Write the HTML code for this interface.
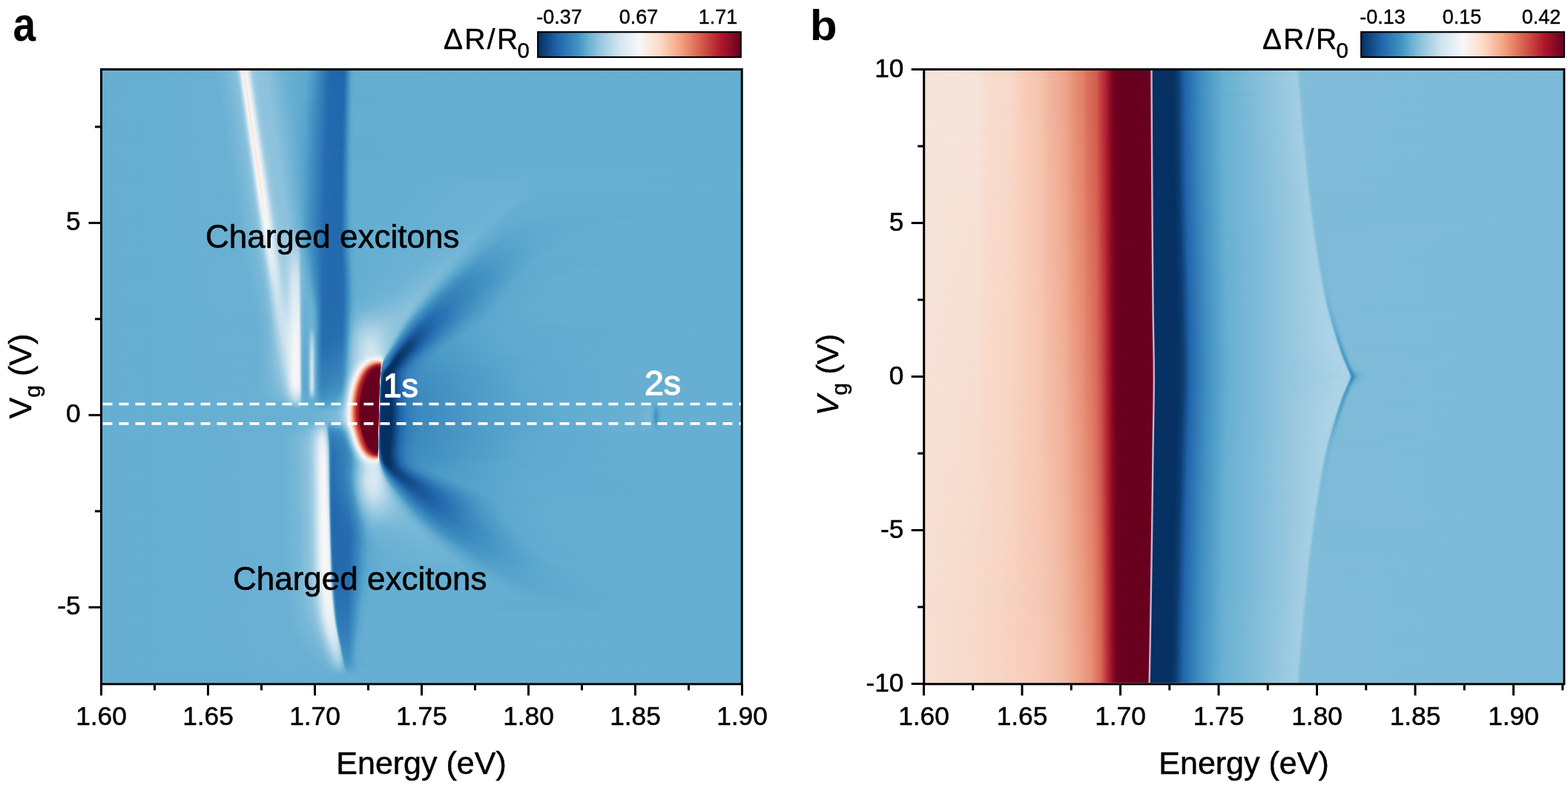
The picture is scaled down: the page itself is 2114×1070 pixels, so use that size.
<!DOCTYPE html>
<html><head><meta charset="utf-8"><title>Figure</title>
<style>
html,body{margin:0;padding:0;background:#fff;width:2114px;height:1070px;overflow:hidden}
.ov{position:absolute;left:0;top:0}
.hm{position:absolute;overflow:hidden}
.hm div{width:100%}
</style></head><body>
<div class="hm" style="left:138px;top:95px;width:861px;height:825px">
<div style="height:2px;background:linear-gradient(90deg,#66afd2 0px,#69b0d3 152.5px,#7ab9d7 171.5px,#87bfdb 179.5px,#9ac9e0 182.5px,#b8d8e9 184.5px,#cee3ef 185.5px,#f7f6f6 188.5px,#fbe5d8 190.5px,#f8f2ef 192.5px,#f7f7f6 193.5px,#d4e7f1 197.5px,#aed3e6 200.5px,#97c8e0 203.5px,#8ec3dd 207.5px,#8bc1dc 221.5px,#6cb2d4 243.5px,#5fa9cf 275.5px,#4b99c6 285.5px,#337eb8 296.5px,#2268ad 307.5px,#2166ac 325.5px,#2c74b3 328.5px,#4292c3 332.5px,#5aa5cd 335.5px,#64aed1 339.5px,#66afd2 861px)"></div>
<div style="height:2px;background:linear-gradient(90deg,#66afd2 0px,#69b0d3 153.5px,#7bb9d8 172.5px,#89c1dc 180.5px,#98c8e0 182.5px,#b3d6e7 184.5px,#d9e9f1 186.5px,#f4f6f7 188.5px,#f8f0ec 189.5px,#fbe7db 190.5px,#fae8dd 191.5px,#f8f1ec 192.5px,#f7f5f4 193.5px,#eaf1f5 195.5px,#cce2ee 198.5px,#a7cfe4 201.5px,#94c6df 204.5px,#8dc3dd 209.5px,#8bc1dc 221.5px,#6cb2d4 243.5px,#5fa9cf 275.5px,#4a99c6 285.5px,#2a71b2 301.5px,#2166ac 310.5px,#2166ac 325.5px,#2c75b4 328.5px,#4393c3 332.5px,#5aa5cd 335.5px,#64aed1 339.5px,#66afd2 861px)"></div>
<div style="height:2px;background:linear-gradient(90deg,#66afd2 0px,#69b0d3 153.5px,#7ab9d8 172.5px,#88c0db 180.5px,#95c7df 182.5px,#aed3e6 184.5px,#d5e7f1 186.5px,#f1f4f6 188.5px,#f8f3f0 189.5px,#fae9df 190.5px,#fbe6d9 191.5px,#f9efe9 192.5px,#f8f4f2 193.5px,#f5f6f7 194.5px,#d0e4f0 198.5px,#a9d1e5 201.5px,#95c7df 204.5px,#8dc3dd 209.5px,#8ac1dc 222.5px,#6bb2d3 244.5px,#5ea9cf 275.5px,#4a98c6 285.5px,#2b74b3 300.5px,#2166ac 309.5px,#2167ac 325.5px,#2d75b4 328.5px,#4393c3 332.5px,#5aa6cd 335.5px,#64aed1 339.5px,#66afd2 861px)"></div>
<div style="height:2px;background:linear-gradient(90deg,#66afd2 0px,#69b0d3 153.5px,#7ab9d7 172.5px,#87c0db 180.5px,#9ccae1 183.5px,#bbdaea 185.5px,#d1e5f0 186.5px,#edf2f5 188.5px,#f7f5f4 189.5px,#fbe5d8 191.5px,#f8f3f0 193.5px,#f6f7f7 194.5px,#d3e6f0 198.5px,#acd2e5 201.5px,#97c7df 204.5px,#8dc3dd 209.5px,#8ac1dc 222.5px,#6bb2d3 244.5px,#5ea9cf 275.5px,#4998c6 285.5px,#286fb1 302.5px,#2166ac 311.5px,#2267ac 325.5px,#2d76b4 328.5px,#4393c3 332.5px,#5aa6cd 335.5px,#64aed1 339.5px,#66afd2 861px)"></div>
<div style="height:2px;background:linear-gradient(90deg,#66afd2 0px,#69b0d3 153.5px,#7ab9d7 172.5px,#86bfdb 180.5px,#99c9e0 183.5px,#b6d7e8 185.5px,#dbeaf2 187.5px,#f6f7f7 189.5px,#fbe6d9 191.5px,#fae9df 192.5px,#f8f2ee 193.5px,#f7f6f5 194.5px,#e0ecf3 197.5px,#a5cfe4 202.5px,#94c6df 205.5px,#8dc3dd 210.5px,#8bc1dc 222.5px,#6cb2d4 244.5px,#5ea8ce 275.5px,#4998c5 285.5px,#246aae 305.5px,#2166ac 320.5px,#2267ac 325.5px,#2d76b4 328.5px,#4494c3 332.5px,#5ba6cd 335.5px,#64aed1 339.5px,#66afd2 861px)"></div>
<div style="height:2px;background:linear-gradient(90deg,#66afd2 0px,#69b0d3 154.5px,#7bb9d8 173.5px,#89c0db 181.5px,#96c7df 183.5px,#b0d4e7 185.5px,#d7e8f1 187.5px,#f3f5f6 189.5px,#f8f2ee 190.5px,#fae8dd 191.5px,#fbe7db 192.5px,#f9f0ea 193.5px,#f7f5f3 194.5px,#ecf2f5 196.5px,#cee3ef 199.5px,#a8d0e4 202.5px,#95c7df 205.5px,#8dc3dd 210.5px,#8bc2dc 222.5px,#6bb2d3 245.5px,#5fa9cf 274.5px,#4b99c6 284.5px,#347fb9 295.5px,#2368ad 306.5px,#2267ad 325.5px,#2d76b4 328.5px,#4494c4 332.5px,#5ba6cd 335.5px,#65aed1 339.5px,#66afd2 861px)"></div>
<div style="height:2px;background:linear-gradient(90deg,#66afd2 0px,#69b0d3 154.5px,#7ab9d8 173.5px,#88c0db 181.5px,#94c6df 183.5px,#acd2e5 185.5px,#d3e6f0 187.5px,#eff3f6 189.5px,#f8f4f2 190.5px,#faeae2 191.5px,#fbe5d8 192.5px,#f8f4f1 194.5px,#f6f6f7 195.5px,#d2e5f0 199.5px,#abd2e5 202.5px,#96c7df 205.5px,#8dc3dd 210.5px,#8ac1dc 223.5px,#6bb2d3 245.5px,#5ea9cf 274.5px,#4b99c6 284.5px,#2c75b4 299.5px,#2267ac 308.5px,#2267ad 325.5px,#2e77b5 328.5px,#4595c4 332.5px,#5ba6cd 335.5px,#65aed1 339.5px,#66afd2 861px)"></div>
<div style="height:2px;background:linear-gradient(90deg,#66afd2 0px,#69b0d3 154.5px,#7ab9d7 173.5px,#87bfdb 181.5px,#9ac9e0 184.5px,#b8d8e9 186.5px,#cee3ef 187.5px,#f7f6f6 190.5px,#fbe5d8 192.5px,#f8f2ef 194.5px,#f7f7f6 195.5px,#d4e7f1 199.5px,#aed3e6 202.5px,#97c8e0 205.5px,#8ec3dd 209.5px,#8bc1dc 223.5px,#6cb2d4 245.5px,#5ea9cf 274.5px,#4a99c6 284.5px,#2970b1 301.5px,#2166ac 310.5px,#2267ad 325.5px,#2e77b5 328.5px,#4595c4 332.5px,#5ba6cd 335.5px,#65aed1 339.5px,#66afd2 861px)"></div>
<div style="height:2px;background:linear-gradient(90deg,#66afd2 0px,#69b0d3 155.5px,#7bb9d8 174.5px,#89c1dc 182.5px,#98c8e0 184.5px,#b3d6e7 186.5px,#d9e9f2 188.5px,#f4f6f7 190.5px,#f8f0ec 191.5px,#fbe7db 192.5px,#fae8dd 193.5px,#f8f1ec 194.5px,#f7f5f4 195.5px,#eaf1f5 197.5px,#cce2ee 200.5px,#a7d0e4 203.5px,#95c6df 206.5px,#8dc3dd 211.5px,#8bc1dc 223.5px,#6bb1d3 246.5px,#5ea9cf 274.5px,#4998c6 284.5px,#2a72b2 300.5px,#2166ac 309.5px,#2267ad 325.5px,#2e78b5 328.5px,#4695c4 332.5px,#5ba7cd 335.5px,#65aed2 340.5px,#66afd2 861px)"></div>
<div style="height:2px;background:linear-gradient(90deg,#66afd2 0px,#69b0d3 155.5px,#7ab9d8 174.5px,#88c0db 182.5px,#95c7df 184.5px,#aed3e6 186.5px,#d5e7f1 188.5px,#f1f4f6 190.5px,#f8f3f0 191.5px,#fae9df 192.5px,#fbe6d9 193.5px,#f9efe8 194.5px,#f8f4f2 195.5px,#f5f6f7 196.5px,#d0e5f0 200.5px,#a9d1e5 203.5px,#96c7df 206.5px,#8dc3dd 211.5px,#8ac1dc 224.5px,#6bb2d3 246.5px,#5ea8ce 274.5px,#4998c6 284.5px,#246bae 304.5px,#2166ac 316.5px,#2268ad 325.5px,#2f78b5 328.5px,#4696c4 332.5px,#5ca7ce 335.5px,#65aed2 340.5px,#66afd2 861px)"></div>
<div style="height:2px;background:linear-gradient(90deg,#66afd2 0px,#69b0d3 155.5px,#7ab9d7 174.5px,#87c0db 182.5px,#9ccae1 185.5px,#bbdaea 187.5px,#d1e5f0 188.5px,#edf2f5 190.5px,#f7f5f4 191.5px,#fbe5d8 193.5px,#f8f3f0 195.5px,#f7f7f7 196.5px,#d3e6f0 200.5px,#acd2e6 203.5px,#97c7df 206.5px,#8dc3dd 211.5px,#8ac1dc 224.5px,#6bb2d3 246.5px,#5da8ce 274.5px,#4897c5 284.5px,#246aae 304.5px,#2166ac 316.5px,#2268ad 325.5px,#2f79b5 328.5px,#4796c5 332.5px,#5ca7ce 335.5px,#65aed2 340.5px,#66afd2 861px)"></div>
<div style="height:2px;background:linear-gradient(90deg,#66afd2 0px,#69b0d3 155.5px,#7ab9d7 174.5px,#86bfdb 182.5px,#99c9e0 185.5px,#b6d7e8 187.5px,#dbeaf2 189.5px,#f6f7f7 191.5px,#fbe6da 193.5px,#fae9df 194.5px,#f8f2ee 195.5px,#f7f6f5 196.5px,#e0ecf3 199.5px,#a6cfe4 204.5px,#94c6df 207.5px,#8dc3dd 212.5px,#8bc1dc 224.5px,#6cb2d4 246.5px,#5da8ce 274.5px,#4897c5 284.5px,#246aae 304.5px,#2166ac 317.5px,#2268ad 325.5px,#3581ba 329.5px,#57a3cc 334.5px,#64add1 338.5px,#66afd2 861px)"></div>
<div style="height:2px;background:linear-gradient(90deg,#66afd2 0px,#69b0d3 156.5px,#7bb9d8 175.5px,#89c0db 183.5px,#96c7df 185.5px,#b1d5e7 187.5px,#d7e8f1 189.5px,#f3f5f6 191.5px,#f8f2ee 192.5px,#fae8dd 193.5px,#fae7db 194.5px,#f9f0ea 195.5px,#f7f5f3 196.5px,#ecf2f5 198.5px,#cee3ef 201.5px,#a8d0e4 204.5px,#95c7df 207.5px,#8dc3dd 212.5px,#8bc2dc 224.5px,#6bb2d3 247.5px,#5da8ce 274.5px,#4796c5 284.5px,#246aae 304.5px,#2166ac 317.5px,#2368ad 325.5px,#3581ba 329.5px,#57a3cc 334.5px,#64add1 338.5px,#66afd2 861px)"></div>
<div style="height:2px;background:linear-gradient(90deg,#66afd2 0px,#69b0d3 156.5px,#7ab9d8 175.5px,#88c0db 183.5px,#94c6df 185.5px,#acd2e5 187.5px,#d3e6f0 189.5px,#eff3f6 191.5px,#f8f4f2 192.5px,#faebe2 193.5px,#fbe5d9 194.5px,#f8f4f1 196.5px,#f6f6f7 197.5px,#d2e5f0 201.5px,#abd2e5 204.5px,#96c7df 207.5px,#8dc3dd 212.5px,#8ac1dc 225.5px,#6bb2d3 247.5px,#5da7ce 274.5px,#4796c5 284.5px,#246aae 304.5px,#2166ac 318.5px,#2368ad 325.5px,#3681ba 329.5px,#4897c5 332.5px,#5ca7ce 335.5px,#65aed2 340.5px,#66afd2 861px)"></div>
<div style="height:2px;background:linear-gradient(90deg,#66afd2 0px,#69b0d3 156.5px,#7ab9d7 175.5px,#87bfdb 183.5px,#9bc9e0 186.5px,#b9d9e9 188.5px,#cee3ef 189.5px,#f7f6f6 192.5px,#fbe5d9 194.5px,#f7f7f6 197.5px,#d5e7f1 201.5px,#aed3e6 204.5px,#98c8e0 207.5px,#8ec3dd 211.5px,#8bc1dc 225.5px,#6bb2d3 247.5px,#5ea8ce 273.5px,#4998c6 283.5px,#2971b2 300.5px,#2166ac 309.5px,#2369ad 325.5px,#3682ba 329.5px,#4998c5 332.5px,#5da7ce 335.5px,#65aed2 340.5px,#66afd2 861px)"></div>
<div style="height:2px;background:linear-gradient(90deg,#66afd2 0px,#69b0d3 157.5px,#7bb9d8 176.5px,#89c1dc 184.5px,#98c8e0 186.5px,#b3d6e7 188.5px,#d9e9f2 190.5px,#f4f6f7 192.5px,#f8f1ec 193.5px,#fae7db 194.5px,#fae8dd 195.5px,#f8f1ec 196.5px,#f7f5f4 197.5px,#eaf1f5 199.5px,#cce2ef 202.5px,#a7d0e4 205.5px,#95c6df 208.5px,#8dc3dd 213.5px,#8bc1dc 225.5px,#6bb1d3 248.5px,#5da8ce 273.5px,#4998c5 283.5px,#256baf 303.5px,#2166ac 314.5px,#2369ad 325.5px,#3682ba 329.5px,#4998c6 332.5px,#5da8ce 335.5px,#65aed2 340.5px,#66afd2 861px)"></div>
<div style="height:2px;background:linear-gradient(90deg,#66afd2 0px,#69b0d3 157.5px,#7ab9d8 176.5px,#88c0db 184.5px,#95c7df 186.5px,#aed3e6 188.5px,#d5e7f1 190.5px,#f1f4f6 192.5px,#f8f3f0 193.5px,#fae9df 194.5px,#fbe6da 195.5px,#f9eee8 196.5px,#f8f4f2 197.5px,#f5f6f7 198.5px,#d0e5f0 202.5px,#aad1e5 205.5px,#96c7df 208.5px,#8dc3dd 213.5px,#8ac1dc 226.5px,#6bb2d3 248.5px,#5da8ce 273.5px,#4897c5 283.5px,#246aae 304.5px,#2166ac 320.5px,#2369ad 325.5px,#3783bb 329.5px,#4998c6 332.5px,#5da8ce 335.5px,#65aed2 340.5px,#66afd2 861px)"></div>
<div style="height:2px;background:linear-gradient(90deg,#66afd2 0px,#69b0d3 157.5px,#7ab9d7 176.5px,#87c0db 184.5px,#9ccae1 187.5px,#bbdaea 189.5px,#d1e5f0 190.5px,#edf2f5 192.5px,#f7f5f4 193.5px,#fbe5d8 195.5px,#f8f3f0 197.5px,#f7f7f7 198.5px,#d3e6f0 202.5px,#add3e6 205.5px,#97c8df 208.5px,#8dc3dd 213.5px,#8bc1dc 226.5px,#6bb2d3 248.5px,#5da8ce 273.5px,#4897c5 283.5px,#246aae 304.5px,#2166ac 322.5px,#2369ae 325.5px,#4291c2 331.5px,#58a4cc 334.5px,#64add1 338.5px,#66afd2 861px)"></div>
<div style="height:2px;background:linear-gradient(90deg,#66afd2 0px,#69b0d3 157.5px,#7ab9d7 176.5px,#86bfdb 184.5px,#99c9e0 187.5px,#b6d7e8 189.5px,#dbeaf2 191.5px,#f6f7f7 193.5px,#fbe6da 195.5px,#fae9df 196.5px,#f8f1ed 197.5px,#f7f6f5 198.5px,#e0ecf3 201.5px,#a6cfe4 206.5px,#94c6df 209.5px,#8dc3dd 214.5px,#8bc1dc 226.5px,#6cb2d4 248.5px,#5da7ce 273.5px,#4797c5 283.5px,#246aae 304.5px,#2166ac 323.5px,#276eb0 326.5px,#4291c2 331.5px,#59a4cc 334.5px,#64add1 338.5px,#66afd2 861px)"></div>
<div style="height:2px;background:linear-gradient(90deg,#66afd2 0px,#69b0d3 158.5px,#7bb9d8 177.5px,#89c0dc 185.5px,#97c7df 187.5px,#b1d5e7 189.5px,#d7e8f1 191.5px,#f3f5f6 193.5px,#f8f2ee 194.5px,#fae8dd 195.5px,#fae7db 196.5px,#f9f0ea 197.5px,#f7f5f3 198.5px,#ecf2f5 200.5px,#cfe4ef 203.5px,#a9d0e4 206.5px,#95c7df 209.5px,#8dc3dd 214.5px,#8bc2dc 226.5px,#6bb1d3 249.5px,#5ca7ce 273.5px,#4796c5 283.5px,#246aae 304.5px,#2166ac 323.5px,#276eb0 326.5px,#4292c2 331.5px,#59a4cc 334.5px,#64add1 338.5px,#66afd2 861px)"></div>
<div style="height:2px;background:linear-gradient(90deg,#66afd2 0px,#69b0d3 158.5px,#7ab9d8 177.5px,#88c0db 185.5px,#9ecbe1 188.5px,#bedceb 190.5px,#d3e6f0 191.5px,#eff3f6 193.5px,#f8f4f2 194.5px,#faebe2 195.5px,#fbe5d9 196.5px,#f8f4f1 198.5px,#f6f6f7 199.5px,#d2e6f0 203.5px,#abd2e5 206.5px,#96c7df 209.5px,#8dc3dd 214.5px,#8ac1dc 227.5px,#6bb2d3 249.5px,#5ca7ce 273.5px,#4696c4 283.5px,#246aae 304.5px,#2166ac 323.5px,#286fb0 326.5px,#4292c2 331.5px,#59a5cc 334.5px,#64add1 338.5px,#66afd2 861px)"></div>
<div style="height:2px;background:linear-gradient(90deg,#66afd2 0px,#69b0d3 158.5px,#7ab9d7 177.5px,#87bfdb 185.5px,#9bc9e1 188.5px,#b9d9e9 190.5px,#cee3ef 191.5px,#f7f6f6 194.5px,#fbe5d9 196.5px,#f7f7f6 199.5px,#d5e7f1 203.5px,#afd3e6 206.5px,#98c8e0 209.5px,#8ec3dd 213.5px,#8bc1dc 227.5px,#6bb2d3 249.5px,#5ca7ce 273.5px,#4695c4 283.5px,#2469ae 304.5px,#2267ad 324.5px,#2d75b4 327.5px,#4292c3 331.5px,#59a5cd 334.5px,#64add1 338.5px,#66afd2 861px)"></div>
<div style="height:2px;background:linear-gradient(90deg,#66afd2 0px,#69b0d3 159.5px,#7bb9d8 178.5px,#86bfdb 185.5px,#98c8e0 188.5px,#b3d6e8 190.5px,#d9e9f2 192.5px,#f4f6f7 194.5px,#f8f1ec 195.5px,#fae7dc 196.5px,#fae8dd 197.5px,#f8f1ec 198.5px,#f7f5f4 199.5px,#ebf1f5 201.5px,#cde3ef 204.5px,#a7d0e4 207.5px,#95c6df 210.5px,#8dc3dd 215.5px,#8bc1dc 227.5px,#6bb1d3 250.5px,#5ca7ce 273.5px,#3d8abf 288.5px,#2469ae 304.5px,#2267ad 324.5px,#2d76b4 327.5px,#4393c3 331.5px,#59a5cd 334.5px,#64aed1 338.5px,#66afd2 861px)"></div>
<div style="height:2px;background:linear-gradient(90deg,#66afd2 0px,#69b0d3 159.5px,#7ab9d8 178.5px,#88c0db 186.5px,#95c7df 188.5px,#afd4e6 190.5px,#d5e7f1 192.5px,#f1f4f6 194.5px,#f8f3f1 195.5px,#fae9e0 196.5px,#fbe6da 197.5px,#f8f4f2 199.5px,#f5f6f7 200.5px,#d1e5f0 204.5px,#aad1e5 207.5px,#96c7df 210.5px,#8dc3dd 215.5px,#8ac1dc 228.5px,#6bb2d3 250.5px,#5ba6cd 273.5px,#3b88bd 289.5px,#2469ae 304.5px,#2267ad 324.5px,#2d76b4 327.5px,#4393c3 331.5px,#5aa5cd 334.5px,#64aed1 338.5px,#66afd2 861px)"></div>
<div style="height:2px;background:linear-gradient(90deg,#66afd2 0px,#69b0d3 159.5px,#7ab9d7 178.5px,#87c0db 186.5px,#9dcae1 189.5px,#bcdaea 191.5px,#d1e5f0 192.5px,#edf2f5 194.5px,#f7f6f5 195.5px,#fbe5d9 197.5px,#f8f3f0 199.5px,#f7f7f7 200.5px,#d4e6f1 204.5px,#add3e6 207.5px,#97c8e0 210.5px,#8dc3dd 215.5px,#8bc1dc 228.5px,#6bb2d3 250.5px,#5ba6cd 273.5px,#3a88bd 289.5px,#2369ae 304.5px,#2267ad 324.5px,#2d76b4 327.5px,#4393c3 331.5px,#5aa5cd 334.5px,#64aed1 338.5px,#66afd2 861px)"></div>
<div style="height:2px;background:linear-gradient(90deg,#66afd2 0px,#69b0d3 159.5px,#7ab9d7 178.5px,#86bfdb 186.5px,#99c9e0 189.5px,#b6d7e8 191.5px,#dbeaf2 193.5px,#f6f6f7 195.5px,#fbe6da 197.5px,#fae9df 198.5px,#f8f1ed 199.5px,#f7f6f5 200.5px,#e0ecf3 203.5px,#a6cfe4 208.5px,#94c6df 211.5px,#8dc3dd 216.5px,#8bc1dc 228.5px,#6bb1d3 251.5px,#5ba6cd 273.5px,#3885bc 290.5px,#2369ae 304.5px,#2268ad 324.5px,#2e77b5 327.5px,#4393c3 331.5px,#5aa5cd 334.5px,#64aed1 338.5px,#66afd2 861px)"></div>
<div style="height:2px;background:linear-gradient(90deg,#66afd2 0px,#69b0d3 160.5px,#7bb9d8 179.5px,#89c1dc 187.5px,#97c7df 189.5px,#b1d5e7 191.5px,#d7e8f1 193.5px,#f3f5f6 195.5px,#f8f2ef 196.5px,#fae8de 197.5px,#fae7db 198.5px,#f9efea 199.5px,#f8f5f3 200.5px,#ecf2f5 202.5px,#cfe4ef 205.5px,#a9d1e5 208.5px,#96c7df 211.5px,#8dc3dd 216.5px,#8ac1dc 229.5px,#6bb1d3 251.5px,#5ba6cd 273.5px,#3a87bd 289.5px,#2369ae 304.5px,#2268ad 324.5px,#2e77b5 327.5px,#4494c3 331.5px,#5aa5cd 334.5px,#64aed1 338.5px,#66afd2 861px)"></div>
<div style="height:2px;background:linear-gradient(90deg,#66afd2 0px,#69b0d3 160.5px,#7ab9d8 179.5px,#88c0db 187.5px,#9ecbe2 190.5px,#bfdceb 192.5px,#d3e6f0 193.5px,#eff3f6 195.5px,#f8f4f3 196.5px,#faebe3 197.5px,#fbe5d9 198.5px,#f8f3f1 200.5px,#f6f7f7 201.5px,#d3e6f0 205.5px,#acd2e5 208.5px,#97c7df 211.5px,#8dc3dd 216.5px,#8ac1dc 229.5px,#6bb2d3 251.5px,#5aa6cd 273.5px,#3c89be 288.5px,#246aae 303.5px,#2167ac 319.5px,#2268ad 324.5px,#2e77b5 327.5px,#4494c4 331.5px,#5aa6cd 334.5px,#64aed1 338.5px,#66afd2 861px)"></div>
<div style="height:2px;background:linear-gradient(90deg,#66afd2 0px,#69b0d3 160.5px,#7ab9d7 179.5px,#87bfdb 187.5px,#9bcae1 190.5px,#b9d9e9 192.5px,#cee4ef 193.5px,#f7f6f6 196.5px,#fbe6d9 198.5px,#faeae1 199.5px,#f8f2ef 200.5px,#f7f6f6 201.5px,#d5e7f1 205.5px,#a5cfe4 209.5px,#94c6df 212.5px,#8dc3dd 217.5px,#8bc1dc 229.5px,#6ab1d3 252.5px,#5aa6cd 273.5px,#3d8bbf 287.5px,#246aae 303.5px,#2167ac 320.5px,#2368ad 324.5px,#2e78b5 327.5px,#4594c4 331.5px,#5aa6cd 334.5px,#64aed1 338.5px,#66afd2 861px)"></div>
<div style="height:2px;background:linear-gradient(90deg,#66afd2 0px,#69b0d3 161.5px,#7bb9d8 180.5px,#86bfdb 187.5px,#98c8e0 190.5px,#b4d6e8 192.5px,#d9e9f2 194.5px,#f4f6f6 196.5px,#f8f1ed 197.5px,#fae7dc 198.5px,#fae8dd 199.5px,#f8f0ec 200.5px,#f7f5f4 201.5px,#ebf1f5 203.5px,#cde3ef 206.5px,#a8d0e4 209.5px,#95c7df 212.5px,#8dc3dd 217.5px,#8bc2dc 229.5px,#6bb1d3 252.5px,#5aa5cd 273.5px,#3d8bbf 287.5px,#246aae 303.5px,#2167ac 321.5px,#2368ad 324.5px,#3480b9 328.5px,#4595c4 331.5px,#5ba6cd 334.5px,#64aed1 338.5px,#66afd2 861px)"></div>
<div style="height:2px;background:linear-gradient(90deg,#66afd2 0px,#69b0d3 161.5px,#7ab9d8 180.5px,#88c0db 188.5px,#96c7df 190.5px,#afd4e6 192.5px,#d5e7f1 194.5px,#f1f4f6 196.5px,#f8f3f1 197.5px,#faeae0 198.5px,#fbe6da 199.5px,#f8f4f2 201.5px,#f5f6f7 202.5px,#d1e5f0 206.5px,#abd2e5 209.5px,#96c7df 212.5px,#8dc3dd 217.5px,#8ac1dc 230.5px,#6bb1d3 252.5px,#5aa5cd 273.5px,#3d8bbf 287.5px,#246aae 303.5px,#2167ac 322.5px,#266caf 325.5px,#4595c4 331.5px,#5ba6cd 334.5px,#64aed1 338.5px,#66afd2 861px)"></div>
<div style="height:2px;background:linear-gradient(90deg,#66afd2 0px,#69b0d3 161.5px,#7ab9d7 180.5px,#87c0db 188.5px,#9dcbe1 191.5px,#bcdaea 193.5px,#d1e5f0 194.5px,#edf2f5 196.5px,#f7f6f5 197.5px,#fbe6d9 199.5px,#f8f3f0 201.5px,#f7f7f7 202.5px,#d4e7f1 206.5px,#aed3e6 209.5px,#98c8e0 212.5px,#8ec3dd 217.5px,#8bc1dc 230.5px,#6ab1d3 253.5px,#5aa5cd 273.5px,#3c8abf 287.5px,#246aae 303.5px,#2267ac 323.5px,#2a72b2 326.5px,#4695c4 331.5px,#5ba6cd 334.5px,#65aed2 339.5px,#66afd2 861px)"></div>
<div style="height:2px;background:linear-gradient(90deg,#66afd2 0px,#69b0d3 161.5px,#7ab9d7 180.5px,#86bfdb 188.5px,#9ac9e0 191.5px,#b7d8e8 193.5px,#dbeaf2 195.5px,#f6f6f7 197.5px,#fbe7db 199.5px,#fae9df 200.5px,#f8f1ed 201.5px,#f7f6f5 202.5px,#e1ecf3 205.5px,#bedbea 208.5px,#9fcce2 211.5px,#92c5de 214.5px,#8ec3dd 221.5px,#88c0db 232.5px,#6ab1d3 253.5px,#59a5cd 273.5px,#3b88bd 288.5px,#246aae 303.5px,#2267ac 323.5px,#2a72b2 326.5px,#4695c4 331.5px,#5ba6cd 334.5px,#65aed2 339.5px,#66afd2 861px)"></div>
<div style="height:2px;background:linear-gradient(90deg,#66afd2 0px,#69b0d3 162.5px,#7bb9d8 181.5px,#89c1dc 189.5px,#97c8df 191.5px,#b2d5e7 193.5px,#d7e8f1 195.5px,#f3f5f6 197.5px,#f8f2ef 198.5px,#fae9de 199.5px,#fae7db 200.5px,#f9efea 201.5px,#f8f5f3 202.5px,#f4f6f7 203.5px,#d0e5f0 207.5px,#aad1e5 210.5px,#96c7df 213.5px,#8dc3dd 218.5px,#8ac1dc 231.5px,#6bb1d3 253.5px,#59a5cc 273.5px,#3a88bd 288.5px,#246aae 303.5px,#2267ac 323.5px,#2b73b2 326.5px,#4696c4 331.5px,#5ba6cd 334.5px,#65aed2 339.5px,#66afd2 861px)"></div>
<div style="height:2px;background:linear-gradient(90deg,#66afd2 0px,#69b0d3 162.5px,#7ab9d8 181.5px,#88c0db 189.5px,#9fcbe2 192.5px,#bfdceb 194.5px,#d3e6f0 195.5px,#eff3f6 197.5px,#f8f5f3 198.5px,#f9ece3 199.5px,#fbe6d9 200.5px,#f8f3f1 202.5px,#f6f7f7 203.5px,#d3e6f0 207.5px,#add3e6 210.5px,#97c8df 213.5px,#8ec3dd 218.5px,#8ac1dc 231.5px,#6ab1d3 254.5px,#59a4cc 273.5px,#3c8abe 287.5px,#246aae 303.5px,#2267ac 323.5px,#2b73b3 326.5px,#4796c5 331.5px,#5ba6cd 334.5px,#65aed2 339.5px,#66afd2 861px)"></div>
<div style="height:2px;background:linear-gradient(90deg,#66afd2 0px,#69b0d3 162.5px,#7ab9d7 181.5px,#87bfdb 189.5px,#9bcae1 192.5px,#bad9e9 194.5px,#cee4ef 195.5px,#f7f7f6 198.5px,#fbe6da 200.5px,#faeae1 201.5px,#f8f2ee 202.5px,#f7f6f6 203.5px,#d6e7f1 207.5px,#a6cfe4 211.5px,#94c6df 214.5px,#8dc3dd 219.5px,#8bc1dc 231.5px,#6ab1d3 254.5px,#59a4cc 273.5px,#3d8bbf 286.5px,#246aae 303.5px,#2267ac 323.5px,#2b73b3 326.5px,#4796c5 331.5px,#5ba7cd 334.5px,#65aed2 339.5px,#66afd2 861px)"></div>
<div style="height:2px;background:linear-gradient(90deg,#66afd2 0px,#69b0d3 163.5px,#7bb9d8 182.5px,#86bfdb 189.5px,#99c8e0 192.5px,#b4d6e8 194.5px,#d9e9f2 196.5px,#f4f6f6 198.5px,#f8f1ed 199.5px,#fae8dd 200.5px,#fae8dd 201.5px,#f8f0eb 202.5px,#f7f5f4 203.5px,#ebf2f5 205.5px,#cee4ef 208.5px,#a9d1e5 211.5px,#96c7df 214.5px,#8dc3dd 219.5px,#8bc2dc 231.5px,#69b1d3 255.5px,#58a4cc 273.5px,#3d8bbf 286.5px,#246aae 303.5px,#2267ad 323.5px,#2b73b3 326.5px,#4797c5 331.5px,#5ca7ce 334.5px,#65aed2 339.5px,#66afd2 861px)"></div>
<div style="height:2px;background:linear-gradient(90deg,#66afd2 0px,#69b0d3 163.5px,#7ab9d8 182.5px,#89c0db 190.5px,#96c7df 192.5px,#afd4e6 194.5px,#d5e7f1 196.5px,#f1f4f6 198.5px,#f8f4f1 199.5px,#faeae1 200.5px,#fbe6da 201.5px,#f8f4f2 203.5px,#f5f6f7 204.5px,#d2e6f0 208.5px,#acd2e5 211.5px,#97c7df 214.5px,#8ec3dd 219.5px,#8ac1dc 232.5px,#6ab1d3 255.5px,#58a4cc 273.5px,#3d8bbf 286.5px,#246aae 303.5px,#2267ad 323.5px,#2b74b3 326.5px,#4897c5 331.5px,#5ca7ce 334.5px,#65aed2 339.5px,#66afd2 861px)"></div>
<div style="height:2px;background:linear-gradient(90deg,#66afd2 0px,#69b0d3 163.5px,#7ab9d7 182.5px,#87c0db 190.5px,#9dcbe1 193.5px,#bcdbea 195.5px,#d1e5f0 196.5px,#edf2f5 198.5px,#f7f6f5 199.5px,#fbe6da 201.5px,#f8f3ef 203.5px,#f7f7f7 204.5px,#d5e7f1 208.5px,#a5cfe3 212.5px,#94c6df 215.5px,#8dc3dd 220.5px,#8bc1dc 232.5px,#6ab1d3 255.5px,#58a4cc 273.5px,#3d8bbf 286.5px,#2469ae 303.5px,#2267ad 323.5px,#2c74b3 326.5px,#4897c5 331.5px,#5ca7ce 334.5px,#65aed2 339.5px,#66afd2 861px)"></div>
<div style="height:2px;background:linear-gradient(90deg,#66afd2 0px,#69b0d3 164.5px,#7bb9d8 183.5px,#86bfdb 190.5px,#9ac9e0 193.5px,#b7d8e9 195.5px,#dceaf2 197.5px,#f6f6f7 199.5px,#fae7db 201.5px,#fae9df 202.5px,#f8f1ed 203.5px,#f7f6f4 204.5px,#eaf1f5 206.5px,#cde3ef 209.5px,#a8d0e4 212.5px,#95c7df 215.5px,#8dc3dd 220.5px,#8bc1dc 232.5px,#69b1d3 256.5px,#56a2cb 274.5px,#3e8dc0 285.5px,#246bae 302.5px,#2267ac 317.5px,#246aae 324.5px,#4897c5 331.5px,#5ca7ce 334.5px,#65aed2 339.5px,#66afd2 861px)"></div>
<div style="height:2px;background:linear-gradient(90deg,#66afd2 0px,#69b0d3 164.5px,#7bb9d8 183.5px,#89c1dc 191.5px,#97c8e0 193.5px,#b2d5e7 195.5px,#d8e8f1 197.5px,#f2f5f6 199.5px,#f8f3ef 200.5px,#fae9df 201.5px,#fae7db 202.5px,#f9efe9 203.5px,#f5f6f7 205.5px,#d1e5f0 209.5px,#abd2e5 212.5px,#96c7df 215.5px,#8ec3dd 220.5px,#8ac1dc 233.5px,#69b1d3 256.5px,#56a2cb 274.5px,#3c8abf 286.5px,#246bae 302.5px,#2267ac 318.5px,#246aae 324.5px,#4998c5 331.5px,#5ca7ce 334.5px,#65aed2 339.5px,#66afd2 861px)"></div>
<div style="height:2px;background:linear-gradient(90deg,#66afd2 0px,#69b0d3 164.5px,#7ab9d7 183.5px,#88c0db 191.5px,#9fcce2 194.5px,#bfdceb 196.5px,#d4e6f0 197.5px,#eff3f6 199.5px,#f7f5f3 200.5px,#fbe6da 202.5px,#f8f3f0 204.5px,#f7f7f7 205.5px,#d4e6f1 209.5px,#aed3e6 212.5px,#98c8e0 215.5px,#8ec3dd 220.5px,#8ac1dc 233.5px,#69b1d3 256.5px,#56a2cb 274.5px,#3c8abe 286.5px,#246aae 302.5px,#2267ac 319.5px,#246aae 324.5px,#4998c6 331.5px,#5ca7ce 334.5px,#65aed2 339.5px,#66afd2 861px)"></div>
<div style="height:2px;background:linear-gradient(90deg,#66afd2 0px,#69b0d3 164.5px,#7ab9d7 183.5px,#87c0db 191.5px,#9ccae1 194.5px,#bad9e9 196.5px,#cfe4ef 197.5px,#f7f7f6 200.5px,#fbe6db 202.5px,#faeae1 203.5px,#f8f2ee 204.5px,#f7f6f5 205.5px,#e0ecf3 208.5px,#a7d0e4 213.5px,#95c6df 216.5px,#8dc3dd 221.5px,#8bc1dc 233.5px,#69b0d3 257.5px,#55a2cb 274.5px,#3c8abe 286.5px,#246aae 302.5px,#2267ac 320.5px,#246aae 324.5px,#4998c6 331.5px,#5ca7ce 334.5px,#65aed2 339.5px,#66afd2 861px)"></div>
<div style="height:2px;background:linear-gradient(90deg,#66afd2 0px,#69b0d3 165.5px,#7bb9d8 184.5px,#86bfdb 191.5px,#99c9e0 194.5px,#b5d7e8 196.5px,#dae9f2 198.5px,#f4f6f6 200.5px,#f8f1ee 201.5px,#fae8de 202.5px,#fae8dd 203.5px,#f8f0eb 204.5px,#f7f5f3 205.5px,#ecf2f5 207.5px,#d0e4f0 210.5px,#aad1e5 213.5px,#96c7df 216.5px,#8ec3dd 221.5px,#8ac1dc 234.5px,#69b0d3 257.5px,#55a2cb 274.5px,#3e8cbf 285.5px,#246aae 302.5px,#2267ac 321.5px,#246bae 324.5px,#4291c2 330.5px,#5ca7ce 334.5px,#65aed2 339.5px,#66afd2 861px)"></div>
<div style="height:2px;background:linear-gradient(90deg,#66afd2 0px,#69b0d3 165.5px,#7ab9d8 184.5px,#89c0db 192.5px,#96c7df 194.5px,#b0d4e7 196.5px,#d6e7f1 198.5px,#f1f4f6 200.5px,#f8f4f2 201.5px,#faebe2 202.5px,#fbe6da 203.5px,#f8f4f1 205.5px,#f6f6f7 206.5px,#d3e6f0 210.5px,#add3e6 213.5px,#97c8e0 216.5px,#8ec3dd 221.5px,#8ac1dc 234.5px,#68b0d3 258.5px,#55a1cb 274.5px,#3d8cbf 285.5px,#246aae 302.5px,#2267ac 322.5px,#2870b1 325.5px,#4a98c6 331.5px,#5ca7ce 334.5px,#65aed2 339.5px,#66afd2 861px)"></div>
<div style="height:2px;background:linear-gradient(90deg,#66afd2 0px,#69b0d3 165.5px,#7ab9d7 184.5px,#88c0db 192.5px,#9ecbe1 195.5px,#bddbea 197.5px,#d2e5f0 198.5px,#f7f6f5 201.5px,#fbe6da 203.5px,#f7f7f6 206.5px,#d6e7f1 210.5px,#a6cfe4 214.5px,#95c6df 217.5px,#8dc3dd 222.5px,#8bc1dc 234.5px,#68b0d3 258.5px,#55a1cb 274.5px,#3f8ec0 284.5px,#246aae 302.5px,#2267ac 322.5px,#2870b1 325.5px,#4292c2 330.5px,#58a4cc 333.5px,#64add1 337.5px,#66afd2 861px)"></div>
<div style="height:2px;background:linear-gradient(90deg,#66afd2 0px,#69b0d3 166.5px,#7bb9d8 185.5px,#87bfdb 192.5px,#9bc9e0 195.5px,#b8d8e9 197.5px,#dceaf2 199.5px,#f5f6f7 201.5px,#fae7dc 203.5px,#fae9df 204.5px,#f8f1ec 205.5px,#f7f5f4 206.5px,#ebf1f5 208.5px,#cee3ef 211.5px,#a9d1e5 214.5px,#96c7df 217.5px,#8ec3dd 222.5px,#8bc1dc 234.5px,#67b0d2 259.5px,#55a1cb 274.5px,#3f8dc0 284.5px,#246aae 302.5px,#2267ac 322.5px,#2970b1 325.5px,#4292c2 330.5px,#58a4cc 333.5px,#64add1 337.5px,#66afd2 861px)"></div>
<div style="height:2px;background:linear-gradient(90deg,#66afd2 0px,#69b0d3 166.5px,#7ab9d8 185.5px,#86bfdb 192.5px,#98c8e0 195.5px,#b3d6e7 197.5px,#d8e8f1 199.5px,#f2f5f6 201.5px,#f8f3f0 202.5px,#faeae0 203.5px,#fae7db 204.5px,#f8f4f2 206.5px,#f5f6f7 207.5px,#d2e5f0 211.5px,#acd2e5 214.5px,#97c7df 217.5px,#8ec3dd 222.5px,#8ac1dc 235.5px,#67b0d2 259.5px,#529fca 275.5px,#3f8dc0 284.5px,#246aae 302.5px,#2267ac 322.5px,#2970b1 325.5px,#4292c2 330.5px,#58a4cc 333.5px,#64add1 337.5px,#66afd2 861px)"></div>
<div style="height:2px;background:linear-gradient(90deg,#66afd2 0px,#69b0d3 166.5px,#7ab9d7 185.5px,#88c0db 193.5px,#a0cce2 196.5px,#c0dceb 198.5px,#d4e6f1 199.5px,#eff3f6 201.5px,#f7f5f4 202.5px,#fbe6da 204.5px,#f8f3f0 206.5px,#f7f7f7 207.5px,#d5e7f1 211.5px,#a5cfe4 215.5px,#94c6df 218.5px,#8dc3dd 223.5px,#8ac1dc 235.5px,#66afd2 260.5px,#529fc9 275.5px,#3e8dc0 284.5px,#246aae 302.5px,#2267ac 322.5px,#2971b1 325.5px,#4292c3 330.5px,#58a4cc 333.5px,#64add1 337.5px,#66afd2 861px)"></div>
<div style="height:2px;background:linear-gradient(90deg,#66afd2 0px,#69b0d3 166.5px,#7ab9d7 185.5px,#87c0db 193.5px,#9ccae1 196.5px,#badaea 198.5px,#cfe4ef 199.5px,#f7f7f7 202.5px,#fae7db 204.5px,#faeae1 205.5px,#f8f2ee 206.5px,#f7f6f5 207.5px,#e1edf3 210.5px,#cce3ef 212.5px,#a8d0e4 215.5px,#95c7df 218.5px,#8ec3dd 223.5px,#8bc1dc 235.5px,#67afd2 260.5px,#529fc9 275.5px,#3e8dc0 284.5px,#246aae 302.5px,#2267ad 322.5px,#2971b1 325.5px,#4292c3 330.5px,#58a4cc 333.5px,#64add1 337.5px,#66afd2 861px)"></div>
<div style="height:2px;background:linear-gradient(90deg,#66afd2 0px,#69b0d3 167.5px,#7bb9d8 186.5px,#86bfdb 193.5px,#99c9e0 196.5px,#b5d7e8 198.5px,#dae9f2 200.5px,#f4f5f6 202.5px,#f8f2ee 203.5px,#fae9df 204.5px,#fae8dd 205.5px,#f9f0eb 206.5px,#f4f6f6 208.5px,#d1e5f0 212.5px,#abd2e5 215.5px,#97c7df 218.5px,#8ec3dd 223.5px,#8ac1dc 236.5px,#66afd2 261.5px,#529fc9 275.5px,#3e8dc0 284.5px,#246aae 302.5px,#2267ad 322.5px,#2971b2 325.5px,#4393c3 330.5px,#59a4cc 333.5px,#64add1 337.5px,#66afd2 861px)"></div>
<div style="height:2px;background:linear-gradient(90deg,#66afd2 0px,#69b0d3 167.5px,#7ab9d8 186.5px,#89c1dc 194.5px,#97c7df 196.5px,#b0d4e7 198.5px,#d6e7f1 200.5px,#f0f4f6 202.5px,#f8f4f2 203.5px,#faebe3 204.5px,#fbe6db 205.5px,#f8f3f1 207.5px,#f6f7f7 208.5px,#d4e6f0 212.5px,#aed3e6 215.5px,#98c8e0 218.5px,#8ec3dd 223.5px,#8ac1dc 236.5px,#66afd2 261.5px,#519fc9 275.5px,#3e8cc0 284.5px,#246aae 302.5px,#2267ad 322.5px,#2971b2 325.5px,#4393c3 330.5px,#59a4cc 333.5px,#64add1 337.5px,#66afd2 861px)"></div>
<div style="height:2px;background:linear-gradient(90deg,#66afd2 0px,#69b0d3 167.5px,#7ab9d7 186.5px,#88c0db 194.5px,#9ecbe1 197.5px,#bddbea 199.5px,#d2e5f0 200.5px,#f7f6f6 203.5px,#fbe7db 205.5px,#f7f6f6 208.5px,#d6e8f1 212.5px,#a7d0e4 216.5px,#95c7df 219.5px,#8ec3dd 224.5px,#8bc1dc 236.5px,#65aed1 262.5px,#4f9dc8 276.5px,#3c8abf 285.5px,#246aae 302.5px,#2369ad 323.5px,#347fb9 327.5px,#4393c3 330.5px,#59a4cc 333.5px,#64add1 337.5px,#66afd2 861px)"></div>
<div style="height:2px;background:linear-gradient(90deg,#66afd2 0px,#69b0d3 168.5px,#7bb9d8 187.5px,#87bfdb 194.5px,#9bcae1 197.5px,#b8d8e9 199.5px,#dceaf2 201.5px,#f5f6f7 203.5px,#fae8dd 205.5px,#fae9de 206.5px,#f8f1ec 207.5px,#f7f5f4 208.5px,#ecf2f5 210.5px,#cfe4f0 213.5px,#aad1e5 216.5px,#96c7df 219.5px,#8ec3dd 224.5px,#8ac1dc 237.5px,#64add1 263.5px,#4f9cc8 276.5px,#3c8abe 285.5px,#246aae 302.5px,#2369ad 323.5px,#347fb9 327.5px,#4393c3 330.5px,#59a5cc 333.5px,#64add1 337.5px,#66afd2 861px)"></div>
<div style="height:2px;background:linear-gradient(90deg,#66afd2 0px,#69b0d3 168.5px,#7ab9d8 187.5px,#86bfdb 194.5px,#98c8e0 197.5px,#b3d6e7 199.5px,#d8e8f1 201.5px,#f2f5f6 203.5px,#f8f3f0 204.5px,#faeae1 205.5px,#fae7dc 206.5px,#f8f4f2 208.5px,#f5f6f7 209.5px,#d3e6f0 213.5px,#add3e6 216.5px,#98c8e0 219.5px,#8ec3dd 224.5px,#8ac1dc 237.5px,#63acd1 264.5px,#4c9ac7 277.5px,#3b88bd 286.5px,#246aae 302.5px,#2369ad 323.5px,#347fb9 327.5px,#4393c3 330.5px,#59a5cc 333.5px,#64add1 337.5px,#66afd2 861px)"></div>
<div style="height:2px;background:linear-gradient(90deg,#66afd2 0px,#69b0d3 168.5px,#7ab9d7 187.5px,#89c0db 195.5px,#a0cce2 198.5px,#c0ddeb 200.5px,#d4e6f1 201.5px,#eff3f5 203.5px,#f7f5f4 204.5px,#fbe6db 206.5px,#f7f7f7 209.5px,#d5e7f1 213.5px,#a6cfe4 217.5px,#95c6df 220.5px,#8ec3dd 225.5px,#8ac1dc 237.5px,#61abd0 265.5px,#4998c6 278.5px,#266caf 300.5px,#2267ad 312.5px,#2369ae 323.5px,#3480b9 327.5px,#4493c3 330.5px,#59a5cc 333.5px,#64add1 337.5px,#66afd2 861px)"></div>
<div style="height:2px;background:linear-gradient(90deg,#66afd2 0px,#69b0d3 168.5px,#7ab9d7 187.5px,#87c0db 195.5px,#9dcae1 198.5px,#bbdaea 200.5px,#cfe4f0 201.5px,#f6f7f7 204.5px,#fae7dc 206.5px,#faeae0 207.5px,#f8f1ed 208.5px,#f7f6f5 209.5px,#ebf1f5 211.5px,#cee3ef 214.5px,#a9d1e5 217.5px,#96c7df 220.5px,#8ec3dd 225.5px,#8bc1dc 237.5px,#59a4cc 271.5px,#3d8cbf 284.5px,#256bae 301.5px,#2267ad 319.5px,#2369ae 323.5px,#3480b9 327.5px,#4494c3 330.5px,#59a5cd 333.5px,#64add1 337.5px,#66afd2 861px)"></div>
<div style="height:2px;background:linear-gradient(90deg,#66afd2 0px,#69b0d3 169.5px,#7bb9d8 188.5px,#86bfdb 195.5px,#9ac9e0 198.5px,#b6d7e8 200.5px,#dae9f2 202.5px,#f4f5f6 204.5px,#f8f2ef 205.5px,#fae9e0 206.5px,#fae8dd 207.5px,#f9f0ea 208.5px,#f5f6f7 210.5px,#d2e5f0 214.5px,#acd2e5 217.5px,#97c8df 220.5px,#8ec3dd 225.5px,#8ac1dc 238.5px,#58a4cc 271.5px,#3f8dc0 283.5px,#246bae 301.5px,#2267ad 320.5px,#2469ae 323.5px,#3580b9 327.5px,#4494c3 330.5px,#59a5cd 333.5px,#64add1 337.5px,#66afd2 861px)"></div>
<div style="height:2px;background:linear-gradient(90deg,#66afd2 0px,#69b0d3 169.5px,#7ab9d8 188.5px,#85bfdb 195.5px,#97c8df 198.5px,#b1d5e7 200.5px,#d6e7f1 202.5px,#f0f4f6 204.5px,#f8f4f2 205.5px,#f9ece4 206.5px,#fae7db 207.5px,#f8f3f1 209.5px,#f7f7f7 210.5px,#d4e7f1 214.5px,#a6cfe4 218.5px,#95c6df 221.5px,#8ec3dd 226.5px,#8ac1dc 238.5px,#58a4cc 271.5px,#3f8dc0 283.5px,#246bae 301.5px,#2267ad 321.5px,#276db0 324.5px,#4494c4 330.5px,#59a5cd 333.5px,#64add1 337.5px,#66afd2 861px)"></div>
<div style="height:2px;background:linear-gradient(90deg,#66afd2 0px,#69b0d3 169.5px,#7ab9d7 188.5px,#88c0db 196.5px,#9fcbe2 199.5px,#bedbeb 201.5px,#d2e6f0 202.5px,#f7f6f6 205.5px,#fae7dc 207.5px,#faebe2 208.5px,#f8f2ee 209.5px,#f7f6f5 210.5px,#e1ecf3 213.5px,#bedceb 216.5px,#a0cce2 219.5px,#93c5de 222.5px,#8ec3dd 228.5px,#89c1dc 239.5px,#58a4cc 271.5px,#3f8dc0 283.5px,#246bae 301.5px,#2267ad 321.5px,#276eb0 324.5px,#4494c4 330.5px,#5aa5cd 333.5px,#64add1 337.5px,#66afd2 861px)"></div>
<div style="height:2px;background:linear-gradient(90deg,#66afd2 0px,#69b0d3 170.5px,#7bb9d8 189.5px,#87bfdb 196.5px,#9ccae1 199.5px,#b9d9e9 201.5px,#dceaf2 203.5px,#f5f6f7 205.5px,#f8f1ed 206.5px,#fae9de 207.5px,#fae9de 208.5px,#f8f0ec 209.5px,#f4f6f6 211.5px,#d1e5f0 215.5px,#abd2e5 218.5px,#97c7df 221.5px,#8ec3dd 226.5px,#8ac1dc 239.5px,#5aa5cd 270.5px,#3e8dc0 283.5px,#246aae 301.5px,#2268ad 322.5px,#2b73b3 325.5px,#4594c4 330.5px,#5aa5cd 333.5px,#65aed1 338.5px,#66afd2 861px)"></div>
<div style="height:2px;background:linear-gradient(90deg,#66afd2 0px,#69b0d3 170.5px,#7ab9d8 189.5px,#86bfdb 196.5px,#99c8e0 199.5px,#b4d6e8 201.5px,#d8e8f1 203.5px,#f2f5f6 205.5px,#f8f3f1 206.5px,#faebe2 207.5px,#fae7dc 208.5px,#f8f4f1 210.5px,#f6f6f7 211.5px,#d4e6f0 215.5px,#aed3e6 218.5px,#98c8e0 221.5px,#8ec3dd 226.5px,#8ac1dc 239.5px,#5aa5cd 270.5px,#3e8dc0 283.5px,#246aae 301.5px,#2268ad 322.5px,#2b73b3 325.5px,#4595c4 330.5px,#5aa5cd 333.5px,#65aed1 338.5px,#66afd2 861px)"></div>
<div style="height:2px;background:linear-gradient(90deg,#66afd2 0px,#69b0d3 170.5px,#7ab9d7 189.5px,#89c0db 197.5px,#a1cce2 200.5px,#c1ddeb 202.5px,#d4e6f1 203.5px,#eff3f5 205.5px,#f7f5f4 206.5px,#fae7db 208.5px,#f7f7f6 211.5px,#d6e8f1 215.5px,#a7d0e4 219.5px,#95c7df 222.5px,#8ec3dd 227.5px,#8bc1dc 239.5px,#5aa5cd 270.5px,#3e8dc0 283.5px,#246aae 301.5px,#2268ad 322.5px,#2b74b3 325.5px,#4595c4 330.5px,#5aa5cd 333.5px,#65aed1 338.5px,#66afd2 808.5px,#66afd2 861px)"></div>
<div style="height:2px;background:linear-gradient(90deg,#66afd2 0px,#69b0d3 170.5px,#78b8d7 188.5px,#88c0db 197.5px,#9dcbe1 200.5px,#bcdaea 202.5px,#d0e4f0 203.5px,#f6f7f7 206.5px,#fae8dd 208.5px,#faeae0 209.5px,#f8f1ed 210.5px,#f7f5f4 211.5px,#ebf1f5 213.5px,#cfe4f0 216.5px,#aad1e5 219.5px,#97c7df 222.5px,#8ec3dd 227.5px,#8ac1dc 240.5px,#5aa5cd 270.5px,#3e8dc0 283.5px,#246aae 301.5px,#2268ad 322.5px,#2b74b3 325.5px,#4595c4 330.5px,#5aa5cd 333.5px,#65aed1 338.5px,#66afd2 701.5px,#66afd2 861px)"></div>
<div style="height:2px;background:linear-gradient(90deg,#66afd2 0px,#69b0d3 171.5px,#7bb9d8 190.5px,#87bfdb 197.5px,#9ac9e0 200.5px,#b6d7e8 202.5px,#dae9f2 204.5px,#f3f5f6 206.5px,#f8f2ef 207.5px,#faeae1 208.5px,#fae8dd 209.5px,#f8f4f2 211.5px,#f5f6f7 212.5px,#d3e6f0 216.5px,#add3e6 219.5px,#98c8e0 222.5px,#8ec3dd 227.5px,#8ac1dc 240.5px,#5aa5cd 270.5px,#3e8cc0 283.5px,#246aae 301.5px,#2268ad 322.5px,#2c74b3 325.5px,#4695c4 330.5px,#5aa5cd 333.5px,#65aed1 338.5px,#66afd2 633.5px,#66afd2 861px)"></div>
<div style="height:2px;background:linear-gradient(90deg,#66afd2 0px,#69b0d3 171.5px,#7ab9d7 190.5px,#86bfdb 197.5px,#98c8e0 200.5px,#b2d5e7 202.5px,#d6e7f1 204.5px,#f0f4f6 206.5px,#f8f5f3 207.5px,#fae7dc 209.5px,#f8f3f0 211.5px,#f7f7f7 212.5px,#d5e7f1 216.5px,#a7d0e4 220.5px,#95c7df 223.5px,#8ec3dd 228.5px,#8ac1dc 240.5px,#5ba7cd 269.5px,#3c8abf 284.5px,#246aae 301.5px,#2268ad 322.5px,#2c74b3 325.5px,#4695c4 330.5px,#5aa5cd 333.5px,#65aed1 338.5px,#66afd2 607.5px,#66afd2 861px)"></div>
<div style="height:2px;background:linear-gradient(90deg,#66afd2 0px,#69b0d3 171.5px,#7ab9d7 190.5px,#88c0db 198.5px,#9fcce2 201.5px,#bfdceb 203.5px,#d2e6f0 204.5px,#f7f7f6 207.5px,#fae8dd 209.5px,#faebe2 210.5px,#f8f2ee 211.5px,#f7f6f5 212.5px,#e1edf3 215.5px,#cee3ef 217.5px,#a9d1e5 220.5px,#96c7df 223.5px,#8ec3dd 228.5px,#8bc1dc 240.5px,#5ba7cd 269.5px,#3e8cbf 283.5px,#246aae 301.5px,#2368ad 322.5px,#2c74b3 325.5px,#4695c4 330.5px,#5aa5cd 333.5px,#65aed1 338.5px,#67afd2 604.5px,#66afd2 861px)"></div>
<div style="height:2px;background:linear-gradient(90deg,#66afd2 0px,#69b0d3 172.5px,#7bb9d8 191.5px,#87c0db 198.5px,#9ccae1 201.5px,#b9d9e9 203.5px,#dceaf2 205.5px,#f5f6f7 207.5px,#f8f2ee 208.5px,#fae9df 209.5px,#fae9de 210.5px,#f8f0eb 211.5px,#f4f6f7 213.5px,#d2e5f0 217.5px,#acd2e6 220.5px,#98c8e0 223.5px,#8ec3dd 228.5px,#8ac1dc 241.5px,#5ba6cd 269.5px,#3e8cbf 283.5px,#246aae 301.5px,#2368ad 322.5px,#2c75b3 325.5px,#4696c4 330.5px,#5aa6cd 333.5px,#65aed1 338.5px,#67afd2 602.5px,#66afd2 861px)"></div>
<div style="height:2px;background:linear-gradient(90deg,#66afd2 0px,#69b0d3 172.5px,#7ab9d8 191.5px,#86bfdb 198.5px,#99c9e0 201.5px,#b4d6e8 203.5px,#d8e8f1 205.5px,#f2f4f6 207.5px,#f8f4f1 208.5px,#f9ece3 209.5px,#fae7dc 210.5px,#f8f4f1 212.5px,#f6f7f7 213.5px,#d5e7f1 217.5px,#a6cfe4 221.5px,#95c6df 224.5px,#8ec3dd 229.5px,#8ac1dc 241.5px,#5ba6cd 269.5px,#3e8cbf 283.5px,#246aae 301.5px,#2368ad 322.5px,#2c75b4 325.5px,#4696c4 330.5px,#5aa6cd 333.5px,#65aed1 338.5px,#67b0d2 600.5px,#66afd2 861px)"></div>
<div style="height:2px;background:linear-gradient(90deg,#66afd2 0px,#69b0d3 172.5px,#7ab9d7 191.5px,#85bfdb 198.5px,#97c7df 201.5px,#b0d4e6 203.5px,#d4e7f1 205.5px,#eef3f5 207.5px,#f7f6f5 208.5px,#fae7dc 210.5px,#f7f6f6 213.5px,#d7e8f1 217.5px,#a9d1e4 221.5px,#96c7df 224.5px,#8ec3dd 229.5px,#8ac1dc 241.5px,#5ba6cd 269.5px,#3f8ec0 282.5px,#256baf 300.5px,#2267ad 317.5px,#256baf 323.5px,#4696c4 330.5px,#5aa6cd 333.5px,#65aed1 338.5px,#67b0d2 598.5px,#66afd2 861px)"></div>
<div style="height:2px;background:linear-gradient(90deg,#66afd2 0px,#69b0d3 173.5px,#7bb9d8 192.5px,#88c0db 199.5px,#9ecbe1 202.5px,#bcdaea 204.5px,#d0e5f0 205.5px,#f6f7f7 208.5px,#fae9de 210.5px,#faeae0 211.5px,#f8f1ed 212.5px,#f4f5f6 214.5px,#d1e5f0 218.5px,#acd2e5 221.5px,#97c8e0 224.5px,#8ec3dd 229.5px,#8ac1dc 242.5px,#5ba6cd 269.5px,#3f8ec0 282.5px,#256baf 300.5px,#2267ad 318.5px,#256baf 323.5px,#4796c5 330.5px,#5aa6cd 333.5px,#65aed1 338.5px,#67b0d2 596.5px,#66afd2 861px)"></div>
<div style="height:2px;background:linear-gradient(90deg,#66afd2 0px,#69b0d3 173.5px,#7ab9d8 192.5px,#87bfdb 199.5px,#9bc9e1 202.5px,#b7d8e9 204.5px,#dae9f2 206.5px,#f3f5f6 208.5px,#f8f3f0 209.5px,#faebe2 210.5px,#fae8dd 211.5px,#f8f4f2 213.5px,#f6f6f7 214.5px,#d4e6f0 218.5px,#afd4e6 221.5px,#99c8e0 224.5px,#8ec3dd 229.5px,#8ac1dc 242.5px,#5ba6cd 269.5px,#3f8dc0 282.5px,#256baf 300.5px,#2267ad 319.5px,#256baf 323.5px,#4796c5 330.5px,#5aa6cd 333.5px,#65aed1 338.5px,#68b0d2 594.5px,#66afd2 861px)"></div>
<div style="height:2px;background:linear-gradient(90deg,#66afd2 0px,#69b0d3 173.5px,#7ab9d7 192.5px,#86bfdb 199.5px,#98c8e0 202.5px,#b2d5e7 204.5px,#d6e7f1 206.5px,#f0f4f6 208.5px,#f7f5f3 209.5px,#fae7dc 211.5px,#f7f7f6 214.5px,#d6e8f1 218.5px,#a8d0e4 222.5px,#96c7df 225.5px,#8ec3dd 230.5px,#8ac1dc 242.5px,#5ba6cd 269.5px,#3f8dc0 282.5px,#256baf 300.5px,#2268ad 319.5px,#256baf 323.5px,#4796c5 330.5px,#5aa6cd 333.5px,#65aed1 338.5px,#68b0d2 592.5px,#66afd2 861px)"></div>
<div style="height:2px;background:linear-gradient(90deg,#66afd2 0px,#69b0d3 173.5px,#7ab9d7 192.5px,#89c0db 200.5px,#a0cce2 203.5px,#bfdceb 205.5px,#d3e6f0 206.5px,#f7f7f6 209.5px,#fae8de 211.5px,#faebe2 212.5px,#f8f2ee 213.5px,#f3f5f6 215.5px,#d0e4f0 219.5px,#abd2e5 222.5px,#97c8df 225.5px,#8ec3dd 230.5px,#89c1dc 243.5px,#5ba6cd 269.5px,#3f8dc0 282.5px,#256baf 300.5px,#2268ad 321.5px,#2970b1 324.5px,#4796c5 330.5px,#5aa6cd 333.5px,#65aed1 338.5px,#6ab1d3 572.5px,#66afd2 634.5px,#66afd2 861px)"></div>
<div style="height:2px;background:linear-gradient(90deg,#66afd2 0px,#69b0d3 174.5px,#7bb9d8 193.5px,#87c0db 200.5px,#9dcae1 203.5px,#bad9e9 205.5px,#cde3ef 206.5px,#f4f6f7 209.5px,#f8f2ee 210.5px,#faeae1 211.5px,#fae9de 212.5px,#f8f4f3 214.5px,#f5f6f7 215.5px,#d3e6f0 219.5px,#aed3e6 222.5px,#98c8e0 225.5px,#8ec3dd 230.5px,#8ac1dc 243.5px,#5da8ce 268.5px,#3f8dc0 282.5px,#256bae 300.5px,#2268ad 321.5px,#2970b1 324.5px,#4796c5 330.5px,#5ba6cd 333.5px,#65aed1 338.5px,#6ab1d3 567.5px,#66afd2 642.5px,#66afd2 861px)"></div>
<div style="height:2px;background:linear-gradient(90deg,#66afd2 0px,#69b0d3 174.5px,#7ab9d8 193.5px,#86bfdb 200.5px,#9ac9e0 203.5px,#b5d7e8 205.5px,#d8e8f1 207.5px,#f1f4f6 209.5px,#f8f4f2 210.5px,#f9ece5 211.5px,#fae8dd 212.5px,#f8f3f1 214.5px,#f7f7f7 215.5px,#d6e7f1 219.5px,#a7d0e4 223.5px,#96c7df 226.5px,#8ec3dd 231.5px,#8ac1dc 243.5px,#5da8ce 268.5px,#3e8dc0 282.5px,#256bae 300.5px,#2268ad 321.5px,#2970b1 324.5px,#4797c5 330.5px,#5ba6cd 333.5px,#65aed1 338.5px,#6ab1d3 563.5px,#67afd2 589.5px,#66afd2 861px)"></div>
<div style="height:2px;background:linear-gradient(90deg,#66afd2 0px,#69b0d3 174.5px,#7ab9d7 193.5px,#85bfdb 200.5px,#97c8df 203.5px,#b0d4e7 205.5px,#d4e7f1 207.5px,#eef3f5 209.5px,#f7f6f5 210.5px,#fae8dd 212.5px,#f7f6f5 215.5px,#e1edf3 218.5px,#cee4ef 220.5px,#aad1e5 223.5px,#97c7df 226.5px,#8ec3dd 231.5px,#8ac1dc 243.5px,#5da8ce 268.5px,#3e8dc0 282.5px,#256bae 300.5px,#2268ad 321.5px,#2971b1 324.5px,#4897c5 330.5px,#5ba6cd 333.5px,#65aed1 338.5px,#6ab1d3 559.5px,#67b0d2 586.5px,#66afd2 861px)"></div>
<div style="height:2px;background:linear-gradient(90deg,#66afd2 0px,#69b0d3 175.5px,#7bb9d8 194.5px,#88c0db 201.5px,#9ecbe2 204.5px,#bddbea 206.5px,#d0e5f0 207.5px,#f6f6f7 210.5px,#fae9e0 212.5px,#faeae0 213.5px,#f7f5f3 215.5px,#edf2f5 217.5px,#d2e5f0 220.5px,#add3e6 223.5px,#98c8e0 226.5px,#8ec3dd 231.5px,#8ac1dc 244.5px,#5da8ce 268.5px,#3e8dc0 282.5px,#256bae 300.5px,#2268ad 321.5px,#2971b1 324.5px,#4897c5 330.5px,#5ba6cd 333.5px,#65aed1 338.5px,#6ab1d3 556.5px,#67b0d2 584.5px,#66afd2 861px)"></div>
<div style="height:2px;background:linear-gradient(90deg,#66afd2 0px,#69b0d3 175.5px,#7ab9d8 194.5px,#87bfdb 201.5px,#9bcae1 204.5px,#b8d8e9 206.5px,#dae9f2 208.5px,#f3f5f6 210.5px,#f8f3f0 211.5px,#f9ebe3 212.5px,#fae8de 213.5px,#f8f4f1 215.5px,#f6f7f7 216.5px,#d5e7f1 220.5px,#a7cfe4 224.5px,#95c7df 227.5px,#8ec3dd 232.5px,#8ac1dc 244.5px,#5ea8ce 268.5px,#3e8dc0 282.5px,#256bae 300.5px,#2268ad 321.5px,#2971b2 324.5px,#4897c5 330.5px,#5ba6cd 333.5px,#65aed1 338.5px,#6ab1d3 552.5px,#68b0d3 581.5px,#66afd2 861px)"></div>
<div style="height:2px;background:linear-gradient(90deg,#66afd2 0px,#69b0d3 175.5px,#7ab9d7 194.5px,#86bfdb 201.5px,#99c8e0 204.5px,#b3d6e7 206.5px,#d6e8f1 208.5px,#f0f4f6 210.5px,#f7f5f4 211.5px,#fae8dd 213.5px,#f7f6f6 216.5px,#d7e8f1 220.5px,#a9d1e5 224.5px,#96c7df 227.5px,#8ec3dd 232.5px,#8ac1dc 244.5px,#5ea8ce 268.5px,#3e8dc0 282.5px,#256bae 300.5px,#2268ad 321.5px,#2971b2 324.5px,#4897c5 330.5px,#5ba6cd 333.5px,#65aed1 338.5px,#6ab1d3 549.5px,#68b0d3 578.5px,#66afd2 861px)"></div>
<div style="height:2px;background:linear-gradient(90deg,#66afd2 0px,#69b0d3 175.5px,#78b8d7 193.5px,#85bfda 201.5px,#96c7df 204.5px,#aed3e6 206.5px,#d3e6f0 208.5px,#f7f7f7 211.5px,#fae9df 213.5px,#faebe2 214.5px,#f7f5f4 216.5px,#ecf2f5 218.5px,#d1e5f0 221.5px,#acd2e5 224.5px,#98c8e0 227.5px,#8ec3dd 232.5px,#89c1dc 245.5px,#5ea8ce 268.5px,#3e8cc0 282.5px,#246bae 300.5px,#2268ad 321.5px,#2971b2 324.5px,#4897c5 330.5px,#5ba6cd 333.5px,#65aed1 338.5px,#6ab1d3 546.5px,#68b0d3 576.5px,#66afd2 861px)"></div>
<div style="height:2px;background:linear-gradient(90deg,#66afd2 0px,#69b0d3 176.5px,#7bb9d8 195.5px,#88c0db 202.5px,#9dcbe1 205.5px,#bad9ea 207.5px,#cee3ef 208.5px,#f4f6f6 211.5px,#f8f3f0 212.5px,#faebe2 213.5px,#fae9df 214.5px,#f8f4f3 216.5px,#f5f6f7 217.5px,#d4e6f0 221.5px,#afd4e6 224.5px,#99c9e0 227.5px,#8ec3dd 232.5px,#8ac1dc 245.5px,#5ea8ce 268.5px,#3f8ec1 281.5px,#246bae 300.5px,#2268ad 321.5px,#2a71b2 324.5px,#4897c5 330.5px,#5ba6cd 333.5px,#65aed1 338.5px,#6ab1d3 543.5px,#69b0d3 573.5px,#66afd2 607.5px,#66afd2 861px)"></div>
<div style="height:2px;background:linear-gradient(90deg,#66afd2 0px,#69b0d3 176.5px,#7ab9d7 195.5px,#87bfdb 202.5px,#9ac9e0 205.5px,#b5d7e8 207.5px,#d8e8f1 209.5px,#f1f4f6 211.5px,#f7f5f3 212.5px,#fae9de 214.5px,#f7f7f7 217.5px,#d6e8f1 221.5px,#a8d0e4 225.5px,#96c7df 228.5px,#8ec3dd 233.5px,#8ac1dc 245.5px,#5ea9cf 268.5px,#3f8ec1 281.5px,#256caf 299.5px,#2268ad 315.5px,#2469ae 322.5px,#337eb8 326.5px,#4897c5 330.5px,#5ba6cd 333.5px,#65aed1 338.5px,#6ab1d3 539.5px,#69b1d3 570.5px,#66afd2 593.5px,#66afd2 861px)"></div>
<div style="height:2px;background:linear-gradient(90deg,#66afd2 0px,#69b0d3 176.5px,#7ab9d7 195.5px,#86bfdb 202.5px,#98c8e0 205.5px,#b1d5e7 207.5px,#d4e7f1 209.5px,#f7f7f6 212.5px,#fae9e0 214.5px,#f9ece4 215.5px,#f7f6f6 217.5px,#d9e9f1 221.5px,#abd2e5 225.5px,#97c8e0 228.5px,#8ec3dd 233.5px,#8ac1dc 245.5px,#5ea9cf 268.5px,#3f8ec0 281.5px,#256caf 299.5px,#2268ad 315.5px,#2469ae 322.5px,#337eb8 326.5px,#4897c5 330.5px,#5ba6cd 333.5px,#65aed1 338.5px,#6ab1d3 536.5px,#69b1d3 568.5px,#66afd2 589.5px,#66afd2 861px)"></div>
<div style="height:2px;background:linear-gradient(90deg,#66afd2 0px,#69b0d3 177.5px,#7bb9d8 196.5px,#88c0db 203.5px,#9fcbe2 206.5px,#bddbea 208.5px,#d0e5f0 209.5px,#f4f6f7 212.5px,#f8f2ef 213.5px,#faebe3 214.5px,#faebe2 215.5px,#f7f5f4 217.5px,#edf2f5 219.5px,#d3e6f0 222.5px,#aed3e6 225.5px,#99c8e0 228.5px,#8ec3dd 233.5px,#89c1dc 246.5px,#5ea9cf 268.5px,#3f8ec0 281.5px,#256caf 299.5px,#2268ad 316.5px,#246aae 322.5px,#337eb8 326.5px,#4897c5 330.5px,#5ba6cd 333.5px,#65aed1 338.5px,#6ab1d3 533.5px,#6ab1d3 565.5px,#66afd2 582.5px,#66afd2 861px)"></div>
<div style="height:2px;background:linear-gradient(90deg,#66afd2 0px,#69b0d3 177.5px,#7ab9d8 196.5px,#87c0db 203.5px,#9ccae1 206.5px,#b8d8e9 208.5px,#d9e9f2 210.5px,#f1f4f6 212.5px,#f8f5f3 213.5px,#f9ede6 214.5px,#faeae0 215.5px,#f8f4f3 217.5px,#f5f6f7 218.5px,#d5e7f1 222.5px,#a8d0e4 226.5px,#96c7df 229.5px,#8ec3dd 234.5px,#8ac1dc 246.5px,#5ea9cf 268.5px,#3f8ec0 281.5px,#256baf 299.5px,#2268ad 317.5px,#246aae 322.5px,#337eb8 326.5px,#4997c5 330.5px,#5ba6cd 333.5px,#65aed1 338.5px,#6ab1d3 530.5px,#6ab1d3 563.5px,#66afd2 581.5px,#66afd2 861px)"></div>
<div style="height:2px;background:linear-gradient(90deg,#66afd2 0px,#69b0d3 177.5px,#7ab9d7 196.5px,#86bfdb 203.5px,#99c9e0 206.5px,#b3d6e7 208.5px,#d6e7f1 210.5px,#f7f7f6 213.5px,#faeae1 215.5px,#f7f7f7 218.5px,#d8e8f1 222.5px,#aad1e5 226.5px,#97c8df 229.5px,#8ec3dd 234.5px,#8ac1dc 246.5px,#5ea9cf 268.5px,#3f8ec0 281.5px,#256baf 299.5px,#2268ad 317.5px,#246aae 322.5px,#337eb8 326.5px,#4998c5 330.5px,#5ba6cd 333.5px,#65aed1 338.5px,#6ab1d3 527.5px,#6ab1d3 560.5px,#66afd2 576.5px,#66afd2 861px)"></div>
<div style="height:2px;background:linear-gradient(90deg,#66afd2 0px,#69b0d3 177.5px,#78b8d7 195.5px,#85bfda 203.5px,#96c7df 206.5px,#aed3e6 208.5px,#d2e5f0 210.5px,#f5f6f7 213.5px,#f9ece3 215.5px,#f9ece5 216.5px,#f7f6f6 218.5px,#e3edf3 221.5px,#d1e5f0 223.5px,#add3e6 226.5px,#98c8e0 229.5px,#8ec3dd 234.5px,#89c1dc 247.5px,#5ea9cf 268.5px,#4090c1 280.5px,#256baf 299.5px,#2268ad 318.5px,#246aae 322.5px,#337eb8 326.5px,#4998c5 330.5px,#5ba6cd 333.5px,#65aed1 338.5px,#6ab1d3 525.5px,#6bb1d3 558.5px,#66afd2 573.5px,#66afd2 861px)"></div>
<div style="height:2px;background:linear-gradient(90deg,#66afd2 0px,#69b0d3 178.5px,#7ab9d8 197.5px,#88c0db 204.5px,#9dcbe1 207.5px,#bad9e9 209.5px,#dbeaf2 211.5px,#f2f4f6 213.5px,#f8f5f3 214.5px,#f9eee7 215.5px,#f9ebe3 216.5px,#f7f6f5 218.5px,#edf2f5 220.5px,#d4e6f0 223.5px,#a7cfe4 227.5px,#96c7df 230.5px,#8ec3dd 235.5px,#8ac1dc 247.5px,#5fa9cf 268.5px,#4090c1 280.5px,#256baf 299.5px,#2268ad 319.5px,#246aae 322.5px,#347fb9 326.5px,#4998c6 330.5px,#5ba6cd 333.5px,#65aed1 338.5px,#6ab1d3 522.5px,#6bb2d3 555.5px,#65afd2 570.5px,#66afd2 861px)"></div>
<div style="height:2px;background:linear-gradient(90deg,#66afd2 0px,#69b0d3 178.5px,#7ab9d7 197.5px,#87bfdb 204.5px,#9ac9e0 207.5px,#b5d7e8 209.5px,#d7e8f1 211.5px,#f7f7f6 214.5px,#f9ebe3 216.5px,#f7f5f3 218.5px,#eff3f5 220.5px,#cbe2ee 224.5px,#a9d1e5 227.5px,#97c7df 230.5px,#8ec3dd 235.5px,#8ac1dc 247.5px,#5fa9cf 268.5px,#4090c1 280.5px,#256baf 299.5px,#2268ad 320.5px,#276eb0 323.5px,#4998c6 330.5px,#5ba6cd 333.5px,#65aed1 338.5px,#6ab1d3 519.5px,#6bb2d3 553.5px,#65afd2 567.5px,#66afd2 861px)"></div>
<div style="height:2px;background:linear-gradient(90deg,#66afd2 0px,#69b0d3 178.5px,#7ab9d7 197.5px,#86bfdb 204.5px,#98c8e0 207.5px,#b0d4e7 209.5px,#d3e6f0 211.5px,#f5f6f7 214.5px,#f9ece5 216.5px,#f9eee8 217.5px,#f8f4f2 218.5px,#f6f7f7 219.5px,#d8e9f1 223.5px,#acd2e5 227.5px,#98c8e0 230.5px,#8ec3dd 235.5px,#8ac1dc 247.5px,#64add1 266.5px,#408fc1 280.5px,#256baf 299.5px,#2268ad 320.5px,#276eb0 323.5px,#4998c6 330.5px,#5ba6cd 333.5px,#65aed1 338.5px,#6ab1d3 517.5px,#6bb2d3 551.5px,#65afd2 565.5px,#66afd2 861px)"></div>
<div style="height:2px;background:linear-gradient(90deg,#66afd2 0px,#69b0d3 179.5px,#7bb9d8 198.5px,#88c0db 205.5px,#9fcbe2 208.5px,#bcdaea 210.5px,#cee4ef 211.5px,#f2f4f6 214.5px,#f7f5f3 215.5px,#f9eee8 216.5px,#f9ede6 217.5px,#f7f7f7 219.5px,#dbeaf2 223.5px,#c5dfed 225.5px,#a5cfe4 228.5px,#95c7df 231.5px,#8ec3dd 237.5px,#89c1dc 248.5px,#5fa9cf 268.5px,#408fc1 280.5px,#256baf 299.5px,#2268ad 320.5px,#276eb0 323.5px,#4998c6 330.5px,#5ba6cd 333.5px,#65aed1 338.5px,#6ab1d3 514.5px,#6cb2d4 548.5px,#65aed2 563.5px,#66afd2 861px)"></div>
<div style="height:2px;background:linear-gradient(90deg,#66afd2 0px,#69b0d3 179.5px,#7ab9d8 198.5px,#87c0db 205.5px,#9ccae1 208.5px,#b7d8e8 210.5px,#d8e8f1 212.5px,#f7f7f6 215.5px,#f9ede6 217.5px,#f7f6f6 219.5px,#e5eff4 222.5px,#c9e1ee 225.5px,#a8d0e4 228.5px,#96c7df 231.5px,#8ec3dd 236.5px,#8ac1dc 248.5px,#62acd0 267.5px,#408fc1 280.5px,#256baf 299.5px,#2368ad 321.5px,#2b73b3 324.5px,#4998c6 330.5px,#5ba6cd 333.5px,#65aed1 338.5px,#6ab1d3 511.5px,#6cb2d4 546.5px,#65aed2 561.5px,#66afd2 861px)"></div>
<div style="height:2px;background:linear-gradient(90deg,#66afd2 0px,#69b0d3 179.5px,#7ab9d7 198.5px,#86bfdb 205.5px,#99c8e0 208.5px,#b2d5e7 210.5px,#d4e6f1 212.5px,#f4f6f6 215.5px,#f9eee7 217.5px,#f7f6f5 219.5px,#e7f0f4 222.5px,#cde3ef 225.5px,#aad1e5 228.5px,#97c8e0 231.5px,#8ec3dd 236.5px,#8ac1dc 248.5px,#67afd2 265.5px,#408fc1 280.5px,#256baf 299.5px,#2368ad 321.5px,#2b73b3 324.5px,#4998c6 330.5px,#5ba6cd 333.5px,#65aed1 338.5px,#6ab1d3 509.5px,#6cb2d4 543.5px,#65aed2 558.5px,#66afd2 861px)"></div>
<div style="height:2px;background:linear-gradient(90deg,#66afd2 0px,#69b0d3 180.5px,#7bb9d8 199.5px,#89c1dc 206.5px,#a0cce2 209.5px,#bedbea 211.5px,#d0e4f0 212.5px,#f1f4f6 215.5px,#f7f5f4 216.5px,#f9efea 217.5px,#f9efea 218.5px,#f7f5f3 219.5px,#f0f4f6 221.5px,#d0e5f0 225.5px,#add3e6 228.5px,#99c8e0 231.5px,#8ec3dd 236.5px,#89c0dc 249.5px,#60aacf 268.5px,#408fc1 280.5px,#256baf 299.5px,#2368ad 321.5px,#2b73b3 324.5px,#4998c6 330.5px,#5ba6cd 333.5px,#65aed1 338.5px,#6ab1d3 506.5px,#6db2d4 541.5px,#65aed2 556.5px,#65aed2 637.5px,#66afd2 861px)"></div>
<div style="height:2px;background:linear-gradient(90deg,#66afd2 0px,#69b0d3 180.5px,#7ab9d8 199.5px,#88c0db 206.5px,#9dcbe1 209.5px,#b8d9e9 211.5px,#d9e9f1 213.5px,#f6f7f7 216.5px,#f8f1ee 217.5px,#f9efe9 218.5px,#f6f6f7 220.5px,#dbeaf2 224.5px,#c7e0ed 226.5px,#a7d0e4 229.5px,#96c7df 232.5px,#8ec3dd 237.5px,#89c1dc 249.5px,#65aed2 266.5px,#408fc1 280.5px,#256baf 299.5px,#2368ad 321.5px,#2b73b3 324.5px,#4998c6 330.5px,#5ba6cd 333.5px,#65aed1 338.5px,#6ab1d3 504.5px,#6db2d4 539.5px,#65aed2 553.5px,#64aed1 622.5px,#66afd2 861px)"></div>
<div style="height:2px;background:linear-gradient(90deg,#66afd2 0px,#69b0d3 180.5px,#7ab9d7 199.5px,#87bfdb 206.5px,#9ac9e0 209.5px,#b4d6e8 211.5px,#d5e7f1 213.5px,#f4f5f6 216.5px,#f9efea 218.5px,#f6f7f7 220.5px,#ddebf2 224.5px,#a9d1e5 229.5px,#97c7df 232.5px,#8ec3dd 237.5px,#8ac1dc 249.5px,#68b0d2 265.5px,#408fc1 280.5px,#266caf 298.5px,#2368ad 313.5px,#246bae 322.5px,#3986bc 327.5px,#4998c6 330.5px,#5ba6cd 333.5px,#65aed1 338.5px,#6ab1d3 501.5px,#6db3d4 536.5px,#65aed2 551.5px,#64add1 614.5px,#66afd2 861px)"></div>
<div style="height:2px;background:linear-gradient(90deg,#66afd2 0px,#69b0d3 180.5px,#78b8d7 198.5px,#86bfdb 206.5px,#97c8e0 209.5px,#afd4e6 211.5px,#d1e5f0 213.5px,#f1f4f6 216.5px,#f7f6f5 217.5px,#f8f1ec 218.5px,#f8f2ee 219.5px,#f7f7f7 220.5px,#dfecf3 224.5px,#cee3ef 226.5px,#acd2e5 229.5px,#98c8e0 232.5px,#8ec3dd 237.5px,#8ac1dc 249.5px,#6bb1d3 264.5px,#408fc1 280.5px,#266caf 298.5px,#2368ad 313.5px,#256bae 322.5px,#3e8cbf 328.5px,#5ba6cd 333.5px,#65aed1 338.5px,#6ab1d3 498.5px,#6db3d4 534.5px,#65aed2 549.5px,#63add1 607.5px,#66afd2 861px)"></div>
<div style="height:2px;background:linear-gradient(90deg,#66afd2 0px,#69b0d3 181.5px,#7bb9d8 200.5px,#88c0db 207.5px,#9ecbe2 210.5px,#bad9e9 212.5px,#d9e9f2 214.5px,#f5f6f7 217.5px,#f8f1ed 219.5px,#f7f6f5 220.5px,#e9f0f4 223.5px,#d1e5f0 226.5px,#aed3e6 229.5px,#99c9e0 232.5px,#8ec3dd 237.5px,#89c0dc 250.5px,#66afd2 266.5px,#408fc1 280.5px,#266caf 298.5px,#2368ad 314.5px,#256bae 322.5px,#4292c2 329.5px,#5ba6cd 333.5px,#65aed1 338.5px,#6ab1d3 496.5px,#6db3d4 532.5px,#65aed2 547.5px,#63acd1 601.5px,#66afd2 861px)"></div>
<div style="height:2px;background:linear-gradient(90deg,#66afd2 0px,#69b0d3 181.5px,#7ab9d7 200.5px,#87c0db 207.5px,#9bcae1 210.5px,#b5d7e8 212.5px,#d6e7f1 214.5px,#f3f5f6 217.5px,#f8f1ed 219.5px,#f4f6f6 221.5px,#dbeaf2 225.5px,#c8e0ed 227.5px,#a8d0e4 230.5px,#96c7df 233.5px,#8ec3dd 238.5px,#89c1dc 250.5px,#69b0d3 265.5px,#408fc1 280.5px,#266caf 298.5px,#2368ad 314.5px,#256bae 322.5px,#4292c2 329.5px,#5ba6cd 333.5px,#65aed1 338.5px,#6ab1d3 493.5px,#6eb3d4 529.5px,#65aed1 545.5px,#62acd0 595.5px,#66afd2 789.5px,#66afd2 861px)"></div>
<div style="height:2px;background:linear-gradient(90deg,#66afd2 0px,#69b0d3 181.5px,#7ab9d7 200.5px,#86bfdb 207.5px,#99c8e0 210.5px,#b0d4e7 212.5px,#d2e5f0 214.5px,#f0f4f6 217.5px,#f7f7f6 218.5px,#f8f2ef 219.5px,#f5f6f7 221.5px,#ddebf2 225.5px,#bfdceb 228.5px,#a2cde3 231.5px,#94c6df 234.5px,#8ec3dd 240.5px,#88c0db 251.5px,#64add1 267.5px,#408fc1 280.5px,#256caf 298.5px,#2368ad 315.5px,#256baf 322.5px,#4292c2 329.5px,#5ba6cd 333.5px,#65aed1 338.5px,#6ab1d3 491.5px,#6eb3d4 527.5px,#65aed1 543.5px,#61abd0 590.5px,#66afd2 750.5px,#66afd2 861px)"></div>
<div style="height:2px;background:linear-gradient(90deg,#66afd2 0px,#69b0d3 182.5px,#7bb9d8 201.5px,#89c1dc 208.5px,#a0cce2 211.5px,#dae9f2 215.5px,#f4f6f6 218.5px,#f8f3f1 220.5px,#f6f6f7 221.5px,#dfecf3 225.5px,#cee4ef 227.5px,#add3e6 230.5px,#99c8e0 233.5px,#8ec3dd 238.5px,#89c0db 251.5px,#67afd2 266.5px,#408fc1 280.5px,#256caf 298.5px,#2368ad 315.5px,#256baf 322.5px,#4292c2 329.5px,#5ba6cd 333.5px,#65aed1 338.5px,#6ab1d3 489.5px,#6eb3d4 525.5px,#65aed1 540.5px,#61abd0 584.5px,#66afd2 723.5px,#66afd2 861px)"></div>
<div style="height:2px;background:linear-gradient(90deg,#66afd2 0px,#69b0d3 182.5px,#7ab9d8 201.5px,#88c0db 208.5px,#9ccae1 211.5px,#b6d8e8 213.5px,#d6e7f1 215.5px,#f2f4f6 218.5px,#f7f6f5 219.5px,#f8f3f1 220.5px,#f7f7f7 221.5px,#e1edf3 225.5px,#d1e5f0 227.5px,#a7cfe4 231.5px,#96c7df 234.5px,#8ec3dd 239.5px,#89c0dc 251.5px,#6ab1d3 265.5px,#4191c2 279.5px,#256caf 298.5px,#2368ad 316.5px,#256baf 322.5px,#4292c2 329.5px,#5ba6cd 333.5px,#65aed1 338.5px,#6ab1d3 486.5px,#6eb3d4 523.5px,#65aed1 538.5px,#60aacf 580.5px,#66afd2 708.5px,#66afd2 861px)"></div>
<div style="height:2px;background:linear-gradient(90deg,#66afd2 0px,#69b0d3 182.5px,#7ab9d7 201.5px,#87bfdb 208.5px,#9ac9e0 211.5px,#b2d5e7 213.5px,#d2e6f0 215.5px,#eff3f6 218.5px,#f6f6f7 219.5px,#f8f4f2 220.5px,#f2f5f6 222.5px,#dbeaf2 226.5px,#bddbea 229.5px,#a2cde2 232.5px,#92c5de 236.5px,#88c0db 252.5px,#62acd0 268.5px,#4191c2 279.5px,#256caf 298.5px,#2368ad 317.5px,#256baf 322.5px,#4292c2 329.5px,#5ba6cd 333.5px,#65aed1 338.5px,#6ab1d3 484.5px,#6fb3d4 520.5px,#65aed1 536.5px,#5faacf 576.5px,#66afd2 696.5px,#66afd2 861px)"></div>
<div style="height:2px;background:linear-gradient(90deg,#66afd2 0px,#68b0d3 182.5px,#78b8d7 200.5px,#86bfdb 208.5px,#97c8df 211.5px,#aed3e6 213.5px,#cee3ef 215.5px,#ecf2f5 218.5px,#f7f5f4 220.5px,#f3f5f6 222.5px,#ddebf2 226.5px,#c0dceb 229.5px,#a4cee3 232.5px,#96c7df 235.5px,#8fc4dd 241.5px,#8ac1dc 251.5px,#6bb1d3 265.5px,#4191c2 279.5px,#256caf 298.5px,#2368ad 318.5px,#256baf 322.5px,#4292c2 329.5px,#5ba6cd 333.5px,#65aed1 338.5px,#6ab1d3 481.5px,#6fb4d4 518.5px,#64aed1 534.5px,#5fa9cf 572.5px,#66afd2 686.5px,#66afd2 861px)"></div>
<div style="height:2px;background:linear-gradient(90deg,#66afd2 0px,#69b0d3 183.5px,#7ab9d8 202.5px,#88c0db 209.5px,#9ecbe1 212.5px,#d6e8f1 216.5px,#f0f4f6 219.5px,#f7f7f7 220.5px,#f4f6f6 222.5px,#dfecf3 226.5px,#d0e4f0 228.5px,#afd4e6 231.5px,#9bc9e0 234.5px,#90c4de 239.5px,#8bc2dc 251.5px,#6bb2d3 265.5px,#4191c2 279.5px,#256caf 298.5px,#2368ad 318.5px,#256baf 322.5px,#4292c2 329.5px,#5ba6cd 333.5px,#65aed1 338.5px,#6ab1d3 479.5px,#6fb4d5 516.5px,#64aed1 532.5px,#5ea9cf 568.5px,#66afd2 679.5px,#66afd2 861px)"></div>
<div style="height:2px;background:linear-gradient(90deg,#66afd2 0px,#69b0d3 183.5px,#7ab9d7 202.5px,#87c0db 209.5px,#9bc9e1 212.5px,#b3d6e8 214.5px,#d3e6f0 216.5px,#eef3f5 219.5px,#f7f6f5 221.5px,#e7f0f4 225.5px,#d2e6f0 228.5px,#a9d1e5 232.5px,#98c8e0 235.5px,#90c4de 241.5px,#8cc2dc 251.5px,#6cb2d4 265.5px,#4191c2 279.5px,#256caf 298.5px,#2368ad 319.5px,#256baf 322.5px,#4292c2 329.5px,#5ba6cd 333.5px,#65aed1 338.5px,#6ab1d3 477.5px,#70b4d5 514.5px,#64add1 530.5px,#5da8ce 565.5px,#66afd2 672.5px,#66afd2 861px)"></div>
<div style="height:2px;background:linear-gradient(90deg,#66afd2 0px,#69b0d3 183.5px,#78b8d7 201.5px,#86bfdb 209.5px,#98c8e0 212.5px,#afd4e6 214.5px,#cfe4ef 216.5px,#ecf2f5 219.5px,#f7f7f7 221.5px,#edf2f5 224.5px,#d4e7f1 228.5px,#acd2e5 232.5px,#9ac9e0 235.5px,#91c5de 240.5px,#8dc2dd 251.5px,#6fb4d5 264.5px,#4796c5 277.5px,#266daf 297.5px,#2368ad 310.5px,#256baf 322.5px,#4292c2 329.5px,#5aa6cd 333.5px,#65aed1 338.5px,#6ab1d3 474.5px,#70b4d5 512.5px,#64aed1 527.5px,#5da8ce 561.5px,#66afd2 666.5px,#66afd2 861px)"></div>
<div style="height:2px;background:linear-gradient(90deg,#66afd2 0px,#69b0d3 184.5px,#7ab9d8 203.5px,#89c1dc 210.5px,#9fcce2 213.5px,#d7e8f1 217.5px,#eff3f6 220.5px,#f6f7f7 222.5px,#deebf2 227.5px,#cee3ef 229.5px,#aed3e6 232.5px,#9bcae1 235.5px,#92c5de 240.5px,#8ec3dd 252.5px,#76b7d6 263.5px,#4291c2 279.5px,#266daf 297.5px,#2368ad 310.5px,#256baf 322.5px,#4291c2 329.5px,#5aa6cd 333.5px,#65aed1 338.5px,#6ab1d3 472.5px,#70b4d5 509.5px,#64add1 526.5px,#5ca7ce 558.5px,#66afd2 661.5px,#66afd2 861px)"></div>
<div style="height:2px;background:linear-gradient(90deg,#66afd2 0px,#69b0d3 184.5px,#7ab9d7 203.5px,#88c0db 210.5px,#9ccae1 213.5px,#c4dfec 216.5px,#d3e6f0 217.5px,#edf2f5 220.5px,#f6f7f7 222.5px,#dfecf3 227.5px,#d1e5f0 229.5px,#a9d1e5 233.5px,#99c9e0 236.5px,#92c5de 242.5px,#8fc3dd 254.5px,#7ab9d8 263.5px,#5fa9cf 270.5px,#408fc1 280.5px,#266daf 297.5px,#2368ad 310.5px,#256baf 322.5px,#4291c2 329.5px,#5aa5cd 333.5px,#64aed1 338.5px,#6ab1d3 470.5px,#71b4d5 507.5px,#64add1 524.5px,#5ba7cd 555.5px,#66afd2 656.5px,#66afd2 861px)"></div>
<div style="height:2px;background:linear-gradient(90deg,#66afd2 0px,#69b0d3 184.5px,#7ab9d7 203.5px,#87bfdb 210.5px,#99c9e0 213.5px,#b0d4e7 215.5px,#d0e4f0 217.5px,#ebf1f5 220.5px,#f5f6f7 222.5px,#e1edf3 227.5px,#c9e1ee 230.5px,#abd2e5 233.5px,#9bc9e0 236.5px,#93c6de 241.5px,#91c4de 255.5px,#7ebbd9 263.5px,#62acd0 269.5px,#408fc1 280.5px,#266daf 297.5px,#2368ad 311.5px,#256baf 322.5px,#3d8bbf 328.5px,#5aa5cd 333.5px,#64aed1 338.5px,#6bb1d3 468.5px,#71b4d5 505.5px,#63add1 522.5px,#5ba6cd 552.5px,#66afd2 652.5px,#66afd2 861px)"></div>
<div style="height:2px;background:linear-gradient(90deg,#66afd2 0px,#69b0d3 185.5px,#7ab9d8 204.5px,#85bfdb 210.5px,#97c7df 213.5px,#acd2e5 215.5px,#d7e8f1 218.5px,#eef3f5 221.5px,#f4f5f6 223.5px,#dceaf2 228.5px,#c1ddeb 231.5px,#a7cfe4 234.5px,#96c7df 238.5px,#95c7df 248.5px,#92c5de 257.5px,#7dbbd8 264.5px,#66afd2 268.5px,#4090c1 280.5px,#266daf 297.5px,#2368ad 311.5px,#256bae 322.5px,#3885bc 327.5px,#4f9cc8 331.5px,#60aacf 335.5px,#66afd2 344.5px,#6ab1d3 463.5px,#71b5d5 503.5px,#63add1 520.5px,#5aa5cd 549.5px,#66afd2 648.5px,#66afd2 861px)"></div>
<div style="height:2px;background:linear-gradient(90deg,#66afd2 0px,#69b0d3 185.5px,#7ab9d7 204.5px,#88c0db 211.5px,#9dcbe1 214.5px,#d4e6f1 218.5px,#ecf2f5 221.5px,#f4f5f6 223.5px,#deebf2 228.5px,#cfe4f0 230.5px,#a9d1e5 234.5px,#9ac9e0 237.5px,#94c6df 243.5px,#96c7df 256.5px,#87bfdb 263.5px,#6bb2d3 267.5px,#4190c1 280.5px,#266daf 297.5px,#2368ad 311.5px,#256bae 322.5px,#3885bc 327.5px,#4e9cc8 331.5px,#60aacf 335.5px,#66afd2 344.5px,#6ab1d3 461.5px,#71b5d5 501.5px,#63add1 518.5px,#59a5cd 546.5px,#66afd2 645.5px,#66afd2 861px)"></div>
<div style="height:2px;background:linear-gradient(90deg,#66afd2 0px,#69b0d3 185.5px,#79b9d7 204.5px,#87bfdb 211.5px,#9ac9e0 214.5px,#c0ddeb 217.5px,#d0e5f0 218.5px,#eaf1f5 221.5px,#f3f5f6 223.5px,#dfecf3 228.5px,#d2e5f0 230.5px,#abd2e5 234.5px,#9bcae1 237.5px,#95c6df 242.5px,#99c9e0 256.5px,#8bc2dc 263.5px,#6cb2d4 267.5px,#4190c2 280.5px,#266daf 297.5px,#2368ad 311.5px,#256bae 322.5px,#3884bb 327.5px,#59a5cc 333.5px,#64aed1 338.5px,#6bb1d3 461.5px,#72b5d5 499.5px,#63acd1 517.5px,#59a4cc 544.5px,#66afd2 641.5px,#66afd2 861px)"></div>
<div style="height:2px;background:linear-gradient(90deg,#66afd2 0px,#69b0d3 186.5px,#7ab9d8 205.5px,#86bfdb 211.5px,#98c8e0 214.5px,#bcdaea 217.5px,#d7e8f1 219.5px,#edf2f5 222.5px,#f1f4f6 224.5px,#dbeaf2 229.5px,#a7d0e4 235.5px,#98c8e0 239.5px,#98c8e0 247.5px,#9bcae1 257.5px,#8fc4dd 263.5px,#6eb3d4 267.5px,#4190c2 280.5px,#266caf 297.5px,#2369ad 311.5px,#246bae 322.5px,#3884bb 327.5px,#4d9bc7 331.5px,#5faacf 335.5px,#66afd2 343.5px,#6ab1d3 456.5px,#72b5d5 497.5px,#62acd0 515.5px,#58a4cc 541.5px,#66afd2 638.5px,#66afd2 861px)"></div>
<div style="height:2px;background:linear-gradient(90deg,#66afd2 0px,#69b0d3 186.5px,#7ab9d7 205.5px,#85beda 211.5px,#95c7df 214.5px,#a9d1e5 216.5px,#d4e6f1 219.5px,#ebf1f5 222.5px,#f1f4f6 224.5px,#dceaf2 229.5px,#c3deec 232.5px,#a9d1e5 235.5px,#99c8e0 239.5px,#98c8e0 246.5px,#9fcce2 256.5px,#93c6de 263.5px,#6fb3d4 267.5px,#4191c2 280.5px,#266caf 297.5px,#2369ad 312.5px,#246aae 322.5px,#3783bb 327.5px,#4d9bc7 331.5px,#5faacf 335.5px,#66afd2 343.5px,#6ab1d3 454.5px,#72b5d5 495.5px,#62acd0 514.5px,#57a3cc 539.5px,#66afd2 634.5px,#66afd2 861px)"></div>
<div style="height:2px;background:linear-gradient(90deg,#66afd2 0px,#69b0d3 186.5px,#79b9d7 205.5px,#87c0db 212.5px,#9bcae1 215.5px,#c1ddeb 218.5px,#d0e5f0 219.5px,#e8f0f4 222.5px,#f0f4f6 224.5px,#ddebf2 229.5px,#d1e5f0 231.5px,#abd2e5 235.5px,#9ac9e0 239.5px,#98c8e0 245.5px,#a2cde2 256.5px,#96c7df 263.5px,#90c4dd 264.5px,#70b4d5 267.5px,#4291c2 280.5px,#266caf 297.5px,#2369ad 312.5px,#246aae 322.5px,#327db8 326.5px,#4494c4 330.5px,#5ca7ce 334.5px,#65aed2 340.5px,#6ab1d3 453.5px,#73b5d5 493.5px,#61abd0 512.5px,#56a2cb 537.5px,#66afd2 631.5px,#66afd2 861px)"></div>
<div style="height:2px;background:linear-gradient(90deg,#66afd2 0px,#69b0d3 187.5px,#7ab9d7 206.5px,#86bfdb 212.5px,#99c8e0 215.5px,#bcdbea 218.5px,#d7e8f1 220.5px,#ebf1f5 223.5px,#eef3f5 225.5px,#d9e9f1 230.5px,#a7d0e4 236.5px,#99c9e0 240.5px,#9bcae1 247.5px,#a4cee3 256.5px,#99c9e0 263.5px,#93c6de 264.5px,#71b5d5 267.5px,#4292c2 280.5px,#266caf 297.5px,#2369ad 313.5px,#246aae 322.5px,#327cb7 326.5px,#4494c3 330.5px,#5ca7ce 334.5px,#65aed2 340.5px,#6ab1d3 451.5px,#73b5d6 491.5px,#68b0d3 501.5px,#56a2cb 531.5px,#5ea8ce 576.5px,#66afd2 642.5px,#66afd2 861px)"></div>
<div style="height:2px;background:linear-gradient(90deg,#66afd2 0px,#69b0d3 187.5px,#7ab9d7 206.5px,#85beda 212.5px,#96c7df 215.5px,#b8d8e9 218.5px,#d4e6f0 220.5px,#e9f0f4 223.5px,#eef3f5 225.5px,#dae9f2 230.5px,#a9d1e5 236.5px,#9ac9e0 240.5px,#9ccae1 247.5px,#a7d0e4 256.5px,#9dcae1 263.5px,#96c7df 264.5px,#73b5d5 267.5px,#58a4cc 274.5px,#4090c1 281.5px,#266caf 297.5px,#2369ad 313.5px,#246aae 322.5px,#327cb7 326.5px,#4393c3 330.5px,#5ba6cd 334.5px,#65aed2 340.5px,#6bb1d3 449.5px,#73b6d6 489.5px,#69b0d3 499.5px,#55a1cb 529.5px,#5ca7ce 570.5px,#66afd2 631.5px,#66afd2 861px)"></div>
<div style="height:2px;background:linear-gradient(90deg,#66afd2 0px,#69b0d3 187.5px,#79b9d7 206.5px,#88c0db 213.5px,#9ccae1 216.5px,#c1ddec 219.5px,#d0e5f0 220.5px,#e7eff4 223.5px,#eef3f5 225.5px,#dbeaf2 230.5px,#c4deec 233.5px,#a5cfe3 237.5px,#99c9e0 241.5px,#9ecbe1 248.5px,#aad1e5 256.5px,#a0cce2 263.5px,#99c8e0 264.5px,#74b6d6 267.5px,#60aacf 272.5px,#4190c1 281.5px,#266caf 297.5px,#2369ad 314.5px,#246aae 322.5px,#317bb7 326.5px,#4393c3 330.5px,#5ba6cd 334.5px,#65aed2 340.5px,#6bb1d3 447.5px,#74b6d6 487.5px,#69b1d3 497.5px,#54a1ca 527.5px,#5ba6cd 566.5px,#65afd2 624.5px,#66afd2 861px)"></div>
<div style="height:2px;background:linear-gradient(90deg,#66afd2 0px,#69b0d3 188.5px,#7ab9d7 207.5px,#86bfdb 213.5px,#99c9e0 216.5px,#bddbea 219.5px,#d6e7f1 221.5px,#e9f0f4 224.5px,#ebf1f5 226.5px,#ddeaf2 230.5px,#d1e5f0 232.5px,#add3e6 236.5px,#9ccae1 240.5px,#9ccae1 246.5px,#acd2e6 256.5px,#a3cee3 263.5px,#9ccae1 264.5px,#75b7d6 267.5px,#64add1 271.5px,#4191c2 281.5px,#266caf 297.5px,#2369ad 315.5px,#246aae 322.5px,#317bb7 326.5px,#4998c6 331.5px,#5ea8cf 335.5px,#66afd2 342.5px,#6ab1d3 444.5px,#74b6d6 485.5px,#6ab1d3 495.5px,#53a0ca 524.5px,#59a4cc 559.5px,#65aed2 616.5px,#66afd2 861px)"></div>
<div style="height:2px;background:linear-gradient(90deg,#66afd2 0px,#69b0d3 188.5px,#79b9d7 207.5px,#85bfda 213.5px,#97c7df 216.5px,#b8d8e9 219.5px,#d3e6f0 221.5px,#e7eff4 224.5px,#ebf1f5 226.5px,#d8e8f1 231.5px,#a9d1e4 237.5px,#9bcae1 241.5px,#9ecbe1 247.5px,#afd4e6 256.5px,#a6cfe4 263.5px,#9fcbe2 264.5px,#76b7d6 267.5px,#65aed1 271.5px,#4191c2 281.5px,#276db0 296.5px,#2369ad 307.5px,#246aae 322.5px,#307ab6 326.5px,#4998c5 331.5px,#5ea8ce 335.5px,#66afd2 342.5px,#6bb1d3 442.5px,#74b6d6 483.5px,#6ab1d3 493.5px,#529fca 522.5px,#57a3cc 555.5px,#65aed1 611.5px,#66afd2 861px)"></div>
<div style="height:2px;background:linear-gradient(90deg,#66afd2 0px,#69b0d3 189.5px,#7ab9d7 208.5px,#88c0db 214.5px,#9dcae1 217.5px,#d0e4f0 221.5px,#e4eef4 224.5px,#eaf1f5 226.5px,#d9e9f2 231.5px,#abd2e5 237.5px,#9ccae1 241.5px,#9fcce2 247.5px,#b1d5e7 256.5px,#a9d1e5 263.5px,#a1cde2 264.5px,#78b8d7 267.5px,#69b0d3 270.5px,#408fc1 282.5px,#266caf 297.5px,#2369ad 316.5px,#256caf 323.5px,#4897c5 331.5px,#5da8ce 335.5px,#65aed2 341.5px,#6bb1d3 440.5px,#75b6d6 481.5px,#6ab1d3 491.5px,#529fca 518.5px,#54a1ca 547.5px,#64aed1 605.5px,#66afd2 861px)"></div>
<div style="height:2px;background:linear-gradient(90deg,#66afd2 0px,#69b0d3 189.5px,#7ab9d7 208.5px,#86bfdb 214.5px,#9ac9e0 217.5px,#bddbea 220.5px,#d5e7f1 222.5px,#e6eff4 225.5px,#e8f0f4 227.5px,#dae9f2 231.5px,#c5dfec 234.5px,#a7d0e4 238.5px,#9ccae1 242.5px,#a2cde2 248.5px,#b4d6e8 256.5px,#aed3e6 262.5px,#acd2e5 263.5px,#a4cee3 264.5px,#79b9d7 267.5px,#6ab1d3 270.5px,#408fc1 282.5px,#276db0 296.5px,#2369ad 306.5px,#2469ae 322.5px,#3079b6 326.5px,#4796c5 331.5px,#5da8ce 335.5px,#65aed2 341.5px,#6bb1d3 438.5px,#75b7d6 479.5px,#6bb1d3 489.5px,#55a1cb 511.5px,#509dc8 531.5px,#64aed1 604.5px,#66afd2 861px)"></div>
<div style="height:2px;background:linear-gradient(90deg,#66afd2 0px,#69b0d3 189.5px,#79b8d7 208.5px,#85bfda 214.5px,#97c8e0 217.5px,#b8d8e9 220.5px,#d2e6f0 222.5px,#e4eef4 225.5px,#e8f0f4 227.5px,#d6e7f1 232.5px,#a9d0e4 238.5px,#9dcae1 242.5px,#a2cde3 248.5px,#b6d7e8 256.5px,#b0d4e7 262.5px,#afd3e6 263.5px,#a7d0e4 264.5px,#7ab9d8 267.5px,#6eb3d4 269.5px,#4b99c6 279.5px,#3f8dc0 283.5px,#276db0 296.5px,#2369ad 306.5px,#256baf 323.5px,#4190c2 330.5px,#5ca7ce 335.5px,#65aed2 341.5px,#6bb1d3 436.5px,#76b7d6 477.5px,#6bb2d3 487.5px,#5ea8ce 499.5px,#4f9cc8 519.5px,#56a2cb 552.5px,#64aed1 603.5px,#66afd2 861px)"></div>
<div style="height:2px;background:linear-gradient(90deg,#66afd2 0px,#69b0d3 190.5px,#7ab9d7 209.5px,#88c0db 215.5px,#9dcbe1 218.5px,#cee4ef 222.5px,#e2edf3 225.5px,#e7eff4 227.5px,#d7e8f1 232.5px,#aad1e5 238.5px,#9dcbe1 242.5px,#a3cee3 248.5px,#b8d8e9 256.5px,#b5d7e8 261.5px,#b1d5e7 263.5px,#aad1e5 264.5px,#7cbad8 267.5px,#6fb3d4 269.5px,#509dc9 278.5px,#4191c2 282.5px,#266db0 296.5px,#2369ad 306.5px,#256baf 323.5px,#3c8abe 329.5px,#58a4cc 334.5px,#64add1 339.5px,#6bb2d3 436.5px,#76b7d6 475.5px,#6cb2d4 485.5px,#60aad0 494.5px,#4e9cc8 516.5px,#53a0ca 546.5px,#64add1 598.5px,#66afd2 861px)"></div>
<div style="height:2px;background:linear-gradient(90deg,#66afd2 0px,#69b0d3 190.5px,#79b9d7 209.5px,#87bfdb 215.5px,#9bc9e0 218.5px,#d4e6f1 223.5px,#e4eef3 226.5px,#e4eef4 228.5px,#d3e6f0 233.5px,#acd2e5 238.5px,#9ecbe2 242.5px,#a2cde2 247.5px,#bbdaea 257.5px,#b4d6e8 263.5px,#acd2e6 264.5px,#7dbad8 267.5px,#70b4d5 269.5px,#519ec9 278.5px,#408ec1 283.5px,#266db0 296.5px,#2369ad 306.5px,#256baf 323.5px,#3784bb 328.5px,#4c9ac7 332.5px,#5fa9cf 336.5px,#66afd2 344.5px,#6bb1d3 431.5px,#76b7d6 473.5px,#6cb2d4 483.5px,#62acd0 490.5px,#4d9bc7 514.5px,#529fc9 543.5px,#64add1 595.5px,#66afd2 861px)"></div>
<div style="height:2px;background:linear-gradient(90deg,#66afd2 0px,#69b0d3 190.5px,#79b8d7 209.5px,#85bfdb 215.5px,#a1cde2 219.5px,#d1e5f0 223.5px,#e2edf3 226.5px,#e4eef4 228.5px,#d4e6f1 233.5px,#a9d0e4 239.5px,#9ecbe2 243.5px,#a7d0e4 249.5px,#bcdbea 256.5px,#bad9e9 261.5px,#b7d8e8 263.5px,#afd4e6 264.5px,#7ebbd9 267.5px,#71b4d5 269.5px,#56a2cb 277.5px,#408fc1 283.5px,#266db0 296.5px,#2369ad 306.5px,#256bae 323.5px,#3783bb 328.5px,#4c9ac7 332.5px,#5ea9cf 336.5px,#66afd2 343.5px,#6bb1d3 429.5px,#77b7d7 471.5px,#6db2d4 481.5px,#62acd0 488.5px,#4c9ac7 512.5px,#509ec9 540.5px,#63add1 591.5px,#66afd2 861px)"></div>
<div style="height:2px;background:linear-gradient(90deg,#66afd2 0px,#69b0d3 191.5px,#79b9d7 210.5px,#84beda 215.5px,#96c7df 218.5px,#b4d6e8 221.5px,#cde3ef 223.5px,#e0ecf3 226.5px,#e2edf3 229.5px,#d5e7f1 233.5px,#aad1e5 239.5px,#9fcce2 243.5px,#a5cfe3 248.5px,#c0dceb 257.5px,#b9d9e9 263.5px,#b2d5e7 264.5px,#80bcd9 267.5px,#72b5d5 269.5px,#57a3cc 277.5px,#4090c1 283.5px,#266db0 296.5px,#2369ad 306.5px,#246bae 323.5px,#3783bb 328.5px,#4393c3 331.5px,#5ba6cd 335.5px,#65aed2 341.5px,#6bb2d3 428.5px,#77b8d7 469.5px,#6db3d4 479.5px,#62acd0 486.5px,#4b99c6 509.5px,#4e9cc8 535.5px,#63add1 588.5px,#66afd2 861px)"></div>
<div style="height:2px;background:linear-gradient(90deg,#66afd2 0px,#69b0d3 191.5px,#79b8d7 210.5px,#87bfdb 216.5px,#a5cee3 220.5px,#d3e6f0 224.5px,#e1ecf3 227.5px,#ddebf2 231.5px,#d1e5f0 234.5px,#acd2e5 239.5px,#a0cce2 243.5px,#a6cfe4 248.5px,#c2ddec 257.5px,#bcdaea 263.5px,#b4d6e8 264.5px,#81bcd9 267.5px,#72b5d5 269.5px,#58a4cc 277.5px,#4190c2 283.5px,#266db0 296.5px,#2369ad 306.5px,#246aae 323.5px,#3682ba 328.5px,#4a99c6 332.5px,#5ea8cf 336.5px,#66afd2 343.5px,#6bb1d3 425.5px,#78b8d7 467.5px,#6eb3d4 477.5px,#62acd0 484.5px,#4a98c6 507.5px,#4c9bc7 532.5px,#63acd1 585.5px,#66afd2 805.5px,#66afd2 861px)"></div>
<div style="height:2px;background:linear-gradient(90deg,#66afd2 0px,#69b0d3 192.5px,#7ab9d7 211.5px,#85bfdb 216.5px,#a1cde2 220.5px,#cfe4f0 224.5px,#dfecf3 227.5px,#dfecf3 230.5px,#d2e5f0 234.5px,#add3e6 239.5px,#a1cde2 243.5px,#a7cfe4 248.5px,#c4deec 257.5px,#bedbeb 263.5px,#b7d8e9 264.5px,#82bdda 267.5px,#73b6d6 269.5px,#5aa5cd 277.5px,#4191c2 283.5px,#266db0 296.5px,#2369ad 306.5px,#246aae 323.5px,#317cb7 327.5px,#4998c6 332.5px,#5ea8ce 336.5px,#66afd2 343.5px,#6bb2d3 424.5px,#78b8d7 465.5px,#6fb3d4 475.5px,#62acd0 482.5px,#4997c5 505.5px,#4b99c6 529.5px,#62acd0 582.5px,#66afd2 737.5px,#66afd2 861px)"></div>
<div style="height:2px;background:linear-gradient(90deg,#66afd2 0px,#69b0d3 192.5px,#79b9d7 211.5px,#84beda 216.5px,#9ecbe1 220.5px,#d4e6f1 225.5px,#dfecf3 228.5px,#dae9f2 232.5px,#cce2ef 235.5px,#aad1e5 240.5px,#a1cde2 244.5px,#aad1e5 249.5px,#c6dfed 257.5px,#c0ddeb 263.5px,#b9d9e9 264.5px,#83beda 267.5px,#74b6d6 269.5px,#5ba6cd 277.5px,#408ec1 284.5px,#266db0 296.5px,#2369ad 307.5px,#246aae 323.5px,#317bb7 327.5px,#4997c5 332.5px,#5da8ce 336.5px,#66afd2 343.5px,#6bb2d3 422.5px,#79b8d7 463.5px,#6fb4d4 473.5px,#62acd0 480.5px,#4796c5 503.5px,#4998c6 526.5px,#62acd0 580.5px,#66afd2 717.5px,#66afd2 861px)"></div>
<div style="height:2px;background:linear-gradient(90deg,#66afd2 0px,#69b0d3 192.5px,#79b8d7 211.5px,#87c0db 217.5px,#a5cfe3 221.5px,#d1e5f0 225.5px,#deebf2 228.5px,#dae9f2 232.5px,#cde3ef 235.5px,#acd2e5 240.5px,#a2cde3 244.5px,#abd2e5 249.5px,#c8e0ed 257.5px,#c3deec 263.5px,#bcdaea 264.5px,#84beda 267.5px,#7ab9d7 268.5px,#5ca7ce 277.5px,#408fc1 284.5px,#266db0 296.5px,#2369ad 307.5px,#246aae 323.5px,#317bb6 327.5px,#4897c5 332.5px,#5da8ce 336.5px,#65aed2 342.5px,#6bb2d3 420.5px,#79b9d7 461.5px,#70b4d5 471.5px,#62acd0 478.5px,#4695c4 501.5px,#4797c5 523.5px,#62abd0 577.5px,#66afd2 686.5px,#66afd2 861px)"></div>
<div style="height:2px;background:linear-gradient(90deg,#66afd2 0px,#69b0d3 193.5px,#79b9d7 212.5px,#86bfdb 217.5px,#a1cde2 221.5px,#cde3ef 225.5px,#dceaf2 228.5px,#dae9f2 232.5px,#cfe4ef 235.5px,#add3e6 240.5px,#a3cee3 244.5px,#acd2e5 249.5px,#c9e1ee 257.5px,#c5dfed 263.5px,#bedbeb 264.5px,#85bfdb 267.5px,#7bb9d8 268.5px,#59a5cd 278.5px,#4190c1 284.5px,#266daf 296.5px,#2369ad 307.5px,#246aae 323.5px,#307ab6 327.5px,#4796c5 332.5px,#5da7ce 336.5px,#65aed2 342.5px,#6bb2d3 418.5px,#7ab9d7 459.5px,#70b4d5 469.5px,#62acd0 476.5px,#4594c4 499.5px,#4695c4 521.5px,#61abd0 574.5px,#66afd2 665.5px,#66afd2 861px)"></div>
<div style="height:2px;background:linear-gradient(90deg,#66afd2 0px,#69b0d3 193.5px,#79b8d7 212.5px,#84beda 217.5px,#9ecbe2 221.5px,#d2e5f0 226.5px,#dceaf2 229.5px,#d4e7f1 234.5px,#aad1e5 241.5px,#a4cee3 245.5px,#b0d4e7 250.5px,#cbe2ee 257.5px,#c7e0ed 263.5px,#c0dceb 264.5px,#87bfdb 267.5px,#7cbad8 268.5px,#5ba6cd 278.5px,#4190c2 284.5px,#266daf 296.5px,#2369ad 307.5px,#246aae 323.5px,#307ab6 327.5px,#4696c4 332.5px,#5ca7ce 336.5px,#65aed2 342.5px,#6cb2d4 417.5px,#7ab9d7 457.5px,#71b4d5 467.5px,#62acd0 474.5px,#4393c3 497.5px,#4695c4 522.5px,#61abd0 572.5px,#66afd2 656.5px,#66afd2 861px)"></div>
<div style="height:2px;background:linear-gradient(90deg,#66afd2 0px,#69b0d3 194.5px,#7ab9d7 213.5px,#87c0db 218.5px,#a5cfe3 222.5px,#cfe4ef 226.5px,#dbeaf2 229.5px,#d7e8f1 233.5px,#cae2ee 236.5px,#acd2e5 241.5px,#a5cee3 245.5px,#b1d5e7 250.5px,#cde3ef 257.5px,#c9e1ee 263.5px,#c2deec 264.5px,#88c0db 267.5px,#7cbad8 268.5px,#5ca7ce 278.5px,#3f8ec0 285.5px,#266daf 296.5px,#2369ad 307.5px,#246aae 323.5px,#2f79b6 327.5px,#4695c4 332.5px,#5ca7ce 336.5px,#65aed2 342.5px,#6cb2d4 415.5px,#7ab9d8 456.5px,#71b5d5 465.5px,#61abd0 473.5px,#4393c3 494.5px,#4494c4 520.5px,#60aad0 569.5px,#66afd2 642.5px,#66afd2 861px)"></div>
<div style="height:2px;background:linear-gradient(90deg,#66afd2 0px,#69b0d3 194.5px,#79b9d7 213.5px,#86bfdb 218.5px,#a1cde2 222.5px,#d2e6f0 227.5px,#dae9f2 230.5px,#d1e5f0 235.5px,#add3e6 241.5px,#a5cfe4 245.5px,#b1d5e7 250.5px,#cfe4ef 257.5px,#cbe2ee 263.5px,#c4dfec 264.5px,#89c0db 267.5px,#7dbbd8 268.5px,#6db2d4 273.5px,#55a1cb 280.5px,#408fc1 285.5px,#266daf 296.5px,#2369ae 307.5px,#256caf 324.5px,#4595c4 332.5px,#5ca7ce 336.5px,#65aed2 342.5px,#6cb2d4 413.5px,#7bb9d8 454.5px,#72b5d5 463.5px,#61abd0 471.5px,#4292c3 491.5px,#4292c3 516.5px,#60aad0 568.5px,#66afd2 641.5px,#66afd2 861px)"></div>
<div style="height:2px;background:linear-gradient(90deg,#66afd2 0px,#69b0d3 195.5px,#78b8d7 213.5px,#84beda 218.5px,#9ecbe2 222.5px,#d0e4f0 227.5px,#d9e9f1 230.5px,#d2e5f0 235.5px,#aed3e6 241.5px,#a6cfe4 245.5px,#aed3e6 249.5px,#d0e5f0 257.5px,#cde3ef 263.5px,#c7e0ed 264.5px,#8ac1dc 267.5px,#7ebbd8 268.5px,#70b4d5 272.5px,#5aa6cd 279.5px,#408fc1 285.5px,#266daf 296.5px,#2369ae 308.5px,#256caf 324.5px,#4494c4 332.5px,#5ba6cd 336.5px,#65aed2 342.5px,#6cb2d4 411.5px,#7bbad8 452.5px,#72b5d5 461.5px,#61abd0 469.5px,#4292c3 488.5px,#4190c2 511.5px,#4e9cc8 534.5px,#61abd0 570.5px,#66afd2 666.5px,#66afd2 861px)"></div>
<div style="height:2px;background:linear-gradient(90deg,#66afd2 0px,#69b0d3 195.5px,#78b8d7 213.5px,#83beda 218.5px,#9ccae1 222.5px,#cce2ef 227.5px,#d6e7f1 229.5px,#d7e8f1 233.5px,#cde3ef 236.5px,#acd2e5 242.5px,#a7d0e4 246.5px,#b7d8e9 251.5px,#d1e5f0 257.5px,#cfe4ef 263.5px,#c9e1ee 264.5px,#8bc1dc 267.5px,#7ebbd9 268.5px,#73b5d6 271.5px,#5faacf 278.5px,#4190c1 285.5px,#266daf 296.5px,#2369ae 308.5px,#256baf 324.5px,#3c89be 330.5px,#4b9ac7 333.5px,#5ea9cf 337.5px,#66afd2 344.5px,#6cb2d4 408.5px,#7cbad8 450.5px,#73b5d6 459.5px,#61abd0 467.5px,#4292c2 485.5px,#408ec1 505.5px,#4897c5 526.5px,#60aacf 564.5px,#66afd2 629.5px,#66afd2 861px)"></div>
<div style="height:2px;background:linear-gradient(90deg,#66afd2 0px,#69b0d3 195.5px,#77b8d7 213.5px,#86bfdb 219.5px,#a1cde2 223.5px,#d0e4f0 228.5px,#d7e8f1 231.5px,#d2e6f0 235.5px,#add3e6 242.5px,#a8d0e4 246.5px,#b4d6e8 250.5px,#d0e5f0 256.5px,#d2e6f0 261.5px,#d1e5f0 263.5px,#cbe2ee 264.5px,#8cc2dc 267.5px,#7fbbd9 268.5px,#73b6d6 271.5px,#60aad0 278.5px,#3e8dc0 286.5px,#266daf 296.5px,#2369ae 309.5px,#256baf 324.5px,#3b89be 330.5px,#4b99c6 333.5px,#5ea8cf 337.5px,#66afd2 344.5px,#6cb2d4 407.5px,#7cbad8 448.5px,#74b6d6 457.5px,#61abd0 465.5px,#4291c2 483.5px,#3f8dc0 502.5px,#4897c5 525.5px,#5faacf 562.5px,#66afd2 624.5px,#66afd2 861px)"></div>
<div style="height:2px;background:linear-gradient(90deg,#66afd2 0px,#69b0d3 196.5px,#78b8d7 214.5px,#85beda 219.5px,#9fcbe2 223.5px,#cde3ef 228.5px,#d5e7f1 230.5px,#d3e6f0 235.5px,#aed3e6 242.5px,#a9d1e5 246.5px,#b4d6e8 250.5px,#d1e5f0 256.5px,#d3e6f0 262.5px,#cde3ef 264.5px,#8dc2dd 267.5px,#7fbcd9 268.5px,#74b6d6 271.5px,#5ea8ce 279.5px,#3f8ec0 286.5px,#266caf 296.5px,#2369ae 309.5px,#256baf 324.5px,#3783bb 329.5px,#4a99c6 333.5px,#5ea8ce 337.5px,#66afd2 344.5px,#6db2d4 405.5px,#7dbad8 446.5px,#74b6d6 455.5px,#61abd0 463.5px,#4291c2 480.5px,#3d8cbf 497.5px,#4796c5 524.5px,#5fa9cf 559.5px,#66afd2 615.5px,#66afd2 861px)"></div>
<div style="height:2px;background:linear-gradient(90deg,#66afd2 0px,#69b0d3 196.5px,#78b8d7 214.5px,#83beda 219.5px,#9ccae1 223.5px,#d0e4f0 229.5px,#d5e7f1 233.5px,#cfe4f0 236.5px,#b0d4e7 242.5px,#aad1e5 246.5px,#b5d7e8 250.5px,#d2e6f0 256.5px,#d4e7f1 261.5px,#d3e6f0 263.5px,#cfe4ef 264.5px,#8dc3dd 267.5px,#80bcd9 268.5px,#74b6d6 271.5px,#5fa9cf 279.5px,#3f8ec1 286.5px,#266caf 296.5px,#2369ae 310.5px,#256baf 324.5px,#3682ba 329.5px,#4a98c6 333.5px,#5da8ce 337.5px,#66afd2 344.5px,#6db2d4 403.5px,#7dbbd8 444.5px,#75b6d6 453.5px,#5fa9cf 462.5px,#4291c2 477.5px,#3c8abf 493.5px,#4695c4 522.5px,#5ea9cf 557.5px,#66afd2 611.5px,#66afd2 861px)"></div>
<div style="height:2px;background:linear-gradient(90deg,#66afd2 0px,#69b0d3 197.5px,#78b8d7 215.5px,#86bfdb 220.5px,#a1cde2 224.5px,#cde3ef 229.5px,#d4e6f1 232.5px,#d0e4f0 236.5px,#aed3e6 243.5px,#acd2e5 247.5px,#c0dceb 252.5px,#d3e6f0 256.5px,#d5e7f1 261.5px,#d1e5f0 264.5px,#8ec3dd 267.5px,#80bcd9 268.5px,#77b7d7 270.5px,#60aacf 279.5px,#408fc1 286.5px,#266caf 296.5px,#2369ae 311.5px,#256baf 324.5px,#3682ba 329.5px,#4998c6 333.5px,#5da8ce 337.5px,#66afd2 344.5px,#6db3d4 402.5px,#7ebbd9 442.5px,#75b7d6 451.5px,#5fa9cf 460.5px,#4191c2 475.5px,#3c89be 490.5px,#4695c4 521.5px,#5ea9cf 555.5px,#65afd2 607.5px,#66afd2 861px)"></div>
<div style="height:2px;background:linear-gradient(90deg,#66afd2 0px,#69b0d3 197.5px,#78b8d7 215.5px,#85beda 220.5px,#9fcbe2 224.5px,#cae1ee 229.5px,#d2e6f0 231.5px,#d0e4f0 236.5px,#afd4e6 243.5px,#add3e6 247.5px,#bbdaea 251.5px,#d4e6f0 256.5px,#d6e7f1 261.5px,#d2e5f0 264.5px,#bddbea 265.5px,#a4cee3 266.5px,#8fc3dd 267.5px,#81bcd9 268.5px,#77b7d7 270.5px,#61abd0 279.5px,#4090c1 286.5px,#266caf 296.5px,#2369ae 312.5px,#256baf 324.5px,#3682ba 329.5px,#4998c6 333.5px,#5da8ce 337.5px,#66afd2 344.5px,#6db3d4 400.5px,#7ebbd9 440.5px,#76b7d6 449.5px,#5da8ce 459.5px,#4291c2 472.5px,#3b88be 487.5px,#4393c3 518.5px,#5da8ce 552.5px,#65aed2 600.5px,#66afd2 861px)"></div>
<div style="height:2px;background:linear-gradient(90deg,#66afd2 0px,#69b0d3 198.5px,#77b8d7 215.5px,#83beda 220.5px,#9ccae1 224.5px,#cde3ef 230.5px,#d2e6f0 233.5px,#d0e4f0 236.5px,#b0d4e7 243.5px,#add3e6 247.5px,#bcdaea 251.5px,#d4e7f1 256.5px,#d7e8f1 261.5px,#d3e6f0 264.5px,#bfdceb 265.5px,#a5cee3 266.5px,#90c4dd 267.5px,#81bcd9 268.5px,#76b7d6 270.5px,#62abd0 279.5px,#3e8cc0 287.5px,#266caf 296.5px,#2369ae 314.5px,#256bae 324.5px,#3682ba 329.5px,#4997c5 333.5px,#5da8ce 337.5px,#66afd2 344.5px,#6eb3d4 399.5px,#7fbcd9 438.5px,#77b7d7 447.5px,#5da8ce 457.5px,#4191c2 470.5px,#3a87bd 484.5px,#4190c2 512.5px,#5ea9cf 553.5px,#65afd2 606.5px,#66afd2 861px)"></div>
<div style="height:2px;background:linear-gradient(90deg,#66afd2 0px,#69b0d3 198.5px,#77b7d7 215.5px,#86bfdb 221.5px,#aad1e5 226.5px,#cae1ee 230.5px,#d2e5f0 233.5px,#d0e4f0 236.5px,#afd4e6 244.5px,#b0d4e7 248.5px,#c8e0ed 253.5px,#d5e7f1 256.5px,#d8e8f1 261.5px,#d4e6f1 264.5px,#c1ddeb 265.5px,#a6cfe4 266.5px,#90c4de 267.5px,#81bcd9 268.5px,#76b7d6 270.5px,#5faacf 280.5px,#3f8dc0 287.5px,#266caf 296.5px,#2369ae 315.5px,#256bae 324.5px,#3681ba 329.5px,#4897c5 333.5px,#5da8ce 337.5px,#66afd2 344.5px,#6eb3d4 398.5px,#80bcd9 436.5px,#77b8d7 445.5px,#5fa9cf 454.5px,#4190c1 468.5px,#3986bd 482.5px,#408fc1 510.5px,#5ea9cf 552.5px,#65aed2 606.5px,#66afd2 861px)"></div>
<div style="height:2px;background:linear-gradient(90deg,#66afd2 0px,#69b0d3 198.5px,#78b8d7 216.5px,#85bfda 221.5px,#a7d0e4 226.5px,#c7e0ed 230.5px,#d1e5f0 233.5px,#cde3ef 237.5px,#b0d4e7 244.5px,#b1d5e7 248.5px,#c9e1ee 253.5px,#d6e7f1 256.5px,#d9e9f1 261.5px,#d5e7f1 264.5px,#c2ddec 265.5px,#a7d0e4 266.5px,#91c4de 267.5px,#81bcd9 268.5px,#76b7d6 270.5px,#60abd0 280.5px,#3f8ec1 287.5px,#266caf 296.5px,#2369ae 315.5px,#256bae 324.5px,#3681ba 329.5px,#4897c5 333.5px,#5da8ce 337.5px,#66afd2 343.5px,#6fb3d4 397.5px,#80bcd9 434.5px,#78b8d7 443.5px,#5da8ce 453.5px,#4191c2 465.5px,#3985bc 479.5px,#3e8dc0 505.5px,#4b99c6 523.5px,#5faacf 553.5px,#66afd2 616.5px,#66afd2 861px)"></div>
<div style="height:2px;background:linear-gradient(90deg,#66afd2 0px,#69b0d3 199.5px,#77b8d7 216.5px,#84beda 221.5px,#a4cee3 226.5px,#cae2ee 231.5px,#d1e5f0 235.5px,#c5dfed 239.5px,#b2d5e7 244.5px,#b2d5e7 248.5px,#cae1ee 253.5px,#d9e9f1 257.5px,#d9e9f1 263.5px,#d6e7f1 264.5px,#c4deec 265.5px,#a8d0e4 266.5px,#91c5de 267.5px,#81bdd9 268.5px,#75b7d6 270.5px,#62acd0 280.5px,#4a98c6 285.5px,#3a87bd 289.5px,#266caf 296.5px,#2369ae 315.5px,#256bae 324.5px,#3581ba 329.5px,#4897c5 333.5px,#5da8ce 337.5px,#66afd2 343.5px,#70b4d5 396.5px,#81bcd9 432.5px,#79b9d7 441.5px,#5ba6cd 452.5px,#4190c2 463.5px,#3884bc 477.5px,#3d8bbf 502.5px,#4a99c6 521.5px,#5fa9cf 551.5px,#65afd2 612.5px,#66afd2 861px)"></div>
<div style="height:2px;background:linear-gradient(90deg,#66afd2 0px,#69b0d3 199.5px,#77b7d7 216.5px,#87bfdb 222.5px,#aad1e5 227.5px,#c8e0ed 231.5px,#cfe4ef 234.5px,#cde3ef 237.5px,#b3d6e7 244.5px,#b3d6e7 248.5px,#cbe2ee 253.5px,#dae9f2 257.5px,#dae9f2 263.5px,#d7e8f1 264.5px,#c5dfed 265.5px,#a9d1e5 266.5px,#92c5de 267.5px,#81bdd9 268.5px,#75b7d6 270.5px,#63add1 280.5px,#4c9ac7 285.5px,#3783bb 290.5px,#266caf 296.5px,#2369ae 314.5px,#256baf 324.5px,#3581ba 329.5px,#4897c5 333.5px,#5da8ce 337.5px,#66afd2 343.5px,#70b4d5 395.5px,#82bdda 430.5px,#7ab9d7 439.5px,#56a2cb 452.5px,#4190c1 461.5px,#3783bb 475.5px,#3d8bbf 500.5px,#4998c6 519.5px,#5ea9cf 548.5px,#65aed2 603.5px,#66afd2 861px)"></div>
<div style="height:2px;background:linear-gradient(90deg,#66afd2 0px,#69b0d3 200.5px,#78b8d7 217.5px,#85bfdb 222.5px,#a7d0e4 227.5px,#c5dfed 231.5px,#cee3ef 234.5px,#cbe2ee 238.5px,#b3d6e7 245.5px,#b7d8e8 249.5px,#d5e7f1 255.5px,#dceaf2 259.5px,#d8e8f1 264.5px,#c7e0ed 265.5px,#aad1e5 266.5px,#92c5de 267.5px,#81bdd9 268.5px,#75b6d6 270.5px,#61abd0 281.5px,#3f8dc0 288.5px,#266daf 296.5px,#2369ae 313.5px,#256baf 324.5px,#3581ba 329.5px,#4897c5 333.5px,#5da8ce 337.5px,#66afd2 343.5px,#71b4d5 394.5px,#82bdda 429.5px,#79b8d7 438.5px,#5ba6cd 448.5px,#4191c2 458.5px,#3783bb 472.5px,#3b88bd 495.5px,#4897c5 517.5px,#5ea9cf 546.5px,#65aed2 599.5px,#66afd2 861px)"></div>
<div style="height:2px;background:linear-gradient(90deg,#66afd2 0px,#69b0d3 200.5px,#77b7d7 217.5px,#84beda 222.5px,#a4cee3 227.5px,#c8e0ed 232.5px,#cee4ef 236.5px,#c0dceb 241.5px,#b3d6e7 246.5px,#bcdaea 250.5px,#d6e7f1 255.5px,#ddebf2 259.5px,#d9e9f1 264.5px,#c8e1ee 265.5px,#abd2e5 266.5px,#93c5de 267.5px,#81bdd9 268.5px,#74b6d6 270.5px,#6ab1d3 277.5px,#5fa9cf 282.5px,#3f8ec1 288.5px,#266daf 296.5px,#2469ae 311.5px,#256baf 324.5px,#3581ba 329.5px,#4897c5 333.5px,#5da8ce 337.5px,#67afd2 343.5px,#72b5d5 394.5px,#83bdda 427.5px,#7ab9d7 436.5px,#5ea8ce 445.5px,#4190c2 456.5px,#3682ba 470.5px,#3a87bd 493.5px,#4897c5 516.5px,#5ea8ce 544.5px,#65aed2 596.5px,#66afd2 861px)"></div>
<div style="height:2px;background:linear-gradient(90deg,#66afd2 0px,#69b0d3 201.5px,#76b7d6 217.5px,#83bdda 222.5px,#a2cde3 227.5px,#c6dfed 232.5px,#cee3ef 236.5px,#c5dfed 240.5px,#b5d7e8 245.5px,#b9d9e9 249.5px,#d6e7f1 255.5px,#deebf2 259.5px,#dae9f2 264.5px,#cae1ee 265.5px,#acd2e5 266.5px,#93c6de 267.5px,#81bdd9 268.5px,#74b6d6 270.5px,#6bb1d3 276.5px,#64aed1 281.5px,#4c9ac7 286.5px,#3986bc 290.5px,#266daf 296.5px,#2469ae 309.5px,#256baf 324.5px,#3681ba 329.5px,#4897c5 333.5px,#5da8ce 337.5px,#67afd2 343.5px,#73b5d6 393.5px,#84beda 425.5px,#7bbad8 434.5px,#58a4cc 445.5px,#4190c1 454.5px,#3581ba 467.5px,#3884bb 488.5px,#4997c5 515.5px,#5ea8ce 543.5px,#65aed2 596.5px,#66afd2 861px)"></div>
<div style="height:2px;background:linear-gradient(90deg,#66afd2 0px,#69b0d3 201.5px,#76b7d6 217.5px,#86bfdb 223.5px,#afd4e6 229.5px,#c8e1ee 233.5px,#cde3ef 237.5px,#b5d7e8 246.5px,#bad9e9 249.5px,#dae9f2 256.5px,#dfebf2 260.5px,#dbeaf2 264.5px,#cbe2ee 265.5px,#add3e6 266.5px,#94c6df 267.5px,#81bdd9 268.5px,#73b6d6 270.5px,#6bb1d3 275.5px,#68b0d3 280.5px,#54a1ca 285.5px,#3e8cc0 289.5px,#266db0 296.5px,#2469ae 307.5px,#256baf 324.5px,#3681ba 329.5px,#4897c5 333.5px,#5da8ce 337.5px,#67b0d2 343.5px,#74b6d6 393.5px,#84beda 424.5px,#7cbad8 432.5px,#4c9bc7 447.5px,#3f8ec0 453.5px,#347fb9 466.5px,#3884bc 488.5px,#4998c5 514.5px,#5ea8ce 542.5px,#65aed2 596.5px,#66afd2 861px)"></div>
<div style="height:2px;background:linear-gradient(90deg,#66afd2 0px,#69b0d3 202.5px,#77b7d7 218.5px,#85beda 223.5px,#add3e6 229.5px,#c7e0ed 233.5px,#cde3ef 237.5px,#b7d8e9 246.5px,#bbdaea 249.5px,#dbeaf2 256.5px,#dfecf3 260.5px,#dceaf2 264.5px,#cde3ef 265.5px,#aed3e6 266.5px,#94c6df 267.5px,#81bdd9 268.5px,#73b5d5 270.5px,#6ab1d3 275.5px,#69b1d3 280.5px,#56a3cb 285.5px,#3f8dc0 289.5px,#266db0 296.5px,#2469ae 305.5px,#256baf 324.5px,#3682ba 329.5px,#4897c5 333.5px,#5ea8ce 337.5px,#68b0d3 343.5px,#76b7d6 393.5px,#85beda 422.5px,#7ebbd8 430.5px,#6db3d4 435.5px,#4695c4 447.5px,#3580b9 461.5px,#3480b9 479.5px,#4897c5 512.5px,#5da8ce 539.5px,#65aed1 589.5px,#66afd2 861px)"></div>
<div style="height:2px;background:linear-gradient(90deg,#66afd2 0px,#69b0d3 202.5px,#76b7d6 218.5px,#84beda 223.5px,#aad1e5 229.5px,#c5dfed 233.5px,#cce3ef 237.5px,#c1ddeb 242.5px,#b8d8e9 247.5px,#c4dfec 251.5px,#d8e8f1 255.5px,#e0ecf3 259.5px,#ddebf2 264.5px,#cee4ef 265.5px,#afd4e6 266.5px,#95c6df 267.5px,#81bdd9 268.5px,#77b8d7 269.5px,#6bb2d3 273.5px,#68b0d3 281.5px,#539fca 286.5px,#408fc1 289.5px,#266db0 296.5px,#246aae 304.5px,#256caf 324.5px,#3682ba 329.5px,#4998c5 333.5px,#5ea9cf 337.5px,#69b1d3 344.5px,#77b8d7 393.5px,#86bfdb 420.5px,#7fbcd9 428.5px,#6fb4d4 433.5px,#5ca7ce 438.5px,#4191c2 447.5px,#337eb8 460.5px,#347fb9 479.5px,#4897c5 511.5px,#5da8ce 538.5px,#65aed1 589.5px,#66afd2 861px)"></div>
<div style="height:2px;background:linear-gradient(90deg,#66afd2 0px,#69b0d3 202.5px,#76b7d6 218.5px,#87bfdb 224.5px,#c3deec 233.5px,#cce2ee 237.5px,#c2deec 242.5px,#b9d9e9 247.5px,#c5dfed 251.5px,#d9e9f1 255.5px,#e1edf3 259.5px,#deebf2 264.5px,#d0e4f0 265.5px,#95c7df 267.5px,#81bdd9 268.5px,#77b7d7 269.5px,#6bb1d3 273.5px,#69b0d3 281.5px,#55a1cb 286.5px,#3d8bbf 290.5px,#276db0 296.5px,#246aae 303.5px,#256caf 324.5px,#3682ba 329.5px,#4998c6 333.5px,#5ea9cf 337.5px,#6ab1d3 344.5px,#79b8d7 393.5px,#86bfdb 419.5px,#7ebbd9 427.5px,#6cb2d4 432.5px,#4190c2 445.5px,#327db8 458.5px,#337eb8 476.5px,#4897c5 510.5px,#5da8ce 536.5px,#65aed1 586.5px,#66afd2 861px)"></div>
<div style="height:2px;background:linear-gradient(90deg,#66afd2 0px,#69b0d3 203.5px,#77b8d7 219.5px,#86bfdb 224.5px,#add3e6 230.5px,#c6dfed 234.5px,#cbe2ee 239.5px,#bbdaea 247.5px,#c1ddec 250.5px,#d9e9f2 255.5px,#e2edf3 259.5px,#deebf2 264.5px,#d1e5f0 265.5px,#96c7df 267.5px,#81bdd9 268.5px,#77b7d7 269.5px,#6ab1d3 273.5px,#6ab1d3 281.5px,#5ca7ce 285.5px,#3e8cbf 290.5px,#276eb0 296.5px,#246aae 303.5px,#256caf 324.5px,#3682ba 329.5px,#4a98c6 333.5px,#5fa9cf 337.5px,#6bb1d3 344.5px,#7ab9d8 393.5px,#87c0db 418.5px,#7dbbd8 426.5px,#57a3cb 436.5px,#4190c2 443.5px,#327cb7 456.5px,#327db8 474.5px,#4897c5 509.5px,#5da8ce 535.5px,#65aed1 586.5px,#66afd2 861px)"></div>
<div style="height:2px;background:linear-gradient(90deg,#66afd2 0px,#69b0d3 203.5px,#77b7d7 219.5px,#84beda 224.5px,#abd1e5 230.5px,#c4dfec 234.5px,#cbe2ee 238.5px,#bcdaea 247.5px,#c3deec 250.5px,#ddebf2 256.5px,#e2edf3 260.5px,#dfecf3 264.5px,#d2e5f0 265.5px,#96c7df 267.5px,#81bdd9 268.5px,#76b7d6 269.5px,#69b1d3 273.5px,#6ab1d3 281.5px,#5ea8ce 285.5px,#3e8dc0 290.5px,#276eb0 296.5px,#246aae 302.5px,#266caf 324.5px,#3b88bd 330.5px,#4a99c6 333.5px,#60aacf 337.5px,#6cb2d4 344.5px,#7dbad8 394.5px,#88c0db 416.5px,#7fbcd9 424.5px,#6ab1d3 429.5px,#4292c3 440.5px,#317bb7 454.5px,#317bb7 471.5px,#4897c5 507.5px,#5da7ce 533.5px,#64aed1 583.5px,#66afd2 861px)"></div>
<div style="height:2px;background:linear-gradient(90deg,#66afd2 0px,#69b0d3 204.5px,#76b7d6 219.5px,#88c0db 225.5px,#c3deec 234.5px,#cbe2ee 238.5px,#bddbea 247.5px,#c4deec 250.5px,#deebf2 256.5px,#e3eef3 260.5px,#e0ecf3 264.5px,#d3e6f0 265.5px,#96c7df 267.5px,#81bdd9 268.5px,#76b7d6 269.5px,#69b0d3 273.5px,#6bb2d3 281.5px,#5fa9cf 285.5px,#3f8ec0 290.5px,#276eb0 296.5px,#246aae 302.5px,#266caf 324.5px,#3b88be 330.5px,#4393c3 332.5px,#5ca7ce 336.5px,#6ab1d3 341.5px,#75b6d6 366.5px,#80bcd9 396.5px,#89c0db 415.5px,#81bcd9 422.5px,#6cb2d4 427.5px,#4292c2 438.5px,#307ab6 452.5px,#3079b6 469.5px,#4897c5 506.5px,#5ca7ce 531.5px,#64aed1 581.5px,#66afd2 861px)"></div>
<div style="height:2px;background:linear-gradient(90deg,#66afd2 0px,#69b0d3 204.5px,#76b7d6 219.5px,#87bfdb 225.5px,#c5dfed 235.5px,#cae1ee 240.5px,#bfdceb 247.5px,#c5dfed 250.5px,#e2edf3 257.5px,#e3edf3 263.5px,#e1edf3 264.5px,#d4e6f0 265.5px,#97c7df 267.5px,#81bdd9 268.5px,#76b7d6 269.5px,#68b0d3 273.5px,#6cb2d4 281.5px,#60aacf 285.5px,#3b89be 291.5px,#276eb0 296.5px,#246aae 302.5px,#266daf 324.5px,#3b89be 330.5px,#4393c3 332.5px,#5da8ce 336.5px,#6bb1d3 341.5px,#77b7d7 364.5px,#81bcd9 394.5px,#89c1dc 414.5px,#80bcd9 421.5px,#6fb3d4 425.5px,#58a4cc 430.5px,#4090c1 437.5px,#2f79b5 450.5px,#2e78b5 466.5px,#4796c5 504.5px,#5ca7ce 529.5px,#64aed1 578.5px,#66afd2 861px)"></div>
<div style="height:2px;background:linear-gradient(90deg,#66afd2 0px,#69b0d3 205.5px,#77b7d7 220.5px,#85bfdb 225.5px,#c4deec 235.5px,#cae2ee 240.5px,#c0dceb 247.5px,#c6dfed 250.5px,#e2edf3 257.5px,#e3eef3 263.5px,#e2edf3 264.5px,#d5e7f1 265.5px,#97c8e0 267.5px,#81bdd9 268.5px,#75b7d6 269.5px,#6ab1d3 272.5px,#69b1d3 276.5px,#6cb2d4 281.5px,#61abd0 285.5px,#3c89be 291.5px,#276eb0 296.5px,#246aae 302.5px,#266daf 324.5px,#3c89be 330.5px,#4c9ac7 333.5px,#62acd0 337.5px,#6fb4d5 344.5px,#7ab9d7 370.5px,#85bfdb 398.5px,#8ac1dc 413.5px,#7fbbd9 420.5px,#59a5cd 428.5px,#408fc1 435.5px,#2e77b5 448.5px,#2d76b4 463.5px,#4897c5 503.5px,#5ca7ce 527.5px,#64add1 576.5px,#66afd2 861px)"></div>
<div style="height:2px;background:linear-gradient(90deg,#66afd2 0px,#69b0d3 205.5px,#76b7d6 220.5px,#84beda 225.5px,#b0d4e7 232.5px,#c6dfed 236.5px,#cae1ee 241.5px,#c2ddec 248.5px,#e5eef4 258.5px,#e3edf3 264.5px,#d5e7f1 265.5px,#98c8e0 267.5px,#81bdd9 268.5px,#75b7d6 269.5px,#69b1d3 272.5px,#69b0d3 276.5px,#6cb2d4 281.5px,#61abd0 285.5px,#4190c1 290.5px,#276eb0 296.5px,#246aae 302.5px,#266db0 324.5px,#3c8abe 330.5px,#4d9bc7 333.5px,#63add1 337.5px,#71b5d5 344.5px,#7cbad8 367.5px,#85bfdb 395.5px,#8bc1dc 412.5px,#81bcd9 418.5px,#6eb3d4 422.5px,#4998c6 430.5px,#3b88bd 436.5px,#2c75b4 447.5px,#2c75b4 463.5px,#4897c5 502.5px,#5ca7ce 526.5px,#64add1 578.5px,#66afd2 861px)"></div>
<div style="height:2px;background:linear-gradient(90deg,#66afd2 0px,#69b0d3 205.5px,#76b7d6 220.5px,#88c0db 226.5px,#c1ddeb 235.5px,#cae1ee 239.5px,#c3deec 248.5px,#e6eff4 258.5px,#e3eef3 264.5px,#d6e7f1 265.5px,#98c8e0 267.5px,#81bdd9 268.5px,#75b6d6 269.5px,#69b0d3 272.5px,#69b0d3 276.5px,#6cb2d4 281.5px,#62acd0 285.5px,#4897c5 289.5px,#276eb0 296.5px,#246aae 302.5px,#276db0 324.5px,#3c8abe 330.5px,#4e9bc8 333.5px,#64add1 337.5px,#73b5d6 344.5px,#7fbbd9 365.5px,#87bfdb 394.5px,#8cc2dc 410.5px,#83bdda 416.5px,#71b4d5 420.5px,#5ba6cd 424.5px,#408fc1 431.5px,#2c75b4 444.5px,#2a72b2 458.5px,#4595c4 498.5px,#5aa6cd 521.5px,#63add1 564.5px,#66afd2 861px)"></div>
<div style="height:2px;background:linear-gradient(90deg,#66afd2 0px,#69b0d3 206.5px,#75b7d6 220.5px,#87bfdb 226.5px,#c4deec 236.5px,#cae2ee 241.5px,#c5dfed 248.5px,#e6eff4 258.5px,#e4eef4 264.5px,#d7e8f1 265.5px,#99c8e0 267.5px,#82bdda 268.5px,#75b6d6 269.5px,#68b0d3 272.5px,#68b0d3 276.5px,#6db2d4 281.5px,#62acd0 285.5px,#4897c5 289.5px,#276eb0 296.5px,#246aae 302.5px,#276eb0 324.5px,#3d8bbf 330.5px,#4f9cc8 333.5px,#65aed2 337.5px,#75b6d6 344.5px,#82bdda 364.5px,#89c0db 394.5px,#8cc2dc 409.5px,#82bdda 415.5px,#6db2d4 419.5px,#4392c3 428.5px,#2c75b4 441.5px,#2870b1 452.5px,#347fb9 474.5px,#4a99c6 500.5px,#5da8ce 524.5px,#64aed1 587.5px,#66afd2 861px)"></div>
<div style="height:2px;background:linear-gradient(90deg,#66afd2 0px,#69b0d3 206.5px,#75b7d6 220.5px,#85bfdb 226.5px,#c2ddec 236.5px,#cae2ee 241.5px,#c6e0ed 248.5px,#e7eff4 258.5px,#e5eef4 264.5px,#d8e8f1 265.5px,#99c9e0 267.5px,#82bdda 268.5px,#75b6d6 269.5px,#68b0d3 272.5px,#66afd2 275.5px,#6db3d4 280.5px,#62acd0 285.5px,#4897c5 289.5px,#2a72b2 295.5px,#246aae 298.5px,#256caf 323.5px,#307ab6 327.5px,#4897c5 332.5px,#62acd0 336.5px,#74b6d6 342.5px,#85beda 360.5px,#8bc1dc 394.5px,#8dc2dd 408.5px,#81bcd9 414.5px,#59a5cd 421.5px,#4090c1 427.5px,#2a72b2 440.5px,#276eb0 452.5px,#3682ba 476.5px,#4b99c6 499.5px,#5da7ce 522.5px,#64add1 586.5px,#66afd2 861px)"></div>
<div style="height:2px;background:linear-gradient(90deg,#66afd2 0px,#68b0d3 206.5px,#75b6d6 220.5px,#84beda 226.5px,#afd4e6 233.5px,#c5dfec 237.5px,#cae2ee 242.5px,#c8e0ed 248.5px,#e8f0f4 258.5px,#e6eff4 264.5px,#d9e9f1 265.5px,#9ac9e0 267.5px,#82bdda 268.5px,#74b6d6 269.5px,#68b0d2 272.5px,#66afd2 275.5px,#6db3d4 280.5px,#63acd1 285.5px,#519ec9 288.5px,#3c8abf 291.5px,#276eb0 296.5px,#246aae 303.5px,#266caf 323.5px,#317bb7 327.5px,#4997c5 332.5px,#63add1 336.5px,#76b7d6 342.5px,#88c0db 359.5px,#8dc2dd 395.5px,#8dc2dd 407.5px,#83bdda 412.5px,#6cb2d4 416.5px,#4393c3 424.5px,#2b73b3 437.5px,#266caf 447.5px,#2f78b5 466.5px,#4b99c6 497.5px,#5ca7ce 520.5px,#64add1 587.5px,#66afd2 861px)"></div>
<div style="height:2px;background:linear-gradient(90deg,#66afd2 0px,#69b0d3 207.5px,#76b7d6 221.5px,#88c0db 227.5px,#c3deec 237.5px,#cbe2ee 242.5px,#cbe2ee 249.5px,#e9f0f4 258.5px,#e7eff4 264.5px,#dae9f2 265.5px,#9bc9e0 267.5px,#82bdda 268.5px,#74b6d6 269.5px,#67b0d2 272.5px,#66afd2 275.5px,#6db3d4 280.5px,#63acd1 285.5px,#519ec9 288.5px,#3d8abf 291.5px,#276eb0 296.5px,#246aae 304.5px,#266daf 323.5px,#317bb7 327.5px,#4292c2 331.5px,#65aed2 336.5px,#78b8d7 342.5px,#8bc2dc 358.5px,#8ec3dd 405.5px,#81bdd9 411.5px,#70b4d5 414.5px,#58a4cc 418.5px,#4190c2 423.5px,#2970b1 436.5px,#256bae 446.5px,#3079b6 466.5px,#4a99c6 495.5px,#5ca7ce 517.5px,#64add1 581.5px,#66afd2 861px)"></div>
<div style="height:2px;background:linear-gradient(90deg,#66afd2 0px,#69b0d3 207.5px,#75b7d6 221.5px,#87bfdb 227.5px,#c2ddec 237.5px,#cbe2ee 243.5px,#cce3ef 249.5px,#e9f1f5 258.5px,#e8f0f4 264.5px,#dbeaf2 265.5px,#9bcae1 267.5px,#82bdda 268.5px,#74b6d6 269.5px,#67b0d2 272.5px,#66afd2 275.5px,#6eb3d4 280.5px,#63add1 285.5px,#519ec9 288.5px,#3d8bbf 291.5px,#276eb0 296.5px,#246aae 304.5px,#266db0 323.5px,#327cb7 327.5px,#4392c3 331.5px,#67afd2 336.5px,#7bb9d8 342.5px,#8fc4dd 357.5px,#8fc4dd 375.5px,#8ec3dd 404.5px,#84beda 409.5px,#74b6d6 412.5px,#5fa9cf 415.5px,#4191c2 421.5px,#286fb1 434.5px,#2369ae 444.5px,#2e77b5 463.5px,#4b9ac7 494.5px,#5ca7ce 516.5px,#64add1 591.5px,#66afd2 861px)"></div>
<div style="height:2px;background:linear-gradient(90deg,#66afd2 0px,#68b0d3 207.5px,#75b7d6 221.5px,#86bfdb 227.5px,#c1ddeb 237.5px,#cbe2ee 242.5px,#cee3ef 249.5px,#eaf1f5 258.5px,#e8f0f4 264.5px,#dceaf2 265.5px,#9ccae1 267.5px,#82bdda 268.5px,#74b6d6 269.5px,#67b0d2 272.5px,#66afd2 275.5px,#6eb3d4 280.5px,#63add1 285.5px,#529fc9 288.5px,#3d8bbf 291.5px,#276eb0 296.5px,#246aae 305.5px,#266db0 323.5px,#327cb7 327.5px,#4393c3 331.5px,#63acd1 335.5px,#78b8d7 340.5px,#90c4dd 353.5px,#95c7df 367.5px,#90c4de 396.5px,#8bc1dc 405.5px,#7ebbd8 409.5px,#57a3cb 415.5px,#4292c2 419.5px,#276eb0 432.5px,#2267ad 441.5px,#2a72b2 458.5px,#4b9ac7 492.5px,#5ca7ce 514.5px,#64aed1 595.5px,#66afd2 861px)"></div>
<div style="height:2px;background:linear-gradient(90deg,#66afd2 0px,#69b0d3 208.5px,#76b7d6 222.5px,#89c1dc 228.5px,#c3deec 238.5px,#cce2ef 244.5px,#cfe4ef 249.5px,#ebf1f5 258.5px,#e9f0f4 264.5px,#ddeaf2 265.5px,#bfdceb 266.5px,#9ccae1 267.5px,#83bdda 268.5px,#74b6d6 269.5px,#67afd2 272.5px,#66afd2 275.5px,#6eb3d4 280.5px,#63add1 285.5px,#529fc9 288.5px,#3d8bbf 291.5px,#276eb0 296.5px,#246bae 306.5px,#276eb0 323.5px,#327db8 327.5px,#4494c4 331.5px,#64aed1 335.5px,#7bb9d8 340.5px,#92c5de 352.5px,#99c8e0 366.5px,#8ec3dd 402.5px,#81bcd9 407.5px,#53a0ca 414.5px,#408fc1 418.5px,#266db0 430.5px,#2166ab 439.5px,#2971b2 456.5px,#4c9bc7 491.5px,#5ca7ce 513.5px,#65aed1 612.5px,#66afd2 861px)"></div>
<div style="height:2px;background:linear-gradient(90deg,#66afd2 0px,#69b0d3 208.5px,#76b7d6 222.5px,#88c0db 228.5px,#c2ddec 238.5px,#cce3ef 244.5px,#d2e6f0 250.5px,#ecf2f5 258.5px,#eaf1f5 264.5px,#ddebf2 265.5px,#c0ddeb 266.5px,#9dcbe1 267.5px,#83bdda 268.5px,#74b6d6 269.5px,#69b1d3 271.5px,#66afd2 275.5px,#6eb3d4 280.5px,#64add1 285.5px,#529fc9 288.5px,#3d8bbf 291.5px,#276eb0 296.5px,#256bae 307.5px,#276eb0 323.5px,#337eb8 327.5px,#4695c4 331.5px,#66afd2 335.5px,#7dbbd8 340.5px,#95c6df 351.5px,#9dcae1 364.5px,#8ec3dd 401.5px,#7fbcd9 406.5px,#509dc9 413.5px,#4190c2 416.5px,#266caf 428.5px,#2064a9 436.5px,#276eb0 452.5px,#4c9bc7 489.5px,#5ca7ce 511.5px,#65aed1 619.5px,#66afd2 861px)"></div>
<div style="height:2px;background:linear-gradient(90deg,#66afd2 0px,#68b0d3 208.5px,#76b7d6 222.5px,#87bfdb 228.5px,#c1ddeb 238.5px,#cde3ef 244.5px,#d6e7f1 251.5px,#edf2f5 258.5px,#ebf1f5 264.5px,#deebf2 265.5px,#c1ddec 266.5px,#9ecbe1 267.5px,#83beda 268.5px,#74b6d6 269.5px,#69b1d3 271.5px,#66afd2 275.5px,#6eb3d4 280.5px,#64add1 285.5px,#529fc9 288.5px,#3d8bbf 291.5px,#276eb0 296.5px,#256bae 309.5px,#276eb0 323.5px,#3884bb 328.5px,#4796c5 331.5px,#68b0d2 335.5px,#80bcd9 340.5px,#97c7df 350.5px,#a0cce2 363.5px,#8dc3dd 400.5px,#7dbbd8 405.5px,#53a0ca 411.5px,#3f8ec0 415.5px,#246aae 427.5px,#1f61a6 435.5px,#276db0 451.5px,#4e9cc8 488.5px,#5ca7ce 510.5px,#65aed2 637.5px,#66afd2 861px)"></div>
<div style="height:2px;background:linear-gradient(90deg,#66afd2 0px,#69b0d3 209.5px,#75b7d6 222.5px,#86bfdb 228.5px,#c3deec 239.5px,#cfe4ef 246.5px,#dae9f2 252.5px,#eef3f5 258.5px,#ecf2f5 264.5px,#dfecf3 265.5px,#c3deec 266.5px,#9ecbe2 267.5px,#83beda 268.5px,#74b6d6 269.5px,#69b0d3 271.5px,#65afd2 275.5px,#6eb3d4 280.5px,#68b0d3 284.5px,#529fca 288.5px,#3d8bbf 291.5px,#276eb0 296.5px,#256baf 310.5px,#286fb1 323.5px,#3885bc 328.5px,#4998c5 331.5px,#6ab1d3 335.5px,#82bdda 340.5px,#98c8e0 349.5px,#a4cee3 361.5px,#8fc3dd 398.5px,#81bcd9 403.5px,#6bb2d3 406.5px,#4493c3 412.5px,#256baf 424.5px,#1e60a3 432.5px,#2165ab 443.5px,#4e9cc8 486.5px,#5ca7ce 508.5px,#65aed2 642.5px,#66afd2 861px)"></div>
<div style="height:2px;background:linear-gradient(90deg,#66afd2 0px,#69b0d3 209.5px,#77b7d7 223.5px,#89c1dc 229.5px,#c2deec 239.5px,#cfe4f0 246.5px,#dae9f2 252.5px,#eef3f5 258.5px,#ecf2f5 264.5px,#e0ecf3 265.5px,#c4deec 266.5px,#9fcce2 267.5px,#84beda 268.5px,#74b6d6 269.5px,#69b0d3 271.5px,#65aed2 275.5px,#75b6d6 281.5px,#6db2d4 284.5px,#53a0ca 288.5px,#3d8bbf 291.5px,#276eb0 296.5px,#256baf 312.5px,#286fb1 323.5px,#3985bc 328.5px,#4291c2 330.5px,#6bb2d3 335.5px,#85beda 340.5px,#9ac9e0 348.5px,#a8d0e4 360.5px,#a1cde2 374.5px,#8dc3dd 398.5px,#80bcd9 402.5px,#53a0ca 408.5px,#4191c2 411.5px,#2368ad 423.5px,#1d5ea0 430.5px,#1f62a7 440.5px,#3d8bbf 469.5px,#56a2cb 493.5px,#60aacf 530.5px,#66afd2 747.5px,#66afd2 861px)"></div>
<div style="height:2px;background:linear-gradient(90deg,#66afd2 0px,#69b0d3 209.5px,#76b7d6 223.5px,#88c0db 229.5px,#c1ddeb 239.5px,#d0e4f0 246.5px,#dbeaf2 252.5px,#eff3f6 258.5px,#edf2f5 264.5px,#e1edf3 265.5px,#c5dfed 266.5px,#a0cce2 267.5px,#84beda 268.5px,#74b6d6 269.5px,#68b0d3 271.5px,#65aed2 275.5px,#7cbad8 281.5px,#79b8d7 283.5px,#5ba6cd 287.5px,#4291c2 290.5px,#2a72b2 295.5px,#256baf 298.5px,#2870b1 323.5px,#3986bc 328.5px,#4292c3 330.5px,#66afd2 334.5px,#84beda 339.5px,#99c9e0 346.5px,#abd2e5 358.5px,#a8d0e4 370.5px,#8dc3dd 397.5px,#7ebbd9 401.5px,#4998c6 408.5px,#347fb9 414.5px,#1f63a7 423.5px,#1c5c9e 428.5px,#1e60a4 438.5px,#276eb0 448.5px,#4796c5 477.5px,#59a4cc 496.5px,#62acd0 568.5px,#66afd2 861px)"></div>
<div style="height:2px;background:linear-gradient(90deg,#66afd2 0px,#68b0d3 209.5px,#76b7d6 223.5px,#87c0db 229.5px,#c4deec 240.5px,#dceaf2 252.5px,#f0f4f6 258.5px,#eef3f5 264.5px,#e2edf3 265.5px,#c6dfed 266.5px,#a0cce2 267.5px,#84beda 268.5px,#73b6d6 269.5px,#68b0d3 271.5px,#65aed2 275.5px,#77b7d7 279.5px,#83bdda 281.5px,#84beda 282.5px,#78b8d7 284.5px,#4a99c6 289.5px,#3884bb 292.5px,#276eb0 296.5px,#266daf 317.5px,#2970b1 323.5px,#3a87bd 328.5px,#4393c3 330.5px,#68b0d2 334.5px,#86bfdb 339.5px,#9ccae1 346.5px,#afd4e6 358.5px,#acd2e5 369.5px,#8dc3dd 396.5px,#7dbbd8 400.5px,#4d9bc7 406.5px,#3e8cc0 409.5px,#1f62a6 421.5px,#1b5a9b 426.5px,#1c5d9f 435.5px,#256bae 445.5px,#4393c3 472.5px,#56a2cb 490.5px,#60aacf 537.5px,#66afd2 758.5px,#66afd2 861px)"></div>
<div style="height:2px;background:linear-gradient(90deg,#66afd2 0px,#69b0d3 210.5px,#76b7d6 223.5px,#86bfdb 229.5px,#c2deec 240.5px,#d3e6f0 248.5px,#e4eef4 254.5px,#f1f4f6 259.5px,#eef3f5 264.5px,#e3edf3 265.5px,#c7e0ed 266.5px,#a1cce2 267.5px,#84beda 268.5px,#73b6d6 269.5px,#68b0d2 271.5px,#65aed2 275.5px,#72b5d5 278.5px,#8ac1dc 281.5px,#8cc2dc 282.5px,#87c0db 283.5px,#54a0ca 288.5px,#4291c2 290.5px,#2a72b2 295.5px,#256caf 298.5px,#286fb1 322.5px,#327cb7 326.5px,#4494c4 330.5px,#6ab1d3 334.5px,#89c0db 339.5px,#9fcbe2 346.5px,#b2d5e7 357.5px,#b1d5e7 367.5px,#8ec3dd 395.5px,#7cbad8 399.5px,#4a99c6 405.5px,#3986bc 409.5px,#2064a9 418.5px,#1a5899 423.5px,#1a599a 431.5px,#256baf 444.5px,#4292c2 469.5px,#56a2cb 488.5px,#60aacf 540.5px,#66afd2 761.5px,#66afd2 861px)"></div>
<div style="height:2px;background:linear-gradient(90deg,#66afd2 0px,#69b0d3 210.5px,#75b7d6 223.5px,#85bfdb 229.5px,#c5dfed 241.5px,#e1edf3 253.5px,#f1f4f6 258.5px,#eff3f5 264.5px,#e3eef3 265.5px,#c8e0ed 266.5px,#a1cde2 267.5px,#84beda 268.5px,#73b6d6 269.5px,#68b0d2 271.5px,#65aed2 275.5px,#73b6d6 278.5px,#91c4de 281.5px,#93c6de 282.5px,#8ec3dd 283.5px,#5da8ce 287.5px,#4291c2 290.5px,#2a72b2 295.5px,#256caf 298.5px,#2870b1 322.5px,#327db8 326.5px,#4695c4 330.5px,#6bb2d3 334.5px,#8bc1dc 339.5px,#a6cfe4 348.5px,#b6d7e8 358.5px,#b3d6e8 368.5px,#8ec3dd 394.5px,#7bbad8 398.5px,#4796c5 404.5px,#2267ad 415.5px,#195797 421.5px,#185695 428.5px,#1f62a7 438.5px,#2c75b3 448.5px,#4695c4 470.5px,#57a3cb 487.5px,#61abd0 556.5px,#66afd2 827.5px,#66afd2 861px)"></div>
<div style="height:2px;background:linear-gradient(90deg,#66afd2 0px,#69b0d3 210.5px,#77b8d7 224.5px,#89c0db 230.5px,#c4deec 241.5px,#e2edf3 253.5px,#f2f5f6 258.5px,#eff3f6 264.5px,#e4eef3 265.5px,#c9e1ee 266.5px,#a2cde3 267.5px,#84beda 268.5px,#73b6d6 269.5px,#67b0d2 271.5px,#65aed1 275.5px,#75b6d6 278.5px,#96c7df 281.5px,#99c9e0 282.5px,#94c6df 283.5px,#5ea8ce 287.5px,#4291c2 290.5px,#2a72b2 295.5px,#256caf 298.5px,#2970b1 322.5px,#337eb8 326.5px,#4796c5 330.5px,#6db3d4 334.5px,#8dc3dd 339.5px,#acd2e5 349.5px,#badaea 359.5px,#b5d7e8 369.5px,#8fc3dd 393.5px,#7ab9d8 397.5px,#4c9ac7 402.5px,#3c8abf 405.5px,#2064a9 414.5px,#185594 419.5px,#175291 425.5px,#1d5ea2 435.5px,#246aae 441.5px,#4191c2 464.5px,#55a2cb 483.5px,#60aacf 541.5px,#66afd2 751.5px,#66afd2 861px)"></div>
<div style="height:2px;background:linear-gradient(90deg,#66afd2 0px,#69b0d3 210.5px,#77b7d7 224.5px,#88c0db 230.5px,#c3deec 241.5px,#d6e8f1 249.5px,#f2f5f6 258.5px,#f0f4f6 264.5px,#e5eef4 265.5px,#cae1ee 266.5px,#a2cde3 267.5px,#85beda 268.5px,#73b5d6 269.5px,#67afd2 271.5px,#65aed1 275.5px,#6db3d4 277.5px,#82bdda 279.5px,#9bcae1 281.5px,#9fcbe2 282.5px,#99c9e0 283.5px,#6ab1d3 286.5px,#4292c2 290.5px,#2a72b2 295.5px,#266caf 298.5px,#2971b1 322.5px,#337eb8 326.5px,#4190c1 329.5px,#66afd2 333.5px,#8ac1dc 338.5px,#a4cee3 345.5px,#bbdaea 356.5px,#bcdbea 365.5px,#90c4dd 392.5px,#81bdd9 395.5px,#5ba6cd 399.5px,#4292c2 402.5px,#2064a9 412.5px,#175392 417.5px,#15508d 422.5px,#1a5999 431.5px,#2369ad 439.5px,#408fc1 461.5px,#55a1cb 481.5px,#60aacf 549.5px,#66afd2 772.5px,#66afd2 861px)"></div>
<div style="height:2px;background:linear-gradient(90deg,#66afd2 0px,#69b0d3 210.5px,#77b7d7 224.5px,#8cc2dc 231.5px,#c5dfed 242.5px,#e3edf3 253.5px,#f3f5f6 258.5px,#f0f4f6 264.5px,#e5eef4 265.5px,#cbe2ee 266.5px,#a3cee3 267.5px,#85beda 268.5px,#73b5d5 269.5px,#67afd2 271.5px,#64aed1 275.5px,#6eb3d4 277.5px,#85beda 279.5px,#a0cce2 281.5px,#a4cee3 282.5px,#9ecbe1 283.5px,#90c4de 284.5px,#6cb2d4 286.5px,#4292c2 290.5px,#2a72b2 295.5px,#266caf 298.5px,#2971b2 322.5px,#347fb9 326.5px,#4191c2 329.5px,#68b0d2 333.5px,#8cc2dc 338.5px,#a9d1e5 346.5px,#bedceb 356.5px,#bfdceb 365.5px,#94c6df 390.5px,#81bdd9 394.5px,#62acd0 397.5px,#4696c4 400.5px,#2065aa 410.5px,#175290 415.5px,#144d89 420.5px,#185494 428.5px,#2469ae 438.5px,#3f8ec1 458.5px,#54a0ca 477.5px,#5ea9cf 532.5px,#66afd2 715.5px,#66afd2 861px)"></div>
<div style="height:2px;background:linear-gradient(90deg,#66afd2 0px,#69b0d3 210.5px,#77b7d7 224.5px,#8bc1dc 231.5px,#c4dfec 242.5px,#e7eff4 254.5px,#f4f6f6 259.5px,#f0f4f6 264.5px,#e6eff4 265.5px,#cbe2ee 266.5px,#a3cee3 267.5px,#85beda 268.5px,#73b5d5 269.5px,#66afd2 271.5px,#64aed1 275.5px,#6eb3d4 277.5px,#78b8d7 278.5px,#a5cfe3 281.5px,#a9d1e5 282.5px,#a3cde3 283.5px,#94c6df 284.5px,#6db3d4 286.5px,#4b9ac6 289.5px,#3d8bbf 291.5px,#2a72b2 295.5px,#266daf 298.5px,#2a72b2 322.5px,#3580b9 326.5px,#4292c2 329.5px,#69b1d3 333.5px,#8ec3dd 338.5px,#aed3e6 347.5px,#c2ddec 357.5px,#c1ddeb 366.5px,#92c5de 390.5px,#81bdd9 393.5px,#60aacf 396.5px,#4494c3 399.5px,#2166ab 408.5px,#16518f 413.5px,#134b86 417.5px,#16508e 425.5px,#2368ad 436.5px,#3f8ec1 456.5px,#53a0ca 475.5px,#5fa9cf 541.5px,#66afd2 733.5px,#66afd2 861px)"></div>
<div style="height:2px;background:linear-gradient(90deg,#66afd2 0px,#69b0d3 210.5px,#77b7d7 224.5px,#8ac1dc 231.5px,#c7e0ed 243.5px,#e8f0f4 254.5px,#f4f6f7 259.5px,#f0f4f6 264.5px,#e6eff4 265.5px,#cce3ef 266.5px,#a4cee3 267.5px,#85beda 268.5px,#72b5d5 269.5px,#66afd2 271.5px,#64add1 275.5px,#6eb3d4 277.5px,#79b9d7 278.5px,#a9d1e5 281.5px,#aed3e6 282.5px,#a7d0e4 283.5px,#97c8e0 284.5px,#6eb3d4 286.5px,#55a2cb 288.5px,#4292c2 290.5px,#2a72b2 295.5px,#266daf 298.5px,#2a72b2 322.5px,#3581ba 326.5px,#4392c3 329.5px,#6bb1d3 333.5px,#90c4dd 338.5px,#b3d6e7 348.5px,#c5dfed 357.5px,#c3deec 366.5px,#97c8df 388.5px,#89c1dc 391.5px,#77b8d7 393.5px,#4a99c6 397.5px,#3e8cbf 399.5px,#2267ac 406.5px,#144d8a 412.5px,#124883 416.5px,#154f8d 424.5px,#2369ae 435.5px,#3e8dc0 453.5px,#529fca 472.5px,#5ea9cf 536.5px,#66afd2 716.5px,#66afd2 861px)"></div>
<div style="height:2px;background:linear-gradient(90deg,#66afd2 0px,#69b0d3 210.5px,#77b7d7 224.5px,#89c1dc 231.5px,#c6e0ed 243.5px,#f4f5f6 258.5px,#f1f4f6 264.5px,#e6eff4 265.5px,#cde3ef 266.5px,#a4cee3 267.5px,#85beda 268.5px,#72b5d5 269.5px,#66afd2 271.5px,#62acd0 274.5px,#68b0d2 276.5px,#7ab9d7 278.5px,#add3e6 281.5px,#b3d6e7 282.5px,#abd2e5 283.5px,#9ac9e0 284.5px,#70b4d5 286.5px,#56a2cb 288.5px,#4292c2 290.5px,#2a72b2 295.5px,#266db0 299.5px,#2b73b3 322.5px,#3681ba 326.5px,#4393c3 329.5px,#6cb2d4 333.5px,#92c5de 338.5px,#b8d8e9 349.5px,#c8e0ed 358.5px,#c4deec 367.5px,#99c8e0 387.5px,#8ac1dc 390.5px,#77b7d7 392.5px,#519ec9 395.5px,#408fc1 397.5px,#2063a8 405.5px,#144c88 410.5px,#10467f 414.5px,#134b87 421.5px,#2268ad 433.5px,#3e8dc0 451.5px,#529fc9 470.5px,#5faacf 548.5px,#66afd2 743.5px,#66afd2 861px)"></div>
<div style="height:2px;background:linear-gradient(90deg,#66afd2 0px,#69b0d3 210.5px,#77b7d7 224.5px,#88c0db 231.5px,#b1d5e7 239.5px,#cce3ef 245.5px,#f4f6f6 258.5px,#f1f4f6 264.5px,#e7eff4 265.5px,#cde3ef 266.5px,#a4cee3 267.5px,#85bfda 268.5px,#72b5d5 269.5px,#65afd2 271.5px,#62acd0 274.5px,#68b0d2 276.5px,#6fb3d4 277.5px,#7bb9d8 278.5px,#b1d5e7 281.5px,#b7d8e8 282.5px,#afd4e6 283.5px,#9dcbe1 284.5px,#71b4d5 286.5px,#56a2cb 288.5px,#4292c2 290.5px,#2b73b2 295.5px,#276eb0 299.5px,#2b74b3 322.5px,#3682ba 326.5px,#4594c4 329.5px,#6db3d4 333.5px,#93c5de 338.5px,#bad9e9 349.5px,#cae1ee 358.5px,#c6dfed 367.5px,#9ecbe1 385.5px,#8bc2dc 389.5px,#76b7d6 391.5px,#4f9cc8 394.5px,#3f8dc0 396.5px,#2165aa 403.5px,#134c87 408.5px,#0f437c 412.5px,#124883 419.5px,#1e61a5 429.5px,#256caf 433.5px,#3e8dc0 449.5px,#519ec9 467.5px,#5fa9cf 543.5px,#66afd2 724.5px,#66afd2 861px)"></div>
<div style="height:2px;background:linear-gradient(90deg,#66afd2 0px,#69b0d3 210.5px,#76b7d6 224.5px,#8cc2dc 232.5px,#c8e0ed 244.5px,#f4f6f7 258.5px,#f1f4f6 264.5px,#e7eff4 265.5px,#cee3ef 266.5px,#a5cfe3 267.5px,#85bfda 268.5px,#72b5d5 269.5px,#65aed2 271.5px,#62acd0 274.5px,#67b0d2 276.5px,#6fb3d4 277.5px,#7cbad8 278.5px,#b4d6e8 281.5px,#badaea 282.5px,#b2d5e7 283.5px,#88c0db 285.5px,#72b5d5 286.5px,#56a2cb 288.5px,#4292c2 290.5px,#2b73b3 295.5px,#276eb0 299.5px,#2c74b3 322.5px,#3783bb 326.5px,#4696c4 329.5px,#6fb3d4 333.5px,#94c6df 338.5px,#bbdaea 349.5px,#cce2ee 358.5px,#c9e1ee 366.5px,#a6cfe4 382.5px,#94c6df 387.5px,#82bdda 389.5px,#57a3cc 392.5px,#4292c2 394.5px,#2267ac 401.5px,#134b87 406.5px,#0e4179 410.5px,#10447d 416.5px,#1a599a 425.5px,#2368ad 430.5px,#3d8bbf 446.5px,#509dc9 464.5px,#5ea8ce 538.5px,#66afd2 708.5px,#66afd2 861px)"></div>
<div style="height:2px;background:linear-gradient(90deg,#66afd2 0px,#69b0d3 210.5px,#76b7d6 224.5px,#8bc1dc 232.5px,#cbe2ee 245.5px,#f5f6f7 258.5px,#f1f4f6 264.5px,#e7f0f4 265.5px,#cfe4ef 266.5px,#a5cfe3 267.5px,#85bfdb 268.5px,#72b5d5 269.5px,#65aed1 271.5px,#61abd0 274.5px,#67b0d2 276.5px,#6fb4d4 277.5px,#7cbad8 278.5px,#b7d8e9 281.5px,#bedbeb 282.5px,#b5d7e8 283.5px,#8ac1dc 285.5px,#73b5d5 286.5px,#56a2cb 288.5px,#4292c3 290.5px,#2b73b3 295.5px,#276eb0 299.5px,#2c75b4 322.5px,#3884bb 326.5px,#4897c5 329.5px,#66afd2 332.5px,#8fc4dd 337.5px,#b3d6e7 346.5px,#cbe2ee 356.5px,#cde3ef 364.5px,#b6d7e8 376.5px,#9bcae1 385.5px,#8ec3dd 387.5px,#73b5d6 389.5px,#54a1ca 391.5px,#408fc1 393.5px,#2063a8 400.5px,#134c87 404.5px,#0d3f76 408.5px,#0e427a 414.5px,#185493 422.5px,#2267ac 428.5px,#3c8abe 443.5px,#4f9dc8 461.5px,#5da8ce 532.5px,#66afd2 693.5px,#66afd2 861px)"></div>
<div style="height:2px;background:linear-gradient(90deg,#66afd2 0px,#69b0d3 210.5px,#76b7d6 224.5px,#8ac1dc 232.5px,#b1d5e7 240.5px,#d2e5f0 247.5px,#f5f6f7 258.5px,#f1f4f6 264.5px,#e8f0f4 265.5px,#cfe4f0 266.5px,#a6cfe4 267.5px,#85bfdb 268.5px,#71b5d5 269.5px,#64aed1 271.5px,#61abd0 274.5px,#67b0d2 276.5px,#6fb4d4 277.5px,#7dbad8 278.5px,#bad9e9 281.5px,#c1ddeb 282.5px,#b8d8e9 283.5px,#8bc2dc 285.5px,#73b6d6 286.5px,#57a3cb 288.5px,#4292c3 290.5px,#2b74b3 295.5px,#286fb1 299.5px,#2d76b4 322.5px,#3885bc 326.5px,#4998c6 329.5px,#71b5d5 333.5px,#90c4de 337.5px,#b4d6e8 346.5px,#cce3ef 356.5px,#cee4ef 364.5px,#bad9e9 375.5px,#a2cde3 383.5px,#8fc3dd 386.5px,#71b4d5 388.5px,#519ec9 390.5px,#4595c4 391.5px,#2166ab 398.5px,#114781 403.5px,#0c3e74 406.5px,#0c3e75 411.5px,#144c88 418.5px,#2369ad 427.5px,#3c8abe 441.5px,#4e9cc8 459.5px,#5ea9cf 545.5px,#66afd2 717.5px,#66afd2 861px)"></div>
<div style="height:2px;background:linear-gradient(90deg,#66afd2 0px,#69b0d3 210.5px,#76b7d6 224.5px,#89c1dc 232.5px,#b0d4e6 240.5px,#d1e5f0 247.5px,#f5f6f7 258.5px,#f1f4f6 264.5px,#e8f0f4 265.5px,#d0e4f0 266.5px,#a6cfe4 267.5px,#85bfdb 268.5px,#71b5d5 269.5px,#64add1 271.5px,#61abd0 274.5px,#67b0d2 276.5px,#6fb4d4 277.5px,#7dbbd8 278.5px,#bcdaea 281.5px,#c3deec 282.5px,#bad9e9 283.5px,#8dc2dd 285.5px,#74b6d6 286.5px,#63acd1 287.5px,#4392c3 290.5px,#2c74b3 295.5px,#2870b1 299.5px,#2e77b5 322.5px,#3986bc 326.5px,#4291c2 328.5px,#69b0d3 332.5px,#91c5de 337.5px,#b8d8e9 347.5px,#cee4ef 357.5px,#cfe4ef 365.5px,#b9d9e9 376.5px,#9fcce2 383.5px,#90c4dd 385.5px,#81bcd9 386.5px,#5ba6cd 388.5px,#4292c2 390.5px,#2369ad 396.5px,#0f437b 402.5px,#0b3b70 405.5px,#0d3f75 411.5px,#175392 419.5px,#2268ad 425.5px,#3c8abe 439.5px,#4e9cc8 457.5px,#5faacf 557.5px,#66afd2 747.5px,#66afd2 861px)"></div>
<div style="height:2px;background:linear-gradient(90deg,#66afd2 0px,#68b0d3 210.5px,#76b7d6 224.5px,#8dc2dd 233.5px,#b4d6e8 241.5px,#d4e6f1 248.5px,#f6f6f7 258.5px,#f1f4f6 264.5px,#e8f0f4 265.5px,#d1e5f0 266.5px,#a6cfe4 267.5px,#86bfdb 268.5px,#71b5d5 269.5px,#68b0d3 270.5px,#60abd0 273.5px,#67afd2 276.5px,#6fb4d4 277.5px,#7ebbd8 278.5px,#bedbea 281.5px,#c5dfed 282.5px,#bcdaea 283.5px,#8ec3dd 285.5px,#75b6d6 286.5px,#63add1 287.5px,#4393c3 290.5px,#2c74b3 295.5px,#2970b1 300.5px,#2e78b5 322.5px,#3e8cc0 327.5px,#4292c3 328.5px,#6ab1d3 332.5px,#92c5de 337.5px,#b9d9e9 347.5px,#d0e4f0 357.5px,#d1e5f0 366.5px,#bedbeb 375.5px,#a8d0e4 381.5px,#9ac9e0 383.5px,#8fc4dd 384.5px,#56a2cb 387.5px,#4997c5 388.5px,#3581ba 391.5px,#2165aa 395.5px,#0f447c 400.5px,#0a396e 403.5px,#0b3b70 408.5px,#134b87 415.5px,#2267ac 423.5px,#3b88bd 436.5px,#4d9bc7 454.5px,#5fa9cf 551.5px,#66afd2 725.5px,#66afd2 861px)"></div>
<div style="height:2px;background:linear-gradient(90deg,#66afd2 0px,#68b0d3 210.5px,#76b7d6 224.5px,#8cc2dc 233.5px,#b2d5e7 241.5px,#d3e6f0 248.5px,#f6f6f7 258.5px,#f1f4f6 264.5px,#e9f0f4 265.5px,#d1e5f0 266.5px,#a7d0e4 267.5px,#86bfdb 268.5px,#71b4d5 269.5px,#68b0d2 270.5px,#60aacf 273.5px,#67afd2 276.5px,#6fb3d4 277.5px,#7ebbd8 278.5px,#bfdceb 281.5px,#c7e0ed 282.5px,#bddbea 283.5px,#8fc3dd 285.5px,#75b7d6 286.5px,#63add1 287.5px,#4393c3 290.5px,#2c75b4 295.5px,#2971b2 300.5px,#2f79b6 322.5px,#3f8dc0 327.5px,#4393c3 328.5px,#6bb2d3 332.5px,#93c6de 337.5px,#b9d9e9 347.5px,#d1e5f0 357.5px,#d2e5f0 368.5px,#bedbeb 376.5px,#a5cee3 381.5px,#8ec3dd 383.5px,#60aacf 385.5px,#4594c4 387.5px,#246aae 393.5px,#0d4077 399.5px,#09376b 402.5px,#0b3c72 408.5px,#175492 416.5px,#2166ac 421.5px,#3b88bd 434.5px,#4b9ac7 451.5px,#5da8ce 543.5px,#66afd2 703.5px,#66afd2 861px)"></div>
<div style="height:2px;background:linear-gradient(90deg,#66afd2 0px,#68b0d3 210.5px,#76b7d6 224.5px,#8bc2dc 233.5px,#b0d4e7 241.5px,#d6e7f1 249.5px,#f6f7f7 258.5px,#f1f4f6 264.5px,#e9f0f4 265.5px,#d1e5f0 266.5px,#a7d0e4 267.5px,#86bfdb 268.5px,#71b4d5 269.5px,#67b0d2 270.5px,#60aacf 273.5px,#66afd2 276.5px,#6fb3d4 277.5px,#7ebbd9 278.5px,#c0dceb 281.5px,#c8e0ed 282.5px,#bfdceb 283.5px,#8fc4dd 285.5px,#76b7d6 286.5px,#64add1 287.5px,#4393c3 290.5px,#2d75b4 295.5px,#2a72b2 301.5px,#307ab6 322.5px,#3f8ec1 327.5px,#4f9dc8 329.5px,#6db2d4 332.5px,#94c6de 337.5px,#bddbea 348.5px,#d3e6f0 357.5px,#d7e8f1 367.5px,#cfe4ef 373.5px,#b9d9e9 378.5px,#9ecbe1 381.5px,#8dc2dd 382.5px,#70b4d5 383.5px,#5ba6cd 384.5px,#4291c2 386.5px,#2267ac 392.5px,#0e4179 397.5px,#083669 400.5px,#09386d 405.5px,#134b86 412.5px,#2369ad 420.5px,#3a88bd 432.5px,#4b99c6 449.5px,#5ea9cf 552.5px,#66afd2 721.5px,#66afd2 861px)"></div>
<div style="height:2px;background:linear-gradient(90deg,#66afd2 0px,#68b0d3 210.5px,#76b7d6 224.5px,#8ac1dc 233.5px,#aed3e6 241.5px,#d6e7f1 249.5px,#f4f6f7 257.5px,#f5f6f7 261.5px,#f1f4f6 264.5px,#e9f0f4 265.5px,#d2e5f0 266.5px,#a8d0e4 267.5px,#86bfdb 268.5px,#71b4d5 269.5px,#67b0d2 270.5px,#60aacf 273.5px,#66afd2 276.5px,#6fb3d4 277.5px,#7ebbd9 278.5px,#c1ddec 281.5px,#c9e1ee 282.5px,#c0dceb 283.5px,#76b7d6 286.5px,#64add1 287.5px,#4393c3 290.5px,#2d76b4 295.5px,#2a72b2 301.5px,#317bb7 322.5px,#408fc1 327.5px,#509ec9 329.5px,#6eb3d4 332.5px,#94c6df 337.5px,#c9e1ee 351.5px,#d8e8f1 358.5px,#dfecf3 367.5px,#d5e7f1 374.5px,#c6dfed 377.5px,#b3d6e7 379.5px,#a4cee3 380.5px,#8dc2dd 381.5px,#6ab0d3 382.5px,#56a2cb 383.5px,#4897c5 384.5px,#2166ab 391.5px,#0c3d74 396.5px,#083568 398.5px,#083568 402.5px,#0f437b 408.5px,#2268ad 418.5px,#3a87bd 430.5px,#4998c6 446.5px,#5da8ce 542.5px,#66afd2 695.5px,#66afd2 861px)"></div>
<div style="height:2px;background:linear-gradient(90deg,#66afd2 0px,#68b0d3 210.5px,#76b7d6 224.5px,#8dc3dd 234.5px,#acd2e6 241.5px,#d9e9f2 250.5px,#f5f6f7 257.5px,#f5f6f7 261.5px,#f2f4f6 264.5px,#e9f1f5 265.5px,#d2e6f0 266.5px,#a8d0e4 267.5px,#86bfdb 268.5px,#70b4d5 269.5px,#67afd2 270.5px,#5faacf 273.5px,#66afd2 276.5px,#6fb3d4 277.5px,#7ebbd9 278.5px,#c2deec 281.5px,#cbe2ee 282.5px,#c1ddeb 283.5px,#76b7d6 286.5px,#64aed1 287.5px,#4393c3 290.5px,#2d76b4 295.5px,#2b73b3 302.5px,#327cb7 322.5px,#4190c2 327.5px,#6fb3d4 332.5px,#95c6df 337.5px,#d5e7f1 354.5px,#eaf1f5 365.5px,#e9f0f4 371.5px,#d9e9f1 376.5px,#d2e6f0 377.5px,#c6dfed 378.5px,#b1d5e7 379.5px,#90c4dd 380.5px,#62acd0 381.5px,#4594c4 383.5px,#2064a9 390.5px,#0e4078 394.5px,#083568 396.5px,#063365 399.5px,#0c3e74 405.5px,#2267ac 416.5px,#3a87bd 428.5px,#4997c5 444.5px,#5da8ce 548.5px,#66afd2 705.5px,#66afd2 861px)"></div>
<div style="height:2px;background:linear-gradient(90deg,#66afd2 0px,#68b0d3 210.5px,#77b8d7 225.5px,#8cc2dc 234.5px,#aad1e5 241.5px,#d9e9f1 250.5px,#f5f6f7 257.5px,#f5f6f7 261.5px,#f2f4f6 264.5px,#eaf1f5 265.5px,#d3e6f0 266.5px,#a8d0e4 267.5px,#86bfdb 268.5px,#70b4d5 269.5px,#66afd2 270.5px,#5fa9cf 273.5px,#66afd2 276.5px,#6fb3d4 277.5px,#7ebbd9 278.5px,#c4deec 281.5px,#cce2ef 282.5px,#c2ddec 283.5px,#77b7d7 286.5px,#64aed1 287.5px,#4494c3 290.5px,#2e77b5 295.5px,#2c74b3 303.5px,#327db8 322.5px,#4291c2 327.5px,#70b4d5 332.5px,#95c7df 337.5px,#d9e9f1 353.5px,#f4f5f5 362.5px,#f8f1ed 370.5px,#f1f4f6 375.5px,#dfecf3 377.5px,#cbe2ee 378.5px,#9ac9e0 379.5px,#5ea9cf 380.5px,#4e9cc8 381.5px,#4392c3 382.5px,#266caf 388.5px,#2063a8 389.5px,#0c3d73 393.5px,#063364 395.5px,#073366 399.5px,#0f427a 405.5px,#2166ab 414.5px,#3885bc 425.5px,#4595c4 439.5px,#53a0ca 485.5px,#63add1 616.5px,#66afd2 861px)"></div>
<div style="height:2px;background:linear-gradient(90deg,#66afd2 0px,#68b0d3 210.5px,#77b8d7 225.5px,#8fc3dd 235.5px,#aed3e6 242.5px,#d8e8f1 250.5px,#f5f6f7 257.5px,#f5f6f7 261.5px,#f2f4f6 264.5px,#eaf1f5 265.5px,#d3e6f0 266.5px,#a9d1e5 267.5px,#86bfdb 268.5px,#70b4d5 269.5px,#66afd2 270.5px,#5fa9cf 273.5px,#66afd2 276.5px,#6eb3d4 277.5px,#7ebbd9 278.5px,#c5dfec 281.5px,#cde3ef 282.5px,#c3deec 283.5px,#77b8d7 286.5px,#65aed1 287.5px,#4494c3 290.5px,#2e78b5 295.5px,#2d75b4 304.5px,#337eb8 322.5px,#4292c3 327.5px,#71b5d5 332.5px,#96c7df 337.5px,#e1ecf3 353.5px,#f5f5f4 358.5px,#fcdecc 367.5px,#fbd9c7 371.5px,#fce1d2 374.5px,#fbe6da 375.5px,#f9efea 376.5px,#ebf1f5 377.5px,#b6d7e8 378.5px,#5da8ce 379.5px,#4b99c6 380.5px,#4190c2 381.5px,#2c74b3 386.5px,#1f63a8 388.5px,#0a3a6e 392.5px,#053162 394.5px,#083568 399.5px,#134b87 406.5px,#2368ad 413.5px,#3986bc 424.5px,#4695c4 439.5px,#5ba6cd 533.5px,#65aed2 672.5px,#66afd2 861px)"></div>
<div style="height:2px;background:linear-gradient(90deg,#66afd2 0px,#69b0d3 211.5px,#79b8d7 226.5px,#8ec3dd 235.5px,#acd2e5 242.5px,#dceaf2 251.5px,#f5f6f7 257.5px,#f5f6f7 261.5px,#f2f5f6 264.5px,#eaf1f5 265.5px,#d3e6f0 266.5px,#a9d1e5 267.5px,#87bfdb 268.5px,#70b4d5 269.5px,#66afd2 270.5px,#5ea9cf 273.5px,#65aed2 276.5px,#6eb3d4 277.5px,#7ebbd9 278.5px,#c6dfed 281.5px,#cee4ef 282.5px,#c4dfec 283.5px,#78b8d7 286.5px,#65aed2 287.5px,#4494c4 290.5px,#2f78b5 295.5px,#2e77b5 306.5px,#347fb9 322.5px,#4393c3 327.5px,#72b5d5 332.5px,#97c8e0 337.5px,#f2f4f6 354.5px,#f8f2ef 356.5px,#fbd4be 362.5px,#f6b394 367.5px,#f2a485 371.5px,#f2a688 373.5px,#f4ad8f 374.5px,#f8bda0 375.5px,#fcdbc8 376.5px,#e9f0f4 377.5px,#61abd0 378.5px,#4998c6 379.5px,#408fc1 380.5px,#2c75b3 385.5px,#1f62a7 387.5px,#0d3f76 390.5px,#083669 391.5px,#063162 392.5px,#063163 396.5px,#0e4179 402.5px,#2166ac 411.5px,#3885bc 422.5px,#4494c3 436.5px,#56a2cb 505.5px,#64aed1 633.5px,#66afd2 861px)"></div>
<div style="height:2px;background:linear-gradient(90deg,#66afd2 0px,#69b0d3 211.5px,#79b8d7 226.5px,#90c4de 236.5px,#b0d4e7 243.5px,#e0ecf3 252.5px,#f5f6f7 257.5px,#f5f6f7 261.5px,#f2f5f6 264.5px,#ebf1f5 265.5px,#d4e6f0 266.5px,#aad1e5 267.5px,#87bfdb 268.5px,#70b4d5 269.5px,#66afd2 270.5px,#5ea9cf 273.5px,#65aed2 276.5px,#6eb3d4 277.5px,#7ebbd9 278.5px,#c6e0ed 281.5px,#cfe4ef 282.5px,#c5dfed 283.5px,#78b8d7 286.5px,#65aed2 287.5px,#4594c4 290.5px,#2f79b6 295.5px,#2f78b5 309.5px,#3580b9 322.5px,#4494c4 327.5px,#6ab1d3 331.5px,#93c6de 336.5px,#c8e1ee 345.5px,#f3f5f6 352.5px,#f9f0ea 354.5px,#fcd6c1 358.5px,#f1a080 363.5px,#df765e 367.5px,#d55f4f 370.5px,#d1574b 372.5px,#d2594b 373.5px,#d76351 374.5px,#e48066 375.5px,#f9c6ac 376.5px,#aad1e5 377.5px,#4c9ac7 378.5px,#3f8ec1 379.5px,#2c75b4 384.5px,#266caf 385.5px,#1f61a6 386.5px,#0b3b71 389.5px,#063365 390.5px,#053061 393.5px,#083669 397.5px,#175391 405.5px,#2268ad 410.5px,#3986bc 421.5px,#4494c3 435.5px,#59a4cc 523.5px,#65aed2 653.5px,#66afd2 861px)"></div>
<div style="height:2px;background:linear-gradient(90deg,#66afd2 0px,#69b0d3 211.5px,#79b8d7 226.5px,#8fc4dd 236.5px,#aed3e6 243.5px,#dbeaf2 251.5px,#f5f6f7 257.5px,#f6f6f7 261.5px,#f2f5f6 264.5px,#ebf1f5 265.5px,#d4e6f1 266.5px,#aad1e5 267.5px,#87bfdb 268.5px,#70b4d5 269.5px,#65aed2 270.5px,#5ea8ce 273.5px,#65aed1 276.5px,#6eb3d4 277.5px,#7ebbd9 278.5px,#c7e0ed 281.5px,#d0e5f0 282.5px,#c6dfed 283.5px,#78b8d7 286.5px,#65aed2 287.5px,#4595c4 290.5px,#3079b6 295.5px,#307ab6 312.5px,#3784bb 323.5px,#4695c4 327.5px,#6bb2d3 331.5px,#95c6df 336.5px,#cae1ee 344.5px,#f3f5f6 350.5px,#f7f4f2 351.5px,#fcd9c5 355.5px,#f3a585 359.5px,#d96854 363.5px,#c6403e 366.5px,#b62431 369.5px,#aa192b 372.5px,#ac1a2c 373.5px,#b82431 374.5px,#d25849 375.5px,#fbdcca 376.5px,#55a1cb 377.5px,#3f8ec1 378.5px,#2b73b3 383.5px,#246aae 384.5px,#1d5ea0 385.5px,#083669 388.5px,#053062 389.5px,#063162 394.5px,#114882 401.5px,#2166ab 408.5px,#3884bc 419.5px,#4292c3 432.5px,#59a5cd 528.5px,#65aed2 659.5px,#66afd2 861px)"></div>
<div style="height:2px;background:linear-gradient(90deg,#66afd2 0px,#69b0d3 211.5px,#78b8d7 226.5px,#8ec3dd 236.5px,#acd2e5 243.5px,#dfecf3 252.5px,#f5f6f7 257.5px,#f6f6f7 261.5px,#f2f5f6 264.5px,#ebf1f5 265.5px,#d4e7f1 266.5px,#abd1e5 267.5px,#87c0db 268.5px,#70b4d5 269.5px,#65aed2 270.5px,#5da8ce 273.5px,#64aed1 276.5px,#6eb3d4 277.5px,#7ebbd9 278.5px,#c8e0ed 281.5px,#d1e5f0 282.5px,#c7e0ed 283.5px,#78b8d7 286.5px,#65aed2 287.5px,#4595c4 290.5px,#307ab6 295.5px,#327db8 315.5px,#3885bc 323.5px,#4191c2 326.5px,#6db3d4 331.5px,#97c8e0 336.5px,#c3deec 342.5px,#f0f4f6 348.5px,#f6f5f3 349.5px,#fce1d1 352.5px,#fac9b0 354.5px,#ef9a7a 357.5px,#d76250 360.5px,#be3137 363.5px,#ad1a2c 365.5px,#9a1027 367.5px,#880b24 370.5px,#8a0b25 373.5px,#a01228 374.5px,#d6614e 375.5px,#aed3e5 376.5px,#4191c2 377.5px,#3682ba 379.5px,#276eb0 382.5px,#2063a7 383.5px,#0a396e 386.5px,#063263 387.5px,#063163 393.5px,#124984 400.5px,#2267ad 407.5px,#3885bc 418.5px,#4292c3 432.5px,#5ca7ce 548.5px,#66afd2 691.5px,#66afd2 861px)"></div>
<div style="height:2px;background:linear-gradient(90deg,#66afd2 0px,#69b0d3 211.5px,#78b8d7 226.5px,#90c4de 237.5px,#aad1e5 243.5px,#e4eef3 253.5px,#f7f7f7 258.5px,#f2f5f6 264.5px,#ebf1f5 265.5px,#d5e7f1 266.5px,#abd2e5 267.5px,#87c0db 268.5px,#70b4d5 269.5px,#65aed1 270.5px,#5da8ce 273.5px,#64aed1 276.5px,#6db3d4 277.5px,#7ebbd9 278.5px,#c9e1ee 281.5px,#d1e5f0 282.5px,#c8e0ed 283.5px,#79b8d7 286.5px,#65afd2 287.5px,#4595c4 290.5px,#317bb7 295.5px,#337eb8 316.5px,#3986bc 323.5px,#4292c2 326.5px,#6fb4d4 331.5px,#9bc9e1 336.5px,#ecf2f5 346.5px,#f4f5f6 347.5px,#faeae1 349.5px,#fcd9c5 351.5px,#f4a988 354.5px,#db6c56 357.5px,#bf3237 360.5px,#b62230 361.5px,#9e1228 363.5px,#8a0b25 365.5px,#7f0823 367.5px,#750421 368.5px,#67001f 371.5px,#67001f 374.5px,#dc6d57 375.5px,#529fca 376.5px,#3b88bd 377.5px,#2970b1 380.5px,#2266aa 381.5px,#124a85 383.5px,#0b3c71 384.5px,#063264 385.5px,#053061 388.5px,#063263 392.5px,#154f8d 400.5px,#2165ab 405.5px,#3784bb 416.5px,#4291c2 430.5px,#5da8ce 556.5px,#66afd2 706.5px,#66afd2 861px)"></div>
<div style="height:2px;background:linear-gradient(90deg,#66afd2 0px,#69b0d3 211.5px,#78b8d7 226.5px,#8fc4dd 237.5px,#a7d0e4 243.5px,#e3edf3 253.5px,#f7f7f7 258.5px,#f2f5f6 264.5px,#ebf2f5 265.5px,#d5e7f1 266.5px,#abd2e5 267.5px,#87c0db 268.5px,#6fb4d5 269.5px,#65aed1 270.5px,#5da7ce 273.5px,#64add1 276.5px,#6db3d4 277.5px,#7ebbd9 278.5px,#c9e1ee 281.5px,#d2e5f0 282.5px,#c8e1ee 283.5px,#79b8d7 286.5px,#66afd2 287.5px,#4695c4 290.5px,#317bb7 295.5px,#3480b9 317.5px,#3a87bd 323.5px,#4393c3 326.5px,#71b5d5 331.5px,#a7d0e4 337.5px,#deebf2 343.5px,#f7f5f4 346.5px,#fcdecc 349.5px,#f5ad8c 352.5px,#db6c56 355.5px,#c7423f 357.5px,#b31e2e 359.5px,#a61429 360.5px,#8c0c25 362.5px,#7f0823 364.5px,#720421 365.5px,#67001f 367.5px,#67001f 374.5px,#f8c7af 375.5px,#4090c1 376.5px,#337eb8 377.5px,#246aae 379.5px,#1c5d9f 380.5px,#0d3f76 382.5px,#073466 383.5px,#053061 384.5px,#063263 391.5px,#16518f 399.5px,#2267ac 404.5px,#3884bb 415.5px,#4191c2 429.5px,#5ea8cf 561.5px,#66afd2 715.5px,#66afd2 861px)"></div>
<div style="height:2px;background:linear-gradient(90deg,#66afd2 0px,#69b0d3 211.5px,#77b8d7 226.5px,#8ec3dd 237.5px,#a5cfe4 243.5px,#e2edf3 253.5px,#f7f7f7 258.5px,#f2f5f6 264.5px,#ecf2f5 265.5px,#d5e7f1 266.5px,#acd2e5 267.5px,#88c0db 268.5px,#6fb4d5 269.5px,#64aed1 270.5px,#5ca7ce 273.5px,#64add1 276.5px,#6db2d4 277.5px,#7ebbd9 278.5px,#cae1ee 281.5px,#d2e6f0 282.5px,#c9e1ee 283.5px,#79b8d7 286.5px,#66afd2 287.5px,#4695c4 290.5px,#327cb7 295.5px,#3681ba 318.5px,#3b88bd 323.5px,#4494c4 326.5px,#74b6d6 331.5px,#deebf2 342.5px,#f1f4f6 344.5px,#f8f4f2 345.5px,#fcd9c5 348.5px,#f2a281 351.5px,#d45d4d 354.5px,#b51f2e 357.5px,#a81529 358.5px,#8d0c25 360.5px,#800823 362.5px,#67001f 364.5px,#67001f 374.5px,#b6d7e8 375.5px,#3885bc 376.5px,#2165a9 378.5px,#09386c 381.5px,#053061 382.5px,#063263 390.5px,#1b5a9c 400.5px,#2267ad 403.5px,#3784bb 414.5px,#4191c2 429.5px,#5ea9cf 566.5px,#66afd2 726.5px,#66afd2 861px)"></div>
<div style="height:2px;background:linear-gradient(90deg,#66afd2 0px,#69b0d3 211.5px,#77b8d7 226.5px,#90c4dd 238.5px,#a9d1e5 244.5px,#e1edf3 253.5px,#f7f7f7 258.5px,#f2f5f6 264.5px,#ecf2f5 265.5px,#d6e7f1 266.5px,#acd2e5 267.5px,#88c0db 268.5px,#6fb4d5 269.5px,#64add1 270.5px,#5ca7ce 273.5px,#63add1 276.5px,#6db2d4 277.5px,#7ebbd9 278.5px,#cae2ee 281.5px,#d3e6f0 282.5px,#c9e1ee 283.5px,#79b8d7 286.5px,#66afd2 287.5px,#4696c4 290.5px,#327db8 295.5px,#3783bb 319.5px,#3e8cc0 324.5px,#4696c4 326.5px,#77b7d7 331.5px,#deebf2 341.5px,#f1f4f6 343.5px,#f8f3f1 344.5px,#fcd6c1 347.5px,#f09b7a 350.5px,#db6b55 352.5px,#c53d3d 354.5px,#af192b 356.5px,#920e26 358.5px,#830923 360.5px,#67001f 362.5px,#67001f 373.5px,#6a0120 374.5px,#5ea9cf 375.5px,#307ab6 376.5px,#2166aa 377.5px,#083568 380.5px,#053061 381.5px,#053162 389.5px,#1b5a9b 399.5px,#2167ac 402.5px,#3783bb 413.5px,#4190c2 428.5px,#5fa9cf 569.5px,#66afd2 732.5px,#66afd2 861px)"></div>
<div style="height:2px;background:linear-gradient(90deg,#66afd2 0px,#68b0d3 211.5px,#78b8d7 227.5px,#8ec3dd 238.5px,#a7cfe4 244.5px,#e1ecf3 253.5px,#f6f7f7 258.5px,#f2f5f6 264.5px,#ecf2f5 265.5px,#d6e7f1 266.5px,#88c0db 268.5px,#6fb4d4 269.5px,#64add1 270.5px,#5ba7cd 273.5px,#63acd1 276.5px,#6cb2d4 277.5px,#7ebbd8 278.5px,#cbe2ee 281.5px,#d3e6f0 282.5px,#cae1ee 283.5px,#79b8d7 286.5px,#66afd2 287.5px,#4696c4 290.5px,#337db8 295.5px,#3884bb 319.5px,#3f8dc0 324.5px,#4897c5 326.5px,#7ab9d8 331.5px,#ddebf2 340.5px,#f1f4f6 342.5px,#f8f3f1 343.5px,#fce1d2 345.5px,#fcd4bf 346.5px,#f5ae8d 348.5px,#d86651 351.5px,#b72330 354.5px,#ab162a 355.5px,#900d26 357.5px,#7e0723 359.5px,#69011f 360.5px,#67001f 373.5px,#940e26 374.5px,#4e9cc8 375.5px,#2a71b2 376.5px,#1b5a9b 377.5px,#09376b 379.5px,#053061 380.5px,#063264 389.5px,#2065aa 401.5px,#3580b9 411.5px,#3f8ec1 424.5px,#5da8ce 558.5px,#66afd2 702.5px,#66afd2 861px)"></div>
<div style="height:2px;background:linear-gradient(90deg,#66afd2 0px,#68b0d3 211.5px,#78b8d7 227.5px,#90c4dd 239.5px,#aad1e5 245.5px,#e5eff4 254.5px,#f6f7f7 258.5px,#f2f5f6 264.5px,#ecf2f5 265.5px,#d6e7f1 266.5px,#88c0db 268.5px,#6fb3d4 269.5px,#63add1 270.5px,#5ba6cd 273.5px,#62acd0 276.5px,#6cb2d4 277.5px,#7ebbd8 278.5px,#cbe2ee 281.5px,#d3e6f0 282.5px,#cae2ee 283.5px,#79b8d7 286.5px,#66afd2 287.5px,#4796c5 290.5px,#337eb8 295.5px,#3986bc 320.5px,#4393c3 325.5px,#73b5d5 330.5px,#dbeaf2 339.5px,#f0f4f6 341.5px,#f8f4f2 342.5px,#fce1d2 344.5px,#fcd4be 345.5px,#f5ac8b 347.5px,#d76350 350.5px,#b6202f 353.5px,#a81529 354.5px,#900d25 356.5px,#890b25 357.5px,#67001f 359.5px,#67001f 373.5px,#bd2f36 374.5px,#4291c2 375.5px,#256baf 376.5px,#175392 377.5px,#0d4078 378.5px,#063263 379.5px,#053061 388.5px,#0e427a 393.5px,#2165ab 401.5px,#3580b9 411.5px,#3f8ec1 425.5px,#5ea8ce 563.5px,#66afd2 711.5px,#66afd2 861px)"></div>
<div style="height:2px;background:linear-gradient(90deg,#66afd2 0px,#68b0d3 211.5px,#78b8d7 227.5px,#8fc3dd 239.5px,#a8d0e4 245.5px,#dfecf3 253.5px,#f6f6f7 258.5px,#f3f5f6 263.5px,#ecf2f5 265.5px,#d6e8f1 266.5px,#88c0db 268.5px,#6fb3d4 269.5px,#63add1 270.5px,#5ba6cd 273.5px,#62acd0 276.5px,#6cb2d4 277.5px,#7dbbd8 278.5px,#cbe2ee 281.5px,#d3e6f0 282.5px,#cbe2ee 283.5px,#79b8d7 286.5px,#66afd2 287.5px,#4796c5 290.5px,#3681ba 294.5px,#337eb8 298.5px,#3a88bd 321.5px,#4594c4 325.5px,#77b7d7 330.5px,#d9e9f1 338.5px,#f7f5f4 341.5px,#fcd6c0 344.5px,#f5ad8c 346.5px,#d7624f 349.5px,#b61f2e 352.5px,#a81529 353.5px,#910d26 355.5px,#8c0c25 356.5px,#6f0320 357.5px,#67001f 358.5px,#67001f 373.5px,#d96753 374.5px,#3c8abe 375.5px,#2166ab 376.5px,#144e8a 377.5px,#0b3b71 378.5px,#053061 379.5px,#063263 389.5px,#2165ab 401.5px,#3580b9 411.5px,#3f8ec0 425.5px,#5ea8ce 564.5px,#66afd2 712.5px,#66afd2 861px)"></div>
<div style="height:2px;background:linear-gradient(90deg,#66afd2 0px,#69b0d3 212.5px,#79b8d7 228.5px,#8dc3dd 239.5px,#a6cfe4 245.5px,#deebf2 253.5px,#f5f6f7 258.5px,#f3f5f6 263.5px,#ecf2f5 265.5px,#d7e8f1 266.5px,#88c0db 268.5px,#6fb3d4 269.5px,#63acd1 270.5px,#5aa6cd 273.5px,#5da8ce 275.5px,#6bb2d3 277.5px,#7dbbd8 278.5px,#cbe2ee 281.5px,#d3e6f0 282.5px,#cbe2ee 283.5px,#79b8d7 286.5px,#65afd2 287.5px,#4796c5 290.5px,#3682ba 294.5px,#347fb9 299.5px,#3b89be 321.5px,#4191c2 324.5px,#59a5cc 327.5px,#add3e6 334.5px,#d6e7f1 337.5px,#f6f6f5 340.5px,#fcd8c3 343.5px,#f6af8f 345.5px,#e37d63 347.5px,#d76450 348.5px,#b6202f 351.5px,#a9152a 352.5px,#930e26 354.5px,#8b0c25 355.5px,#6c0220 356.5px,#67001f 358.5px,#67001f 373.5px,#f1a080 374.5px,#3784bb 375.5px,#1e60a4 376.5px,#124883 377.5px,#09376b 378.5px,#053061 379.5px,#063263 389.5px,#2165ab 401.5px,#3480b9 411.5px,#3f8dc0 425.5px,#5da8ce 564.5px,#66afd2 710.5px,#66afd2 861px)"></div>
<div style="height:2px;background:linear-gradient(90deg,#66afd2 0px,#69b0d3 212.5px,#7ab9d7 229.5px,#8fc3dd 240.5px,#a9d1e5 246.5px,#ddeaf2 253.5px,#f5f6f7 258.5px,#f3f5f6 263.5px,#ecf2f5 265.5px,#d7e8f1 266.5px,#88c0db 268.5px,#6eb3d4 269.5px,#63acd1 270.5px,#5aa5cd 273.5px,#5ca7ce 275.5px,#6bb2d3 277.5px,#7dbad8 278.5px,#cce2ee 281.5px,#d4e6f0 282.5px,#cbe2ee 283.5px,#79b8d7 286.5px,#65afd2 287.5px,#4796c5 290.5px,#3783bb 294.5px,#3480b9 299.5px,#3c8abe 321.5px,#4392c3 324.5px,#67afd2 328.5px,#c3deec 335.5px,#dceaf2 337.5px,#f4f5f6 339.5px,#f8f0eb 340.5px,#fcdbc8 342.5px,#f09b7a 345.5px,#d96752 347.5px,#c2373a 349.5px,#b72330 350.5px,#ac162a 351.5px,#960f26 353.5px,#8d0c25 354.5px,#6b0120 355.5px,#67001f 357.5px,#67001f 373.5px,#fbd2bc 374.5px,#337db8 375.5px,#1b5b9d 376.5px,#0f447c 377.5px,#063365 378.5px,#053061 381.5px,#063163 389.5px,#2166ab 401.5px,#3480b9 411.5px,#3e8dc0 425.5px,#5da8ce 565.5px,#66afd2 711.5px,#66afd2 861px)"></div>
<div style="height:2px;background:linear-gradient(90deg,#66afd2 0px,#69b0d3 212.5px,#79b9d7 229.5px,#8dc2dd 240.5px,#a7d0e4 246.5px,#dbeaf2 253.5px,#f4f6f6 258.5px,#f3f5f6 262.5px,#f1f4f6 264.5px,#ecf2f5 265.5px,#d7e8f1 266.5px,#88c0db 268.5px,#6eb3d4 269.5px,#62acd0 270.5px,#59a5cd 273.5px,#5ca7ce 275.5px,#6bb1d3 277.5px,#7cbad8 278.5px,#cce2ee 281.5px,#d4e6f0 282.5px,#cbe2ee 283.5px,#79b8d7 286.5px,#65aed2 287.5px,#4897c5 290.5px,#3783bb 294.5px,#3581ba 300.5px,#3d8bbf 321.5px,#4594c4 324.5px,#6bb2d3 328.5px,#bcdaea 334.5px,#d8e9f1 336.5px,#f0f4f6 338.5px,#f8f3f0 339.5px,#fcdecd 341.5px,#f7b799 343.5px,#f2a17f 344.5px,#db6c56 346.5px,#c43b3c 348.5px,#b92732 349.5px,#af172b 350.5px,#991027 352.5px,#910d26 353.5px,#6c0220 354.5px,#67001f 355.5px,#67001f 373.5px,#f8f0ec 374.5px,#2e78b5 375.5px,#195695 376.5px,#0d3f76 377.5px,#053061 378.5px,#063163 389.5px,#2166ab 401.5px,#347fb9 411.5px,#3e8dc0 426.5px,#5ea8ce 567.5px,#66afd2 714.5px,#66afd2 861px)"></div>
<div style="height:2px;background:linear-gradient(90deg,#66afd2 0px,#69b0d3 212.5px,#79b8d7 229.5px,#8bc2dc 240.5px,#a5cee3 246.5px,#e0ecf3 254.5px,#f3f5f6 258.5px,#f3f5f6 262.5px,#ecf2f5 265.5px,#d7e8f1 266.5px,#88c0db 268.5px,#6eb3d4 269.5px,#62acd0 270.5px,#59a5cc 273.5px,#5ca7ce 275.5px,#6ab1d3 277.5px,#7cbad8 278.5px,#cbe2ee 281.5px,#d4e6f0 282.5px,#cbe2ee 283.5px,#79b8d7 286.5px,#65aed2 287.5px,#4897c5 290.5px,#3884bb 294.5px,#3682ba 301.5px,#3e8dc0 321.5px,#4897c5 324.5px,#64add1 327.5px,#b5d7e8 333.5px,#d4e6f1 335.5px,#f7f6f5 338.5px,#fce2d3 340.5px,#fcd3bd 341.5px,#f4a886 343.5px,#d3594a 346.5px,#bc2c34 348.5px,#b31a2c 349.5px,#9c1127 351.5px,#960f27 352.5px,#700320 353.5px,#67001f 354.5px,#67001f 373.5px,#d8e8f1 374.5px,#2a72b2 375.5px,#16518f 376.5px,#0b3b70 377.5px,#053061 378.5px,#063162 389.5px,#2166ab 401.5px,#347fb9 411.5px,#3e8dc0 426.5px,#5ea8ce 567.5px,#66afd2 712.5px,#66afd2 861px)"></div>
<div style="height:2px;background:linear-gradient(90deg,#66afd2 0px,#68b0d3 212.5px,#79b9d7 230.5px,#8cc2dc 241.5px,#a8d0e4 247.5px,#d8e8f1 253.5px,#f2f5f6 258.5px,#f2f5f6 262.5px,#ebf1f5 265.5px,#d6e8f1 266.5px,#88c0db 268.5px,#6eb3d4 269.5px,#62abd0 270.5px,#59a4cc 273.5px,#5ba6cd 275.5px,#6ab1d3 277.5px,#7cbad8 278.5px,#cbe2ee 281.5px,#d4e6f0 282.5px,#cbe2ee 283.5px,#78b8d7 286.5px,#65aed2 287.5px,#4897c5 290.5px,#3b88be 293.5px,#3682ba 296.5px,#408ec1 321.5px,#4494c4 323.5px,#5da8ce 326.5px,#82bdda 329.5px,#dae9f2 335.5px,#f3f5f6 337.5px,#f8f0ec 338.5px,#fddac6 340.5px,#f6af8f 342.5px,#e27b62 344.5px,#d6614e 345.5px,#bf3237 347.5px,#b6202f 348.5px,#aa162a 349.5px,#9a1027 351.5px,#790622 352.5px,#67001f 353.5px,#67001f 373.5px,#9ccae1 374.5px,#276eb0 375.5px,#144c88 376.5px,#08376a 377.5px,#053061 378.5px,#053162 389.5px,#2166ab 401.5px,#347fb9 411.5px,#3e8cc0 426.5px,#5da8ce 567.5px,#66afd2 711.5px,#66afd2 861px)"></div>
<div style="height:2px;background:linear-gradient(90deg,#66afd2 0px,#69b0d3 213.5px,#7bbad8 232.5px,#8bc1dc 241.5px,#a5cfe4 247.5px,#d6e7f1 253.5px,#eff3f6 258.5px,#f0f4f6 262.5px,#e9f1f4 265.5px,#d5e7f1 266.5px,#87c0db 268.5px,#6db3d4 269.5px,#61abd0 270.5px,#58a4cc 273.5px,#5ba6cd 275.5px,#6ab1d3 277.5px,#7bbad8 278.5px,#cbe2ee 281.5px,#d3e6f0 282.5px,#cae2ee 283.5px,#78b8d7 286.5px,#65aed2 287.5px,#4998c6 290.5px,#3c89be 293.5px,#3784bb 297.5px,#408fc1 320.5px,#4897c5 323.5px,#61abd0 326.5px,#a5cfe3 331.5px,#d4e7f1 334.5px,#edf2f5 336.5px,#f7f5f3 337.5px,#fcdfce 339.5px,#f7b79a 341.5px,#f2a07e 342.5px,#da6a55 344.5px,#c33a3b 346.5px,#b92632 347.5px,#b0172b 348.5px,#9d1128 350.5px,#880a24 351.5px,#67001f 352.5px,#67001f 373.5px,#62acd0 374.5px,#2369ae 375.5px,#114882 376.5px,#073365 377.5px,#053061 379.5px,#053162 389.5px,#2166ab 401.5px,#347fb9 411.5px,#3e8cbf 426.5px,#5da8ce 567.5px,#66afd2 709.5px,#66afd2 861px)"></div>
<div style="height:2px;background:linear-gradient(90deg,#66afd2 0px,#69b0d3 213.5px,#7cbad8 233.5px,#8cc2dc 242.5px,#a9d1e5 248.5px,#dae9f2 254.5px,#ecf2f5 258.5px,#edf2f5 262.5px,#e7eff4 265.5px,#d4e6f0 266.5px,#87bfdb 268.5px,#6db3d4 269.5px,#61abd0 270.5px,#59a4cc 273.5px,#60aacf 276.5px,#69b1d3 277.5px,#7bb9d8 278.5px,#c9e1ee 281.5px,#d2e6f0 282.5px,#c9e1ee 283.5px,#78b8d7 286.5px,#65afd2 287.5px,#4a98c6 290.5px,#3f8ec1 292.5px,#3885bc 296.5px,#4190c2 320.5px,#4b9ac7 323.5px,#66afd2 326.5px,#abd2e5 331.5px,#dae9f2 334.5px,#f3f5f6 336.5px,#f9efea 337.5px,#fcd7c2 339.5px,#f5ab89 341.5px,#d45b4b 344.5px,#bd2e35 346.5px,#b41c2d 347.5px,#a01228 349.5px,#970f27 350.5px,#6b0120 351.5px,#67001f 353.5px,#67001f 372.5px,#700320 373.5px,#56a2cb 374.5px,#2065aa 375.5px,#0f447c 376.5px,#053061 377.5px,#053062 389.5px,#2165ab 401.5px,#337eb8 411.5px,#3d8cbf 426.5px,#5da8ce 567.5px,#66afd2 708.5px,#66afd2 861px)"></div>
<div style="height:2px;background:linear-gradient(90deg,#66afd2 0px,#69b0d3 213.5px,#7cbad8 234.5px,#8ac1dc 242.5px,#a6cfe4 248.5px,#d6e7f1 254.5px,#e9f0f4 258.5px,#e9f1f4 262.5px,#e4eef3 265.5px,#d1e5f0 266.5px,#86bfdb 268.5px,#6db3d4 269.5px,#61abd0 270.5px,#59a5cc 273.5px,#60aacf 276.5px,#69b1d3 277.5px,#7ab9d7 278.5px,#c4deec 281.5px,#cde3ef 282.5px,#c4deec 283.5px,#77b7d7 286.5px,#65aed2 287.5px,#4393c3 291.5px,#3a87bd 295.5px,#4292c3 320.5px,#4f9dc8 323.5px,#6ab1d3 326.5px,#b2d5e7 331.5px,#d3e6f0 333.5px,#ecf2f5 335.5px,#f8f5f3 336.5px,#fcdfcd 338.5px,#f7b597 340.5px,#f19d7c 341.5px,#d96752 343.5px,#c2373a 345.5px,#b82431 346.5px,#af172b 347.5px,#a41429 348.5px,#9f1228 349.5px,#7b0622 350.5px,#67001f 351.5px,#67001f 372.5px,#890b24 373.5px,#4c9ac7 374.5px,#1e60a3 375.5px,#0d4077 376.5px,#053061 377.5px,#053061 389.5px,#2165ab 401.5px,#337eb8 411.5px,#3d8bbf 426.5px,#5da8ce 567.5px,#66afd2 706.5px,#66afd2 861px)"></div>
<div style="height:2px;background:linear-gradient(90deg,#66afd2 0px,#68b0d3 213.5px,#7cbad8 235.5px,#8bc2dc 243.5px,#a9d1e5 249.5px,#d8e8f1 255.5px,#e6eff4 259.5px,#e0ecf3 265.5px,#cee3ef 266.5px,#85beda 268.5px,#6db2d4 269.5px,#62acd0 270.5px,#5aa5cd 273.5px,#60abd0 276.5px,#69b0d3 277.5px,#78b8d7 278.5px,#bcdbea 281.5px,#c5dfec 282.5px,#bcdaea 283.5px,#75b7d6 286.5px,#65aed2 287.5px,#4594c4 291.5px,#3b88bd 295.5px,#4393c3 319.5px,#4d9bc7 322.5px,#64aed1 325.5px,#9ac9e0 329.5px,#d8e9f1 333.5px,#f2f5f6 335.5px,#f9f0eb 336.5px,#fcd8c3 338.5px,#f5aa89 340.5px,#df745c 342.5px,#d35a4a 343.5px,#bd2d35 345.5px,#b41c2d 346.5px,#a11328 348.5px,#920e26 349.5px,#67001f 350.5px,#67001f 372.5px,#a21328 373.5px,#4392c3 374.5px,#1c5b9d 375.5px,#0b3c72 376.5px,#053061 377.5px,#053061 389.5px,#2165ab 401.5px,#337eb8 411.5px,#3d8bbf 427.5px,#5da8ce 569.5px,#66afd2 710.5px,#66afd2 861px)"></div>
<div style="height:2px;background:linear-gradient(90deg,#66afd2 0px,#69b0d3 214.5px,#7fbbd9 238.5px,#8cc2dc 244.5px,#a5cfe3 249.5px,#d4e6f1 255.5px,#e1edf3 259.5px,#dceaf2 265.5px,#c9e1ee 266.5px,#83beda 268.5px,#6db2d4 269.5px,#62acd0 270.5px,#5ba6cd 273.5px,#61abd0 276.5px,#68b0d3 277.5px,#76b7d6 278.5px,#b2d5e7 281.5px,#bad9e9 282.5px,#b2d5e7 283.5px,#88c0db 285.5px,#73b5d5 286.5px,#64aed1 287.5px,#4696c4 291.5px,#3c8abe 295.5px,#4494c3 318.5px,#519ec9 322.5px,#69b0d3 325.5px,#9fcce2 329.5px,#d1e5f0 332.5px,#f7f6f5 335.5px,#fce0cf 337.5px,#f7b799 339.5px,#f19f7d 340.5px,#d96853 342.5px,#c2383a 344.5px,#b82531 345.5px,#b0172b 346.5px,#a61429 347.5px,#a01228 348.5px,#780522 349.5px,#67001f 350.5px,#67001f 372.5px,#b6202f 373.5px,#3f8dc0 374.5px,#195798 375.5px,#0a396e 376.5px,#053061 377.5px,#053061 389.5px,#2165ab 401.5px,#337eb8 411.5px,#3d8bbf 427.5px,#5da8ce 569.5px,#66afd2 709.5px,#66afd2 861px)"></div>
<div style="height:2px;background:linear-gradient(90deg,#66afd2 0px,#69b0d3 214.5px,#7fbbd9 239.5px,#8dc3dd 245.5px,#a7d0e4 250.5px,#d4e6f0 256.5px,#ddebf2 260.5px,#d8e8f1 265.5px,#c3deec 266.5px,#82bdda 268.5px,#6db2d4 269.5px,#63add1 270.5px,#5ca7ce 273.5px,#61abd0 276.5px,#73b5d5 278.5px,#a7d0e4 281.5px,#add2e6 282.5px,#a6cfe4 283.5px,#97c7df 284.5px,#70b4d5 286.5px,#5ba6cd 288.5px,#4292c3 292.5px,#3d8bbf 296.5px,#4695c4 317.5px,#509dc8 321.5px,#64add1 324.5px,#88c0db 327.5px,#d6e7f1 332.5px,#f0f4f6 334.5px,#f8f2ee 335.5px,#fddbc7 337.5px,#f5ad8d 339.5px,#e0775f 341.5px,#d45d4c 342.5px,#be2f36 344.5px,#b51e2e 345.5px,#ab162a 346.5px,#a31329 347.5px,#940e26 348.5px,#67001f 349.5px,#67001f 372.5px,#c3393b 373.5px,#3b88bd 374.5px,#175492 375.5px,#08366a 376.5px,#053061 377.5px,#053061 389.5px,#2065ab 401.5px,#337db8 411.5px,#3d8bbf 427.5px,#5da8ce 569.5px,#66afd2 708.5px,#66afd2 861px)"></div>
<div style="height:2px;background:linear-gradient(90deg,#66afd2 0px,#69b0d3 215.5px,#80bcd9 241.5px,#93c5de 247.5px,#b0d4e7 252.5px,#d2e5f0 257.5px,#d7e8f1 261.5px,#d3e6f0 265.5px,#bddbea 266.5px,#80bcd9 268.5px,#6db2d4 269.5px,#64add1 270.5px,#5ea8ce 274.5px,#67afd2 277.5px,#7dbbd8 279.5px,#9ac9e0 281.5px,#9ecbe1 282.5px,#99c9e0 283.5px,#6db2d4 286.5px,#56a2cb 289.5px,#4191c2 293.5px,#3f8ec0 299.5px,#4696c4 315.5px,#54a0ca 321.5px,#68b0d3 324.5px,#8dc3dd 327.5px,#bad9e9 330.5px,#dae9f2 332.5px,#f5f6f7 334.5px,#fbe2d4 336.5px,#fcd3bc 337.5px,#f3a482 339.5px,#dc6d57 341.5px,#c43c3c 343.5px,#b2192b 345.5px,#a21328 347.5px,#7e0723 348.5px,#67001f 349.5px,#67001f 372.5px,#cf5247 373.5px,#3784bb 374.5px,#16508e 375.5px,#073366 376.5px,#053061 378.5px,#053061 389.5px,#2065aa 401.5px,#337db8 411.5px,#3c8abf 427.5px,#5da8ce 569.5px,#66afd2 707.5px,#66afd2 861px)"></div>
<div style="height:2px;background:linear-gradient(90deg,#66afd2 0px,#69b0d3 215.5px,#7ebbd9 242.5px,#8ec3dd 247.5px,#b0d4e7 253.5px,#cee3ef 258.5px,#d0e4f0 262.5px,#cbe2ee 265.5px,#b6d7e8 266.5px,#7ebbd9 268.5px,#6cb2d4 269.5px,#61abd0 271.5px,#60aacf 275.5px,#6db2d4 278.5px,#8bc1dc 281.5px,#8ec3dd 282.5px,#8ac1dc 283.5px,#62acd0 287.5px,#4292c3 293.5px,#4190c2 300.5px,#4a98c6 315.5px,#58a4cc 321.5px,#6db3d4 324.5px,#a0cce2 328.5px,#d2e5f0 331.5px,#f7f5f4 334.5px,#fcdfcd 336.5px,#f6b495 338.5px,#ef9a7a 339.5px,#d86450 341.5px,#c03538 343.5px,#b72230 344.5px,#af172a 345.5px,#9e1228 347.5px,#6b0120 348.5px,#67001f 350.5px,#67001f 372.5px,#db6b56 373.5px,#347fb9 374.5px,#144d89 375.5px,#053162 376.5px,#053061 389.5px,#2065aa 401.5px,#327db8 411.5px,#3c8abe 427.5px,#5da8ce 568.5px,#66afd2 704.5px,#66afd2 861px)"></div>
<div style="height:2px;background:linear-gradient(90deg,#66afd2 0px,#68b0d3 216.5px,#7cbad8 243.5px,#8dc2dd 248.5px,#c4deec 258.5px,#c7e0ed 262.5px,#c2deec 265.5px,#b0d4e6 266.5px,#7cbad8 268.5px,#6cb2d4 269.5px,#62acd0 271.5px,#63add1 276.5px,#74b6d6 280.5px,#7bb9d8 282.5px,#6cb2d4 285.5px,#4494c3 293.5px,#4292c3 300.5px,#4f9cc8 316.5px,#5ca7ce 321.5px,#72b5d5 324.5px,#a5cfe3 328.5px,#d5e7f1 331.5px,#eff3f6 333.5px,#f8f2ee 334.5px,#fddac7 336.5px,#f5ac8c 338.5px,#df765e 340.5px,#d45b4b 341.5px,#bd2e36 343.5px,#b51e2e 344.5px,#ac162a 345.5px,#a41429 346.5px,#8d0c25 347.5px,#67001f 348.5px,#67001f 372.5px,#e68569 373.5px,#317cb7 374.5px,#124a85 375.5px,#053061 376.5px,#053061 389.5px,#2065aa 401.5px,#327db8 411.5px,#3c8abe 427.5px,#5da8ce 568.5px,#66afd2 703.5px,#66afd2 861px)"></div>
<div style="height:2px;background:linear-gradient(90deg,#66afd2 0px,#69b0d3 218.5px,#78b8d7 243.5px,#86bfdb 248.5px,#bad9e9 258.5px,#bddbea 263.5px,#bad9e9 265.5px,#a9d1e5 266.5px,#7ab9d7 268.5px,#6cb2d4 269.5px,#63add1 271.5px,#65aed2 277.5px,#6ab1d3 283.5px,#59a4cc 289.5px,#4494c4 294.5px,#4f9cc8 313.5px,#5ca7ce 320.5px,#6db3d4 323.5px,#8fc4dd 326.5px,#b9d9e9 329.5px,#d9e9f1 331.5px,#f3f5f6 333.5px,#f9efe9 334.5px,#fcd4bf 336.5px,#f4a683 338.5px,#dc6e58 340.5px,#d05447 341.5px,#bb2933 343.5px,#b31a2c 344.5px,#a41329 346.5px,#7e0723 347.5px,#67001f 348.5px,#67001f 372.5px,#f19e7d 373.5px,#2f78b5 374.5px,#114781 375.5px,#053061 376.5px,#053061 389.5px,#2064aa 401.5px,#327db8 411.5px,#3c8abe 427.5px,#529fc9 515.5px,#63acd1 619.5px,#66afd2 742.5px,#66afd2 861px)"></div>
<div style="height:2px;background:linear-gradient(90deg,#66afd2 0px,#69b0d3 221.5px,#75b7d6 244.5px,#84beda 249.5px,#afd4e6 258.5px,#b2d5e7 264.5px,#b0d4e7 265.5px,#a2cde2 266.5px,#78b8d7 268.5px,#6cb2d4 269.5px,#64aed1 271.5px,#67afd2 284.5px,#5aa6cd 289.5px,#4897c5 294.5px,#529fca 313.5px,#60aacf 320.5px,#72b5d5 323.5px,#a0cce2 327.5px,#cfe4f0 330.5px,#f7f7f6 333.5px,#fce1d1 335.5px,#fbcfb7 336.5px,#f19f7d 338.5px,#d96753 340.5px,#c2383a 342.5px,#b82531 343.5px,#b1182b 344.5px,#a21328 346.5px,#700320 347.5px,#67001f 348.5px,#67001f 372.5px,#f7b596 373.5px,#2c74b3 374.5px,#10457e 375.5px,#053061 376.5px,#053061 389.5px,#2064aa 401.5px,#327cb7 411.5px,#3c89be 427.5px,#519ec9 513.5px,#62acd0 617.5px,#68b0d2 740.5px,#65aed1 749.5px,#66afd2 861px)"></div>
<div style="height:2px;background:linear-gradient(90deg,#66afd2 0px,#69b0d3 226.5px,#70b4d5 244.5px,#81bdd9 250.5px,#a1cde2 257.5px,#a7d0e4 261.5px,#a5cfe4 265.5px,#99c9e0 266.5px,#75b7d6 268.5px,#6bb2d3 269.5px,#65aed2 272.5px,#67b0d2 284.5px,#58a4cc 290.5px,#4a99c6 295.5px,#59a5cc 315.5px,#65aed1 320.5px,#77b8d7 323.5px,#a4cee3 327.5px,#d3e6f0 330.5px,#ecf2f5 332.5px,#f7f5f3 333.5px,#fcdecc 335.5px,#f6b293 337.5px,#e27c63 339.5px,#d7624e 340.5px,#c03338 342.5px,#b7212f 343.5px,#ae172a 344.5px,#a61429 345.5px,#970f27 346.5px,#67001f 347.5px,#67001f 372.5px,#facbb2 373.5px,#2971b2 374.5px,#0e427a 375.5px,#053061 376.5px,#053061 389.5px,#2064a9 401.5px,#327cb7 411.5px,#3c89be 428.5px,#509dc8 509.5px,#62acd0 612.5px,#69b0d3 729.5px,#68b0d3 740.5px,#62acd0 747.5px,#66afd2 769.5px,#66afd2 861px)"></div>
<div style="height:2px;background:linear-gradient(90deg,#66afd2 0px,#69b0d3 240.5px,#73b5d5 248.5px,#98c8e0 258.5px,#99c9e0 265.5px,#90c4dd 266.5px,#72b5d5 268.5px,#68b0d3 270.5px,#66afd2 285.5px,#4f9cc8 295.5px,#5ea8ce 315.5px,#6ab1d3 320.5px,#7cbad8 323.5px,#a8d0e4 327.5px,#e2edf3 331.5px,#eff3f6 332.5px,#f8f2ef 333.5px,#fddcc8 335.5px,#f5ae8d 337.5px,#e0775f 339.5px,#d45d4b 340.5px,#be2f36 342.5px,#b51f2e 343.5px,#ac162a 344.5px,#a51429 345.5px,#8d0c25 346.5px,#67001f 347.5px,#67001f 372.5px,#fcdfcd 373.5px,#276eb0 374.5px,#0d4077 375.5px,#053061 376.5px,#053061 389.5px,#124a85 395.5px,#2268ad 402.5px,#347fb9 413.5px,#3d8bbf 434.5px,#4f9dc8 508.5px,#62acd0 610.5px,#69b0d3 727.5px,#6ab1d3 739.5px,#60aacf 746.5px,#66afd2 757.5px,#66afd2 861px)"></div>
<div style="height:2px;background:linear-gradient(90deg,#66afd2 0px,#68b0d3 244.5px,#78b8d7 252.5px,#8bc1dc 259.5px,#8bc1dc 265.5px,#6fb4d4 268.5px,#68b0d2 271.5px,#66afd2 286.5px,#54a0ca 295.5px,#63acd1 315.5px,#6fb4d5 320.5px,#82bdda 323.5px,#acd2e6 327.5px,#e4eef4 331.5px,#f2f4f6 332.5px,#f8f1ec 333.5px,#fdd8c4 335.5px,#f5aa88 337.5px,#de735b 339.5px,#d25949 340.5px,#bc2c35 342.5px,#b41c2d 343.5px,#a51429 345.5px,#67001f 347.5px,#67001f 372.5px,#f9ebe3 373.5px,#256baf 374.5px,#0c3e75 375.5px,#053061 376.5px,#053061 389.5px,#0e4078 393.5px,#2064a9 401.5px,#327cb7 411.5px,#3c89be 428.5px,#4f9dc8 507.5px,#62acd0 609.5px,#69b0d3 726.5px,#6cb2d4 738.5px,#5da7ce 746.5px,#66afd2 754.5px,#66afd2 861px)"></div>
<div style="height:2px;background:linear-gradient(90deg,#66afd2 0px,#68b0d3 246.5px,#79b9d7 261.5px,#79b8d7 265.5px,#69b0d3 269.5px,#66afd2 287.5px,#59a5cc 295.5px,#68b0d3 315.5px,#75b7d6 320.5px,#88c0db 323.5px,#b1d5e7 327.5px,#dae9f2 330.5px,#f4f6f6 332.5px,#f9efe9 333.5px,#fcd5bf 335.5px,#f4a784 337.5px,#dd6f59 339.5px,#d15548 340.5px,#bb2a33 342.5px,#b31b2c 343.5px,#a41429 345.5px,#7e0723 346.5px,#67001f 347.5px,#67001f 372.5px,#f3f4f5 373.5px,#2369ad 374.5px,#0c3d73 375.5px,#053061 376.5px,#053061 389.5px,#0d4078 393.5px,#2064a9 401.5px,#317cb7 411.5px,#3b89be 428.5px,#4f9dc8 507.5px,#62acd0 609.5px,#69b0d3 725.5px,#6eb3d4 737.5px,#64aed1 742.5px,#59a5cc 745.5px,#60aacf 749.5px,#66afd2 755.5px,#66afd2 861px)"></div>
<div style="height:2px;background:linear-gradient(90deg,#66afd2 0px,#69b0d3 258.5px,#66afd2 288.5px,#5fa9cf 296.5px,#6eb3d4 315.5px,#7bbad8 320.5px,#96c7df 324.5px,#b5d7e8 327.5px,#d2e5f0 329.5px,#f6f6f7 332.5px,#fbe2d3 334.5px,#fcd2bc 335.5px,#f4a481 337.5px,#db6c56 339.5px,#c43b3c 341.5px,#b3192c 343.5px,#a41329 345.5px,#790622 346.5px,#67001f 347.5px,#67001f 372.5px,#e0ecf3 373.5px,#2166ac 374.5px,#0b3b71 375.5px,#053061 376.5px,#053061 389.5px,#0b3b71 392.5px,#2064a9 401.5px,#317cb7 411.5px,#3b89be 428.5px,#4e9cc8 505.5px,#61abd0 607.5px,#69b0d3 724.5px,#70b4d5 737.5px,#63add1 742.5px,#55a1cb 745.5px,#5aa5cd 748.5px,#65aed1 752.5px,#66afd2 861px)"></div>
<div style="height:2px;background:linear-gradient(90deg,#66afd2 0px,#69b1d3 282.5px,#66afd2 298.5px,#76b7d6 316.5px,#86bfdb 321.5px,#a3cde3 325.5px,#c6dfed 328.5px,#f7f7f6 332.5px,#fce1d1 334.5px,#fbd0b9 335.5px,#f3a280 337.5px,#da6a55 339.5px,#c33a3b 341.5px,#b2182b 343.5px,#a81529 344.5px,#a41329 345.5px,#760521 346.5px,#67001f 347.5px,#67001f 372.5px,#c5dfed 373.5px,#2063a8 374.5px,#0a3a6f 375.5px,#053061 376.5px,#053061 389.5px,#0b3b71 392.5px,#2064a9 401.5px,#307ab6 410.5px,#3a88bd 425.5px,#509ec9 512.5px,#62acd0 614.5px,#69b0d3 724.5px,#72b5d5 736.5px,#68b0d2 741.5px,#509dc8 745.5px,#529fc9 747.5px,#62acd0 751.5px,#66afd2 765.5px,#66afd2 861px)"></div>
<div style="height:2px;background:linear-gradient(90deg,#66afd2 0px,#69b0d3 281.5px,#6fb3d4 303.5px,#7ebbd9 317.5px,#92c5de 322.5px,#a7d0e4 325.5px,#ecf2f5 331.5px,#f7f5f4 332.5px,#fce0d0 334.5px,#fbcfb7 335.5px,#f2a07e 337.5px,#da6954 339.5px,#c2393a 341.5px,#b2182b 343.5px,#a81529 344.5px,#a31329 345.5px,#740421 346.5px,#67001f 347.5px,#67001f 372.5px,#9dcae1 373.5px,#1e61a4 374.5px,#0a396d 375.5px,#053061 376.5px,#053061 389.5px,#0b3b71 392.5px,#2064a9 401.5px,#307ab6 410.5px,#3a88bd 425.5px,#509ec9 513.5px,#62acd0 615.5px,#69b0d3 723.5px,#73b6d6 736.5px,#6cb2d4 740.5px,#59a5cc 743.5px,#4b99c6 745.5px,#4d9bc7 747.5px,#62acd0 751.5px,#66afd2 760.5px,#66afd2 861px)"></div>
<div style="height:2px;background:linear-gradient(90deg,#66afd2 0px,#69b0d3 280.5px,#77b7d7 309.5px,#84beda 318.5px,#9ac9e0 323.5px,#b3d6e7 326.5px,#edf2f5 331.5px,#f7f5f4 332.5px,#fce0cf 334.5px,#f7b799 336.5px,#f29f7e 337.5px,#da6853 339.5px,#c2383a 341.5px,#b1182b 343.5px,#a81529 344.5px,#a31329 345.5px,#730421 346.5px,#67001f 347.5px,#67001f 372.5px,#6cb2d3 373.5px,#1d5ea1 374.5px,#09386c 375.5px,#053061 376.5px,#053061 389.5px,#0b3b71 392.5px,#2064a9 401.5px,#307ab6 410.5px,#3a88bd 425.5px,#509ec9 512.5px,#62acd0 614.5px,#69b0d3 723.5px,#74b6d6 736.5px,#6cb2d4 740.5px,#60aad0 742.5px,#4696c4 745.5px,#4998c6 747.5px,#61abd0 751.5px,#66afd2 757.5px,#66afd2 861px)"></div>
<div style="height:2px;background:linear-gradient(90deg,#66afd2 0px,#69b0d3 280.5px,#77b7d7 309.5px,#84beda 318.5px,#9ac9e0 323.5px,#b3d6e7 326.5px,#edf2f5 331.5px,#f7f5f4 332.5px,#fce0cf 334.5px,#fbceb7 335.5px,#f2a07e 337.5px,#da6954 339.5px,#c2393a 341.5px,#b1182b 343.5px,#a71529 344.5px,#a31329 345.5px,#740421 346.5px,#67001f 347.5px,#67001f 372.5px,#5ba7cd 373.5px,#1c5c9e 374.5px,#09376b 375.5px,#053061 376.5px,#053061 389.5px,#08376a 391.5px,#2064a9 401.5px,#307ab6 410.5px,#3a88bd 425.5px,#509dc9 511.5px,#62acd0 613.5px,#68b0d3 722.5px,#75b7d6 736.5px,#6cb2d4 740.5px,#60aacf 742.5px,#4393c3 745.5px,#4696c4 747.5px,#61abd0 751.5px,#66afd2 756.5px,#66afd2 861px)"></div>
<div style="height:2px;background:linear-gradient(90deg,#66afd2 0px,#69b0d3 280.5px,#77b7d7 309.5px,#84beda 318.5px,#9ac9e0 323.5px,#b2d5e7 326.5px,#ecf2f5 331.5px,#f7f5f4 332.5px,#fce0d0 334.5px,#fbcfb8 335.5px,#f2a17f 337.5px,#da6a55 339.5px,#c33a3b 341.5px,#b2182b 343.5px,#a81529 344.5px,#a31329 345.5px,#770522 346.5px,#67001f 347.5px,#67001f 371.5px,#750421 372.5px,#519ec9 373.5px,#1a599a 374.5px,#08366a 375.5px,#053061 376.5px,#053061 389.5px,#0b3b71 392.5px,#2064a9 401.5px,#307ab6 410.5px,#3a88bd 425.5px,#509dc9 511.5px,#62acd0 613.5px,#68b0d3 722.5px,#76b7d6 736.5px,#6db2d4 740.5px,#5faacf 742.5px,#4998c6 744.5px,#4292c2 745.5px,#4594c4 747.5px,#60aad0 751.5px,#66afd2 756.5px,#66afd2 861px)"></div>
<div style="height:2px;background:linear-gradient(90deg,#66afd2 0px,#69b0d3 280.5px,#77b7d7 309.5px,#84beda 318.5px,#9ac9e0 323.5px,#b2d5e7 326.5px,#ecf2f5 331.5px,#f7f6f5 332.5px,#fce1d1 334.5px,#fbd1ba 335.5px,#f3a380 337.5px,#db6c56 339.5px,#c43b3c 341.5px,#b2192b 343.5px,#a81529 344.5px,#a31329 345.5px,#7b0622 346.5px,#67001f 347.5px,#67001f 371.5px,#8a0b25 372.5px,#4897c5 373.5px,#195798 374.5px,#083669 375.5px,#053061 376.5px,#053061 389.5px,#0b3b71 392.5px,#2064a9 401.5px,#307ab6 410.5px,#3a88bd 425.5px,#509ec9 512.5px,#62acd0 614.5px,#68b0d3 722.5px,#76b7d6 736.5px,#6db2d4 740.5px,#5faacf 742.5px,#4998c6 744.5px,#4292c2 745.5px,#4594c4 747.5px,#60aad0 751.5px,#66afd2 756.5px,#66afd2 861px)"></div>
<div style="height:2px;background:linear-gradient(90deg,#66afd2 0px,#69b0d3 280.5px,#77b7d7 309.5px,#84beda 318.5px,#9ac9e0 323.5px,#b1d5e7 326.5px,#f7f7f7 332.5px,#fbe2d3 334.5px,#fcd3bc 335.5px,#f4a683 337.5px,#dc6e58 339.5px,#d05548 340.5px,#bb2933 342.5px,#b31a2c 343.5px,#a31329 345.5px,#810823 346.5px,#67001f 347.5px,#67001f 371.5px,#a11328 372.5px,#4191c2 373.5px,#185595 374.5px,#083568 375.5px,#053061 376.5px,#053061 389.5px,#0b3c71 392.5px,#2064a9 401.5px,#317cb7 411.5px,#3b89be 428.5px,#4f9cc8 506.5px,#62abd0 608.5px,#69b0d3 723.5px,#75b7d6 736.5px,#6cb2d4 740.5px,#60aacf 742.5px,#4393c3 745.5px,#4696c4 747.5px,#61abd0 751.5px,#66afd2 756.5px,#66afd2 861px)"></div>
<div style="height:2px;background:linear-gradient(90deg,#66afd2 0px,#69b0d3 280.5px,#77b7d7 309.5px,#84beda 318.5px,#99c9e0 323.5px,#b0d4e7 326.5px,#f6f6f7 332.5px,#fbe3d5 334.5px,#fcd5c0 335.5px,#f5a886 337.5px,#de725b 339.5px,#d25849 340.5px,#bc2c34 342.5px,#b41c2d 343.5px,#a31329 345.5px,#880b24 346.5px,#67001f 347.5px,#67001f 371.5px,#b6202f 372.5px,#3d8cbf 373.5px,#185493 374.5px,#083568 375.5px,#053061 376.5px,#053061 389.5px,#0e4078 393.5px,#2064a9 401.5px,#317cb7 411.5px,#3b89be 428.5px,#4e9cc8 505.5px,#61abd0 607.5px,#69b0d3 723.5px,#74b6d6 736.5px,#6cb2d4 740.5px,#60aad0 742.5px,#4696c4 745.5px,#4998c6 747.5px,#61abd0 751.5px,#66afd2 757.5px,#66afd2 861px)"></div>
<div style="height:2px;background:linear-gradient(90deg,#66afd2 0px,#69b0d3 279.5px,#77b8d7 311.5px,#86bfdb 319.5px,#9ecbe1 324.5px,#b8d9e9 327.5px,#f3f5f6 332.5px,#f9f0eb 333.5px,#fddac5 335.5px,#f5ad8c 337.5px,#e0775f 339.5px,#d55d4c 340.5px,#be3036 342.5px,#b51f2e 343.5px,#ac162a 344.5px,#a41429 345.5px,#920e26 346.5px,#67001f 347.5px,#67001f 371.5px,#c33a3b 372.5px,#3a87bd 373.5px,#175290 374.5px,#073568 375.5px,#053061 376.5px,#053061 389.5px,#2064a9 401.5px,#327cb7 411.5px,#3b89be 428.5px,#4f9cc8 506.5px,#62abd0 608.5px,#69b0d3 723.5px,#73b6d6 736.5px,#6cb2d4 740.5px,#59a5cc 743.5px,#4b99c6 745.5px,#4d9bc7 747.5px,#62acd0 751.5px,#66afd2 760.5px,#66afd2 861px)"></div>
<div style="height:2px;background:linear-gradient(90deg,#66afd2 0px,#69b0d3 275.5px,#77b8d7 291.5px,#7dbad8 299.5px,#76b7d6 302.5px,#6ab1d3 305.5px,#74b6d6 316.5px,#83bdda 321.5px,#a4cee3 326.5px,#ecf2f5 332.5px,#f7f5f4 333.5px,#fce0cf 335.5px,#f7b799 337.5px,#f2a07e 338.5px,#da6954 340.5px,#c33a3b 342.5px,#b31a2c 344.5px,#a31329 346.5px,#700320 347.5px,#67001f 348.5px,#67001f 371.5px,#d15749 372.5px,#3783bb 373.5px,#16518e 374.5px,#073467 375.5px,#053061 376.5px,#053061 389.5px,#2064aa 401.5px,#327cb7 411.5px,#3c89be 428.5px,#4f9dc8 507.5px,#62acd0 609.5px,#69b0d3 724.5px,#72b5d5 736.5px,#68b0d2 741.5px,#509dc8 745.5px,#529fc9 747.5px,#62acd0 751.5px,#66afd2 765.5px,#66afd2 861px)"></div>
<div style="height:2px;background:linear-gradient(90deg,#66afd2 0px,#69b1d3 267.5px,#72b5d5 282.5px,#8cc2dc 296.5px,#87bfdb 300.5px,#7bbad8 302.5px,#66aed2 304.5px,#5fa9cf 306.5px,#6ab1d3 317.5px,#7bbad8 322.5px,#9ac9e0 326.5px,#bddbea 329.5px,#f1f4f6 333.5px,#f8f1ed 334.5px,#fddac5 336.5px,#f5ad8c 338.5px,#e0775f 340.5px,#d55e4c 341.5px,#c03338 343.5px,#b31a2c 345.5px,#ae172a 346.5px,#830923 347.5px,#67001f 348.5px,#67001f 371.5px,#df755d 372.5px,#347fb9 373.5px,#154f8c 374.5px,#073467 375.5px,#053061 376.5px,#053061 389.5px,#2065aa 401.5px,#327cb7 411.5px,#3c89be 428.5px,#4f9cc8 506.5px,#62abd0 608.5px,#69b0d3 724.5px,#70b4d5 737.5px,#63add1 742.5px,#55a1cb 745.5px,#5aa5cd 748.5px,#65aed1 752.5px,#66afd2 861px)"></div>
<div style="height:2px;background:linear-gradient(90deg,#66afd2 0px,#69b0d3 258.5px,#72b5d5 278.5px,#86bfdb 287.5px,#98c8e0 294.5px,#98c8e0 298.5px,#8cc2dc 301.5px,#80bcd9 302.5px,#5faacf 304.5px,#54a1ca 306.5px,#5fa9cf 317.5px,#6fb4d4 322.5px,#84beda 325.5px,#b1d5e7 329.5px,#dceaf2 332.5px,#f6f6f6 334.5px,#fce1d1 336.5px,#fbd0b9 337.5px,#f2a280 339.5px,#db6c56 341.5px,#c63f3e 343.5px,#b72230 345.5px,#b31b2c 346.5px,#981027 347.5px,#68001f 348.5px,#67001f 371.5px,#ec9475 372.5px,#317bb7 373.5px,#154e8b 374.5px,#073466 375.5px,#053061 376.5px,#053061 389.5px,#2065ab 401.5px,#327cb7 411.5px,#3c8abe 428.5px,#509dc8 508.5px,#62acd0 611.5px,#69b0d3 725.5px,#6eb3d4 737.5px,#64aed1 742.5px,#59a5cc 745.5px,#60aacf 749.5px,#66afd2 755.5px,#66afd2 861px)"></div>
<div style="height:2px;background:linear-gradient(90deg,#66afd2 0px,#69b0d3 253.5px,#73b6d6 276.5px,#84beda 284.5px,#a2cde2 293.5px,#a5cfe3 297.5px,#9ac9e0 300.5px,#94c6df 301.5px,#86bfdb 302.5px,#5ba6cd 304.5px,#4f9dc8 305.5px,#4998c6 307.5px,#56a2cb 318.5px,#69b0d3 323.5px,#81bdd9 326.5px,#b3d6e7 330.5px,#d4e6f1 332.5px,#eef3f5 334.5px,#f8f3f0 335.5px,#fddcc8 337.5px,#f6af8f 339.5px,#e27b61 341.5px,#d7624f 342.5px,#c3393b 344.5px,#b72230 346.5px,#ae182b 347.5px,#7a0622 348.5px,#67001f 349.5px,#67001f 371.5px,#f6b191 372.5px,#2f78b5 373.5px,#144d89 374.5px,#073466 375.5px,#053061 376.5px,#053061 389.5px,#2165ab 401.5px,#327db8 411.5px,#3c8abe 428.5px,#4f9dc8 507.5px,#62acd0 610.5px,#69b0d3 726.5px,#6cb2d4 738.5px,#5da7ce 746.5px,#66afd2 754.5px,#66afd2 861px)"></div>
<div style="height:2px;background:linear-gradient(90deg,#66afd2 0px,#69b0d3 250.5px,#75b7d6 275.5px,#87bfdb 283.5px,#acd2e5 293.5px,#b0d4e7 297.5px,#a3cde3 300.5px,#9bc9e0 301.5px,#8dc3dd 302.5px,#59a4cc 304.5px,#4a98c6 305.5px,#4393c3 306.5px,#4696c4 315.5px,#54a1ca 321.5px,#6bb2d3 325.5px,#8cc2dc 328.5px,#b7d8e9 331.5px,#e5eff4 334.5px,#f3f5f6 335.5px,#f9eee8 336.5px,#fcd3bd 338.5px,#f4a583 340.5px,#dd705a 342.5px,#d3594a 343.5px,#c03539 345.5px,#b72230 347.5px,#930e26 348.5px,#67001f 349.5px,#67001f 371.5px,#facbb2 372.5px,#2d76b4 373.5px,#144c88 374.5px,#073466 375.5px,#053061 377.5px,#053061 389.5px,#2166ac 401.5px,#327db8 411.5px,#3c8abe 428.5px,#509dc8 508.5px,#62acd0 612.5px,#69b0d3 727.5px,#6ab1d3 739.5px,#60aacf 746.5px,#66afd2 757.5px,#66afd2 861px)"></div>
<div style="height:2px;background:linear-gradient(90deg,#66afd2 0px,#69b0d3 247.5px,#77b7d7 274.5px,#89c0db 282.5px,#b9d9e9 294.5px,#badaea 297.5px,#b2d5e7 299.5px,#a1cde2 301.5px,#94c6df 302.5px,#59a5cd 304.5px,#4595c4 305.5px,#3e8cbf 307.5px,#4594c4 319.5px,#59a5cc 324.5px,#73b5d5 327.5px,#aad1e5 331.5px,#cfe4ef 333.5px,#f7f5f4 336.5px,#fcdecc 338.5px,#f6b393 340.5px,#ef9a7a 341.5px,#d96752 343.5px,#c53f3d 345.5px,#ba2833 347.5px,#ac172a 348.5px,#780522 349.5px,#67001f 350.5px,#67001f 371.5px,#fce0d0 372.5px,#2b73b3 373.5px,#134b87 374.5px,#073466 375.5px,#053061 376.5px,#053062 389.5px,#2166ac 401.5px,#337db8 411.5px,#3c8abe 428.5px,#519fc9 514.5px,#63acd1 619.5px,#69b0d3 729.5px,#68b0d3 740.5px,#62acd0 747.5px,#66afd2 769.5px,#66afd2 861px)"></div>
<div style="height:2px;background:linear-gradient(90deg,#66afd2 0px,#69b0d3 246.5px,#78b8d7 273.5px,#89c1dc 281.5px,#c2deec 294.5px,#c4dfec 297.5px,#bbdaea 299.5px,#9ac9e0 302.5px,#7fbbd9 303.5px,#5ca7ce 304.5px,#4393c3 305.5px,#3b88bd 307.5px,#4190c2 320.5px,#4a98c6 323.5px,#5da8ce 326.5px,#80bcd9 329.5px,#c1ddec 333.5px,#d4e6f1 334.5px,#f0f4f6 336.5px,#f8f1ec 337.5px,#fcd7c2 339.5px,#f5a988 341.5px,#df755d 343.5px,#d55e4c 344.5px,#c33a3b 346.5px,#ba2732 348.5px,#940e26 349.5px,#67001f 350.5px,#67001f 371.5px,#f9eee8 372.5px,#2971b2 373.5px,#134b87 374.5px,#073466 375.5px,#053061 376.5px,#063162 389.5px,#2166ac 401.5px,#337eb8 411.5px,#3d8abf 428.5px,#5da8ce 571.5px,#66afd2 710.5px,#68b0d2 740.5px,#65aed1 749.5px,#66afd2 861px)"></div>
<div style="height:2px;background:linear-gradient(90deg,#66afd2 0px,#69b0d3 244.5px,#79b8d7 271.5px,#87bfdb 279.5px,#a8d0e4 287.5px,#cbe2ee 294.5px,#cee3ef 297.5px,#c4deec 299.5px,#a0cce2 302.5px,#86bfdb 303.5px,#60aad0 304.5px,#4393c3 305.5px,#3b89be 306.5px,#3783bb 308.5px,#3f8dc0 321.5px,#4696c4 324.5px,#5ca7ce 327.5px,#82bdda 330.5px,#d9e9f1 335.5px,#f5f6f6 337.5px,#fce0d0 339.5px,#f7b799 341.5px,#f19f7e 342.5px,#db6c56 344.5px,#d15648 345.5px,#c13539 347.5px,#bc2b34 348.5px,#af1a2c 349.5px,#7c0722 350.5px,#67001f 351.5px,#67001f 371.5px,#f0f4f6 372.5px,#2870b1 373.5px,#134b86 374.5px,#073467 375.5px,#053061 376.5px,#063263 389.5px,#2267ac 401.5px,#337eb8 411.5px,#3d8bbf 428.5px,#5da8ce 571.5px,#66afd2 711.5px,#66afd2 742.5px,#66afd2 861px)"></div>
<div style="height:2px;background:linear-gradient(90deg,#66afd2 0px,#69b0d3 243.5px,#79b8d7 269.5px,#87bfdb 278.5px,#a7d0e4 286.5px,#cfe4f0 293.5px,#d4e6f1 297.5px,#cce2ee 299.5px,#a5cfe3 302.5px,#8ec3dd 303.5px,#66afd2 304.5px,#4595c4 305.5px,#3b88bd 306.5px,#3580b9 308.5px,#3c8abe 321.5px,#4494c4 325.5px,#5da8ce 328.5px,#86bfdb 331.5px,#bbdaea 334.5px,#cfe4ef 335.5px,#edf2f5 337.5px,#f8f3f1 338.5px,#fddbc7 340.5px,#f5ae8d 342.5px,#e17a61 344.5px,#d7634f 345.5px,#c53d3d 347.5px,#ba2933 349.5px,#9c1127 350.5px,#6b0120 351.5px,#67001f 354.5px,#67001f 371.5px,#deebf2 372.5px,#276eb0 373.5px,#134b86 374.5px,#073568 375.5px,#053061 376.5px,#053061 388.5px,#0d4077 392.5px,#2267ad 401.5px,#337eb8 411.5px,#3d8bbf 428.5px,#5ea8ce 572.5px,#66afd2 715.5px,#66afd2 861px)"></div>
<div style="height:2px;background:linear-gradient(90deg,#66afd2 0px,#69b0d3 242.5px,#79b9d7 268.5px,#89c1dc 278.5px,#a5cee3 285.5px,#d4e6f1 293.5px,#d9e9f1 297.5px,#d2e5f0 299.5px,#b9d9e9 301.5px,#96c7df 303.5px,#6eb3d4 304.5px,#4998c6 305.5px,#3b88bd 306.5px,#337db8 308.5px,#3a87bd 321.5px,#4494c3 326.5px,#5fa9cf 329.5px,#8cc2dc 332.5px,#d6e7f1 336.5px,#f3f5f6 338.5px,#f9efe9 339.5px,#fcd2bc 341.5px,#f3a482 343.5px,#dd715a 345.5px,#d35a4a 346.5px,#c1373a 348.5px,#b6202f 350.5px,#880b24 351.5px,#67001f 352.5px,#67001f 371.5px,#cae2ee 372.5px,#266db0 373.5px,#134b86 374.5px,#083568 375.5px,#053061 376.5px,#053061 388.5px,#2064aa 400.5px,#337db8 410.5px,#3d8bbf 426.5px,#5da8ce 569.5px,#66afd2 708.5px,#66afd2 861px)"></div>
<div style="height:2px;background:linear-gradient(90deg,#66afd2 0px,#69b0d3 242.5px,#79b9d7 267.5px,#8cc2dc 278.5px,#a7d0e4 285.5px,#d4e6f0 292.5px,#ddebf2 296.5px,#d6e7f1 299.5px,#cde3ef 300.5px,#9ccae1 303.5px,#76b7d6 304.5px,#4f9dc8 305.5px,#3b89be 306.5px,#3480b9 307.5px,#317bb7 310.5px,#3b88bd 323.5px,#4595c4 327.5px,#62acd0 330.5px,#a4cee3 334.5px,#cbe2ee 336.5px,#f7f5f4 339.5px,#fcdecc 341.5px,#f6b393 343.5px,#ef9a7a 344.5px,#d96853 346.5px,#c63f3e 348.5px,#ba2732 350.5px,#ab172b 351.5px,#770522 352.5px,#67001f 353.5px,#67001f 371.5px,#b0d4e7 372.5px,#266daf 373.5px,#134b87 374.5px,#083669 375.5px,#053061 376.5px,#053061 388.5px,#2065aa 400.5px,#337eb8 410.5px,#3d8bbf 426.5px,#5da8ce 570.5px,#66afd2 712.5px,#66afd2 861px)"></div>
<div style="height:2px;background:linear-gradient(90deg,#66afd2 0px,#69b0d3 241.5px,#78b8d7 265.5px,#8bc1dc 277.5px,#a4cee3 284.5px,#d6e7f1 292.5px,#e0ecf3 296.5px,#d9e9f1 299.5px,#d2e5f0 300.5px,#a1cde2 303.5px,#7fbbd9 304.5px,#55a2cb 305.5px,#3d8bbf 306.5px,#3480b9 307.5px,#307ab6 309.5px,#3884bb 322.5px,#4291c2 327.5px,#509ec9 329.5px,#76b7d6 332.5px,#bfdceb 336.5px,#d3e6f0 337.5px,#eff3f6 339.5px,#f8f1ed 340.5px,#fcd8c3 342.5px,#f5aa89 344.5px,#e0775e 346.5px,#d55f4d 347.5px,#c2383a 349.5px,#b72230 351.5px,#9e1228 352.5px,#6d0220 353.5px,#67001f 354.5px,#67001f 371.5px,#99c9e0 372.5px,#266caf 373.5px,#134c87 374.5px,#08376a 375.5px,#053061 376.5px,#053061 388.5px,#2165ab 400.5px,#337eb8 410.5px,#3d8bbf 426.5px,#5ea8ce 570.5px,#66afd2 713.5px,#66afd2 861px)"></div>
<div style="height:2px;background:linear-gradient(90deg,#66afd2 0px,#69b0d3 241.5px,#78b8d7 264.5px,#8cc2dc 277.5px,#a6cfe4 284.5px,#d9e9f1 292.5px,#e3eef3 296.5px,#dceaf2 299.5px,#d5e7f1 300.5px,#a6cfe4 303.5px,#87c0db 304.5px,#5ca7ce 305.5px,#3e8dc0 306.5px,#3580b9 307.5px,#2f79b6 309.5px,#3884bb 323.5px,#4392c3 328.5px,#5fa9cf 331.5px,#8fc4dd 334.5px,#d8e8f1 338.5px,#f5f6f6 340.5px,#fce2d2 342.5px,#fbd1ba 343.5px,#f3a381 345.5px,#dc6f58 347.5px,#d25849 348.5px,#bf3237 350.5px,#b51d2d 352.5px,#950f26 353.5px,#69011f 354.5px,#67001f 371.5px,#83beda 372.5px,#266caf 373.5px,#144c88 374.5px,#09386b 375.5px,#053061 376.5px,#053162 388.5px,#2166ac 400.5px,#347fb9 410.5px,#3d8cbf 426.5px,#5ea8ce 571.5px,#66afd2 717.5px,#66afd2 861px)"></div>
<div style="height:2px;background:linear-gradient(90deg,#66afd2 0px,#69b0d3 240.5px,#78b8d7 263.5px,#8bc1dc 276.5px,#a2cde3 283.5px,#c9e1ee 289.5px,#dfecf3 293.5px,#e6eff4 297.5px,#dfecf3 299.5px,#cce3ef 301.5px,#aad1e5 303.5px,#8ec3dd 304.5px,#62acd0 305.5px,#3f8ec1 306.5px,#3580b9 307.5px,#2e78b5 309.5px,#3783bb 323.5px,#4494c3 329.5px,#63add1 332.5px,#a6cfe4 336.5px,#cde3ef 338.5px,#f7f5f4 341.5px,#fcdecd 343.5px,#f09c7b 346.5px,#da6954 348.5px,#c53d3d 350.5px,#b6202f 352.5px,#b2182b 353.5px,#8f0d25 354.5px,#67001f 355.5px,#67001f 371.5px,#71b4d5 372.5px,#266caf 373.5px,#144d89 374.5px,#09386d 375.5px,#053061 376.5px,#063263 388.5px,#2167ac 400.5px,#347fb9 410.5px,#3e8cbf 426.5px,#5ea8ce 571.5px,#66afd2 718.5px,#66afd2 861px)"></div>
<div style="height:2px;background:linear-gradient(90deg,#66afd2 0px,#69b0d3 240.5px,#78b8d7 263.5px,#8bc2dc 276.5px,#a3cee3 283.5px,#cbe2ee 289.5px,#e4eef4 294.5px,#e9f0f4 297.5px,#e2edf3 299.5px,#d1e5f0 301.5px,#aed3e6 303.5px,#94c6df 304.5px,#67afd2 305.5px,#4190c1 306.5px,#3580b9 307.5px,#2e77b5 309.5px,#3681ba 323.5px,#4191c2 329.5px,#509dc9 331.5px,#77b8d7 334.5px,#d2e5f0 339.5px,#eef3f5 341.5px,#f8f3ef 342.5px,#fcdbc7 344.5px,#f6af8f 346.5px,#e27c63 348.5px,#d86450 349.5px,#c2393b 351.5px,#b41c2d 353.5px,#ad162a 354.5px,#900d26 355.5px,#69011f 356.5px,#67001f 371.5px,#65aed2 372.5px,#266caf 373.5px,#144e8a 374.5px,#0a396e 375.5px,#053061 376.5px,#053061 387.5px,#124983 393.5px,#2267ad 400.5px,#347fb9 410.5px,#3e8cc0 426.5px,#5ea9cf 571.5px,#66afd2 720.5px,#66afd2 861px)"></div>
<div style="height:2px;background:linear-gradient(90deg,#66afd2 0px,#69b0d3 240.5px,#78b8d7 263.5px,#8cc2dc 276.5px,#a4cee3 283.5px,#c5dfed 288.5px,#deebf2 292.5px,#ebf1f5 296.5px,#e5eef4 299.5px,#d3e6f0 301.5px,#b2d5e7 303.5px,#98c8e0 304.5px,#6bb2d3 305.5px,#4291c2 306.5px,#3580b9 307.5px,#2f79b5 308.5px,#2e77b5 313.5px,#3985bc 326.5px,#4292c2 330.5px,#5fa9cf 333.5px,#9fcce2 337.5px,#d6e7f1 340.5px,#f1f4f6 342.5px,#f8f0ec 343.5px,#fcd8c3 345.5px,#f5ac8c 347.5px,#e17960 349.5px,#d6614e 350.5px,#c13639 352.5px,#b1192b 354.5px,#a81529 355.5px,#950f26 356.5px,#6d0220 357.5px,#67001f 358.5px,#67001f 371.5px,#62acd0 372.5px,#266db0 373.5px,#154f8c 374.5px,#0a3a6f 375.5px,#053061 376.5px,#053061 387.5px,#2268ad 400.5px,#3580b9 410.5px,#3e8dc0 426.5px,#5ea9cf 572.5px,#66afd2 724.5px,#66afd2 861px)"></div>
<div style="height:2px;background:linear-gradient(90deg,#66afd2 0px,#69b0d3 240.5px,#78b8d7 263.5px,#8cc2dc 276.5px,#a4cee3 283.5px,#c6e0ed 288.5px,#e0ecf3 292.5px,#edf2f5 296.5px,#e7f0f4 299.5px,#d6e7f1 301.5px,#b5d7e8 303.5px,#9ccae1 304.5px,#6fb3d4 305.5px,#4292c2 306.5px,#3580b9 307.5px,#2f78b5 308.5px,#2d75b4 312.5px,#3784bb 326.5px,#4493c3 331.5px,#63add1 334.5px,#b5d7e8 339.5px,#d8e8f1 341.5px,#f3f5f6 343.5px,#f9efe9 344.5px,#fcd7c1 346.5px,#f5ab8a 348.5px,#e17960 350.5px,#d6604e 351.5px,#c03539 353.5px,#b82330 354.5px,#af172b 355.5px,#991027 357.5px,#760521 358.5px,#67001f 359.5px,#67001f 371.5px,#6eb3d4 372.5px,#276eb0 373.5px,#16508d 374.5px,#0b3b71 375.5px,#053061 376.5px,#053061 387.5px,#2065aa 399.5px,#347fb9 409.5px,#3e8cbf 423.5px,#5da8ce 566.5px,#66afd2 710.5px,#66afd2 861px)"></div>
<div style="height:2px;background:linear-gradient(90deg,#66afd2 0px,#69b0d3 240.5px,#78b8d7 263.5px,#8cc2dc 276.5px,#a5cfe3 283.5px,#c7e0ed 288.5px,#e1edf3 292.5px,#eff3f6 296.5px,#eaf1f5 299.5px,#d8e8f1 301.5px,#b8d8e9 303.5px,#9fcce2 304.5px,#72b5d5 305.5px,#4393c3 306.5px,#3580b9 307.5px,#2e77b5 308.5px,#2c74b3 312.5px,#3682ba 326.5px,#4190c2 331.5px,#509dc8 333.5px,#76b7d6 336.5px,#dae9f2 342.5px,#f4f5f6 344.5px,#fbe4d6 346.5px,#fcd7c1 347.5px,#f5ad8c 349.5px,#e27b62 351.5px,#d76350 352.5px,#b82531 355.5px,#af172b 356.5px,#9a1027 358.5px,#870a24 359.5px,#6d0220 360.5px,#67001f 361.5px,#67001f 371.5px,#8fc3dd 372.5px,#286fb1 373.5px,#16518f 374.5px,#0c3d72 375.5px,#053061 376.5px,#053162 387.5px,#2166ab 399.5px,#347fb9 409.5px,#3e8dc0 423.5px,#5ea8ce 566.5px,#66afd2 712.5px,#66afd2 861px)"></div>
<div style="height:2px;background:linear-gradient(90deg,#66afd2 0px,#69b0d3 240.5px,#78b8d7 263.5px,#8cc2dc 276.5px,#a5cfe3 283.5px,#c9e1ee 288.5px,#e2edf3 292.5px,#f1f4f6 296.5px,#f0f4f6 298.5px,#e4eef4 300.5px,#cde3ef 302.5px,#bbdaea 303.5px,#a3cde3 304.5px,#75b7d6 305.5px,#4494c4 306.5px,#3580b9 307.5px,#2e77b5 308.5px,#2b73b3 311.5px,#3783bb 327.5px,#4292c2 332.5px,#5ea9cf 335.5px,#9ac9e0 339.5px,#cde3ef 342.5px,#f4f5f6 345.5px,#f9efe9 346.5px,#fcd8c4 348.5px,#ef9a79 351.5px,#da6954 353.5px,#c43d3c 355.5px,#b11a2c 357.5px,#991027 359.5px,#920e26 360.5px,#6c0220 362.5px,#67001f 363.5px,#67001f 371.5px,#b9d9e9 372.5px,#2a72b2 373.5px,#175392 374.5px,#0c3e75 375.5px,#053061 376.5px,#063263 387.5px,#2166ac 399.5px,#3580b9 409.5px,#3e8dc0 423.5px,#5ea8ce 567.5px,#66afd2 716.5px,#66afd2 861px)"></div>
<div style="height:2px;background:linear-gradient(90deg,#66afd2 0px,#69b0d3 240.5px,#78b8d7 263.5px,#8cc2dc 276.5px,#a5cfe4 283.5px,#c9e1ee 288.5px,#e8f0f4 293.5px,#f3f5f6 297.5px,#eef3f5 299.5px,#dceaf2 301.5px,#d0e4f0 302.5px,#bedbeb 303.5px,#a6cfe4 304.5px,#78b8d7 305.5px,#4696c4 306.5px,#3581ba 307.5px,#2d76b4 308.5px,#2a72b2 311.5px,#3682ba 327.5px,#4494c3 333.5px,#62acd0 336.5px,#acd2e5 341.5px,#cde3ef 343.5px,#f3f5f6 346.5px,#f8f0ec 347.5px,#fcdcc9 349.5px,#f2a281 352.5px,#d45d4d 355.5px,#b72230 358.5px,#ac162a 359.5px,#940e26 361.5px,#760521 364.5px,#67001f 365.5px,#68001f 371.5px,#dbeaf2 372.5px,#2d75b4 373.5px,#195797 374.5px,#0e4179 375.5px,#063163 376.5px,#053061 386.5px,#114882 392.5px,#2166ac 399.5px,#3580b9 409.5px,#3f8dc0 423.5px,#5ea9cf 567.5px,#66afd2 718.5px,#66afd2 861px)"></div>
<div style="height:2px;background:linear-gradient(90deg,#66afd2 0px,#69b0d3 241.5px,#79b8d7 264.5px,#8cc2dc 276.5px,#a6cfe4 283.5px,#cae2ee 288.5px,#eef3f5 294.5px,#f5f6f7 297.5px,#f0f3f6 299.5px,#d2e6f0 302.5px,#c1ddeb 303.5px,#a9d0e4 304.5px,#7bbad8 305.5px,#4897c5 306.5px,#3581ba 307.5px,#2d76b4 308.5px,#2a72b2 311.5px,#3783bb 328.5px,#4291c2 333.5px,#5ba6cd 336.5px,#81bcd9 339.5px,#dae9f2 345.5px,#f1f4f6 347.5px,#f8f3f0 348.5px,#fce0d0 350.5px,#f8c0a4 352.5px,#ef9979 354.5px,#d2594a 357.5px,#b72230 360.5px,#a01228 362.5px,#860a24 365.5px,#810823 366.5px,#740421 367.5px,#730421 369.5px,#770522 370.5px,#af2431 371.5px,#e6eff4 372.5px,#307ab6 373.5px,#1c5c9e 374.5px,#114680 375.5px,#083669 376.5px,#053061 377.5px,#053061 386.5px,#134c88 393.5px,#2166ac 399.5px,#3580ba 409.5px,#3f8ec0 423.5px,#5ea9cf 566.5px,#66afd2 717.5px,#66afd2 861px)"></div>
<div style="height:2px;background:linear-gradient(90deg,#66afd2 0px,#69b0d3 241.5px,#79b8d7 264.5px,#8cc2dc 276.5px,#a1cce2 282.5px,#c2ddec 287.5px,#d9e9f1 290.5px,#f3f5f6 295.5px,#f5f6f7 298.5px,#eaf1f5 300.5px,#d4e6f1 302.5px,#c3deec 303.5px,#abd2e5 304.5px,#7ebbd9 305.5px,#4998c6 306.5px,#3581ba 307.5px,#2d76b4 308.5px,#2971b2 311.5px,#3682ba 328.5px,#4494c3 334.5px,#6ab1d3 338.5px,#d8e8f1 346.5px,#edf2f5 348.5px,#f6f4f3 349.5px,#fcdbc8 352.5px,#f4aa8a 355.5px,#dd715a 358.5px,#c43c3c 361.5px,#b5212f 363.5px,#a31329 365.5px,#930e26 367.5px,#8f0d25 368.5px,#910e26 369.5px,#a41329 370.5px,#cd4f45 371.5px,#f2f5f6 372.5px,#3580b9 373.5px,#1f62a7 374.5px,#144d89 375.5px,#0b3c71 376.5px,#053061 377.5px,#053061 386.5px,#134b87 393.5px,#2166ac 399.5px,#3580ba 409.5px,#3f8ec1 423.5px,#5ea9cf 565.5px,#66afd2 717.5px,#66afd2 861px)"></div>
<div style="height:2px;background:linear-gradient(90deg,#66afd2 0px,#69b0d3 241.5px,#79b8d7 264.5px,#8cc2dc 276.5px,#a1cce2 282.5px,#c2deec 287.5px,#dfecf3 291.5px,#f3f5f6 295.5px,#f6f7f7 298.5px,#ebf1f5 300.5px,#d5e7f1 302.5px,#c5dfed 303.5px,#aed3e6 304.5px,#81bcd9 305.5px,#4b99c6 306.5px,#3681ba 307.5px,#2d76b4 308.5px,#2971b1 310.5px,#3681ba 328.5px,#4292c2 334.5px,#63add1 338.5px,#d6e7f1 347.5px,#f3f5f6 350.5px,#f8f2ef 351.5px,#fcd9c5 354.5px,#f1a07f 358.5px,#dd715a 361.5px,#cb4a42 364.5px,#bd2e36 367.5px,#ba2933 369.5px,#c13539 370.5px,#da6a55 371.5px,#f8f2ef 372.5px,#3a87bd 373.5px,#246aae 374.5px,#0f447c 376.5px,#083568 377.5px,#053061 378.5px,#053061 386.5px,#104680 392.5px,#2165ab 399.5px,#3580b9 409.5px,#3f8ec1 422.5px,#5da8ce 560.5px,#66afd2 707.5px,#66afd2 861px)"></div>
<div style="height:2px;background:linear-gradient(90deg,#66afd2 0px,#69b0d3 241.5px,#79b8d7 264.5px,#8cc2dc 276.5px,#a1cce2 282.5px,#c3deec 287.5px,#dfecf3 291.5px,#f4f6f6 295.5px,#f7f7f7 298.5px,#ecf2f5 300.5px,#d6e8f1 302.5px,#c7e0ed 303.5px,#b0d4e6 304.5px,#83bdda 305.5px,#4d9bc7 306.5px,#3682ba 307.5px,#2d76b4 308.5px,#2970b1 310.5px,#3681ba 328.5px,#4191c2 334.5px,#55a2cb 337.5px,#7ebbd9 341.5px,#d3e6f0 348.5px,#f5f5f4 352.5px,#fbe4d6 355.5px,#fac8ae 358.5px,#f3a787 361.5px,#e88a6d 364.5px,#e0765e 367.5px,#de735c 369.5px,#e27d63 370.5px,#f1a081 371.5px,#f8f3f0 372.5px,#408fc1 373.5px,#2971b1 374.5px,#1d5ea0 375.5px,#0c3d73 377.5px,#053162 378.5px,#063263 387.5px,#2268ad 400.5px,#3784bb 411.5px,#4190c2 426.5px,#5fa9cf 571.5px,#66afd2 738.5px,#66afd2 861px)"></div>
<div style="height:2px;background:linear-gradient(90deg,#66afd2 0px,#69b0d3 241.5px,#79b8d7 264.5px,#8bc2dc 276.5px,#a1cce2 282.5px,#c3deec 287.5px,#e0ecf3 291.5px,#f4f6f6 295.5px,#f7f7f6 298.5px,#edf2f5 300.5px,#d7e8f1 302.5px,#c8e1ee 303.5px,#b1d5e7 304.5px,#85beda 305.5px,#4e9cc8 306.5px,#3682ba 307.5px,#2d76b4 308.5px,#2970b1 310.5px,#3681ba 328.5px,#4494c3 335.5px,#6db2d4 340.5px,#d8e8f1 350.5px,#f4f5f5 354.5px,#f9eee7 356.5px,#fbcdb5 362.5px,#f8bfa3 365.5px,#f8ba9d 368.5px,#f8bc9f 369.5px,#f9c3a8 370.5px,#fbd5c0 371.5px,#f4f5f6 372.5px,#53a0ca 373.5px,#307ab6 374.5px,#2166ab 375.5px,#10447d 377.5px,#09376a 378.5px,#053061 379.5px,#063163 387.5px,#185595 396.5px,#2267ac 400.5px,#3783bb 411.5px,#4190c2 425.5px,#5fa9cf 567.5px,#66afd2 729.5px,#66afd2 861px)"></div>
<div style="height:2px;background:linear-gradient(90deg,#66afd2 0px,#69b0d3 241.5px,#79b8d7 264.5px,#8bc2dc 276.5px,#a0cce2 282.5px,#c2deec 287.5px,#dfecf3 291.5px,#f4f6f7 295.5px,#f7f6f6 298.5px,#eef3f5 300.5px,#d8e8f1 302.5px,#c9e1ee 303.5px,#b3d6e7 304.5px,#86bfdb 305.5px,#4f9dc8 306.5px,#3682ba 307.5px,#2d76b4 308.5px,#2870b1 310.5px,#3681ba 328.5px,#4393c3 335.5px,#69b0d3 340.5px,#d3e6f0 351.5px,#f5f4f4 357.5px,#fbe6db 363.5px,#fbe4d7 367.5px,#faeae1 370.5px,#f8f1ed 371.5px,#e6eff4 372.5px,#8bc1dc 373.5px,#3b88be 374.5px,#2970b1 375.5px,#1c5d9f 376.5px,#0c3e74 378.5px,#063264 379.5px,#053061 382.5px,#053162 387.5px,#154f8d 395.5px,#2165ab 400.5px,#3783bb 411.5px,#4190c2 425.5px,#5ea9cf 565.5px,#66afd2 726.5px,#66afd2 861px)"></div>
<div style="height:2px;background:linear-gradient(90deg,#66afd2 0px,#69b0d3 241.5px,#79b8d7 264.5px,#8bc2dc 276.5px,#a0cce2 282.5px,#c2ddec 287.5px,#dfecf3 291.5px,#f4f6f6 295.5px,#f7f6f6 298.5px,#eef3f5 300.5px,#cae2ee 303.5px,#b4d6e8 304.5px,#88c0db 305.5px,#509ec9 306.5px,#3783bb 307.5px,#2d76b4 308.5px,#2870b1 310.5px,#3681ba 328.5px,#4393c3 335.5px,#6fb3d4 341.5px,#c6e0ed 351.5px,#deebf2 355.5px,#f3f5f6 361.5px,#f4f4f4 368.5px,#eef3f5 370.5px,#e7eff4 371.5px,#d8e8f1 372.5px,#aad1e5 373.5px,#4e9cc8 374.5px,#337eb8 375.5px,#2369ae 376.5px,#114780 378.5px,#0a3a6f 379.5px,#063163 380.5px,#053062 387.5px,#124984 394.5px,#2267ad 401.5px,#3884bb 412.5px,#4291c2 426.5px,#5ea9cf 561.5px,#66afd2 718.5px,#66afd2 861px)"></div>
<div style="height:2px;background:linear-gradient(90deg,#66afd2 0px,#69b0d3 241.5px,#79b8d7 264.5px,#8bc2dc 276.5px,#a0cce2 282.5px,#c2ddec 287.5px,#d9e9f1 290.5px,#f4f6f6 295.5px,#f7f6f6 298.5px,#eff3f5 300.5px,#cbe2ee 303.5px,#b5d7e8 304.5px,#89c0dc 305.5px,#519ec9 306.5px,#3783bb 307.5px,#2d76b4 308.5px,#2870b1 310.5px,#3580b9 327.5px,#4393c3 335.5px,#76b7d6 342.5px,#aed3e6 349.5px,#d1e5f0 354.5px,#e5eff4 361.5px,#e6eff4 367.5px,#deebf2 370.5px,#d8e8f1 371.5px,#cde3ef 372.5px,#b1d5e7 373.5px,#75b6d6 374.5px,#3f8ec1 375.5px,#2165a9 377.5px,#10457e 379.5px,#063264 381.5px,#053061 384.5px,#063365 388.5px,#154f8c 396.5px,#2368ad 402.5px,#3885bc 413.5px,#4292c2 427.5px,#5da8ce 555.5px,#66afd2 706.5px,#66afd2 861px)"></div>
<div style="height:2px;background:linear-gradient(90deg,#66afd2 0px,#69b0d3 241.5px,#78b8d7 264.5px,#8bc1dc 276.5px,#a5cfe3 283.5px,#cae2ee 288.5px,#f0f4f6 294.5px,#f7f6f5 297.5px,#f5f6f7 299.5px,#e5eff4 301.5px,#cce3ef 303.5px,#b6d7e8 304.5px,#8ac1dc 305.5px,#529fc9 306.5px,#3783bb 307.5px,#2d76b4 308.5px,#286fb1 310.5px,#3580b9 327.5px,#4393c3 335.5px,#75b7d6 342.5px,#a3cee3 348.5px,#d2e6f0 356.5px,#deebf2 363.5px,#d9e9f1 369.5px,#d0e5f0 371.5px,#c5dfed 372.5px,#b3d6e7 373.5px,#93c5de 374.5px,#59a4cc 375.5px,#3a87bd 376.5px,#1f63a7 378.5px,#114680 380.5px,#083669 382.5px,#053162 384.5px,#073365 388.5px,#124883 395.5px,#2065ab 402.5px,#3783bb 413.5px,#4292c2 427.5px,#5ca7ce 543.5px,#65afd2 684.5px,#66afd2 861px)"></div>
<div style="height:2px;background:linear-gradient(90deg,#66afd2 0px,#69b0d3 241.5px,#78b8d7 264.5px,#8bc1dc 276.5px,#a5cfe3 283.5px,#cae1ee 288.5px,#f0f4f6 294.5px,#f7f6f5 297.5px,#f5f6f7 299.5px,#e6eff4 301.5px,#cde3ef 303.5px,#b7d8e9 304.5px,#8bc2dc 305.5px,#53a0ca 306.5px,#3783bb 307.5px,#2d76b4 308.5px,#286fb1 310.5px,#3580b9 327.5px,#4494c3 335.5px,#76b7d6 342.5px,#a2cde3 348.5px,#cde3ef 356.5px,#d8e9f1 362.5px,#d4e7f1 369.5px,#cce2ef 371.5px,#b5d7e8 373.5px,#a0cce2 374.5px,#79b9d7 375.5px,#4b99c6 376.5px,#3783bb 377.5px,#2063a8 379.5px,#124a85 381.5px,#0b3b70 383.5px,#073466 386.5px,#0a396e 391.5px,#185494 399.5px,#2268ad 404.5px,#3986bc 416.5px,#4393c3 431.5px,#5aa6cd 531.5px,#65aed2 666.5px,#66afd2 861px)"></div>
<div style="height:2px;background:linear-gradient(90deg,#66afd2 0px,#69b0d3 241.5px,#78b8d7 264.5px,#8bc1dc 276.5px,#a5cee3 283.5px,#cae1ee 288.5px,#f0f3f6 294.5px,#f7f6f5 297.5px,#f6f6f7 299.5px,#e7eff4 301.5px,#cee4ef 303.5px,#b8d8e9 304.5px,#8dc2dd 305.5px,#54a0ca 306.5px,#3784bb 307.5px,#2d76b4 308.5px,#286fb1 310.5px,#347fb9 326.5px,#4191c2 334.5px,#60aacf 339.5px,#9ccae1 347.5px,#c7e0ed 355.5px,#d4e7f1 360.5px,#d6e7f1 367.5px,#d0e5f0 370.5px,#c3deec 372.5px,#a8d0e4 374.5px,#8fc4dd 375.5px,#65add1 376.5px,#4493c3 377.5px,#2a73b2 379.5px,#2166aa 380.5px,#114680 383.5px,#0b3c71 385.5px,#09376b 389.5px,#0d3f76 394.5px,#2369ae 406.5px,#3986bc 418.5px,#4594c4 434.5px,#5ca7ce 538.5px,#65afd2 679.5px,#66afd2 861px)"></div>
<div style="height:2px;background:linear-gradient(90deg,#66afd2 0px,#69b0d3 241.5px,#78b8d7 264.5px,#8bc1dc 276.5px,#a4cee3 283.5px,#cae1ee 288.5px,#eff3f6 294.5px,#f7f6f5 297.5px,#f6f6f7 299.5px,#e7eff4 301.5px,#cfe4ef 303.5px,#b9d9e9 304.5px,#8ec3dd 305.5px,#54a1ca 306.5px,#3884bb 307.5px,#2d76b4 308.5px,#286fb1 310.5px,#347fb9 326.5px,#4291c2 334.5px,#68b0d3 340.5px,#9ccae1 347.5px,#c6e0ed 355.5px,#d4e6f1 360.5px,#d4e7f1 368.5px,#cbe2ee 371.5px,#bbdaea 373.5px,#aed3e6 374.5px,#9ccae1 375.5px,#7fbcd9 376.5px,#59a5cd 377.5px,#408fc1 378.5px,#2369ad 381.5px,#134c88 384.5px,#0c3d74 387.5px,#0a3a6f 391.5px,#0f447d 397.5px,#2166ab 407.5px,#3986bc 420.5px,#4595c4 436.5px,#58a4cc 514.5px,#65aed1 646.5px,#66afd2 861px)"></div>
<div style="height:2px;background:linear-gradient(90deg,#66afd2 0px,#69b0d3 241.5px,#78b8d7 264.5px,#8ac1dc 276.5px,#a4cee3 283.5px,#c9e1ee 288.5px,#eff3f6 294.5px,#f7f6f5 297.5px,#f6f6f7 299.5px,#e8f0f4 301.5px,#d0e5f0 303.5px,#bad9e9 304.5px,#8fc3dd 305.5px,#55a2cb 306.5px,#3884bb 307.5px,#2d76b4 308.5px,#286fb0 310.5px,#347fb9 326.5px,#4292c2 334.5px,#69b1d3 340.5px,#9ecbe1 347.5px,#c7e0ed 355.5px,#d4e6f1 360.5px,#d5e7f1 368.5px,#cde3ef 371.5px,#b5d7e8 374.5px,#a6cfe4 375.5px,#93c6de 376.5px,#74b6d6 377.5px,#54a1ca 378.5px,#408fc1 379.5px,#1f63a7 383.5px,#134b87 386.5px,#0d3f76 389.5px,#0c3d73 394.5px,#124883 400.5px,#2368ad 410.5px,#3a88bd 424.5px,#4997c5 443.5px,#5faacf 563.5px,#66afd2 742.5px,#66afd2 861px)"></div>
<div style="height:2px;background:linear-gradient(90deg,#66afd2 0px,#69b0d3 241.5px,#78b8d7 264.5px,#8ac1dc 276.5px,#a4cee3 283.5px,#c9e1ee 288.5px,#eaf1f5 293.5px,#f6f7f7 296.5px,#f6f7f7 299.5px,#e8f0f4 301.5px,#d1e5f0 303.5px,#bbdaea 304.5px,#90c4de 305.5px,#56a2cb 306.5px,#3884bb 307.5px,#2d76b4 308.5px,#276fb0 310.5px,#347fb9 326.5px,#4292c2 334.5px,#72b5d5 341.5px,#9fcbe2 347.5px,#c8e0ed 355.5px,#d5e7f1 360.5px,#d6e7f1 368.5px,#cfe4ef 371.5px,#badaea 374.5px,#a0cce2 376.5px,#8cc2dc 377.5px,#6cb2d4 378.5px,#529fc9 379.5px,#408fc1 380.5px,#2268ac 384.5px,#134b87 388.5px,#0e4179 391.5px,#0d3f75 396.5px,#134b87 403.5px,#2267ac 412.5px,#3b88bd 427.5px,#4a99c6 447.5px,#5faacf 564.5px,#66afd2 750.5px,#66afd2 861px)"></div>
<div style="height:2px;background:linear-gradient(90deg,#66afd2 0px,#69b0d3 241.5px,#78b8d7 264.5px,#8ac1dc 276.5px,#a4cee3 283.5px,#c9e1ee 288.5px,#eaf1f5 293.5px,#f6f7f7 296.5px,#f6f7f7 299.5px,#e9f0f4 301.5px,#d2e5f0 303.5px,#bddbea 304.5px,#91c5de 305.5px,#56a3cb 306.5px,#3884bb 307.5px,#2d76b4 308.5px,#276eb0 310.5px,#337db8 325.5px,#4292c3 334.5px,#73b6d6 341.5px,#a0cce2 347.5px,#c9e1ee 355.5px,#d5e7f1 360.5px,#d6e8f1 368.5px,#cde3ef 372.5px,#b6d7e8 375.5px,#9bcae1 377.5px,#86bfdb 378.5px,#68b0d2 379.5px,#529fc9 380.5px,#4191c2 381.5px,#2165aa 386.5px,#144c88 390.5px,#0e4179 394.5px,#0e427a 400.5px,#175391 408.5px,#2268ad 415.5px,#3b89be 431.5px,#4c9ac7 453.5px,#61abd0 575.5px,#66afd2 802.5px,#66afd2 861px)"></div>
<div style="height:2px;background:linear-gradient(90deg,#66afd2 0px,#69b0d3 241.5px,#78b8d7 264.5px,#8ac1dc 276.5px,#a4cee3 283.5px,#c9e1ee 288.5px,#eaf1f5 293.5px,#f6f7f7 296.5px,#f6f7f7 299.5px,#e9f1f4 301.5px,#d3e6f0 303.5px,#bedbeb 304.5px,#93c5de 305.5px,#57a3cc 306.5px,#3884bc 307.5px,#2d76b4 308.5px,#276eb0 310.5px,#327db8 325.5px,#4292c3 334.5px,#74b6d6 341.5px,#a1cce2 347.5px,#cae2ee 355.5px,#d6e7f1 360.5px,#d7e8f1 368.5px,#cfe4ef 372.5px,#bbdaea 375.5px,#a6cfe4 377.5px,#97c8df 378.5px,#82bdda 379.5px,#67afd2 380.5px,#4493c3 382.5px,#256bae 387.5px,#154e8b 392.5px,#0f447c 396.5px,#0f437c 402.5px,#175290 410.5px,#2368ad 418.5px,#3c8abe 435.5px,#4d9bc7 457.5px,#61abd0 573.5px,#66afd2 798.5px,#66afd2 861px)"></div>
<div style="height:2px;background:linear-gradient(90deg,#66afd2 0px,#69b0d3 241.5px,#78b8d7 264.5px,#8ac1dc 276.5px,#a4cee3 283.5px,#c8e1ee 288.5px,#eaf1f5 293.5px,#f6f7f7 296.5px,#f7f7f7 299.5px,#eaf1f5 301.5px,#d4e6f0 303.5px,#bfdceb 304.5px,#94c6de 305.5px,#57a3cc 306.5px,#3885bc 307.5px,#2d76b4 308.5px,#276eb0 310.5px,#327db8 325.5px,#4292c3 334.5px,#74b6d6 341.5px,#a1cde2 347.5px,#cbe2ee 355.5px,#d8e8f1 361.5px,#d6e8f1 369.5px,#cce2ee 373.5px,#b7d8e9 376.5px,#94c6de 379.5px,#66aed2 381.5px,#4696c4 383.5px,#2970b1 388.5px,#1d5ea1 391.5px,#144c88 395.5px,#0f447d 400.5px,#114882 407.5px,#1e60a4 418.5px,#266daf 423.5px,#3d8cbf 440.5px,#4f9dc8 463.5px,#61abd0 581.5px,#66afd2 861px)"></div>
<div style="height:2px;background:linear-gradient(90deg,#66afd2 0px,#69b0d3 241.5px,#78b8d7 264.5px,#8ac1dc 276.5px,#a3cee3 283.5px,#c8e0ed 288.5px,#e4eef3 292.5px,#f6f7f7 296.5px,#f7f7f7 299.5px,#ebf1f5 301.5px,#d4e7f1 303.5px,#c0ddeb 304.5px,#95c6df 305.5px,#58a4cc 306.5px,#3885bc 307.5px,#2d76b4 308.5px,#276eb0 310.5px,#327db8 325.5px,#4292c2 334.5px,#75b6d6 341.5px,#a2cde3 347.5px,#cce2ef 355.5px,#d8e8f1 361.5px,#d7e8f1 369.5px,#cde3ef 373.5px,#b3d6e7 377.5px,#90c4de 380.5px,#66afd2 382.5px,#4a98c6 384.5px,#3b88be 386.5px,#2065a9 392.5px,#154f8c 397.5px,#104680 402.5px,#124983 409.5px,#1c5c9e 419.5px,#246aae 425.5px,#3e8cbf 444.5px,#509dc8 467.5px,#61abd0 577.5px,#66afd2 839.5px,#66afd2 861px)"></div>
<div style="height:2px;background:linear-gradient(90deg,#66afd2 0px,#69b0d3 241.5px,#78b8d7 264.5px,#8ac1dc 276.5px,#a3cee3 283.5px,#c8e0ed 288.5px,#e3eef3 292.5px,#f6f6f7 296.5px,#f7f7f7 299.5px,#ebf1f5 301.5px,#d5e7f1 303.5px,#c2ddec 304.5px,#96c7df 305.5px,#58a4cc 306.5px,#3885bc 307.5px,#2d75b4 308.5px,#276db0 310.5px,#327cb7 325.5px,#4292c2 334.5px,#6cb2d4 340.5px,#9ccae1 346.5px,#c8e0ed 354.5px,#d6e7f1 359.5px,#d9e9f1 367.5px,#cee4ef 373.5px,#b7d8e9 377.5px,#9bcae1 380.5px,#8ec3dd 381.5px,#67afd2 383.5px,#4392c3 386.5px,#2165aa 394.5px,#154e8b 400.5px,#114781 406.5px,#144d89 414.5px,#2368ad 427.5px,#3d8bbf 447.5px,#519ec9 471.5px,#61abd0 568.5px,#66afd2 793.5px,#66afd2 861px)"></div>
<div style="height:2px;background:linear-gradient(90deg,#66afd2 0px,#69b0d3 241.5px,#78b8d7 264.5px,#8ac1dc 276.5px,#a3cee3 283.5px,#c8e0ed 288.5px,#e3eef3 292.5px,#f6f6f7 296.5px,#f7f7f7 299.5px,#ecf2f5 301.5px,#d6e7f1 303.5px,#c3deec 304.5px,#97c8df 305.5px,#59a5cc 306.5px,#3885bc 307.5px,#2d75b4 308.5px,#266db0 310.5px,#327cb7 325.5px,#3f8ec0 333.5px,#4e9bc8 336.5px,#7cbad8 342.5px,#a2cde3 347.5px,#cce2ef 355.5px,#d8e8f1 361.5px,#d7e8f1 369.5px,#cbe2ee 374.5px,#acd2e5 379.5px,#8cc2dc 382.5px,#69b0d3 384.5px,#4696c4 387.5px,#246bae 395.5px,#16508e 402.5px,#124984 408.5px,#144e8a 416.5px,#2369ad 430.5px,#3e8dc0 452.5px,#529fc9 476.5px,#61abd0 569.5px,#66afd2 806.5px,#66afd2 861px)"></div>
<div style="height:2px;background:linear-gradient(90deg,#66afd2 0px,#69b0d3 241.5px,#78b8d7 264.5px,#8ac1dc 276.5px,#a3cee3 283.5px,#c7e0ed 288.5px,#e3eef3 292.5px,#f6f6f7 296.5px,#f7f7f7 299.5px,#ecf2f5 301.5px,#d7e8f1 303.5px,#c5dfec 304.5px,#98c8e0 305.5px,#5aa5cd 306.5px,#3885bc 307.5px,#2d75b4 308.5px,#266db0 310.5px,#317cb7 325.5px,#3f8ec0 333.5px,#4d9bc7 336.5px,#7cbad8 342.5px,#a1cde2 347.5px,#cbe2ee 355.5px,#d8e8f1 361.5px,#d7e8f1 369.5px,#cce2ee 374.5px,#b0d4e7 379.5px,#97c8df 382.5px,#7cbad8 384.5px,#5fa9cf 386.5px,#4392c2 389.5px,#1f63a8 399.5px,#16508e 405.5px,#134b86 412.5px,#175391 421.5px,#2369ae 433.5px,#3f8dc0 456.5px,#53a0ca 481.5px,#61abd0 571.5px,#66afd2 826.5px,#66afd2 861px)"></div>
<div style="height:2px;background:linear-gradient(90deg,#66afd2 0px,#69b0d3 241.5px,#78b8d7 264.5px,#8cc2dc 277.5px,#a3cee3 283.5px,#c7e0ed 288.5px,#e3eef3 292.5px,#f6f6f7 296.5px,#f7f7f7 299.5px,#edf2f5 301.5px,#d8e8f1 303.5px,#c6e0ed 304.5px,#9ac9e0 305.5px,#5aa6cd 306.5px,#3885bc 307.5px,#2d75b4 308.5px,#266daf 310.5px,#317bb7 325.5px,#3e8dc0 333.5px,#4c9ac7 336.5px,#7bb9d8 342.5px,#a0cce2 347.5px,#cae2ee 355.5px,#d6e7f1 360.5px,#d6e7f1 369.5px,#cce2ef 374.5px,#add3e6 380.5px,#8bc1dc 384.5px,#62abd0 387.5px,#4695c4 390.5px,#2268ad 400.5px,#175291 407.5px,#144d89 414.5px,#185594 424.5px,#2368ad 435.5px,#3f8ec0 460.5px,#54a0ca 485.5px,#61abd0 566.5px,#66afd2 805.5px,#66afd2 861px)"></div>
<div style="height:2px;background:linear-gradient(90deg,#66afd2 0px,#69b0d3 241.5px,#78b8d7 264.5px,#8cc2dc 277.5px,#a3cee3 283.5px,#c7e0ed 288.5px,#e3edf3 292.5px,#f6f6f7 296.5px,#f7f7f6 299.5px,#edf2f5 301.5px,#d9e9f1 303.5px,#c8e0ed 304.5px,#9bcae1 305.5px,#5ba6cd 306.5px,#3985bc 307.5px,#2c75b4 308.5px,#266daf 310.5px,#317bb7 325.5px,#3e8cc0 333.5px,#4494c3 335.5px,#79b9d7 342.5px,#9fcce2 347.5px,#c9e1ee 355.5px,#d5e7f1 360.5px,#d6e7f1 369.5px,#cce2ef 374.5px,#aad1e5 381.5px,#8bc1dc 385.5px,#5ca7ce 389.5px,#4393c3 392.5px,#2165aa 403.5px,#185493 409.5px,#154f8c 417.5px,#195797 427.5px,#2469ae 438.5px,#408fc1 464.5px,#54a1ca 489.5px,#61abd0 563.5px,#66afd2 798.5px,#66afd2 861px)"></div>
<div style="height:2px;background:linear-gradient(90deg,#66afd2 0px,#69b0d3 241.5px,#78b8d7 264.5px,#8cc2dc 277.5px,#a3cde3 283.5px,#c7e0ed 288.5px,#e3edf3 292.5px,#f6f6f7 296.5px,#f7f7f6 299.5px,#eef3f5 301.5px,#dae9f2 303.5px,#c9e1ee 304.5px,#9dcae1 305.5px,#5ca7ce 306.5px,#3985bc 307.5px,#2c75b4 308.5px,#266caf 310.5px,#307ab6 325.5px,#3d8cbf 333.5px,#4998c6 336.5px,#78b8d7 342.5px,#9ecbe1 347.5px,#c7e0ed 355.5px,#d4e6f1 360.5px,#d5e7f1 369.5px,#cbe2ee 374.5px,#add3e6 381.5px,#8bc1dc 386.5px,#5fa9cf 390.5px,#4190c2 394.5px,#1f63a7 406.5px,#185594 412.5px,#16518e 420.5px,#1b5a9c 431.5px,#2369ad 440.5px,#408fc1 468.5px,#55a2cb 494.5px,#61abd0 570.5px,#66afd2 852.5px,#66afd2 861px)"></div>
<div style="height:2px;background:linear-gradient(90deg,#66afd2 0px,#69b0d3 241.5px,#78b8d7 264.5px,#8cc2dc 277.5px,#a3cde3 283.5px,#c7e0ed 288.5px,#e3edf3 292.5px,#f5f6f7 296.5px,#f5f6f7 300.5px,#dbeaf2 303.5px,#cbe2ee 304.5px,#9ecbe1 305.5px,#5da8ce 306.5px,#3985bc 307.5px,#2c75b4 308.5px,#266caf 310.5px,#307ab6 325.5px,#3d8bbf 333.5px,#4797c5 336.5px,#76b7d6 342.5px,#9ccae1 347.5px,#c5dfed 355.5px,#d3e6f0 360.5px,#d4e6f0 369.5px,#c7e0ed 375.5px,#a5cfe3 383.5px,#8ac1dc 387.5px,#5aa5cd 392.5px,#408fc1 396.5px,#2064a9 408.5px,#185595 415.5px,#175391 424.5px,#1d5fa2 436.5px,#246aae 443.5px,#4190c2 472.5px,#56a2cb 498.5px,#61abd0 570.5px,#66afd2 861px)"></div>
<div style="height:2px;background:linear-gradient(90deg,#66afd2 0px,#69b0d3 241.5px,#78b8d7 264.5px,#8cc2dc 277.5px,#a2cde3 283.5px,#c7e0ed 288.5px,#e3edf3 292.5px,#f5f6f7 296.5px,#f5f6f7 300.5px,#dceaf2 303.5px,#cde3ef 304.5px,#a0cce2 305.5px,#5ea8cf 306.5px,#3985bc 307.5px,#2c75b4 308.5px,#256caf 310.5px,#2f79b6 325.5px,#3c8abe 333.5px,#4695c4 336.5px,#73b6d6 342.5px,#9ac9e0 347.5px,#c3deec 355.5px,#d2e6f0 361.5px,#d2e5f0 370.5px,#bcdaea 378.5px,#97c8e0 386.5px,#78b8d7 390.5px,#56a2cb 394.5px,#4291c2 397.5px,#2268ad 409.5px,#195797 417.5px,#185594 427.5px,#1f62a7 440.5px,#2d75b4 453.5px,#4696c4 481.5px,#58a3cc 504.5px,#63acd1 585.5px,#66afd2 861px)"></div>
<div style="height:2px;background:linear-gradient(90deg,#66afd2 0px,#69b0d3 241.5px,#78b8d7 264.5px,#8cc2dc 277.5px,#a2cde3 283.5px,#c6e0ed 288.5px,#e2edf3 292.5px,#f5f6f7 296.5px,#f5f6f7 300.5px,#dceaf2 303.5px,#cfe4ef 304.5px,#a1cde2 305.5px,#5fa9cf 306.5px,#3986bc 307.5px,#2c75b4 308.5px,#276eb0 309.5px,#276eb0 316.5px,#3581ba 330.5px,#4494c3 336.5px,#79b9d7 343.5px,#9ecbe1 348.5px,#c1ddeb 355.5px,#d1e5f0 361.5px,#d0e4f0 370.5px,#b8d8e9 379.5px,#90c4dd 388.5px,#59a5cc 395.5px,#4190c1 399.5px,#2368ad 411.5px,#1a5898 420.5px,#195797 430.5px,#256baf 448.5px,#4191c2 479.5px,#57a3cc 505.5px,#61abd0 567.5px,#66afd2 861px)"></div>
<div style="height:2px;background:linear-gradient(90deg,#66afd2 0px,#69b0d3 241.5px,#78b8d7 264.5px,#8cc2dc 277.5px,#a2cde3 283.5px,#c6e0ed 288.5px,#e2edf3 292.5px,#f5f6f7 296.5px,#f5f6f7 300.5px,#ddebf2 303.5px,#d0e5f0 304.5px,#a3cee3 305.5px,#60abd0 306.5px,#3986bc 307.5px,#2c75b4 308.5px,#276eb0 309.5px,#276db0 315.5px,#3580b9 330.5px,#4292c3 336.5px,#76b7d6 343.5px,#9bcae1 348.5px,#c1ddeb 356.5px,#d0e4f0 363.5px,#cce2ee 371.5px,#b1d5e7 381.5px,#8ec3dd 389.5px,#5ca7ce 396.5px,#4392c3 400.5px,#2369ae 413.5px,#1b5a9b 422.5px,#1a5899 432.5px,#256baf 450.5px,#4292c2 483.5px,#57a3cc 508.5px,#62abd0 566.5px,#66afd2 861px)"></div>
<div style="height:2px;background:linear-gradient(90deg,#66afd2 0px,#69b0d3 241.5px,#78b8d7 264.5px,#8cc2dc 277.5px,#a2cde3 283.5px,#c6dfed 288.5px,#e8f0f4 293.5px,#f7f7f6 297.5px,#f6f6f7 300.5px,#deebf2 303.5px,#d2e5f0 304.5px,#a5cfe3 305.5px,#62acd0 306.5px,#3986bc 307.5px,#2c75b4 308.5px,#276eb0 309.5px,#266db0 315.5px,#347fb9 330.5px,#4695c4 337.5px,#73b6d6 343.5px,#98c8e0 348.5px,#bedbeb 356.5px,#cde3ef 363.5px,#c9e1ee 371.5px,#add3e6 382.5px,#8dc2dd 390.5px,#5fa9cf 397.5px,#4191c2 402.5px,#246aae 415.5px,#1b5a9c 425.5px,#1b5b9c 436.5px,#256baf 452.5px,#4393c3 487.5px,#57a3cc 511.5px,#62acd0 566.5px,#66afd2 861px)"></div>
<div style="height:2px;background:linear-gradient(90deg,#66afd2 0px,#69b0d3 241.5px,#78b8d7 264.5px,#8cc2dc 277.5px,#a2cde3 283.5px,#c6dfed 288.5px,#e8f0f4 293.5px,#f7f7f6 297.5px,#f6f7f7 300.5px,#dfecf3 303.5px,#d3e6f0 304.5px,#a7d0e4 305.5px,#64add1 306.5px,#3986bc 307.5px,#2c75b4 308.5px,#276db0 309.5px,#266daf 315.5px,#337eb8 330.5px,#4493c3 337.5px,#70b4d5 343.5px,#9bcae1 349.5px,#bbdaea 356.5px,#c9e1ee 363.5px,#c6dfed 371.5px,#a9d1e5 383.5px,#8cc2dc 391.5px,#61abd0 398.5px,#4190c1 404.5px,#246aae 417.5px,#1c5c9e 427.5px,#1c5c9e 438.5px,#256caf 454.5px,#4695c4 492.5px,#59a4cc 516.5px,#63acd1 577.5px,#66afd2 861px)"></div>
<div style="height:2px;background:linear-gradient(90deg,#66afd2 0px,#69b0d3 241.5px,#78b8d7 264.5px,#8cc2dc 277.5px,#a2cde3 283.5px,#c6dfed 288.5px,#e8f0f4 293.5px,#f7f7f6 297.5px,#f6f7f7 300.5px,#e0ecf3 303.5px,#d4e6f1 304.5px,#a9d1e5 305.5px,#65aed2 306.5px,#3986bc 307.5px,#2c75b4 308.5px,#276db0 309.5px,#266caf 315.5px,#327db8 330.5px,#4292c2 337.5px,#74b6d6 344.5px,#98c8e0 349.5px,#bad9e9 357.5px,#c6dfed 364.5px,#c2ddec 372.5px,#a3cee3 385.5px,#86bfdb 393.5px,#5ea9cf 400.5px,#4292c3 405.5px,#256baf 419.5px,#1c5d9f 430.5px,#1d5ea2 442.5px,#266caf 456.5px,#4998c5 497.5px,#5ba6cd 523.5px,#64add1 601.5px,#66afd2 861px)"></div>
<div style="height:2px;background:linear-gradient(90deg,#66afd2 0px,#69b0d3 241.5px,#78b8d7 264.5px,#8bc2dc 277.5px,#a2cde3 283.5px,#c6dfed 288.5px,#e8f0f4 293.5px,#f7f7f6 297.5px,#f6f7f7 300.5px,#e1edf3 303.5px,#d5e7f1 304.5px,#abd2e5 305.5px,#67b0d2 306.5px,#3a87bd 307.5px,#2c75b4 308.5px,#266db0 309.5px,#266caf 315.5px,#337eb8 331.5px,#4594c4 338.5px,#70b4d5 344.5px,#9ac9e0 350.5px,#b6d7e8 357.5px,#c2deec 364.5px,#bddbea 373.5px,#97c8df 389.5px,#77b7d7 397.5px,#56a2cb 403.5px,#4191c2 407.5px,#256caf 421.5px,#1d5ea1 432.5px,#1e60a3 444.5px,#286fb1 460.5px,#4c9ac7 502.5px,#5ca7ce 529.5px,#65aed1 624.5px,#66afd2 861px)"></div>
<div style="height:2px;background:linear-gradient(90deg,#66afd2 0px,#69b0d3 241.5px,#78b8d7 264.5px,#8bc2dc 277.5px,#a2cde3 283.5px,#c6dfed 288.5px,#e8f0f4 293.5px,#f7f7f6 297.5px,#f7f7f7 300.5px,#e2edf3 303.5px,#d6e8f1 304.5px,#add3e6 305.5px,#69b1d3 306.5px,#3a87bd 307.5px,#2c75b4 308.5px,#266db0 309.5px,#256caf 315.5px,#327db8 331.5px,#4292c3 338.5px,#74b6d6 345.5px,#96c7df 350.5px,#b5d7e8 358.5px,#bfdceb 365.5px,#b8d8e9 374.5px,#92c5de 391.5px,#6eb3d4 400.5px,#4190c2 409.5px,#266caf 423.5px,#1e60a3 435.5px,#1f63a7 448.5px,#4b99c6 503.5px,#5ca7ce 530.5px,#64aed1 614.5px,#66afd2 861px)"></div>
<div style="height:2px;background:linear-gradient(90deg,#66afd2 0px,#69b0d3 241.5px,#78b8d7 264.5px,#8bc2dc 277.5px,#a2cde2 283.5px,#c5dfed 288.5px,#e8f0f4 293.5px,#f7f7f6 297.5px,#f7f7f7 300.5px,#e3eef3 303.5px,#d7e8f1 304.5px,#b0d4e6 305.5px,#6cb2d4 306.5px,#3a87bd 307.5px,#2c75b4 308.5px,#266db0 309.5px,#256caf 315.5px,#317cb7 331.5px,#4595c4 339.5px,#70b4d5 345.5px,#97c8df 351.5px,#b0d4e7 358.5px,#bbdaea 366.5px,#b2d5e7 376.5px,#8ac1dc 394.5px,#66afd2 403.5px,#4393c3 410.5px,#266db0 425.5px,#1e61a5 438.5px,#2065aa 451.5px,#4b99c6 505.5px,#5ca7ce 532.5px,#64aed1 613.5px,#66afd2 861px)"></div>
<div style="height:2px;background:linear-gradient(90deg,#66afd2 0px,#69b0d3 241.5px,#78b8d7 264.5px,#8bc2dc 277.5px,#a2cde2 283.5px,#c5dfed 288.5px,#e8f0f4 293.5px,#f7f7f6 297.5px,#f7f7f7 300.5px,#e4eef3 303.5px,#d9e9f1 304.5px,#b2d5e7 305.5px,#6eb3d4 306.5px,#3b88bd 307.5px,#2c75b4 308.5px,#266db0 309.5px,#256bae 314.5px,#307ab6 331.5px,#4393c3 339.5px,#73b5d6 346.5px,#98c8e0 352.5px,#b1d5e7 360.5px,#b6d7e8 368.5px,#a6cfe4 381.5px,#86bfdb 396.5px,#64add1 405.5px,#4292c2 412.5px,#276eb0 427.5px,#1f63a7 440.5px,#246aae 458.5px,#4b9ac6 507.5px,#5ca7ce 534.5px,#65aed1 614.5px,#66afd2 861px)"></div>
<div style="height:2px;background:linear-gradient(90deg,#66afd2 0px,#69b0d3 241.5px,#78b8d7 264.5px,#8bc2dc 277.5px,#a2cde2 283.5px,#c5dfed 288.5px,#e8f0f4 293.5px,#f7f7f7 297.5px,#f7f7f7 300.5px,#e5eef4 303.5px,#dae9f2 304.5px,#b4d6e8 305.5px,#71b4d5 306.5px,#3b89be 307.5px,#2c75b4 308.5px,#266db0 309.5px,#246aae 314.5px,#3079b6 331.5px,#4595c4 340.5px,#6eb3d4 346.5px,#94c6de 352.5px,#acd2e5 360.5px,#b2d5e7 368.5px,#a4cee3 381.5px,#85beda 397.5px,#66afd2 406.5px,#4291c2 414.5px,#286fb1 429.5px,#2064aa 442.5px,#266caf 461.5px,#4b99c6 508.5px,#5ca7ce 535.5px,#65aed1 611.5px,#66afd2 861px)"></div>
<div style="height:2px;background:linear-gradient(90deg,#66afd2 0px,#69b0d3 241.5px,#78b8d7 264.5px,#8bc2dc 277.5px,#a1cde2 283.5px,#c5dfed 288.5px,#e7f0f4 293.5px,#f7f7f7 297.5px,#f7f7f6 300.5px,#e6eff4 303.5px,#dbeaf2 304.5px,#b7d8e9 305.5px,#73b6d6 306.5px,#3c89be 307.5px,#2c75b4 308.5px,#266daf 309.5px,#246aae 314.5px,#2f78b5 331.5px,#4392c3 340.5px,#71b4d5 347.5px,#94c6de 353.5px,#a9d1e5 361.5px,#add3e6 370.5px,#94c6df 390.5px,#77b7d7 403.5px,#5faacf 409.5px,#4191c2 416.5px,#286fb0 432.5px,#2166ac 446.5px,#2970b1 466.5px,#4b99c6 509.5px,#5da7ce 536.5px,#65aed1 610.5px,#66afd2 861px)"></div>
<div style="height:2px;background:linear-gradient(90deg,#66afd2 0px,#69b0d3 241.5px,#78b8d7 264.5px,#8bc2dc 277.5px,#a1cde2 283.5px,#c5dfed 288.5px,#e7f0f4 293.5px,#f7f7f7 297.5px,#f4f6f6 301.5px,#e7eff4 303.5px,#dceaf2 304.5px,#b9d9e9 305.5px,#76b7d6 306.5px,#3c8abf 307.5px,#2d75b4 308.5px,#266daf 309.5px,#246aae 314.5px,#2e77b5 331.5px,#4191c2 340.5px,#6cb2d4 347.5px,#93c6de 354.5px,#a6cfe4 362.5px,#a8d0e4 372.5px,#89c0db 396.5px,#6eb3d4 407.5px,#4191c2 418.5px,#2970b1 434.5px,#2268ad 448.5px,#2a73b2 469.5px,#4b99c6 510.5px,#5da8ce 537.5px,#65aed1 608.5px,#66afd2 861px)"></div>
<div style="height:2px;background:linear-gradient(90deg,#66afd2 0px,#69b0d3 241.5px,#77b8d7 264.5px,#8bc2dc 277.5px,#a1cde2 283.5px,#c5dfec 288.5px,#e7f0f4 293.5px,#f7f7f7 297.5px,#f4f6f7 301.5px,#ddebf2 304.5px,#bcdaea 305.5px,#79b9d7 306.5px,#3d8bbf 307.5px,#2d75b4 308.5px,#266daf 309.5px,#246aae 314.5px,#2d76b4 331.5px,#408fc1 340.5px,#4f9cc8 343.5px,#6eb3d4 348.5px,#92c5de 355.5px,#a3cee3 363.5px,#a4cee3 373.5px,#86bfdb 398.5px,#6cb2d4 409.5px,#4191c2 420.5px,#2a71b2 436.5px,#2469ae 451.5px,#2d76b4 473.5px,#4b99c6 511.5px,#5da8ce 538.5px,#65aed1 608.5px,#66afd2 861px)"></div>
<div style="height:2px;background:linear-gradient(90deg,#66afd2 0px,#69b0d3 241.5px,#77b8d7 264.5px,#8bc2dc 277.5px,#a1cde2 283.5px,#c5dfec 288.5px,#e1edf3 292.5px,#f5f6f7 296.5px,#f7f6f6 300.5px,#f0f3f6 302.5px,#deebf2 304.5px,#bedceb 305.5px,#7cbad8 306.5px,#3e8cc0 307.5px,#2d76b4 308.5px,#266daf 309.5px,#246aae 314.5px,#2d76b4 332.5px,#4594c4 342.5px,#70b4d5 349.5px,#91c5de 356.5px,#a0cce2 364.5px,#9ecbe1 376.5px,#80bcd9 402.5px,#6ab1d3 411.5px,#4191c2 422.5px,#2b73b3 438.5px,#256baf 453.5px,#2e77b5 475.5px,#4b99c6 512.5px,#5da8ce 539.5px,#65aed1 607.5px,#66afd2 861px)"></div>
<div style="height:2px;background:linear-gradient(90deg,#66afd2 0px,#69b0d3 242.5px,#79b8d7 265.5px,#8bc1dc 277.5px,#a1cde2 283.5px,#c4dfec 288.5px,#e1edf3 292.5px,#f5f6f7 296.5px,#f7f6f6 300.5px,#f0f4f6 302.5px,#dfecf3 304.5px,#c1ddeb 305.5px,#80bcd9 306.5px,#3f8ec0 307.5px,#2d76b4 308.5px,#266daf 309.5px,#2469ae 314.5px,#2c75b4 332.5px,#4292c3 342.5px,#6bb2d3 349.5px,#8fc4dd 357.5px,#9ccae1 365.5px,#99c9e0 378.5px,#7ab9d8 406.5px,#62acd0 415.5px,#4191c2 424.5px,#2c74b3 440.5px,#266db0 456.5px,#317cb7 480.5px,#4b99c6 513.5px,#5da8ce 540.5px,#65aed1 606.5px,#66afd2 861px)"></div>
<div style="height:2px;background:linear-gradient(90deg,#66afd2 0px,#69b0d3 242.5px,#78b8d7 265.5px,#8bc1dc 277.5px,#a1cde2 283.5px,#c4deec 288.5px,#e1edf3 292.5px,#f4f6f7 296.5px,#f5f6f7 301.5px,#e0ecf3 304.5px,#c4deec 305.5px,#83bdda 306.5px,#408fc1 307.5px,#2d76b4 308.5px,#266daf 309.5px,#2369ad 313.5px,#2c74b3 332.5px,#4190c2 342.5px,#6db2d4 350.5px,#8dc3dd 358.5px,#99c8e0 366.5px,#93c6de 382.5px,#79b8d7 408.5px,#61abd0 417.5px,#4291c2 426.5px,#2c75b3 443.5px,#286fb1 460.5px,#3783bb 488.5px,#4b99c6 514.5px,#5da8ce 542.5px,#65aed1 611.5px,#66afd2 861px)"></div>
<div style="height:2px;background:linear-gradient(90deg,#66afd2 0px,#69b0d3 242.5px,#78b8d7 265.5px,#8bc1dc 277.5px,#a1cde2 283.5px,#c4deec 288.5px,#e1ecf3 292.5px,#f4f6f7 296.5px,#f6f6f7 301.5px,#e1edf3 304.5px,#c6e0ed 305.5px,#86bfdb 306.5px,#4190c2 307.5px,#2e77b5 308.5px,#266daf 309.5px,#2369ad 313.5px,#2b73b3 332.5px,#408ec1 342.5px,#53a0ca 346.5px,#72b5d5 352.5px,#8dc3dd 360.5px,#96c7df 369.5px,#85bfda 397.5px,#76b7d6 411.5px,#60aacf 419.5px,#4291c2 428.5px,#2d76b4 445.5px,#2a71b2 462.5px,#3885bc 491.5px,#4b99c6 515.5px,#5da8ce 543.5px,#65aed2 611.5px,#66afd2 861px)"></div>
<div style="height:2px;background:linear-gradient(90deg,#66afd2 0px,#69b0d3 242.5px,#78b8d7 265.5px,#8bc1dc 277.5px,#a1cce2 283.5px,#c4deec 288.5px,#e1ecf3 292.5px,#f4f6f7 296.5px,#f6f6f7 301.5px,#e2edf3 304.5px,#c9e1ee 305.5px,#8ac1dc 306.5px,#4292c2 307.5px,#2e77b5 308.5px,#266daf 309.5px,#2369ad 313.5px,#2a72b2 332.5px,#3e8dc0 342.5px,#4a98c6 345.5px,#6eb3d4 352.5px,#89c0db 360.5px,#92c5de 369.5px,#7cbad8 408.5px,#69b0d3 418.5px,#4190c1 431.5px,#2e77b5 448.5px,#2b74b3 466.5px,#4494c3 510.5px,#5aa6cd 537.5px,#64add1 583.5px,#66afd2 861px)"></div>
<div style="height:2px;background:linear-gradient(90deg,#66afd2 0px,#69b0d3 242.5px,#78b8d7 265.5px,#8bc1dc 277.5px,#a1cce2 283.5px,#c4deec 288.5px,#e0ecf3 292.5px,#f4f6f6 296.5px,#f7f6f5 300.5px,#f2f5f6 302.5px,#e3eef3 304.5px,#cce2ee 305.5px,#8ec3dd 306.5px,#4494c3 307.5px,#2f78b5 308.5px,#266db0 309.5px,#2368ad 313.5px,#2971b2 332.5px,#3d8bbf 342.5px,#4796c5 345.5px,#6ab1d3 352.5px,#84beda 360.5px,#8ec3dd 369.5px,#7bb9d8 410.5px,#68b0d3 420.5px,#4190c2 433.5px,#2f78b5 450.5px,#2d75b4 468.5px,#4595c4 512.5px,#5ba6cd 539.5px,#64add1 587.5px,#66afd2 861px)"></div>
<div style="height:2px;background:linear-gradient(90deg,#66afd2 0px,#69b0d3 242.5px,#78b8d7 265.5px,#8bc1dc 277.5px,#a0cce2 283.5px,#c3deec 288.5px,#e0ecf3 292.5px,#f4f6f6 296.5px,#f7f6f5 300.5px,#f2f5f6 302.5px,#e4eef4 304.5px,#cee4ef 305.5px,#92c5de 306.5px,#4796c5 307.5px,#2f79b6 308.5px,#266db0 309.5px,#2368ad 313.5px,#2970b1 332.5px,#3c8abe 342.5px,#4998c6 346.5px,#6bb1d3 353.5px,#82bdda 361.5px,#8ac1dc 371.5px,#79b9d7 412.5px,#67b0d2 422.5px,#4291c2 435.5px,#307ab6 452.5px,#2e77b5 471.5px,#4797c5 515.5px,#5ca7ce 543.5px,#65aed1 597.5px,#66afd2 861px)"></div>
<div style="height:2px;background:linear-gradient(90deg,#66afd2 0px,#69b0d3 242.5px,#78b8d7 265.5px,#8bc1dc 277.5px,#a0cce2 283.5px,#c3deec 288.5px,#e0ecf3 292.5px,#f4f6f6 296.5px,#f7f6f5 300.5px,#f3f5f6 302.5px,#e5eff4 304.5px,#d1e5f0 305.5px,#95c6df 306.5px,#4a98c6 307.5px,#307ab6 308.5px,#266db0 309.5px,#2368ad 312.5px,#286fb1 332.5px,#3b88be 342.5px,#4696c4 346.5px,#6bb2d3 354.5px,#80bcd9 362.5px,#86bfdb 373.5px,#79b8d7 414.5px,#67afd2 424.5px,#4190c1 438.5px,#317bb7 455.5px,#307ab6 475.5px,#4796c5 516.5px,#5ca7ce 544.5px,#65aed1 597.5px,#66afd2 861px)"></div>
<div style="height:2px;background:linear-gradient(90deg,#66afd2 0px,#69b0d3 242.5px,#78b8d7 265.5px,#8bc1dc 277.5px,#a0cce2 283.5px,#c3deec 288.5px,#e0ecf3 292.5px,#f4f6f6 296.5px,#f7f6f5 300.5px,#f3f5f6 302.5px,#e6eff4 304.5px,#d3e6f0 305.5px,#98c8e0 306.5px,#4d9bc7 307.5px,#317bb6 308.5px,#266db0 309.5px,#2368ad 312.5px,#286fb0 332.5px,#3a87bd 342.5px,#4998c6 347.5px,#6bb2d3 355.5px,#7dbbd8 363.5px,#82bdda 376.5px,#78b8d7 416.5px,#67afd2 426.5px,#4191c2 440.5px,#327cb7 457.5px,#317bb7 477.5px,#4796c5 517.5px,#5da8ce 546.5px,#65aed1 600.5px,#66afd2 861px)"></div>
<div style="height:2px;background:linear-gradient(90deg,#66afd2 0px,#69b0d3 242.5px,#78b8d7 265.5px,#8ac1dc 277.5px,#a0cce2 283.5px,#c3deec 288.5px,#e0ecf3 292.5px,#f4f6f6 296.5px,#f7f6f5 300.5px,#f3f5f6 302.5px,#e7eff4 304.5px,#d4e6f1 305.5px,#9bcae1 306.5px,#509dc9 307.5px,#317cb7 308.5px,#276db0 309.5px,#2368ad 312.5px,#276eb0 332.5px,#3986bc 342.5px,#4796c5 347.5px,#68b0d3 355.5px,#7bbad8 364.5px,#7ebbd9 379.5px,#78b8d7 417.5px,#66afd2 428.5px,#4190c2 443.5px,#337db8 460.5px,#337db8 481.5px,#4796c5 518.5px,#5da8ce 547.5px,#65aed1 600.5px,#66afd2 861px)"></div>
<div style="height:2px;background:linear-gradient(90deg,#66afd2 0px,#69b0d3 242.5px,#78b8d7 265.5px,#8ac1dc 277.5px,#a0cce2 283.5px,#c3deec 288.5px,#e0ecf3 292.5px,#f4f6f6 296.5px,#f7f6f5 300.5px,#f4f5f6 302.5px,#e8f0f4 304.5px,#d6e7f1 305.5px,#9ecbe1 306.5px,#53a0ca 307.5px,#327db8 308.5px,#276eb0 309.5px,#2268ad 312.5px,#276db0 332.5px,#3885bc 342.5px,#4a98c6 348.5px,#69b0d3 356.5px,#79b9d7 365.5px,#7bb9d8 385.5px,#78b8d7 418.5px,#69b0d3 429.5px,#4191c2 445.5px,#337eb8 463.5px,#3480b9 485.5px,#4897c5 520.5px,#5da8ce 550.5px,#65aed2 608.5px,#66afd2 861px)"></div>
<div style="height:2px;background:linear-gradient(90deg,#66afd2 0px,#69b0d3 242.5px,#78b8d7 265.5px,#8ac1dc 277.5px,#a0cce2 283.5px,#c2deec 288.5px,#e0ecf3 292.5px,#f7f7f7 297.5px,#f7f6f4 300.5px,#eff3f6 303.5px,#e9f0f4 304.5px,#d7e8f1 305.5px,#a1cde2 306.5px,#57a3cc 307.5px,#337eb8 308.5px,#276eb0 309.5px,#2268ad 312.5px,#266db0 332.5px,#3884bb 342.5px,#4897c5 348.5px,#69b0d3 357.5px,#77b8d7 366.5px,#78b8d7 419.5px,#69b0d3 431.5px,#4191c2 448.5px,#3480b9 466.5px,#3682ba 488.5px,#4897c5 521.5px,#5da8ce 551.5px,#65aed2 608.5px,#66afd2 861px)"></div>
<div style="height:2px;background:linear-gradient(90deg,#66afd2 0px,#69b0d3 242.5px,#78b8d7 265.5px,#8ac1dc 277.5px,#a0cce2 283.5px,#c2ddec 288.5px,#dfecf3 292.5px,#f7f7f7 297.5px,#f7f5f4 300.5px,#f0f4f6 303.5px,#e9f1f4 304.5px,#d9e9f1 305.5px,#a4cee3 306.5px,#5aa6cd 307.5px,#347fb9 308.5px,#276eb0 309.5px,#2368ad 311.5px,#266caf 332.5px,#3783bb 342.5px,#4695c4 348.5px,#67afd2 357.5px,#75b7d6 367.5px,#77b8d7 421.5px,#69b0d3 433.5px,#4190c2 451.5px,#3581ba 469.5px,#3884bb 492.5px,#4897c5 522.5px,#5ea8ce 553.5px,#65aed2 612.5px,#66afd2 861px)"></div>
<div style="height:2px;background:linear-gradient(90deg,#66afd2 0px,#69b0d3 242.5px,#78b8d7 265.5px,#8ac1dc 277.5px,#a0cce2 283.5px,#c2ddec 288.5px,#d9e9f2 291.5px,#f4f5f6 296.5px,#f7f7f6 301.5px,#eaf1f5 304.5px,#dae9f2 305.5px,#a7d0e4 306.5px,#5ea9cf 307.5px,#3581ba 308.5px,#286fb0 309.5px,#2368ad 311.5px,#266caf 332.5px,#3783bb 342.5px,#4998c6 349.5px,#65aed1 357.5px,#73b5d5 367.5px,#77b7d7 423.5px,#69b0d3 435.5px,#4291c2 453.5px,#3682bb 471.5px,#3986bc 495.5px,#4997c5 523.5px,#5ea8ce 554.5px,#65aed2 612.5px,#66afd2 861px)"></div>
<div style="height:2px;background:linear-gradient(90deg,#66afd2 0px,#69b0d3 242.5px,#78b8d7 265.5px,#8ac1dc 277.5px,#a0cce2 283.5px,#c2ddec 288.5px,#d9e9f1 291.5px,#f4f5f6 296.5px,#f7f7f6 301.5px,#ebf1f5 304.5px,#dceaf2 305.5px,#aad1e5 306.5px,#61abd0 307.5px,#3682ba 308.5px,#286fb1 309.5px,#2368ad 311.5px,#256caf 332.5px,#3682ba 342.5px,#4897c5 349.5px,#63acd1 357.5px,#71b4d5 367.5px,#76b7d6 425.5px,#69b1d3 437.5px,#4291c2 456.5px,#3784bb 474.5px,#3b88bd 499.5px,#4997c5 524.5px,#5ea9cf 556.5px,#65aed2 616.5px,#66afd2 861px)"></div>
<div style="height:2px;background:linear-gradient(90deg,#66afd2 0px,#69b0d3 242.5px,#78b8d7 265.5px,#8ac1dc 277.5px,#9fcce2 283.5px,#c1ddec 288.5px,#d9e9f1 291.5px,#f3f5f6 296.5px,#f7f6f6 301.5px,#ebf2f5 304.5px,#ddebf2 305.5px,#aed3e6 306.5px,#65aed2 307.5px,#3784bb 308.5px,#2870b1 309.5px,#2368ad 311.5px,#256baf 332.5px,#3682ba 342.5px,#4796c5 349.5px,#61abd0 357.5px,#6fb3d4 367.5px,#76b7d6 427.5px,#69b1d3 439.5px,#4291c2 459.5px,#3885bc 478.5px,#3d8bbf 505.5px,#4a98c6 526.5px,#5fa9cf 559.5px,#65afd2 624.5px,#66afd2 861px)"></div>
<div style="height:2px;background:linear-gradient(90deg,#66afd2 0px,#69b0d3 242.5px,#78b8d7 265.5px,#8ac1dc 277.5px,#a5cee3 284.5px,#cae2ee 289.5px,#eff3f6 295.5px,#f7f6f5 298.5px,#f5f6f7 302.5px,#ecf2f5 304.5px,#deebf2 305.5px,#b1d5e7 306.5px,#69b0d3 307.5px,#3985bc 308.5px,#2971b1 309.5px,#246aae 310.5px,#256baf 332.5px,#3681ba 342.5px,#4a98c6 350.5px,#62acd0 358.5px,#6eb3d4 369.5px,#76b7d6 429.5px,#68b0d2 442.5px,#4291c2 462.5px,#3986bc 481.5px,#3f8ec0 510.5px,#4d9bc7 531.5px,#60aacf 564.5px,#66afd2 646.5px,#66afd2 861px)"></div>
<div style="height:2px;background:linear-gradient(90deg,#66afd2 0px,#69b0d3 242.5px,#78b8d7 265.5px,#8ac1dc 277.5px,#a4cee3 284.5px,#cae1ee 289.5px,#eff3f6 295.5px,#f7f6f5 298.5px,#f5f6f7 302.5px,#edf2f5 304.5px,#e0ecf3 305.5px,#b4d6e8 306.5px,#6db2d4 307.5px,#3a87bd 308.5px,#2a72b2 309.5px,#246aae 310.5px,#256bae 332.5px,#3581ba 342.5px,#4998c6 350.5px,#61abd0 358.5px,#6db2d4 369.5px,#75b7d6 431.5px,#68b0d3 444.5px,#4291c2 465.5px,#3a87bd 485.5px,#4291c2 517.5px,#5ea8ce 559.5px,#65aed2 616.5px,#66afd2 861px)"></div>
<div style="height:2px;background:linear-gradient(90deg,#66afd2 0px,#69b0d3 242.5px,#78b8d7 265.5px,#8ac1dc 277.5px,#a4cee3 284.5px,#cae1ee 289.5px,#eff3f6 295.5px,#f7f6f5 298.5px,#f6f6f7 302.5px,#edf2f5 304.5px,#e1ecf3 305.5px,#b7d8e8 306.5px,#71b4d5 307.5px,#3b89be 308.5px,#2a72b2 309.5px,#246aae 310.5px,#246bae 332.5px,#3581ba 342.5px,#4897c5 350.5px,#60aacf 358.5px,#6cb2d4 369.5px,#75b6d6 433.5px,#68b0d3 446.5px,#4291c2 468.5px,#3b88be 489.5px,#4595c4 523.5px,#5da8ce 559.5px,#65aed2 613.5px,#66afd2 861px)"></div>
<div style="height:2px;background:linear-gradient(90deg,#66afd2 0px,#69b0d3 242.5px,#78b8d7 265.5px,#8ac1dc 277.5px,#a4cee3 284.5px,#cae1ee 289.5px,#eff3f6 295.5px,#f7f6f5 298.5px,#f6f6f7 302.5px,#eef3f5 304.5px,#e2edf3 305.5px,#bad9e9 306.5px,#75b6d6 307.5px,#3d8abf 308.5px,#2b73b3 309.5px,#246aae 310.5px,#246aae 332.5px,#3581ba 342.5px,#4897c5 350.5px,#5faacf 358.5px,#6bb1d3 370.5px,#74b6d6 435.5px,#68b0d3 448.5px,#4292c2 471.5px,#3c8abe 492.5px,#4696c4 525.5px,#5ea9cf 562.5px,#65afd2 620.5px,#66afd2 861px)"></div>
<div style="height:2px;background:linear-gradient(90deg,#66afd2 0px,#69b0d3 242.5px,#78b8d7 265.5px,#8ac1dc 277.5px,#a4cee3 284.5px,#c9e1ee 289.5px,#eaf1f5 294.5px,#f7f6f5 298.5px,#f6f7f7 302.5px,#eef3f5 304.5px,#e3eef3 305.5px,#bddbea 306.5px,#79b8d7 307.5px,#3e8cc0 308.5px,#2c75b3 309.5px,#246aae 310.5px,#246aae 332.5px,#3580b9 342.5px,#4897c5 350.5px,#5fa9cf 358.5px,#6ab1d3 370.5px,#74b6d6 423.5px,#72b5d5 442.5px,#5da8ce 457.5px,#4291c2 475.5px,#3d8bbf 498.5px,#4797c5 527.5px,#5fa9cf 565.5px,#66afd2 628.5px,#66afd2 861px)"></div>
<div style="height:2px;background:linear-gradient(90deg,#66afd2 0px,#69b0d3 242.5px,#78b8d7 265.5px,#8ac1dc 277.5px,#a4cee3 284.5px,#c9e1ee 289.5px,#eaf1f5 294.5px,#f7f6f5 298.5px,#f3f5f6 303.5px,#eff3f6 304.5px,#e4eef4 305.5px,#c0dceb 306.5px,#7dbad8 307.5px,#3f8ec1 308.5px,#2d76b4 309.5px,#246bae 310.5px,#2369ad 330.5px,#2d75b4 338.5px,#4796c5 350.5px,#5ea9cf 358.5px,#69b1d3 370.5px,#73b5d5 423.5px,#71b5d5 444.5px,#5ea9cf 459.5px,#4292c2 478.5px,#3e8dc0 502.5px,#4897c5 528.5px,#5fa9cf 567.5px,#66afd2 632.5px,#66afd2 861px)"></div>
<div style="height:2px;background:linear-gradient(90deg,#66afd2 0px,#69b0d3 242.5px,#78b8d7 265.5px,#8ac1dc 277.5px,#a4cee3 284.5px,#c9e1ee 289.5px,#eaf1f5 294.5px,#f7f6f5 298.5px,#f3f5f6 303.5px,#eff3f6 304.5px,#e5eff4 305.5px,#c3deec 306.5px,#81bcd9 307.5px,#4190c2 308.5px,#2e77b5 309.5px,#256baf 310.5px,#2368ad 322.5px,#256baf 333.5px,#4393c3 349.5px,#5ca7ce 357.5px,#68b0d2 368.5px,#73b6d6 442.5px,#66afd2 456.5px,#4292c3 481.5px,#3f8ec1 506.5px,#4897c5 529.5px,#60aacf 570.5px,#66afd2 641.5px,#66afd2 861px)"></div>
<div style="height:2px;background:linear-gradient(90deg,#66afd2 0px,#69b0d3 242.5px,#78b8d7 265.5px,#8ac1dc 277.5px,#a3cee3 284.5px,#c9e1ee 289.5px,#eaf1f5 294.5px,#f7f6f6 298.5px,#f4f5f6 303.5px,#f0f4f6 304.5px,#e7eff4 305.5px,#c6dfed 306.5px,#85bfda 307.5px,#4292c3 308.5px,#2f78b5 309.5px,#256caf 310.5px,#2268ad 317.5px,#256baf 333.5px,#4393c3 349.5px,#5ca7ce 357.5px,#67b0d2 368.5px,#72b5d5 429.5px,#70b4d5 449.5px,#5ca7ce 465.5px,#4292c3 485.5px,#4190c1 512.5px,#4c9ac7 535.5px,#61abd0 575.5px,#66afd2 665.5px,#66afd2 861px)"></div>
<div style="height:2px;background:linear-gradient(90deg,#66afd2 0px,#69b0d3 242.5px,#78b8d7 265.5px,#8ac1dc 277.5px,#a3cee3 284.5px,#c8e1ed 289.5px,#e4eef3 293.5px,#f6f6f7 297.5px,#f7f6f5 301.5px,#f0f4f6 304.5px,#e8f0f4 305.5px,#c9e1ee 306.5px,#89c1dc 307.5px,#4595c4 308.5px,#307ab6 309.5px,#266caf 310.5px,#2268ad 314.5px,#256baf 333.5px,#4393c3 349.5px,#5ba7cd 357.5px,#67afd2 368.5px,#72b5d5 430.5px,#70b4d5 451.5px,#5ca7ce 468.5px,#4292c3 489.5px,#4292c2 517.5px,#60aad0 575.5px,#66afd2 657.5px,#66afd2 861px)"></div>
<div style="height:2px;background:linear-gradient(90deg,#66afd2 0px,#69b0d3 242.5px,#78b8d7 265.5px,#89c1dc 277.5px,#a3cee3 284.5px,#c8e0ed 289.5px,#e3eef3 293.5px,#f6f6f7 297.5px,#f7f6f5 301.5px,#f1f4f6 304.5px,#e9f0f4 305.5px,#cbe2ee 306.5px,#8dc3dd 307.5px,#4997c5 308.5px,#317bb7 309.5px,#266daf 310.5px,#2368ad 312.5px,#246aae 332.5px,#3783bb 343.5px,#4797c5 350.5px,#5da8ce 358.5px,#67b0d2 371.5px,#70b4d5 429.5px,#70b4d5 453.5px,#5ba6cd 471.5px,#4393c3 492.5px,#4393c3 521.5px,#60aacf 575.5px,#66afd2 650.5px,#66afd2 861px)"></div>
<div style="height:2px;background:linear-gradient(90deg,#66afd2 0px,#69b0d3 242.5px,#78b8d7 265.5px,#89c1dc 277.5px,#a3cee3 284.5px,#c8e0ed 289.5px,#e3eef3 293.5px,#f6f6f7 297.5px,#f7f6f5 301.5px,#f1f4f6 304.5px,#eaf1f5 305.5px,#cee4ef 306.5px,#92c5de 307.5px,#4c9ac7 308.5px,#327db8 309.5px,#276eb0 310.5px,#2368ad 312.5px,#246aae 332.5px,#3784bb 343.5px,#4b9ac7 351.5px,#60aacf 360.5px,#67b0d2 376.5px,#70b4d5 433.5px,#6fb4d5 456.5px,#59a5cd 475.5px,#4393c3 496.5px,#4595c4 525.5px,#60aad0 578.5px,#66afd2 661.5px,#66afd2 861px)"></div>
<div style="height:2px;background:linear-gradient(90deg,#66afd2 0px,#69b0d3 242.5px,#78b8d7 265.5px,#89c1dc 277.5px,#a3cee3 284.5px,#c7e0ed 289.5px,#e3eef3 293.5px,#f6f6f7 297.5px,#f7f6f5 301.5px,#f1f4f6 304.5px,#ebf1f5 305.5px,#d1e5f0 306.5px,#95c7df 307.5px,#509dc9 308.5px,#337eb8 309.5px,#276eb0 310.5px,#2368ad 312.5px,#246aae 332.5px,#3884bb 343.5px,#4c9ac7 351.5px,#60aacf 360.5px,#67b0d2 377.5px,#70b4d5 436.5px,#6eb3d4 459.5px,#57a3cb 480.5px,#4494c4 500.5px,#4695c4 525.5px,#61abd0 582.5px,#66afd2 681.5px,#66afd2 861px)"></div>
<div style="height:2px;background:linear-gradient(90deg,#66afd2 0px,#69b0d3 242.5px,#78b8d7 265.5px,#8cc2dc 278.5px,#a3cde3 284.5px,#c7e0ed 289.5px,#e3edf3 293.5px,#f5f6f7 297.5px,#f7f6f5 301.5px,#f2f4f6 304.5px,#ebf2f5 305.5px,#d3e6f0 306.5px,#99c8e0 307.5px,#54a1ca 308.5px,#3580b9 309.5px,#286fb1 310.5px,#2369ae 311.5px,#246aae 332.5px,#3884bb 343.5px,#4c9ac7 351.5px,#60aacf 360.5px,#67afd2 377.5px,#70b4d5 438.5px,#6eb3d4 461.5px,#57a3cb 483.5px,#4695c4 503.5px,#4897c5 528.5px,#61abd0 585.5px,#66afd2 698.5px,#66afd2 861px)"></div>
<div style="height:2px;background:linear-gradient(90deg,#66afd2 0px,#69b0d3 242.5px,#78b8d7 265.5px,#8cc2dc 278.5px,#a2cde3 284.5px,#c7e0ed 289.5px,#e3edf3 293.5px,#f5f6f7 297.5px,#f7f6f5 301.5px,#f2f5f6 304.5px,#ecf2f5 305.5px,#d5e7f1 306.5px,#9ccae1 307.5px,#58a4cc 308.5px,#3682ba 309.5px,#2971b1 310.5px,#2369ae 311.5px,#246aae 332.5px,#3884bb 343.5px,#4998c5 350.5px,#5da8ce 358.5px,#66afd2 371.5px,#6fb3d4 438.5px,#6eb3d4 463.5px,#57a3cb 486.5px,#4796c5 507.5px,#4a99c6 533.5px,#62acd0 588.5px,#66afd2 720.5px,#66afd2 861px)"></div>
<div style="height:2px;background:linear-gradient(90deg,#66afd2 0px,#69b0d3 242.5px,#78b8d7 265.5px,#8cc2dc 278.5px,#a2cde3 284.5px,#c6e0ed 289.5px,#e2edf3 293.5px,#f5f6f7 297.5px,#f7f6f4 301.5px,#f2f5f6 304.5px,#edf2f5 305.5px,#d6e8f1 306.5px,#a0cce2 307.5px,#5ca7ce 308.5px,#3784bb 309.5px,#2a72b2 310.5px,#246aae 311.5px,#246aae 332.5px,#3885bc 343.5px,#4998c6 350.5px,#5ea8ce 358.5px,#66afd2 372.5px,#6eb3d4 440.5px,#6eb3d4 466.5px,#4998c6 506.5px,#4a98c6 531.5px,#62acd0 592.5px,#66afd2 775.5px,#66afd2 861px)"></div>
<div style="height:2px;background:linear-gradient(90deg,#66afd2 0px,#69b0d3 242.5px,#78b8d7 265.5px,#8bc2dc 278.5px,#a2cde3 284.5px,#c6dfed 289.5px,#e8f0f4 294.5px,#f7f7f6 298.5px,#f7f5f4 301.5px,#f3f5f6 304.5px,#eef3f5 305.5px,#d8e8f1 306.5px,#a3cee3 307.5px,#60aacf 308.5px,#3986bc 309.5px,#2b73b3 310.5px,#246aae 311.5px,#246aae 332.5px,#3885bc 343.5px,#4a98c6 350.5px,#5ea8ce 358.5px,#66afd2 372.5px,#6eb3d4 443.5px,#6db2d4 469.5px,#4b99c6 508.5px,#4b9ac7 534.5px,#63acd1 595.5px,#66afd2 834.5px,#66afd2 861px)"></div>
<div style="height:2px;background:linear-gradient(90deg,#66afd2 0px,#69b0d3 242.5px,#78b8d7 265.5px,#8bc2dc 278.5px,#a2cde2 284.5px,#c6dfed 289.5px,#e8f0f4 294.5px,#f7f7f6 298.5px,#f7f5f4 301.5px,#f3f5f6 304.5px,#eff3f5 305.5px,#dae9f2 306.5px,#a7cfe4 307.5px,#64aed1 308.5px,#3a88bd 309.5px,#2c74b3 310.5px,#246bae 311.5px,#246aae 332.5px,#3985bc 343.5px,#4a99c6 350.5px,#5ea9cf 358.5px,#66afd2 372.5px,#6eb3d4 446.5px,#6cb2d4 472.5px,#4c9ac7 511.5px,#4d9bc7 538.5px,#63acd1 598.5px,#66afd2 861px)"></div>
<div style="height:2px;background:linear-gradient(90deg,#66afd2 0px,#69b0d3 242.5px,#78b8d7 265.5px,#8bc2dc 278.5px,#a2cde2 284.5px,#c5dfed 289.5px,#e8f0f4 294.5px,#f7f7f6 298.5px,#f7f5f4 301.5px,#eff3f6 305.5px,#dceaf2 306.5px,#aad1e5 307.5px,#69b0d3 308.5px,#3c8abe 309.5px,#2d76b4 310.5px,#256baf 311.5px,#246aae 331.5px,#327db8 340.5px,#4796c5 349.5px,#5da7ce 357.5px,#66afd2 370.5px,#6eb3d4 450.5px,#6cb2d4 475.5px,#4d9bc7 514.5px,#4f9cc8 542.5px,#63add1 602.5px,#66afd2 861px)"></div>
<div style="height:2px;background:linear-gradient(90deg,#66afd2 0px,#69b0d3 242.5px,#77b8d7 265.5px,#8bc2dc 278.5px,#a1cde2 284.5px,#c5dfed 289.5px,#e7f0f4 294.5px,#f7f7f7 298.5px,#f7f5f4 301.5px,#f0f4f6 305.5px,#ddebf2 306.5px,#aed3e6 307.5px,#6db3d4 308.5px,#3e8cbf 309.5px,#2e77b5 310.5px,#256caf 311.5px,#2369ad 317.5px,#256bae 332.5px,#3986bc 343.5px,#4b9ac7 350.5px,#5ea9cf 358.5px,#66afd2 373.5px,#6db3d4 453.5px,#6bb2d3 478.5px,#4e9cc8 516.5px,#509ec9 545.5px,#63add1 605.5px,#66afd2 861px)"></div>
<div style="height:2px;background:linear-gradient(90deg,#66afd2 0px,#69b0d3 243.5px,#78b8d7 266.5px,#8bc1dc 278.5px,#a1cde2 284.5px,#c4dfec 289.5px,#e1edf3 293.5px,#f5f6f7 297.5px,#f7f5f4 301.5px,#f0f4f6 305.5px,#dfecf3 306.5px,#b2d5e7 307.5px,#72b5d5 308.5px,#3f8ec0 309.5px,#2f79b6 310.5px,#266daf 311.5px,#2369ad 314.5px,#256bae 332.5px,#3986bc 343.5px,#4c9ac7 350.5px,#5fa9cf 358.5px,#66afd2 373.5px,#6db3d4 458.5px,#6ab1d3 482.5px,#4f9dc8 519.5px,#529fc9 549.5px,#64add1 609.5px,#66afd2 861px)"></div>
<div style="height:2px;background:linear-gradient(90deg,#66afd2 0px,#69b0d3 243.5px,#78b8d7 266.5px,#8bc1dc 278.5px,#a1cde2 284.5px,#c4deec 289.5px,#e1ecf3 293.5px,#f4f6f7 297.5px,#f7f6f6 302.5px,#f1f4f6 305.5px,#e1ecf3 306.5px,#b6d7e8 307.5px,#77b7d7 308.5px,#4190c2 309.5px,#307ab6 310.5px,#276eb0 311.5px,#2369ad 313.5px,#256baf 332.5px,#3a87bd 343.5px,#4c9ac7 350.5px,#5fa9cf 358.5px,#66afd2 374.5px,#6cb2d4 480.5px,#509dc9 523.5px,#54a1ca 556.5px,#64aed1 614.5px,#66afd2 861px)"></div>
<div style="height:2px;background:linear-gradient(90deg,#66afd2 0px,#69b0d3 243.5px,#78b8d7 266.5px,#8bc1dc 278.5px,#a1cce2 284.5px,#c3deec 289.5px,#e0ecf3 293.5px,#f4f6f6 297.5px,#f7f6f6 302.5px,#f1f4f6 305.5px,#e2edf3 306.5px,#b9d9e9 307.5px,#7cbad8 308.5px,#4393c3 309.5px,#327cb7 310.5px,#286fb0 311.5px,#2369ae 313.5px,#256baf 332.5px,#3a87bd 343.5px,#4998c6 349.5px,#5ea8ce 357.5px,#66afd2 371.5px,#6bb2d3 483.5px,#519ec9 526.5px,#56a2cb 560.5px,#64aed1 619.5px,#66afd2 861px)"></div>
<div style="height:2px;background:linear-gradient(90deg,#66afd2 0px,#69b0d3 243.5px,#78b8d7 266.5px,#8bc1dc 278.5px,#a0cce2 284.5px,#c3deec 289.5px,#e0ecf3 293.5px,#f4f6f6 297.5px,#f7f6f6 302.5px,#f2f4f6 305.5px,#e4eef3 306.5px,#bddbea 307.5px,#81bcd9 308.5px,#4696c4 309.5px,#337eb8 310.5px,#2870b1 311.5px,#246aae 312.5px,#256baf 332.5px,#3d8abf 344.5px,#4e9bc8 350.5px,#5faacf 358.5px,#66afd2 375.5px,#6bb1d3 486.5px,#529fc9 529.5px,#57a3cc 565.5px,#65aed1 624.5px,#66afd2 861px)"></div>
<div style="height:2px;background:linear-gradient(90deg,#66afd2 0px,#69b0d3 243.5px,#78b8d7 266.5px,#8ac1dc 278.5px,#a0cce2 284.5px,#c2deec 289.5px,#e0ecf3 293.5px,#f7f7f7 298.5px,#f7f6f5 302.5px,#f2f5f6 305.5px,#e6eff4 306.5px,#c2ddec 307.5px,#86bfdb 308.5px,#4b99c6 309.5px,#3580b9 310.5px,#2971b2 311.5px,#246aae 312.5px,#256caf 332.5px,#3d8bbf 344.5px,#4b99c6 349.5px,#5ea9cf 357.5px,#66afd2 372.5px,#6ab1d3 489.5px,#53a0ca 532.5px,#59a5cc 571.5px,#65aed2 631.5px,#66afd2 861px)"></div>
<div style="height:2px;background:linear-gradient(90deg,#66afd2 0px,#69b0d3 243.5px,#78b8d7 266.5px,#8ac1dc 278.5px,#a0cce2 284.5px,#c2ddec 289.5px,#d9e9f1 292.5px,#f3f5f6 297.5px,#f7f6f5 302.5px,#f2f5f6 305.5px,#e7f0f4 306.5px,#c6dfed 307.5px,#8cc2dc 308.5px,#509dc8 309.5px,#3682ba 310.5px,#2a73b2 311.5px,#256bae 312.5px,#256caf 332.5px,#4191c2 346.5px,#5ca7ce 355.5px,#65aed2 367.5px,#69b1d3 492.5px,#54a0ca 535.5px,#5ba6cd 577.5px,#65afd2 639.5px,#66afd2 861px)"></div>
<div style="height:2px;background:linear-gradient(90deg,#66afd2 0px,#69b0d3 243.5px,#78b8d7 266.5px,#8ac1dc 278.5px,#a4cee3 285.5px,#cae1ee 290.5px,#eff3f6 296.5px,#f7f6f5 299.5px,#f5f6f7 304.5px,#f2f5f6 305.5px,#e9f0f4 306.5px,#cbe2ee 307.5px,#92c5de 308.5px,#55a1cb 309.5px,#3884bb 310.5px,#2c74b3 311.5px,#256baf 312.5px,#266caf 332.5px,#4494c4 347.5px,#5ca7ce 355.5px,#65aed2 367.5px,#69b0d3 495.5px,#54a1ca 538.5px,#5ca7ce 583.5px,#66afd2 648.5px,#66afd2 861px)"></div>
<div style="height:2px;background:linear-gradient(90deg,#66afd2 0px,#69b0d3 243.5px,#78b8d7 266.5px,#8ac1dc 278.5px,#a4cee3 285.5px,#c9e1ee 290.5px,#eaf1f5 295.5px,#f7f6f6 299.5px,#f5f6f7 304.5px,#f2f5f6 305.5px,#ebf1f5 306.5px,#d0e4f0 307.5px,#97c8df 308.5px,#5aa5cd 309.5px,#3a87bd 310.5px,#2d76b4 311.5px,#266caf 312.5px,#256baf 331.5px,#3580b9 340.5px,#4998c6 348.5px,#5ea9cf 356.5px,#66afd2 370.5px,#68b0d3 499.5px,#55a2cb 541.5px,#5fa9cf 592.5px,#66afd2 666.5px,#66afd2 861px)"></div>
<div style="height:2px;background:linear-gradient(90deg,#66afd2 0px,#69b0d3 243.5px,#78b8d7 266.5px,#8ac1dc 278.5px,#a3cee3 285.5px,#c8e0ed 290.5px,#e3eef3 294.5px,#f5f6f7 298.5px,#f5f6f7 304.5px,#ecf2f5 306.5px,#d3e6f0 307.5px,#9dcae1 308.5px,#60aacf 309.5px,#3c89be 310.5px,#2e77b5 311.5px,#266db0 312.5px,#246aae 318.5px,#266daf 332.5px,#4695c4 347.5px,#5da8ce 355.5px,#66afd2 368.5px,#68b0d2 502.5px,#56a2cb 544.5px,#66afd2 649.5px,#66afd2 861px)"></div>
<div style="height:2px;background:linear-gradient(90deg,#66afd2 0px,#69b0d3 243.5px,#78b8d7 266.5px,#89c1dc 278.5px,#a3cee3 285.5px,#c7e0ed 290.5px,#e3edf3 294.5px,#f5f6f7 298.5px,#f5f6f7 304.5px,#edf2f5 306.5px,#d6e7f1 307.5px,#a2cde3 308.5px,#66afd2 309.5px,#3d8cbf 310.5px,#3079b6 311.5px,#276eb0 312.5px,#246aae 315.5px,#266db0 332.5px,#4796c5 347.5px,#5ca7ce 354.5px,#65aed2 365.5px,#67b0d2 506.5px,#57a3cb 547.5px,#66afd2 653.5px,#66afd2 861px)"></div>
<div style="height:2px;background:linear-gradient(90deg,#66afd2 0px,#69b0d3 243.5px,#78b8d7 266.5px,#8cc2dc 279.5px,#a2cde3 285.5px,#c6dfed 290.5px,#e2edf3 294.5px,#f5f6f7 298.5px,#f7f7f7 303.5px,#eff3f5 306.5px,#d9e9f2 307.5px,#a8d0e4 308.5px,#6cb2d4 309.5px,#408fc1 310.5px,#317bb7 311.5px,#2870b1 312.5px,#246bae 314.5px,#276db0 332.5px,#4897c5 347.5px,#5ca7ce 354.5px,#65aed2 366.5px,#66afd2 511.5px,#57a3cc 550.5px,#66afd2 656.5px,#66afd2 861px)"></div>
<div style="height:2px;background:linear-gradient(90deg,#66afd2 0px,#69b0d3 243.5px,#78b8d7 266.5px,#8bc2dc 279.5px,#a2cde2 285.5px,#c5dfed 290.5px,#e7eff4 295.5px,#f7f7f7 299.5px,#f5f6f7 304.5px,#eff3f6 306.5px,#dceaf2 307.5px,#afd4e6 308.5px,#73b6d6 309.5px,#4291c2 310.5px,#337db8 311.5px,#2971b2 312.5px,#256baf 313.5px,#276eb0 332.5px,#4494c4 346.5px,#5ba6cd 353.5px,#65aed2 364.5px,#66afd2 515.5px,#58a4cc 553.5px,#66afd2 660.5px,#66afd2 861px)"></div>
<div style="height:2px;background:linear-gradient(90deg,#66afd2 0px,#69b0d3 243.5px,#77b8d7 266.5px,#8bc1dc 279.5px,#a1cde2 285.5px,#c4deec 290.5px,#e0ecf3 294.5px,#f4f5f6 298.5px,#f7f7f7 303.5px,#f0f4f6 306.5px,#dfecf3 307.5px,#b5d7e8 308.5px,#7bb9d8 309.5px,#4695c4 310.5px,#3480b9 311.5px,#2a72b2 312.5px,#256caf 313.5px,#276eb0 332.5px,#4595c4 346.5px,#5ba6cd 353.5px,#65aed2 364.5px,#65afd2 518.5px,#59a4cc 557.5px,#66afd2 664.5px,#66afd2 861px)"></div>
<div style="height:2px;background:linear-gradient(90deg,#66afd2 0px,#69b0d3 244.5px,#78b8d7 267.5px,#8bc1dc 279.5px,#a0cce2 285.5px,#c3deec 290.5px,#dfecf3 294.5px,#f3f5f6 298.5px,#f7f6f6 302.5px,#f0f4f6 306.5px,#e2edf3 307.5px,#bcdaea 308.5px,#82bdda 309.5px,#4c9ac7 310.5px,#3682ba 311.5px,#2c74b3 312.5px,#266daf 313.5px,#266db0 331.5px,#3783bb 340.5px,#4a99c6 347.5px,#5da8ce 354.5px,#66afd2 367.5px,#65aed2 521.5px,#59a5cd 560.5px,#66afd2 668.5px,#66afd2 861px)"></div>
<div style="height:2px;background:linear-gradient(90deg,#66afd2 0px,#69b0d3 244.5px,#78b8d7 267.5px,#8ac1dc 279.5px,#a5cfe3 286.5px,#cae2ee 291.5px,#eff3f5 297.5px,#f7f6f6 301.5px,#f1f4f6 306.5px,#e5eef4 307.5px,#c3deec 308.5px,#8bc1dc 309.5px,#529fc9 310.5px,#3885bc 311.5px,#2d76b4 312.5px,#276db0 313.5px,#266db0 331.5px,#3884bb 340.5px,#4796c5 346.5px,#5ca7ce 353.5px,#65aed2 364.5px,#65aed2 524.5px,#5aa5cd 564.5px,#66afd2 671.5px,#66afd2 861px)"></div>
<div style="height:2px;background:linear-gradient(90deg,#66afd2 0px,#69b0d3 244.5px,#78b8d7 267.5px,#8ac1dc 279.5px,#a4cee3 286.5px,#c9e1ee 291.5px,#e9f0f4 296.5px,#f6f7f7 300.5px,#f3f5f6 305.5px,#f1f4f6 306.5px,#e7f0f4 307.5px,#cae1ee 308.5px,#93c6de 309.5px,#59a4cc 310.5px,#3a87bd 311.5px,#2e78b5 312.5px,#276eb0 313.5px,#276eb0 331.5px,#3885bc 340.5px,#4897c5 346.5px,#5da7ce 353.5px,#65afd2 365.5px,#65aed2 527.5px,#5ba6cd 567.5px,#66afd2 676.5px,#66afd2 861px)"></div>
<div style="height:2px;background:linear-gradient(90deg,#66afd2 0px,#69b0d3 244.5px,#78b8d7 267.5px,#8ac1dc 279.5px,#a3cee3 286.5px,#c7e0ed 291.5px,#e3edf3 295.5px,#f4f6f6 299.5px,#f6f7f7 303.5px,#f1f4f6 306.5px,#eaf1f5 307.5px,#d0e5f0 308.5px,#60aacf 310.5px,#3d8abf 311.5px,#307ab6 312.5px,#2870b1 313.5px,#266caf 318.5px,#286fb1 332.5px,#4998c5 346.5px,#5da8ce 353.5px,#66afd2 365.5px,#65aed2 530.5px,#5ba6cd 571.5px,#66afd2 680.5px,#66afd2 861px)"></div>
<div style="height:2px;background:linear-gradient(90deg,#66afd2 0px,#69b0d3 244.5px,#78b8d7 267.5px,#8cc2dc 280.5px,#a2cde3 286.5px,#c6dfed 291.5px,#e7eff4 296.5px,#f5f6f7 300.5px,#f4f6f7 304.5px,#ecf2f5 307.5px,#d5e7f1 308.5px,#a2cde3 309.5px,#67b0d2 310.5px,#3f8ec0 311.5px,#317cb7 312.5px,#2971b2 313.5px,#266daf 315.5px,#276eb0 331.5px,#3b89be 341.5px,#4e9bc8 347.5px,#5fa9cf 354.5px,#66afd2 369.5px,#65aed2 533.5px,#5ca7ce 575.5px,#66afd2 685.5px,#66afd2 861px)"></div>
<div style="height:2px;background:linear-gradient(90deg,#66afd2 0px,#69b0d3 244.5px,#78b8d7 267.5px,#8bc2dc 280.5px,#a1cde2 286.5px,#c4dfec 291.5px,#e0ecf3 295.5px,#f2f5f6 299.5px,#f6f6f7 303.5px,#edf2f5 307.5px,#d9e9f1 308.5px,#aad1e5 309.5px,#70b4d5 310.5px,#4191c2 311.5px,#337eb8 312.5px,#2a72b2 313.5px,#266db0 315.5px,#286fb0 331.5px,#3c89be 341.5px,#4b99c6 346.5px,#5ea9cf 353.5px,#66afd2 366.5px,#65aed1 536.5px,#5da7ce 579.5px,#66afd2 690.5px,#66afd2 861px)"></div>
<div style="height:2px;background:linear-gradient(90deg,#66afd2 0px,#69b0d3 244.5px,#77b8d7 267.5px,#8bc1dc 280.5px,#a1cce2 286.5px,#c3deec 291.5px,#dfecf3 295.5px,#f2f5f6 299.5px,#f6f6f7 303.5px,#eef3f5 307.5px,#ddebf2 308.5px,#b2d5e7 309.5px,#79b8d7 310.5px,#4695c4 311.5px,#3581ba 312.5px,#2c74b3 313.5px,#276eb0 314.5px,#286fb1 331.5px,#3c8abe 341.5px,#4b9ac7 346.5px,#5ea9cf 353.5px,#66afd2 366.5px,#65aed1 539.5px,#5da8ce 583.5px,#66afd2 695.5px,#66afd2 861px)"></div>
<div style="height:2px;background:linear-gradient(90deg,#66afd2 0px,#69b0d3 245.5px,#78b8d7 268.5px,#8ac1dc 280.5px,#a5cfe3 287.5px,#cae1ee 292.5px,#edf2f5 298.5px,#f6f6f7 302.5px,#eef3f5 307.5px,#e0ecf3 308.5px,#bad9e9 309.5px,#82bdda 310.5px,#4d9bc7 311.5px,#3783bb 312.5px,#2d76b4 313.5px,#286fb0 314.5px,#2870b1 331.5px,#3d8bbf 341.5px,#4c9bc7 346.5px,#5fa9cf 353.5px,#66afd2 367.5px,#64aed1 543.5px,#5ea8ce 587.5px,#66afd2 702.5px,#66afd2 861px)"></div>
<div style="height:2px;background:linear-gradient(90deg,#66afd2 0px,#69b0d3 245.5px,#78b8d7 268.5px,#8ac1dc 280.5px,#a4cee3 287.5px,#c8e1ed 292.5px,#e3edf3 296.5px,#f3f5f6 300.5px,#f4f6f6 304.5px,#eef3f5 307.5px,#e4eef3 308.5px,#c2deec 309.5px,#8cc2dc 310.5px,#54a1ca 311.5px,#3986bc 312.5px,#2e78b5 313.5px,#2870b1 314.5px,#2970b1 331.5px,#408ec1 342.5px,#5ca7ce 351.5px,#65aed2 362.5px,#64aed1 546.5px,#5ea9cf 592.5px,#66afd2 709.5px,#66afd2 861px)"></div>
<div style="height:2px;background:linear-gradient(90deg,#66afd2 0px,#69b0d3 245.5px,#78b8d7 268.5px,#8ac1dc 280.5px,#a3cee3 287.5px,#c6e0ed 292.5px,#e1edf3 296.5px,#f2f5f6 300.5px,#f4f6f6 304.5px,#eef3f5 307.5px,#e6eff4 308.5px,#cbe2ee 309.5px,#5ca7ce 311.5px,#3c89be 312.5px,#307ab6 313.5px,#2971b2 314.5px,#2970b1 331.5px,#4292c2 343.5px,#5ca7ce 351.5px,#65afd2 362.5px,#64aed1 549.5px,#5fa9cf 596.5px,#66afd2 717.5px,#66afd2 861px)"></div>
<div style="height:2px;background:linear-gradient(90deg,#66afd2 0px,#69b0d3 245.5px,#79b8d7 269.5px,#8cc2dc 281.5px,#a2cde3 287.5px,#c5dfec 292.5px,#e0ecf3 296.5px,#f1f4f6 300.5px,#f4f5f6 304.5px,#eef3f5 307.5px,#e9f0f4 308.5px,#d2e5f0 309.5px,#9ecbe1 310.5px,#64aed1 311.5px,#3e8dc0 312.5px,#327cb7 313.5px,#2a72b2 314.5px,#286fb0 319.5px,#2971b2 331.5px,#4393c3 343.5px,#5ba6cd 350.5px,#65aed2 360.5px,#64aed1 552.5px,#60aacf 601.5px,#66afd2 728.5px,#66afd2 861px)"></div>
<div style="height:2px;background:linear-gradient(90deg,#66afd2 0px,#69b0d3 245.5px,#79b8d7 269.5px,#8bc1dc 281.5px,#a1cce2 287.5px,#c3deec 292.5px,#d9e9f1 295.5px,#f0f4f6 300.5px,#f3f5f6 304.5px,#eaf1f5 308.5px,#d7e8f1 309.5px,#a7d0e4 310.5px,#6eb3d4 311.5px,#4191c2 312.5px,#347eb9 313.5px,#2b74b3 314.5px,#286fb1 316.5px,#2a71b2 331.5px,#4393c3 343.5px,#5ba7cd 350.5px,#65aed2 360.5px,#64aed1 555.5px,#60abd0 607.5px,#66afd2 743.5px,#66afd2 861px)"></div>
<div style="height:2px;background:linear-gradient(90deg,#66afd2 0px,#69b0d3 246.5px,#79b9d7 270.5px,#8ac1dc 281.5px,#a5cfe3 288.5px,#c9e1ee 293.5px,#e8f0f4 298.5px,#f3f5f6 302.5px,#eef3f5 307.5px,#ebf1f5 308.5px,#dbeaf2 309.5px,#b0d4e7 310.5px,#78b8d7 311.5px,#4695c4 312.5px,#3681ba 313.5px,#2d75b4 314.5px,#2870b1 316.5px,#2a72b2 331.5px,#4494c4 343.5px,#5ca7ce 350.5px,#65aed2 360.5px,#64aed1 559.5px,#61abd0 614.5px,#66afd2 769.5px,#66afd2 861px)"></div>
<div style="height:2px;background:linear-gradient(90deg,#66afd2 0px,#69b0d3 246.5px,#79b9d7 270.5px,#8cc2dc 282.5px,#a3cee3 288.5px,#c7e0ed 293.5px,#e1edf3 297.5px,#f1f4f6 301.5px,#f2f4f6 305.5px,#ecf2f5 308.5px,#dfecf3 309.5px,#bad9e9 310.5px,#82bdda 311.5px,#4e9bc8 312.5px,#3884bb 313.5px,#2e77b5 314.5px,#2971b2 315.5px,#2a72b2 331.5px,#4595c4 343.5px,#5da7ce 350.5px,#65afd2 361.5px,#64add1 563.5px,#62acd0 622.5px,#66afd2 827.5px,#66afd2 861px)"></div>
<div style="height:2px;background:linear-gradient(90deg,#66afd2 0px,#69b0d3 246.5px,#79b8d7 270.5px,#8cc2dc 282.5px,#a2cde3 288.5px,#c5dfed 293.5px,#e0ecf3 297.5px,#f0f4f6 301.5px,#f1f4f6 305.5px,#ebf2f5 308.5px,#e2edf3 309.5px,#c3deec 310.5px,#8ec3dd 311.5px,#56a2cb 312.5px,#3a87bd 313.5px,#2f79b6 314.5px,#2a72b2 315.5px,#2b73b2 331.5px,#4696c4 343.5px,#5da8ce 350.5px,#66afd2 361.5px,#64add1 567.5px,#63add1 632.5px,#66afd2 861px)"></div>
<div style="height:2px;background:linear-gradient(90deg,#66afd2 0px,#69b0d3 246.5px,#78b8d7 270.5px,#8bc1dc 282.5px,#a1cce2 288.5px,#c3deec 293.5px,#d9e9f1 296.5px,#eff3f5 301.5px,#f1f4f6 305.5px,#ebf2f5 308.5px,#e5eff4 309.5px,#cce2ee 310.5px,#98c8e0 311.5px,#5fa9cf 312.5px,#3d8bbf 313.5px,#317bb7 314.5px,#2b73b3 315.5px,#2b73b3 331.5px,#4897c5 343.5px,#5ea8ce 350.5px,#66afd2 361.5px,#64add1 571.5px,#64add1 645.5px,#66afd2 861px)"></div>
<div style="height:2px;background:linear-gradient(90deg,#66afd2 0px,#69b0d3 247.5px,#79b9d7 271.5px,#8ac1dc 282.5px,#a5cee3 289.5px,#c9e1ee 294.5px,#e2edf3 298.5px,#f0f4f6 302.5px,#edf2f5 307.5px,#e7eff4 309.5px,#d3e6f0 310.5px,#a2cde2 311.5px,#68b0d3 312.5px,#408fc1 313.5px,#337eb8 314.5px,#2c74b3 315.5px,#2a71b2 323.5px,#2b74b3 331.5px,#4494c3 342.5px,#5ca7ce 349.5px,#65aed2 359.5px,#64add1 575.5px,#66afd2 861px)"></div>
<div style="height:2px;background:linear-gradient(90deg,#66afd2 0px,#69b0d3 247.5px,#79b8d7 271.5px,#8cc2dc 283.5px,#a3cee3 289.5px,#c7e0ed 294.5px,#e1ecf3 298.5px,#eff3f6 302.5px,#eff3f6 306.5px,#e8f0f4 309.5px,#d8e8f1 310.5px,#abd2e5 311.5px,#73b6d6 312.5px,#4493c3 313.5px,#3581ba 314.5px,#2d76b4 315.5px,#2a72b2 317.5px,#2c74b3 331.5px,#4595c4 342.5px,#5ba6cd 348.5px,#65aed2 357.5px,#64add1 579.5px,#66afd2 861px)"></div>
<div style="height:2px;background:linear-gradient(90deg,#66afd2 0px,#69b0d3 247.5px,#78b8d7 271.5px,#8bc1dc 283.5px,#a1cde2 289.5px,#c4deec 294.5px,#dfecf3 298.5px,#eef3f5 302.5px,#eff3f5 306.5px,#e9f0f4 309.5px,#dceaf2 310.5px,#b5d7e8 311.5px,#7ebbd9 312.5px,#4b9ac7 313.5px,#3784bb 314.5px,#2e78b5 315.5px,#2a72b2 317.5px,#2c75b4 331.5px,#4695c4 342.5px,#5ba6cd 348.5px,#65aed2 357.5px,#64add1 584.5px,#66afd2 861px)"></div>
<div style="height:2px;background:linear-gradient(90deg,#66afd2 0px,#69b0d3 248.5px,#79b8d7 272.5px,#8ac1dc 283.5px,#a5cfe4 290.5px,#d8e8f1 297.5px,#edf2f5 302.5px,#eef3f5 306.5px,#e8f0f4 309.5px,#e0ecf3 310.5px,#bfdceb 311.5px,#8ac1dc 312.5px,#54a1ca 313.5px,#3a87bd 314.5px,#307ab6 315.5px,#2b74b3 316.5px,#2c75b4 331.5px,#4796c5 342.5px,#5ca7ce 348.5px,#65aed2 358.5px,#64add1 591.5px,#66afd2 861px)"></div>
<div style="height:2px;background:linear-gradient(90deg,#66afd2 0px,#69b0d3 248.5px,#79b9d7 273.5px,#8bc2dc 284.5px,#a4cee3 290.5px,#c8e0ed 295.5px,#dbeaf2 298.5px,#edf2f5 303.5px,#ebf1f5 308.5px,#e2edf3 310.5px,#c9e1ee 311.5px,#96c7df 312.5px,#5da8ce 313.5px,#3d8bbf 314.5px,#327cb7 315.5px,#2c75b4 316.5px,#2d76b4 331.5px,#4897c5 342.5px,#5da7ce 348.5px,#65afd2 358.5px,#64add1 600.5px,#66afd2 861px)"></div>
<div style="height:2px;background:linear-gradient(90deg,#66afd2 0px,#69b0d3 248.5px,#79b8d7 273.5px,#8ac1dc 284.5px,#a2cde2 290.5px,#c5dfed 295.5px,#dfecf3 299.5px,#ecf2f5 303.5px,#eaf1f5 308.5px,#e4eef4 310.5px,#d1e5f0 311.5px,#a0cce2 312.5px,#68b0d2 313.5px,#408fc1 314.5px,#347fb9 315.5px,#2d76b4 316.5px,#2c75b4 330.5px,#3c8abf 338.5px,#4e9cc8 343.5px,#5fa9cf 349.5px,#66afd2 361.5px,#66afd2 861px)"></div>
<div style="height:2px;background:linear-gradient(90deg,#66afd2 0px,#69b0d3 249.5px,#79b9d7 274.5px,#89c1dc 284.5px,#a5cfe4 291.5px,#d8e8f1 298.5px,#ebf1f5 303.5px,#ecf2f5 307.5px,#e5eff4 310.5px,#d6e7f1 311.5px,#abd1e5 312.5px,#73b6d6 313.5px,#4494c3 314.5px,#3682ba 315.5px,#2e78b5 316.5px,#2c74b3 321.5px,#2e77b5 331.5px,#4695c4 341.5px,#5ca7ce 347.5px,#65aed2 356.5px,#66afd2 861px)"></div>
<div style="height:2px;background:linear-gradient(90deg,#66afd2 0px,#69b0d3 249.5px,#79b8d7 274.5px,#88c0db 284.5px,#a4cee3 291.5px,#d6e7f1 298.5px,#eaf1f5 303.5px,#ebf1f5 307.5px,#e5eff4 310.5px,#dae9f2 311.5px,#b5d7e8 312.5px,#7fbcd9 313.5px,#4c9bc7 314.5px,#3885bc 315.5px,#3079b6 316.5px,#2c75b4 318.5px,#2e77b5 331.5px,#4796c5 341.5px,#5ca7ce 347.5px,#65aed2 356.5px,#66afd2 861px)"></div>
<div style="height:2px;background:linear-gradient(90deg,#66afd2 0px,#69b0d3 250.5px,#79b9d7 275.5px,#89c1dc 285.5px,#a1cde2 291.5px,#c5dfec 296.5px,#d9e9f2 299.5px,#ebf1f5 304.5px,#e8f0f4 309.5px,#deebf2 311.5px,#c0dceb 312.5px,#8dc3dd 313.5px,#57a3cb 314.5px,#3b89be 315.5px,#317cb7 316.5px,#2d76b4 317.5px,#2f78b5 331.5px,#4897c5 341.5px,#5da8ce 347.5px,#66afd2 357.5px,#66afd2 861px)"></div>
<div style="height:2px;background:linear-gradient(90deg,#66afd2 0px,#69b0d3 250.5px,#7ab9d7 276.5px,#88c0db 285.5px,#a5cfe3 292.5px,#d7e8f1 299.5px,#e9f1f4 304.5px,#e7f0f4 309.5px,#e1edf3 311.5px,#cbe2ee 312.5px,#9bc9e0 313.5px,#63acd1 314.5px,#3f8dc0 315.5px,#337eb8 316.5px,#2e77b5 317.5px,#2f78b5 331.5px,#4494c3 340.5px,#5ba6cd 346.5px,#65aed2 355.5px,#66afd2 861px)"></div>
<div style="height:2px;background:linear-gradient(90deg,#66afd2 0px,#69b0d3 251.5px,#7ab9d7 277.5px,#89c1dc 286.5px,#a2cde3 292.5px,#d5e7f1 299.5px,#e8f0f4 304.5px,#e7eff4 309.5px,#e2edf3 311.5px,#d4e6f1 312.5px,#a8d0e4 313.5px,#71b4d5 314.5px,#4393c3 315.5px,#3682ba 316.5px,#2f79b6 317.5px,#2e77b5 330.5px,#4191c2 339.5px,#5ca7ce 346.5px,#65aed2 355.5px,#66afd2 861px)"></div>
<div style="height:2px;background:linear-gradient(90deg,#66afd2 0px,#69b0d3 251.5px,#79b9d7 277.5px,#88c0db 286.5px,#a6cfe4 293.5px,#d8e8f1 300.5px,#e8f0f4 305.5px,#e5eef4 310.5px,#e2edf3 311.5px,#d9e9f2 312.5px,#b6d7e8 313.5px,#81bdd9 314.5px,#4e9cc8 315.5px,#3986bc 316.5px,#317bb7 317.5px,#2e77b5 321.5px,#307ab6 331.5px,#4695c4 340.5px,#5ca7ce 346.5px,#65aed2 355.5px,#66afd2 861px)"></div>
<div style="height:2px;background:linear-gradient(90deg,#66afd2 0px,#69b0d3 252.5px,#79b9d7 278.5px,#89c1dc 287.5px,#a3cee3 293.5px,#d5e7f1 300.5px,#e7eff4 305.5px,#e5eef4 310.5px,#ddebf2 312.5px,#c4deec 313.5px,#93c6de 314.5px,#5ca7ce 315.5px,#3d8bbf 316.5px,#337db8 317.5px,#2e78b5 319.5px,#307ab6 331.5px,#4796c5 340.5px,#5da8ce 346.5px,#65afd2 355.5px,#66afd2 861px)"></div>
<div style="height:2px;background:linear-gradient(90deg,#66afd2 0px,#69b0d3 252.5px,#79b9d7 279.5px,#87c0db 287.5px,#a6cfe4 294.5px,#d7e8f1 301.5px,#e7eff4 306.5px,#e2edf3 311.5px,#dfecf3 312.5px,#d0e5f0 313.5px,#a3cee3 314.5px,#6cb2d4 315.5px,#4191c2 316.5px,#3581ba 317.5px,#3079b6 318.5px,#317bb7 331.5px,#4897c5 340.5px,#5ea8ce 346.5px,#66afd2 356.5px,#66afd2 861px)"></div>
<div style="height:2px;background:linear-gradient(90deg,#66afd2 0px,#69b0d3 253.5px,#7ab9d7 280.5px,#88c0db 288.5px,#a3cde3 294.5px,#d5e7f1 301.5px,#e5eff4 306.5px,#e2edf3 311.5px,#e0ecf3 312.5px,#d7e8f1 313.5px,#b3d6e7 314.5px,#7fbbd9 315.5px,#4c9ac7 316.5px,#3885bc 317.5px,#317bb7 318.5px,#307ab6 330.5px,#4493c3 339.5px,#5ca7ce 345.5px,#65aed2 353.5px,#66afd2 861px)"></div>
<div style="height:2px;background:linear-gradient(90deg,#66afd2 0px,#69b0d3 254.5px,#7ab9d7 281.5px,#89c1dc 289.5px,#a5cfe3 295.5px,#d7e8f1 302.5px,#e5eef4 307.5px,#dfecf3 312.5px,#dbeaf2 313.5px,#c2deec 314.5px,#93c5de 315.5px,#5ba6cd 316.5px,#3c8abf 317.5px,#337eb8 318.5px,#2f79b6 321.5px,#317cb7 331.5px,#4594c4 339.5px,#5ca7ce 345.5px,#65afd2 354.5px,#66afd2 861px)"></div>
<div style="height:2px;background:linear-gradient(90deg,#66afd2 0px,#69b0d3 254.5px,#79b8d7 281.5px,#87c0db 289.5px,#a8d0e4 296.5px,#d4e6f0 302.5px,#e3eef3 307.5px,#dfecf3 312.5px,#dceaf2 313.5px,#cfe4ef 314.5px,#a4cee3 315.5px,#6db2d4 316.5px,#4191c2 317.5px,#3681ba 318.5px,#317bb7 319.5px,#327cb7 331.5px,#4595c4 339.5px,#5da8ce 345.5px,#66afd2 354.5px,#66afd2 861px)"></div>
<div style="height:2px;background:linear-gradient(90deg,#66afd2 0px,#69b0d3 255.5px,#79b8d7 282.5px,#88c0db 290.5px,#a4cee3 296.5px,#d5e7f1 303.5px,#e2edf3 308.5px,#dceaf2 313.5px,#d5e7f1 314.5px,#b4d6e8 315.5px,#82bdda 316.5px,#4e9cc8 317.5px,#3986bc 318.5px,#327db8 319.5px,#327db8 331.5px,#4696c4 339.5px,#5da8ce 345.5px,#66afd2 354.5px,#66afd2 861px)"></div>
<div style="height:2px;background:linear-gradient(90deg,#66afd2 0px,#69b0d3 256.5px,#79b8d7 283.5px,#89c1dc 291.5px,#a6cfe4 297.5px,#d2e5f0 303.5px,#e1ecf3 308.5px,#deebf2 312.5px,#d8e8f1 314.5px,#c3deec 315.5px,#96c7df 316.5px,#5fa9cf 317.5px,#3e8cbf 318.5px,#3480b9 319.5px,#317bb7 323.5px,#327db8 331.5px,#4796c5 339.5px,#5ea9cf 345.5px,#66afd2 354.5px,#66afd2 861px)"></div>
<div style="height:2px;background:linear-gradient(90deg,#66afd2 0px,#69b0d3 257.5px,#79b8d7 284.5px,#87bfdb 291.5px,#a8d0e4 298.5px,#d3e6f0 304.5px,#dfecf3 309.5px,#dbeaf2 313.5px,#d8e8f1 314.5px,#cee3ef 315.5px,#a8d0e4 316.5px,#73b5d5 317.5px,#4594c4 318.5px,#3783bb 319.5px,#327cb7 321.5px,#337eb8 331.5px,#4393c3 338.5px,#5ca7ce 344.5px,#65aed2 352.5px,#66afd2 861px)"></div>
<div style="height:2px;background:linear-gradient(90deg,#66afd2 0px,#69b0d3 258.5px,#79b8d7 285.5px,#88c0db 292.5px,#abd1e5 299.5px,#d4e6f1 305.5px,#deebf2 310.5px,#d7e8f1 314.5px,#d2e6f0 315.5px,#b7d8e9 316.5px,#89c0db 317.5px,#54a0ca 318.5px,#3b89be 319.5px,#347fb9 320.5px,#327db8 330.5px,#4190c2 337.5px,#5da8ce 344.5px,#65afd2 352.5px,#66afd2 861px)"></div>
<div style="height:2px;background:linear-gradient(90deg,#66afd2 0px,#69b0d3 259.5px,#78b8d7 286.5px,#88c0db 293.5px,#add2e6 300.5px,#d0e5f0 305.5px,#dceaf2 310.5px,#d7e8f1 314.5px,#d3e6f0 315.5px,#c3deec 316.5px,#9ccae1 317.5px,#66afd2 318.5px,#408fc1 319.5px,#3682bb 320.5px,#337db8 323.5px,#347fb9 331.5px,#4595c4 338.5px,#5ba6cd 343.5px,#65aed2 350.5px,#66afd2 861px)"></div>
<div style="height:2px;background:linear-gradient(90deg,#66afd2 0px,#69b0d3 260.5px,#78b8d7 287.5px,#89c1dc 294.5px,#aed3e6 301.5px,#d1e5f0 306.5px,#dbeaf2 311.5px,#d3e6f0 315.5px,#cae2ee 316.5px,#acd2e5 317.5px,#7bbad8 318.5px,#4b9ac7 319.5px,#3a87bd 320.5px,#347fb9 322.5px,#3580b9 331.5px,#4695c4 338.5px,#5ba7cd 343.5px,#65aed2 350.5px,#66afd2 861px)"></div>
<div style="height:2px;background:linear-gradient(90deg,#66afd2 0px,#69b0d3 261.5px,#77b8d7 287.5px,#86bfdb 294.5px,#aad1e5 301.5px,#d1e5f0 307.5px,#d9e9f1 312.5px,#d2e6f0 315.5px,#cce2ef 316.5px,#b8d8e9 317.5px,#90c4de 318.5px,#5da7ce 319.5px,#3e8dc0 320.5px,#3783bb 321.5px,#347fb9 327.5px,#3783bb 332.5px,#4796c5 338.5px,#5ca7ce 343.5px,#65afd2 351.5px,#66afd2 861px)"></div>
<div style="height:2px;background:linear-gradient(90deg,#66afd2 0px,#69b0d3 262.5px,#77b7d7 288.5px,#87c0db 295.5px,#abd2e5 302.5px,#d0e5f0 308.5px,#d6e7f1 313.5px,#d2e5f0 315.5px,#cce2ef 316.5px,#c0dceb 317.5px,#a0cce2 318.5px,#70b4d5 319.5px,#4695c4 320.5px,#3a87bd 321.5px,#3580b9 324.5px,#3783bb 332.5px,#4393c3 337.5px,#5da8ce 343.5px,#66afd2 351.5px,#66afd2 861px)"></div>
<div style="height:2px;background:linear-gradient(90deg,#66afd2 0px,#69b0d3 263.5px,#77b7d7 289.5px,#88c0db 296.5px,#acd2e6 303.5px,#d0e4f0 309.5px,#d4e7f1 313.5px,#d1e5f0 315.5px,#c3deec 317.5px,#add3e6 318.5px,#84beda 319.5px,#55a1cb 320.5px,#3d8cbf 321.5px,#3682ba 323.5px,#3782bb 331.5px,#4494c3 337.5px,#5ba6cd 342.5px,#65aed2 349.5px,#66afd2 861px)"></div>
<div style="height:2px;background:linear-gradient(90deg,#66afd2 0px,#69b0d3 264.5px,#77b7d7 290.5px,#85beda 296.5px,#aed3e6 304.5px,#cfe4ef 310.5px,#d2e5f0 314.5px,#c3deec 317.5px,#b6d7e8 318.5px,#96c7df 319.5px,#66aed2 320.5px,#4392c3 321.5px,#3a87bd 322.5px,#3682ba 326.5px,#3985bc 332.5px,#4595c4 337.5px,#5ca7ce 342.5px,#65aed2 349.5px,#66afd2 861px)"></div>
<div style="height:2px;background:linear-gradient(90deg,#66afd2 0px,#69b0d3 265.5px,#75b7d6 290.5px,#85bfdb 297.5px,#afd4e6 305.5px,#cae1ee 310.5px,#cfe4f0 314.5px,#c2deec 317.5px,#bad9e9 318.5px,#a2cde3 319.5px,#79b8d7 320.5px,#4f9cc8 321.5px,#3d8cbf 322.5px,#3884bb 324.5px,#3986bd 332.5px,#4796c5 337.5px,#5ca7ce 342.5px,#65aed2 349.5px,#66afd2 861px)"></div>
<div style="height:2px;background:linear-gradient(90deg,#66afd2 0px,#69b0d3 266.5px,#75b6d6 291.5px,#86bfdb 298.5px,#c8e0ed 311.5px,#cce3ef 314.5px,#c2ddec 317.5px,#bad9e9 318.5px,#abd2e5 319.5px,#8ac1dc 320.5px,#5ea9cf 321.5px,#4191c2 322.5px,#3986bc 324.5px,#3a87bd 332.5px,#4393c3 336.5px,#5da8ce 342.5px,#66afd2 350.5px,#66afd2 861px)"></div>
<div style="height:2px;background:linear-gradient(90deg,#66afd2 0px,#69b0d3 268.5px,#75b6d6 292.5px,#83bdda 298.5px,#c3deec 311.5px,#c8e0ed 315.5px,#b9d9e9 318.5px,#b0d4e7 319.5px,#98c8e0 320.5px,#6eb3d4 321.5px,#4b99c6 322.5px,#3e8cc0 323.5px,#3986bc 326.5px,#3b88be 332.5px,#4494c4 336.5px,#5ea9cf 342.5px,#66afd2 350.5px,#66afd2 861px)"></div>
<div style="height:2px;background:linear-gradient(90deg,#66afd2 0px,#69b0d3 269.5px,#74b6d6 293.5px,#83beda 299.5px,#c1ddeb 312.5px,#c5dfec 315.5px,#b9d9e9 318.5px,#b1d5e7 319.5px,#a0cce2 320.5px,#7ebbd9 321.5px,#57a3cc 322.5px,#4191c2 323.5px,#3b88bd 325.5px,#3c8abe 332.5px,#4695c4 336.5px,#5fa9cf 342.5px,#66afd2 351.5px,#66afd2 861px)"></div>
<div style="height:2px;background:linear-gradient(90deg,#66afd2 0px,#69b0d3 271.5px,#73b5d5 293.5px,#84beda 300.5px,#bcdbea 312.5px,#c1ddeb 315.5px,#b7d8e9 318.5px,#a6cfe4 320.5px,#8cc2dc 321.5px,#65aed1 322.5px,#4897c5 323.5px,#3f8dc0 324.5px,#3b88be 328.5px,#3e8dc0 333.5px,#4897c5 336.5px,#5da8ce 341.5px,#65afd2 348.5px,#66afd2 861px)"></div>
<div style="height:2px;background:linear-gradient(90deg,#66afd2 0px,#69b0d3 272.5px,#73b5d5 294.5px,#84beda 301.5px,#b7d8e9 312.5px,#bddbea 316.5px,#afd4e6 319.5px,#a7d0e4 320.5px,#96c7df 321.5px,#529fca 323.5px,#4291c2 324.5px,#3c8abf 326.5px,#3e8cbf 332.5px,#4998c6 336.5px,#5ea8ce 341.5px,#66afd2 349.5px,#66afd2 861px)"></div>
<div style="height:2px;background:linear-gradient(90deg,#66afd2 0px,#69b0d3 274.5px,#72b5d5 295.5px,#85beda 302.5px,#b5d7e8 313.5px,#b9d9e9 316.5px,#add3e6 319.5px,#9ac9e0 321.5px,#5da8ce 323.5px,#4796c5 324.5px,#408fc1 325.5px,#3e8cbf 331.5px,#4595c4 335.5px,#5ea8ce 341.5px,#66afd2 349.5px,#66afd2 861px)"></div>
<div style="height:2px;background:linear-gradient(90deg,#66afd2 0px,#69b0d3 276.5px,#72b5d5 296.5px,#85beda 303.5px,#b0d4e7 313.5px,#b3d6e8 317.5px,#a4cee3 320.5px,#9ccae1 321.5px,#87c0db 322.5px,#68b0d2 323.5px,#4f9dc8 324.5px,#4292c2 325.5px,#3e8dc0 329.5px,#4292c3 334.5px,#5ea8cf 341.5px,#66afd2 349.5px,#66afd2 861px)"></div>
<div style="height:2px;background:linear-gradient(90deg,#66afd2 0px,#69b0d3 279.5px,#72b5d5 297.5px,#85beda 304.5px,#abd2e5 313.5px,#afd4e6 317.5px,#a2cde3 320.5px,#9bcae1 321.5px,#8ec3dd 322.5px,#58a4cc 324.5px,#4897c5 325.5px,#408fc1 327.5px,#4191c2 333.5px,#60aacf 342.5px,#66afd2 352.5px,#66afd2 861px)"></div>
<div style="height:2px;background:linear-gradient(90deg,#66afd2 0px,#69b0d3 282.5px,#71b5d5 298.5px,#85beda 305.5px,#a8d0e4 314.5px,#abd2e5 317.5px,#a0cce2 320.5px,#90c4de 322.5px,#61abd0 324.5px,#4f9cc8 325.5px,#4494c3 326.5px,#4190c1 331.5px,#4897c5 335.5px,#60aad0 342.5px,#66afd2 353.5px,#66afd2 861px)"></div>
<div style="height:2px;background:linear-gradient(90deg,#66afd2 0px,#69b0d3 285.5px,#71b4d5 299.5px,#84beda 306.5px,#a2cde3 314.5px,#a5cfe3 318.5px,#97c7df 321.5px,#90c4dd 322.5px,#80bcd9 323.5px,#56a2cb 325.5px,#4998c6 326.5px,#4292c2 328.5px,#4393c3 333.5px,#60aad0 342.5px,#66afd2 353.5px,#66afd2 861px)"></div>
<div style="height:2px;background:linear-gradient(90deg,#66afd2 0px,#69b0d3 289.5px,#72b5d5 301.5px,#87c0db 308.5px,#9fcbe2 315.5px,#a0cce2 318.5px,#94c6df 321.5px,#83beda 323.5px,#5da8ce 325.5px,#4f9dc8 326.5px,#4494c3 328.5px,#4695c4 333.5px,#60abd0 342.5px,#66afd2 354.5px,#66afd2 861px)"></div>
<div style="height:2px;background:linear-gradient(90deg,#66afd2 0px,#69b0d3 293.5px,#73b6d6 303.5px,#99c8e0 315.5px,#99c9e0 319.5px,#83bdda 323.5px,#64add1 325.5px,#55a1cb 326.5px,#4c9ac7 327.5px,#4695c4 330.5px,#4d9bc7 335.5px,#62acd0 343.5px,#66afd2 364.5px,#66afd2 861px)"></div>
<div style="height:2px;background:linear-gradient(90deg,#66afd2 0px,#69b0d3 295.5px,#74b6d6 305.5px,#94c6df 316.5px,#94c6df 319.5px,#80bcd9 323.5px,#78b8d7 324.5px,#5ba6cd 326.5px,#519ec9 327.5px,#4998c6 329.5px,#4c9bc7 334.5px,#62acd0 343.5px,#66afd2 367.5px,#66afd2 861px)"></div>
<div style="height:2px;background:linear-gradient(90deg,#66afd2 0px,#69b0d3 298.5px,#75b7d6 307.5px,#8fc3dd 317.5px,#8cc2dc 320.5px,#78b8d7 324.5px,#56a2cb 327.5px,#4d9bc7 329.5px,#4f9dc8 334.5px,#64add1 344.5px,#66afd2 861px)"></div>
<div style="height:2px;background:linear-gradient(90deg,#66afd2 0px,#69b0d3 300.5px,#78b8d7 310.5px,#88c0db 318.5px,#82bdda 321.5px,#70b4d5 325.5px,#55a1cb 328.5px,#509dc9 332.5px,#64aed1 345.5px,#66afd2 861px)"></div>
<div style="height:2px;background:linear-gradient(90deg,#66afd2 0px,#68b0d3 301.5px,#77b8d7 312.5px,#81bcd9 319.5px,#70b4d5 325.5px,#5aa5cd 328.5px,#54a1ca 332.5px,#65aed2 346.5px,#66afd2 861px)"></div>
<div style="height:2px;background:linear-gradient(90deg,#66afd2 0px,#69b0d3 303.5px,#7ab9d8 319.5px,#6bb1d3 326.5px,#5ba6cd 329.5px,#5aa6cd 335.5px,#66afd2 347.5px,#66afd2 861px)"></div>
<div style="height:2px;background:linear-gradient(90deg,#66afd2 0px,#69b0d3 305.5px,#73b6d6 320.5px,#66afd2 327.5px,#5da8ce 330.5px,#66afd2 353.5px,#66afd2 861px)"></div>
<div style="height:2px;background:linear-gradient(90deg,#66afd2 0px,#68b0d3 308.5px,#6bb2d3 322.5px,#61abd0 332.5px,#66afd2 366.5px,#66afd2 861px)"></div>
<div style="height:11px;background:linear-gradient(90deg,#66afd2 0px,#66afd2 861px)"></div>
</div>
<div class="hm" style="left:1247px;top:95px;width:299px;height:825px;background:linear-gradient(90deg,#f7e0d2 0.5px,#f7dbcc 53.5px,#f8d4c4 103.5px,#f7cab7 153.5px,#f3bda7 183.5px,#f0ac93 201.5px,#ec9e84 213.5px,#e68c73 225.5px,#d76656 237.5px,#c43c40 243.5px,#af1e30 248.5px,#8c0a25 253.5px,#700220 258.5px,#6a001f 265.5px,#68001f 299.5px)"><div style="height:825px;background:linear-gradient(90deg,#f5e4da 0.5px,#f6e3d9 71.5px,#f7dccf 83.5px,#f8d7c7 118.5px,#f7ccb8 133.5px,#f6c4af 154.5px,#f2b69f 166.5px,#eda58c 189.5px,#e78f74 201.5px,#e28068 213.5px,#db6e5a 219.5px,#d25c4e 231.5px,#c23a3f 237.5px,#b22332 243.5px,#960f28 248.5px,#780421 253.5px,#6a001f 259.5px,#68001f 299.5px);-webkit-mask-image:linear-gradient(180deg,#000 6%,transparent 94%);mask-image:linear-gradient(180deg,#000 6%,transparent 94%)"></div></div>
<div class="hm" style="left:1546px;top:95px;width:561px;height:825px">
<div style="height:2px;background:linear-gradient(90deg,#69001f 0px,#69001f 6.5px,#053061 7.5px,#063163 35.5px,#0a3b70 41.5px,#2165ab 51.5px,#4190c2 74.5px,#68b0d2 103.5px,#9fcce2 195.5px,#a1cde2 201.5px,#8fc4dd 204.5px,#82bdda 207.5px,#7bbad8 561px)"></div>
<div style="height:2px;background:linear-gradient(90deg,#69001f 0px,#69001f 6.5px,#053061 7.5px,#063163 35.5px,#0a3b70 41.5px,#2165ab 51.5px,#4190c2 74.5px,#68b0d2 103.5px,#9fcce2 195.5px,#a1cde2 201.5px,#90c4de 204.5px,#82bdda 207.5px,#7bbad8 561px)"></div>
<div style="height:2px;background:linear-gradient(90deg,#69001f 0px,#69001f 6.5px,#053061 7.5px,#063163 35.5px,#0a3b70 41.5px,#2165ab 51.5px,#4190c2 74.5px,#68b0d2 103.5px,#9fcce2 195.5px,#a2cde2 201.5px,#91c5de 204.5px,#85beda 206.5px,#80bcd9 212.5px,#7bbad8 561px)"></div>
<div style="height:2px;background:linear-gradient(90deg,#69001f 0px,#69001f 6.5px,#053061 7.5px,#063163 35.5px,#0a3b70 41.5px,#2165ab 51.5px,#4190c2 74.5px,#68b0d2 103.5px,#a0cce2 196.5px,#a2cde3 201.5px,#9ac9e0 203.5px,#85bfdb 206.5px,#80bcd9 211.5px,#7bbad8 561px)"></div>
<div style="height:2px;background:linear-gradient(90deg,#69001f 0px,#69001f 6.5px,#053061 7.5px,#063163 35.5px,#0a3a70 41.5px,#2165ab 51.5px,#4190c2 74.5px,#68b0d2 103.5px,#a0cce2 196.5px,#a2cde3 201.5px,#9bcae1 203.5px,#86bfdb 206.5px,#80bcd9 210.5px,#7bbad8 561px)"></div>
<div style="height:2px;background:linear-gradient(90deg,#69001f 0px,#69001f 6.5px,#053061 7.5px,#063163 35.5px,#0a3a70 41.5px,#2165ab 51.5px,#4190c2 74.5px,#68b0d2 103.5px,#a0cce2 196.5px,#a2cde3 201.5px,#9ccae1 203.5px,#87bfdb 206.5px,#80bcd9 210.5px,#7bbad8 561px)"></div>
<div style="height:2px;background:linear-gradient(90deg,#69001f 0px,#69001f 6.5px,#053061 7.5px,#063163 35.5px,#0a3a6f 41.5px,#2065ab 51.5px,#4190c1 74.5px,#68b0d2 103.5px,#a0cce2 196.5px,#a1cde2 202.5px,#83beda 207.5px,#80bcd9 220.5px,#7bbad8 561px)"></div>
<div style="height:2px;background:linear-gradient(90deg,#69001f 0px,#69001f 6.5px,#053061 7.5px,#063163 35.5px,#0c3e75 42.5px,#2065ab 51.5px,#4190c1 74.5px,#68b0d2 103.5px,#a0cce2 197.5px,#a1cde2 202.5px,#8fc4dd 205.5px,#82bdda 208.5px,#7bbad8 561px)"></div>
<div style="height:2px;background:linear-gradient(90deg,#69001f 0px,#69001f 6.5px,#053061 7.5px,#063163 35.5px,#0c3e74 42.5px,#2065aa 51.5px,#4190c1 74.5px,#68b0d2 103.5px,#a0cce2 197.5px,#a2cde2 202.5px,#98c8e0 204.5px,#84beda 207.5px,#80bcd9 214.5px,#7bbad8 561px)"></div>
<div style="height:2px;background:linear-gradient(90deg,#69001f 0px,#69001f 6.5px,#053061 7.5px,#063163 35.5px,#0c3e74 42.5px,#2065aa 51.5px,#4190c1 74.5px,#68b0d2 103.5px,#a0cce2 197.5px,#a2cde3 202.5px,#99c9e0 204.5px,#85beda 207.5px,#80bcd9 213.5px,#7bbad8 561px)"></div>
<div style="height:2px;background:linear-gradient(90deg,#69001f 0px,#69001f 6.5px,#053061 7.5px,#063163 35.5px,#0c3e74 42.5px,#2065aa 51.5px,#4190c1 74.5px,#68b0d2 103.5px,#a0cce2 197.5px,#a2cde3 202.5px,#9ac9e0 204.5px,#86bfdb 207.5px,#80bcd9 212.5px,#7bbad8 561px)"></div>
<div style="height:2px;background:linear-gradient(90deg,#69001f 0px,#69001f 6.5px,#053061 7.5px,#063162 35.5px,#0c3e74 42.5px,#2065aa 51.5px,#4190c1 74.5px,#68b0d2 103.5px,#a1cde2 198.5px,#a0cce2 203.5px,#83bdda 208.5px,#80bcd9 261.5px,#7bbad8 561px)"></div>
<div style="height:2px;background:linear-gradient(90deg,#69001f 0px,#69001f 6.5px,#053061 7.5px,#063162 35.5px,#0c3e74 42.5px,#2065aa 51.5px,#4190c1 74.5px,#68b0d2 103.5px,#a1cce2 198.5px,#a1cde2 203.5px,#83beda 208.5px,#80bcd9 226.5px,#7bbad8 561px)"></div>
<div style="height:2px;background:linear-gradient(90deg,#69001f 0px,#69001f 6.5px,#053061 7.5px,#063162 35.5px,#0c3e74 42.5px,#2065aa 51.5px,#4190c1 74.5px,#68b0d2 103.5px,#a1cce2 198.5px,#a1cde2 203.5px,#8fc3dd 206.5px,#81bdd9 209.5px,#7bbad8 561px)"></div>
<div style="height:2px;background:linear-gradient(90deg,#69001f 0px,#69001f 6.5px,#053061 7.5px,#063162 35.5px,#0c3e74 42.5px,#2064aa 51.5px,#4190c1 74.5px,#64add1 99.5px,#a2cde2 203.5px,#98c8e0 205.5px,#84beda 208.5px,#80bcd9 216.5px,#7bbad8 561px)"></div>
<div style="height:2px;background:linear-gradient(90deg,#69001f 0px,#69001f 6.5px,#053061 7.5px,#063162 35.5px,#0c3e74 42.5px,#2064aa 51.5px,#4190c1 74.5px,#62acd0 98.5px,#8ac1dc 164.5px,#a2cde3 203.5px,#99c9e0 205.5px,#85beda 208.5px,#80bcd9 214.5px,#7bbad8 561px)"></div>
<div style="height:2px;background:linear-gradient(90deg,#69001f 0px,#69001f 6.5px,#053061 7.5px,#053162 35.5px,#0c3d74 42.5px,#2064aa 51.5px,#4190c1 74.5px,#62acd0 98.5px,#8ac1dc 164.5px,#a2cde3 203.5px,#9ac9e0 205.5px,#85bfdb 208.5px,#80bcd9 213.5px,#7bbad8 561px)"></div>
<div style="height:2px;background:linear-gradient(90deg,#69001f 0px,#69001f 6.5px,#053061 7.5px,#053162 35.5px,#0c3d74 42.5px,#2064aa 51.5px,#4191c2 75.5px,#68b0d2 103.5px,#a1cde2 199.5px,#a0cce2 204.5px,#86bfdb 208.5px,#80bcd9 212.5px,#7bbad8 561px)"></div>
<div style="height:2px;background:linear-gradient(90deg,#69001f 0px,#69001f 6.5px,#053061 7.5px,#053162 35.5px,#0c3d73 42.5px,#2064a9 51.5px,#4191c2 75.5px,#68b0d2 103.5px,#a2cde2 200.5px,#a1cde2 204.5px,#83bdda 209.5px,#80bcd9 231.5px,#7bbad8 561px)"></div>
<div style="height:2px;background:linear-gradient(90deg,#69001f 0px,#69001f 6.5px,#053061 7.5px,#053162 35.5px,#0c3d73 42.5px,#2064a9 51.5px,#4191c2 75.5px,#68b0d2 103.5px,#a2cde2 200.5px,#a1cde2 204.5px,#97c7df 206.5px,#83beda 209.5px,#80bcd9 221.5px,#7bbad8 561px)"></div>
<div style="height:2px;background:linear-gradient(90deg,#69001f 0px,#69001f 6.5px,#053061 7.5px,#053162 35.5px,#0c3d73 42.5px,#2267ad 52.5px,#4191c2 75.5px,#68b0d2 103.5px,#a1cde2 200.5px,#a2cde2 204.5px,#98c8e0 206.5px,#84beda 209.5px,#80bcd9 217.5px,#7bbad8 561px)"></div>
<div style="height:2px;background:linear-gradient(90deg,#69001f 0px,#69001f 6.5px,#053061 7.5px,#053162 35.5px,#0c3d73 42.5px,#2267ad 52.5px,#4191c2 75.5px,#68b0d2 103.5px,#a2cde3 201.5px,#9fcce2 205.5px,#85beda 209.5px,#80bcd9 215.5px,#7bbad8 561px)"></div>
<div style="height:2px;background:linear-gradient(90deg,#69001f 0px,#69001f 6.5px,#053061 7.5px,#053162 35.5px,#0c3d73 42.5px,#2267ac 52.5px,#4191c2 75.5px,#68b0d2 103.5px,#a2cde3 201.5px,#a0cce2 205.5px,#85bfdb 209.5px,#80bcd9 214.5px,#7bbad8 561px)"></div>
<div style="height:2px;background:linear-gradient(90deg,#69001f 0px,#69001f 6.5px,#053061 7.5px,#053162 35.5px,#0c3d73 42.5px,#2267ac 52.5px,#4191c2 75.5px,#68b0d2 103.5px,#a3cde3 204.5px,#9ccae1 206.5px,#86bfdb 209.5px,#80bcd9 213.5px,#7bbad8 561px)"></div>
<div style="height:2px;background:linear-gradient(90deg,#69001f 0px,#69001f 6.5px,#053061 7.5px,#053162 35.5px,#0c3d73 42.5px,#2267ac 52.5px,#4191c2 75.5px,#67b0d2 103.5px,#a3cee3 204.5px,#9dcbe1 206.5px,#87bfdb 209.5px,#80bcd9 213.5px,#7bbad8 561px)"></div>
<div style="height:2px;background:linear-gradient(90deg,#69001f 0px,#69001f 6.5px,#053061 7.5px,#053162 35.5px,#0c3d73 42.5px,#2267ac 52.5px,#4191c2 75.5px,#67b0d2 103.5px,#a3cee3 204.5px,#9ecbe1 206.5px,#83beda 210.5px,#80bcd9 221.5px,#7bbad8 561px)"></div>
<div style="height:2px;background:linear-gradient(90deg,#69001f 0px,#69001f 6.5px,#053061 7.5px,#053162 35.5px,#0c3d73 42.5px,#2267ac 52.5px,#4191c2 75.5px,#67b0d2 103.5px,#a2cde3 205.5px,#98c8e0 207.5px,#84beda 210.5px,#80bcd9 217.5px,#7bbad8 561px)"></div>
<div style="height:2px;background:linear-gradient(90deg,#69001f 0px,#69001f 6.5px,#053061 7.5px,#053162 35.5px,#0c3d72 42.5px,#2267ac 52.5px,#4191c2 75.5px,#67b0d2 103.5px,#a2cde3 205.5px,#9ac9e0 207.5px,#85beda 210.5px,#80bcd9 215.5px,#7bbad8 561px)"></div>
<div style="height:2px;background:linear-gradient(90deg,#69001f 0px,#69001f 6.5px,#053061 7.5px,#053162 35.5px,#0b3c72 42.5px,#2267ac 52.5px,#4191c2 75.5px,#67b0d2 103.5px,#a3cde3 205.5px,#9bcae1 207.5px,#85bfdb 210.5px,#80bcd9 214.5px,#7bbad8 561px)"></div>
<div style="height:2px;background:linear-gradient(90deg,#69001f 0px,#69001f 6.5px,#053061 7.5px,#053162 35.5px,#0b3c72 42.5px,#2267ac 52.5px,#4191c2 75.5px,#67b0d2 103.5px,#a3cee3 205.5px,#9ccae1 207.5px,#86bfdb 210.5px,#80bcd9 214.5px,#7bbad8 561px)"></div>
<div style="height:2px;background:linear-gradient(90deg,#69001f 0px,#69001f 6.5px,#053061 7.5px,#053162 35.5px,#0b3c72 42.5px,#2267ac 52.5px,#4191c2 75.5px,#67b0d2 103.5px,#a3cee3 205.5px,#9dcbe1 207.5px,#87bfdb 210.5px,#80bcd9 213.5px,#7bbad8 561px)"></div>
<div style="height:2px;background:linear-gradient(90deg,#69001f 0px,#69001f 6.5px,#053061 7.5px,#053062 35.5px,#0b3c72 42.5px,#2167ac 52.5px,#4191c2 75.5px,#67b0d2 103.5px,#a2cde3 206.5px,#98c8e0 208.5px,#83beda 211.5px,#80bcd9 220.5px,#7bbad8 561px)"></div>
<div style="height:2px;background:linear-gradient(90deg,#69001f 0px,#69001f 6.5px,#053061 7.5px,#053062 35.5px,#0b3c72 42.5px,#2167ac 52.5px,#4191c2 75.5px,#68b0d3 104.5px,#a2cde3 203.5px,#9fcce2 207.5px,#84beda 211.5px,#80bcd9 217.5px,#7bbad8 561px)"></div>
<div style="height:2px;background:linear-gradient(90deg,#69001f 0px,#69001f 6.5px,#053061 7.5px,#053062 35.5px,#0b3c72 42.5px,#2167ac 52.5px,#4191c2 75.5px,#68b0d3 104.5px,#a2cde3 203.5px,#a0cce2 207.5px,#85beda 211.5px,#80bcd9 216.5px,#7bbad8 561px)"></div>
<div style="height:2px;background:linear-gradient(90deg,#69001f 0px,#69001f 6.5px,#053061 7.5px,#053062 35.5px,#0b3c72 42.5px,#2166ac 52.5px,#4190c2 75.5px,#68b0d3 104.5px,#a2cde3 203.5px,#a1cce2 207.5px,#85bfdb 211.5px,#80bcd9 215.5px,#7bbad8 561px)"></div>
<div style="height:2px;background:linear-gradient(90deg,#69001f 0px,#69001f 6.5px,#053061 7.5px,#063264 36.5px,#0b3c71 42.5px,#2166ac 52.5px,#4190c2 75.5px,#68b0d3 104.5px,#a2cde3 203.5px,#a1cde2 207.5px,#82bdda 212.5px,#7bbad8 561px)"></div>
<div style="height:2px;background:linear-gradient(90deg,#69001f 0px,#69001f 6.5px,#053061 7.5px,#063264 36.5px,#0b3c71 42.5px,#2166ac 52.5px,#4190c2 75.5px,#68b0d3 104.5px,#a2cde3 203.5px,#a2cde2 207.5px,#97c7df 209.5px,#83bdda 212.5px,#80bcd9 228.5px,#7bbad8 561px)"></div>
<div style="height:2px;background:linear-gradient(90deg,#69001f 0px,#69001f 6.5px,#053061 7.5px,#063264 36.5px,#0b3c71 42.5px,#2166ac 52.5px,#4190c2 75.5px,#68b0d3 104.5px,#a2cde3 203.5px,#a2cde3 207.5px,#98c8e0 209.5px,#83beda 212.5px,#80bcd9 220.5px,#7bbad8 561px)"></div>
<div style="height:2px;background:linear-gradient(90deg,#69001f 0px,#69001f 6.5px,#053061 7.5px,#063263 36.5px,#0b3b71 42.5px,#2166ac 52.5px,#4190c2 75.5px,#68b0d3 104.5px,#a3cde3 204.5px,#a0cce2 208.5px,#84beda 212.5px,#80bcd9 218.5px,#7bbad8 561px)"></div>
<div style="height:2px;background:linear-gradient(90deg,#69001f 0px,#69001f 6.5px,#053061 7.5px,#063263 36.5px,#0b3b71 42.5px,#2166ac 52.5px,#4190c2 75.5px,#68b0d3 104.5px,#a2cde3 204.5px,#a0cce2 208.5px,#85beda 212.5px,#80bcd9 216.5px,#7bbad8 561px)"></div>
<div style="height:2px;background:linear-gradient(90deg,#69001f 0px,#69001f 6.5px,#053061 7.5px,#063263 36.5px,#0b3b71 42.5px,#2166ac 52.5px,#4190c2 75.5px,#68b0d3 104.5px,#a2cde3 204.5px,#a1cde2 208.5px,#86bfdb 212.5px,#80bcd9 216.5px,#7bbad8 561px)"></div>
<div style="height:2px;background:linear-gradient(90deg,#69001f 0px,#69001f 6.5px,#053061 7.5px,#063263 36.5px,#0b3b71 42.5px,#2166ac 52.5px,#4190c2 75.5px,#68b0d3 104.5px,#a2cde3 204.5px,#a2cde2 208.5px,#96c7df 210.5px,#86bfdb 212.5px,#80bcd9 215.5px,#7bbad8 561px)"></div>
<div style="height:2px;background:linear-gradient(90deg,#69001f 0px,#69001f 6.5px,#053061 7.5px,#063263 36.5px,#0b3b70 42.5px,#2166ac 52.5px,#4190c2 75.5px,#68b0d3 104.5px,#a2cde3 204.5px,#a2cde3 208.5px,#97c8e0 210.5px,#83bdda 213.5px,#80bcd9 225.5px,#7bbad8 561px)"></div>
<div style="height:2px;background:linear-gradient(90deg,#69001f 0px,#69001f 6.5px,#053061 7.5px,#063263 36.5px,#0b3b70 42.5px,#2166ac 52.5px,#4190c2 75.5px,#68b0d2 104.5px,#a2cde3 204.5px,#a2cde3 208.5px,#99c9e0 210.5px,#83beda 213.5px,#80bcd9 220.5px,#7bbad8 561px)"></div>
<div style="height:2px;background:linear-gradient(90deg,#69001f 0px,#69001f 6.5px,#053061 7.5px,#063263 36.5px,#0b3b70 42.5px,#2166ac 52.5px,#4190c2 75.5px,#68b0d2 104.5px,#a2cde2 204.5px,#a3cee3 208.5px,#9ac9e0 210.5px,#84beda 213.5px,#80bcd9 218.5px,#7bbad8 561px)"></div>
<div style="height:2px;background:linear-gradient(90deg,#69001f 0px,#69001f 6.5px,#053061 7.5px,#063263 36.5px,#0b3b70 42.5px,#2166ac 52.5px,#4190c2 75.5px,#68b0d2 104.5px,#a2cde3 205.5px,#a1cde2 209.5px,#85beda 213.5px,#80bcd9 217.5px,#7bbad8 561px)"></div>
<div style="height:2px;background:linear-gradient(90deg,#69001f 0px,#69001f 6.5px,#053061 7.5px,#063163 36.5px,#0b3b70 42.5px,#2166ac 52.5px,#4190c2 75.5px,#68b0d2 104.5px,#a2cde3 205.5px,#a1cde2 209.5px,#95c7df 211.5px,#86bfdb 213.5px,#80bcd9 217.5px,#7bbad8 561px)"></div>
<div style="height:2px;background:linear-gradient(90deg,#69001f 0px,#69001f 6.5px,#053061 7.5px,#063163 36.5px,#0b3b70 42.5px,#2166ac 52.5px,#4190c2 75.5px,#68b0d2 104.5px,#a2cde3 205.5px,#a2cde3 209.5px,#97c7df 211.5px,#87bfdb 213.5px,#80bcd9 216.5px,#7bbad8 561px)"></div>
<div style="height:2px;background:linear-gradient(90deg,#69001f 0px,#69001f 6.5px,#053061 7.5px,#063163 36.5px,#0b3b70 42.5px,#2166ab 52.5px,#4190c2 75.5px,#68b0d2 104.5px,#a2cde3 205.5px,#a2cde3 209.5px,#98c8e0 211.5px,#83bdda 214.5px,#80bcd9 222.5px,#7bbad8 561px)"></div>
<div style="height:2px;background:linear-gradient(90deg,#69001f 0px,#69001f 6.5px,#053061 7.5px,#063163 36.5px,#0a3b70 42.5px,#2165ab 52.5px,#4190c2 75.5px,#68b0d2 104.5px,#a2cde3 205.5px,#a3cee3 209.5px,#9ac9e0 211.5px,#84beda 214.5px,#80bcd9 219.5px,#7bbad8 561px)"></div>
<div style="height:2px;background:linear-gradient(90deg,#69001f 0px,#69001f 6.5px,#053061 7.5px,#063163 36.5px,#0a3b70 42.5px,#2165ab 52.5px,#4190c2 75.5px,#68b0d2 104.5px,#a2cde2 205.5px,#a3cee3 209.5px,#9bcae1 211.5px,#84beda 214.5px,#80bcd9 218.5px,#7bbad8 561px)"></div>
<div style="height:2px;background:linear-gradient(90deg,#69001f 0px,#69001f 6.5px,#053061 7.5px,#063163 36.5px,#0a3b70 42.5px,#2165ab 52.5px,#4190c2 75.5px,#68b0d2 104.5px,#a2cde3 206.5px,#a1cde2 210.5px,#95c6df 212.5px,#85bfda 214.5px,#80bcd9 218.5px,#7bbad8 561px)"></div>
<div style="height:2px;background:linear-gradient(90deg,#69001f 0px,#69001f 6.5px,#053061 7.5px,#063163 36.5px,#0a3a70 42.5px,#2065ab 52.5px,#4190c2 75.5px,#68b0d2 104.5px,#a2cde3 206.5px,#a2cde3 210.5px,#96c7df 212.5px,#86bfdb 214.5px,#80bcd9 217.5px,#7bbad8 561px)"></div>
<div style="height:2px;background:linear-gradient(90deg,#69001f 0px,#69001f 6.5px,#053061 7.5px,#063163 36.5px,#0c3e74 43.5px,#2065aa 52.5px,#4190c1 75.5px,#68b0d2 104.5px,#a2cde3 206.5px,#a2cde3 210.5px,#98c8e0 212.5px,#83bdda 215.5px,#80bcd9 227.5px,#7bbad8 561px)"></div>
<div style="height:2px;background:linear-gradient(90deg,#69001f 0px,#69001f 6.5px,#053061 7.5px,#063163 36.5px,#0c3e74 43.5px,#2065aa 52.5px,#4190c1 75.5px,#68b0d2 104.5px,#a2cde3 206.5px,#a3cee3 210.5px,#99c9e0 212.5px,#83beda 215.5px,#80bcd9 221.5px,#7bbad8 561px)"></div>
<div style="height:2px;background:linear-gradient(90deg,#69001f 0px,#69001f 6.5px,#053061 7.5px,#063162 36.5px,#0c3e74 43.5px,#2065aa 52.5px,#4190c1 75.5px,#68b0d2 104.5px,#a2cde3 206.5px,#a3cee3 210.5px,#9bcae1 212.5px,#84beda 215.5px,#80bcd9 220.5px,#7bbad8 561px)"></div>
<div style="height:2px;background:linear-gradient(90deg,#69001f 0px,#69001f 6.5px,#053061 7.5px,#063162 36.5px,#0c3e74 43.5px,#2064aa 52.5px,#4190c1 75.5px,#64add1 100.5px,#8cc2dc 169.5px,#a3cee3 210.5px,#9ccae1 212.5px,#85beda 215.5px,#80bcd9 219.5px,#7bbad8 561px)"></div>
<div style="height:2px;background:linear-gradient(90deg,#69001f 0px,#69001f 6.5px,#053061 7.5px,#053162 36.5px,#0c3d74 43.5px,#2064aa 52.5px,#4190c1 75.5px,#62acd0 99.5px,#87c0db 161.5px,#a4cee3 210.5px,#9ecbe1 212.5px,#86bfdb 215.5px,#7fbcd9 218.5px,#7bbad8 561px)"></div>
<div style="height:2px;background:linear-gradient(90deg,#69001f 0px,#69001f 6.5px,#053061 7.5px,#053162 36.5px,#0c3d74 43.5px,#2064aa 52.5px,#4191c2 76.5px,#68b0d2 104.5px,#a2cde3 207.5px,#a2cde3 211.5px,#97c8e0 213.5px,#87bfdb 215.5px,#7fbcd9 218.5px,#7bbad8 561px)"></div>
<div style="height:2px;background:linear-gradient(90deg,#69001f 0px,#69001f 6.5px,#053061 7.5px,#053162 36.5px,#0c3d73 43.5px,#2064a9 52.5px,#4191c2 76.5px,#68b0d2 104.5px,#a2cde3 207.5px,#a3cee3 211.5px,#99c9e0 213.5px,#83bdda 216.5px,#80bcd9 223.5px,#7bbad8 561px)"></div>
<div style="height:2px;background:linear-gradient(90deg,#69001f 0px,#69001f 6.5px,#053061 7.5px,#053162 36.5px,#0c3d73 43.5px,#2267ad 53.5px,#4191c2 76.5px,#68b0d2 104.5px,#a2cde3 207.5px,#a3cee3 211.5px,#9bc9e1 213.5px,#83beda 216.5px,#80bcd9 221.5px,#7bbad8 561px)"></div>
<div style="height:2px;background:linear-gradient(90deg,#69001f 0px,#69001f 6.5px,#053061 7.5px,#053162 36.5px,#0c3d73 43.5px,#2267ac 53.5px,#4191c2 76.5px,#68b0d2 104.5px,#a2cde3 207.5px,#a1cde2 212.5px,#94c6df 214.5px,#84beda 216.5px,#7fbcd9 220.5px,#7bbad8 561px)"></div>
<div style="height:2px;background:linear-gradient(90deg,#69001f 0px,#69001f 6.5px,#053061 7.5px,#053162 36.5px,#0c3d73 43.5px,#2267ac 53.5px,#4191c2 76.5px,#67b0d2 104.5px,#a2cde2 207.5px,#a2cde3 212.5px,#96c7df 214.5px,#85bfdb 216.5px,#7fbcd9 219.5px,#7bbad8 561px)"></div>
<div style="height:2px;background:linear-gradient(90deg,#69001f 0px,#69001f 6.5px,#053061 7.5px,#053162 36.5px,#0c3d73 43.5px,#2267ac 53.5px,#4191c2 76.5px,#67b0d2 104.5px,#a2cde3 208.5px,#a3cde3 212.5px,#97c8e0 214.5px,#86bfdb 216.5px,#7fbcd9 219.5px,#7bbad8 561px)"></div>
<div style="height:2px;background:linear-gradient(90deg,#69001f 0px,#69001f 6.5px,#053061 7.5px,#053162 36.5px,#0b3c72 43.5px,#2267ac 53.5px,#4191c2 76.5px,#67b0d2 104.5px,#a2cde3 208.5px,#a3cee3 212.5px,#99c9e0 214.5px,#82bdda 217.5px,#80bcd9 224.5px,#7bbad8 561px)"></div>
<div style="height:2px;background:linear-gradient(90deg,#69001f 0px,#69001f 6.5px,#053061 7.5px,#053162 36.5px,#0b3c72 43.5px,#2267ac 53.5px,#4191c2 76.5px,#67b0d2 104.5px,#a2cde3 208.5px,#a3cee3 212.5px,#9bcae1 214.5px,#83beda 217.5px,#80bcd9 222.5px,#7bbad8 561px)"></div>
<div style="height:2px;background:linear-gradient(90deg,#69001f 0px,#69001f 6.5px,#053061 7.5px,#053062 36.5px,#0b3c72 43.5px,#2167ac 53.5px,#4191c2 76.5px,#67b0d2 104.5px,#a2cde3 208.5px,#a2cde2 213.5px,#94c6df 215.5px,#84beda 217.5px,#7fbcd9 221.5px,#7bbad8 561px)"></div>
<div style="height:2px;background:linear-gradient(90deg,#69001f 0px,#69001f 6.5px,#053061 7.5px,#053062 36.5px,#0b3c72 43.5px,#2167ac 53.5px,#4191c2 76.5px,#68b0d3 105.5px,#a2cde3 208.5px,#a2cde3 213.5px,#96c7df 215.5px,#85bfda 217.5px,#7fbcd9 220.5px,#7bbad8 561px)"></div>
<div style="height:2px;background:linear-gradient(90deg,#69001f 0px,#69001f 6.5px,#053061 7.5px,#063264 37.5px,#0b3c71 43.5px,#2166ac 53.5px,#4190c2 76.5px,#68b0d3 105.5px,#a3cde3 209.5px,#a3cee3 213.5px,#98c8e0 215.5px,#86bfdb 217.5px,#7fbcd9 220.5px,#7bbad8 561px)"></div>
<div style="height:2px;background:linear-gradient(90deg,#69001f 0px,#69001f 6.5px,#053061 7.5px,#063264 37.5px,#0b3c71 43.5px,#2166ac 53.5px,#4190c2 76.5px,#68b0d3 105.5px,#a2cde3 209.5px,#a3cee3 213.5px,#9ac9e0 215.5px,#87c0db 217.5px,#7fbcd9 220.5px,#7bbad8 561px)"></div>
<div style="height:2px;background:linear-gradient(90deg,#69001f 0px,#69001f 6.5px,#053061 7.5px,#063263 37.5px,#0b3c71 43.5px,#2166ac 53.5px,#4190c2 76.5px,#68b0d3 105.5px,#98c8e0 195.5px,#a4cee3 213.5px,#9bcae1 215.5px,#83beda 218.5px,#7fbcd9 222.5px,#7bbad8 561px)"></div>
<div style="height:2px;background:linear-gradient(90deg,#69001f 0px,#69001f 6.5px,#053061 7.5px,#063263 37.5px,#0b3b71 43.5px,#2166ac 53.5px,#4190c2 76.5px,#68b0d3 105.5px,#98c8e0 194.5px,#a4cee3 213.5px,#9dcbe1 215.5px,#84beda 218.5px,#7fbcd9 222.5px,#7bbad8 561px)"></div>
<div style="height:2px;background:linear-gradient(90deg,#69001f 0px,#69001f 6.5px,#053061 7.5px,#063263 37.5px,#0b3b71 43.5px,#2166ac 53.5px,#4190c2 76.5px,#68b0d3 105.5px,#97c8df 193.5px,#a4cee3 213.5px,#9ecbe2 215.5px,#85bfda 218.5px,#7fbbd9 221.5px,#7bbad8 542.5px,#7bbad8 561px)"></div>
<div style="height:2px;background:linear-gradient(90deg,#69001f 0px,#69001f 6.5px,#053061 7.5px,#063263 37.5px,#0b3b70 43.5px,#2166ac 53.5px,#4190c2 76.5px,#68b0d3 105.5px,#97c8df 193.5px,#a3cee3 214.5px,#98c8e0 216.5px,#86bfdb 218.5px,#7fbbd9 221.5px,#7cbad8 538.5px,#7bbad8 561px)"></div>
<div style="height:2px;background:linear-gradient(90deg,#69001f 0px,#69001f 6.5px,#053061 7.5px,#063263 37.5px,#0b3b70 43.5px,#2166ac 53.5px,#4190c2 76.5px,#68b0d2 105.5px,#97c7df 192.5px,#a4cee3 214.5px,#9ac9e0 216.5px,#88c0db 218.5px,#80bcd9 220.5px,#7bbad8 561px)"></div>
<div style="height:2px;background:linear-gradient(90deg,#69001f 0px,#69001f 6.5px,#053061 7.5px,#063263 37.5px,#0b3b70 43.5px,#2166ac 53.5px,#4190c2 76.5px,#68b0d2 105.5px,#97c7df 192.5px,#a4cee3 214.5px,#9ccae1 216.5px,#83beda 219.5px,#7fbcd9 223.5px,#7bbad8 561px)"></div>
<div style="height:2px;background:linear-gradient(90deg,#69001f 0px,#69001f 6.5px,#053061 7.5px,#063163 37.5px,#0b3b70 43.5px,#2166ac 53.5px,#4190c2 76.5px,#68b0d2 105.5px,#96c7df 192.5px,#a4cee3 214.5px,#9ecbe1 216.5px,#84beda 219.5px,#7fbbd9 222.5px,#7cbad8 529.5px,#7bbad8 561px)"></div>
<div style="height:2px;background:linear-gradient(90deg,#69001f 0px,#69001f 6.5px,#053061 7.5px,#063163 37.5px,#0b3b70 43.5px,#2166ab 53.5px,#4190c2 76.5px,#68b0d2 105.5px,#96c7df 192.5px,#a4cee3 214.5px,#9fcce2 216.5px,#85bfdb 219.5px,#7fbbd9 222.5px,#7cbad8 523.5px,#7bbad8 561px)"></div>
<div style="height:2px;background:linear-gradient(90deg,#69001f 0px,#69001f 6.5px,#053061 7.5px,#063163 37.5px,#0a3b70 43.5px,#2165ab 53.5px,#4190c2 76.5px,#68b0d2 105.5px,#96c7df 192.5px,#a4cee3 215.5px,#99c9e0 217.5px,#87bfdb 219.5px,#7fbbd9 222.5px,#7cbad8 519.5px,#7bbad8 561px)"></div>
<div style="height:2px;background:linear-gradient(90deg,#69001f 0px,#69001f 6.5px,#053061 7.5px,#063163 37.5px,#0a3b70 43.5px,#2165ab 53.5px,#4190c2 76.5px,#68b0d2 105.5px,#96c7df 191.5px,#a4cee3 215.5px,#9bcae1 217.5px,#82bdda 220.5px,#7fbcd9 224.5px,#7bbad8 561px)"></div>
<div style="height:2px;background:linear-gradient(90deg,#69001f 0px,#69001f 6.5px,#053061 7.5px,#063163 37.5px,#0a3a70 43.5px,#2065ab 53.5px,#4190c2 76.5px,#68b0d2 105.5px,#96c7df 191.5px,#a4cee3 215.5px,#9dcbe1 217.5px,#83beda 220.5px,#7fbbd9 223.5px,#7cbad8 518.5px,#7bbad8 561px)"></div>
<div style="height:2px;background:linear-gradient(90deg,#69001f 0px,#69001f 6.5px,#053061 7.5px,#063163 37.5px,#0c3e74 44.5px,#2065aa 53.5px,#4190c1 76.5px,#68b0d2 105.5px,#96c7df 191.5px,#a4cee3 215.5px,#9fcbe2 217.5px,#85beda 220.5px,#7fbbd9 223.5px,#7cbad8 511.5px,#7bbad8 561px)"></div>
<div style="height:2px;background:linear-gradient(90deg,#69001f 0px,#69001f 6.5px,#053061 7.5px,#063162 37.5px,#0c3e74 44.5px,#2065aa 53.5px,#4190c1 76.5px,#68b0d2 105.5px,#96c7df 191.5px,#a4cee3 216.5px,#99c8e0 218.5px,#86bfdb 220.5px,#7ebbd9 223.5px,#7cbad8 505.5px,#7bbad8 561px)"></div>
<div style="height:2px;background:linear-gradient(90deg,#69001f 0px,#69001f 6.5px,#053061 7.5px,#063162 37.5px,#0c3e74 44.5px,#2064aa 53.5px,#4190c1 76.5px,#64add1 101.5px,#8ac1dc 167.5px,#a3cee3 212.5px,#a4cee3 216.5px,#9bc9e0 218.5px,#87c0db 220.5px,#7fbcd9 222.5px,#7bbad8 561px)"></div>
<div style="height:2px;background:linear-gradient(90deg,#69001f 0px,#69001f 6.5px,#053061 7.5px,#053162 37.5px,#0c3d74 44.5px,#2064aa 53.5px,#4191c2 77.5px,#68b0d2 105.5px,#96c7df 191.5px,#a4cee3 216.5px,#9dcae1 218.5px,#83bdda 221.5px,#7fbbd9 225.5px,#7bbad8 561px)"></div>
<div style="height:2px;background:linear-gradient(90deg,#69001f 0px,#69001f 6.5px,#053061 7.5px,#053162 37.5px,#0c3d73 44.5px,#2064a9 53.5px,#4191c2 77.5px,#68b0d2 105.5px,#96c7df 191.5px,#a5cee3 216.5px,#9ecbe2 218.5px,#84beda 221.5px,#7ebbd9 224.5px,#7cbad8 500.5px,#7bbad8 561px)"></div>
<div style="height:2px;background:linear-gradient(90deg,#69001f 0px,#69001f 6.5px,#053061 7.5px,#053162 37.5px,#0c3d73 44.5px,#2267ad 54.5px,#4191c2 77.5px,#68b0d2 105.5px,#96c7df 191.5px,#a4cee3 217.5px,#98c8e0 219.5px,#85bfdb 221.5px,#7ebbd9 224.5px,#7dbad8 494.5px,#7bbad8 561px)"></div>
<div style="height:2px;background:linear-gradient(90deg,#69001f 0px,#69001f 6.5px,#053061 7.5px,#053162 37.5px,#0c3d73 44.5px,#2267ac 54.5px,#4191c2 77.5px,#67b0d2 105.5px,#96c7df 191.5px,#a4cee3 217.5px,#9ac9e0 219.5px,#87bfdb 221.5px,#7fbbd9 223.5px,#7cbad8 533.5px,#7bbad8 561px)"></div>
<div style="height:2px;background:linear-gradient(90deg,#69001f 0px,#69001f 6.5px,#053061 7.5px,#053162 37.5px,#0c3d73 44.5px,#2267ac 54.5px,#4191c2 77.5px,#67b0d2 105.5px,#96c7df 191.5px,#a5cee3 217.5px,#9dcae1 219.5px,#82bdda 222.5px,#7fbbd9 226.5px,#7bbad8 545.5px,#7bbad8 561px)"></div>
<div style="height:2px;background:linear-gradient(90deg,#69001f 0px,#69001f 6.5px,#053061 7.5px,#053162 37.5px,#0b3c72 44.5px,#2267ac 54.5px,#4191c2 77.5px,#67b0d2 105.5px,#95c7df 190.5px,#a5cfe3 217.5px,#9ecbe2 219.5px,#83beda 222.5px,#7ebbd9 225.5px,#7dbad8 490.5px,#7bbad8 561px)"></div>
<div style="height:2px;background:linear-gradient(90deg,#69001f 0px,#69001f 6.5px,#053061 7.5px,#053162 37.5px,#0b3c72 44.5px,#2167ac 54.5px,#4191c2 77.5px,#67b0d2 105.5px,#95c7df 190.5px,#a4cee3 218.5px,#98c8e0 220.5px,#85beda 222.5px,#7ebbd9 225.5px,#7dbad8 483.5px,#7bbad8 561px)"></div>
<div style="height:2px;background:linear-gradient(90deg,#69001f 0px,#69001f 6.5px,#053061 7.5px,#053062 37.5px,#0b3c72 44.5px,#2167ac 54.5px,#4191c2 77.5px,#68b0d3 106.5px,#96c7df 191.5px,#a4cee3 218.5px,#9ac9e0 220.5px,#86bfdb 222.5px,#7fbbd9 224.5px,#7cbad8 508.5px,#7bbad8 561px)"></div>
<div style="height:2px;background:linear-gradient(90deg,#69001f 0px,#69001f 6.5px,#053061 7.5px,#053062 37.5px,#0b3c72 44.5px,#2166ac 54.5px,#4190c2 77.5px,#68b0d3 106.5px,#95c7df 191.5px,#a5cee3 218.5px,#9dcae1 220.5px,#88c0db 222.5px,#7fbbd9 224.5px,#7cbad8 534.5px,#7bbad8 561px)"></div>
<div style="height:2px;background:linear-gradient(90deg,#69001f 0px,#69001f 6.5px,#053061 7.5px,#063264 38.5px,#0b3c71 44.5px,#2166ac 54.5px,#4190c2 77.5px,#68b0d3 106.5px,#95c7df 190.5px,#a5cfe3 218.5px,#9ecbe2 220.5px,#83beda 223.5px,#7ebbd9 226.5px,#7dbad8 481.5px,#7bbad8 561px)"></div>
<div style="height:2px;background:linear-gradient(90deg,#69001f 0px,#69001f 6.5px,#053061 7.5px,#063263 38.5px,#0b3b71 44.5px,#2166ac 54.5px,#4190c2 77.5px,#68b0d3 106.5px,#95c7df 190.5px,#a4cee3 219.5px,#98c8e0 221.5px,#84beda 223.5px,#7ebbd9 226.5px,#7dbbd8 474.5px,#7bbad8 561px)"></div>
<div style="height:2px;background:linear-gradient(90deg,#69001f 0px,#69001f 7.5px,#053061 8.5px,#063263 38.5px,#0b3b71 44.5px,#2166ac 54.5px,#4190c2 77.5px,#68b0d3 106.5px,#95c7df 190.5px,#a5cee3 219.5px,#9ac9e0 221.5px,#86bfdb 223.5px,#7ebbd9 225.5px,#7dbad8 491.5px,#7bbad8 561px)"></div>
<div style="height:2px;background:linear-gradient(90deg,#69001f 0px,#69001f 7.5px,#053061 8.5px,#063263 38.5px,#0b3b70 44.5px,#2166ac 54.5px,#4190c2 77.5px,#68b0d3 106.5px,#95c7df 190.5px,#a5cfe3 219.5px,#9dcae1 221.5px,#88c0db 223.5px,#7fbbd9 225.5px,#7cbad8 512.5px,#7bbad8 561px)"></div>
<div style="height:2px;background:linear-gradient(90deg,#69001f 0px,#69001f 7.5px,#053061 8.5px,#063263 38.5px,#0b3b70 44.5px,#2166ac 54.5px,#4190c2 77.5px,#68b0d2 106.5px,#95c7df 190.5px,#a5cfe4 219.5px,#9fcbe2 221.5px,#83bdda 224.5px,#7ebbd9 227.5px,#7dbbd8 471.5px,#7bbad8 561px)"></div>
<div style="height:2px;background:linear-gradient(90deg,#69001f 0px,#69001f 7.5px,#053061 8.5px,#063263 38.5px,#0b3b70 44.5px,#2166ac 54.5px,#4190c2 77.5px,#68b0d2 106.5px,#95c7df 190.5px,#a4cee3 220.5px,#98c8e0 222.5px,#84beda 224.5px,#7ebbd8 226.5px,#7dbbd8 469.5px,#7bbad8 561px)"></div>
<div style="height:2px;background:linear-gradient(90deg,#69001f 0px,#69001f 7.5px,#053061 8.5px,#063163 38.5px,#0b3b70 44.5px,#2166ac 54.5px,#4190c2 77.5px,#68b0d2 106.5px,#95c7df 190.5px,#a5cfe3 220.5px,#9bcae1 222.5px,#86bfdb 224.5px,#7ebbd9 226.5px,#7dbbd8 478.5px,#7bbad8 561px)"></div>
<div style="height:2px;background:linear-gradient(90deg,#69001f 0px,#69001f 7.5px,#053061 8.5px,#063163 38.5px,#0b3b70 44.5px,#2166ab 54.5px,#4190c2 77.5px,#68b0d2 106.5px,#95c7df 190.5px,#a5cfe4 220.5px,#9dcbe1 222.5px,#88c0db 224.5px,#7ebbd9 226.5px,#7dbad8 497.5px,#7bbad8 561px)"></div>
<div style="height:2px;background:linear-gradient(90deg,#69001f 0px,#69001f 7.5px,#053061 8.5px,#063163 38.5px,#0a3b70 44.5px,#2165ab 54.5px,#4190c2 77.5px,#68b0d2 106.5px,#95c7df 190.5px,#a5cee3 217.5px,#a4cee3 221.5px,#96c7df 223.5px,#83bdda 225.5px,#7ebbd8 228.5px,#7dbbd8 462.5px,#7bbad8 561px)"></div>
<div style="height:2px;background:linear-gradient(90deg,#69001f 0px,#69001f 7.5px,#053061 8.5px,#063163 38.5px,#0a3a70 44.5px,#2165ab 54.5px,#4190c2 77.5px,#68b0d2 106.5px,#95c6df 190.5px,#a4cee3 217.5px,#a5cee3 221.5px,#99c9e0 223.5px,#85beda 225.5px,#7ebbd8 227.5px,#7dbbd8 460.5px,#7bbad8 561px)"></div>
<div style="height:2px;background:linear-gradient(90deg,#69001f 0px,#69001f 7.5px,#053061 8.5px,#063163 38.5px,#0c3e74 45.5px,#2065aa 54.5px,#4190c1 77.5px,#68b0d2 106.5px,#95c6df 190.5px,#a4cee3 217.5px,#a5cfe3 221.5px,#9ccae1 223.5px,#86bfdb 225.5px,#7ebbd8 227.5px,#7dbbd8 469.5px,#7bbad8 561px)"></div>
<div style="height:2px;background:linear-gradient(90deg,#69001f 0px,#69001f 7.5px,#053061 8.5px,#063162 38.5px,#0c3e74 45.5px,#2065aa 54.5px,#4190c1 77.5px,#68b0d2 106.5px,#95c6df 190.5px,#a5cfe3 218.5px,#a3cee3 222.5px,#94c6df 224.5px,#82bdda 226.5px,#7ebbd8 229.5px,#7dbbd8 461.5px,#7bbad8 561px)"></div>
<div style="height:2px;background:linear-gradient(90deg,#69001f 0px,#69001f 7.5px,#053061 8.5px,#063162 38.5px,#0c3e74 45.5px,#2064aa 54.5px,#4190c1 77.5px,#64add1 102.5px,#8ac1dc 168.5px,#a3cee3 216.5px,#a4cee3 222.5px,#97c8df 224.5px,#83beda 226.5px,#7dbbd8 229.5px,#80bcd9 373.5px,#7bbad8 561px)"></div>
<div style="height:2px;background:linear-gradient(90deg,#69001f 0px,#69001f 7.5px,#053061 8.5px,#053162 38.5px,#0c3d74 45.5px,#2064aa 54.5px,#4191c2 78.5px,#68b0d2 106.5px,#95c6df 190.5px,#a5cee3 218.5px,#a5cfe3 222.5px,#9ac9e0 224.5px,#85beda 226.5px,#7dbbd8 228.5px,#80bcd9 372.5px,#7bbad8 561px)"></div>
<div style="height:2px;background:linear-gradient(90deg,#69001f 0px,#69001f 7.5px,#053061 8.5px,#053162 38.5px,#0c3d73 45.5px,#2267ad 55.5px,#4191c2 78.5px,#68b0d2 106.5px,#95c6df 190.5px,#a4cee3 218.5px,#a6cfe4 222.5px,#9dcae1 224.5px,#87bfdb 226.5px,#7ebbd8 228.5px,#7dbbd8 462.5px,#7bbad8 561px)"></div>
<div style="height:2px;background:linear-gradient(90deg,#69001f 0px,#69001f 7.5px,#053061 8.5px,#053162 38.5px,#0c3d73 45.5px,#2267ac 55.5px,#4191c2 78.5px,#68b0d2 106.5px,#95c6df 190.5px,#a4cee3 218.5px,#a4cee3 223.5px,#95c7df 225.5px,#82bdda 227.5px,#7dbbd8 230.5px,#80bcd9 346.5px,#7bbad8 561px)"></div>
<div style="height:2px;background:linear-gradient(90deg,#69001f 0px,#69001f 7.5px,#053061 8.5px,#053162 38.5px,#0c3d73 45.5px,#2267ac 55.5px,#4191c2 78.5px,#67b0d2 106.5px,#95c6df 190.5px,#a4cee3 218.5px,#a5cfe3 223.5px,#98c8e0 225.5px,#84beda 227.5px,#7dbbd8 229.5px,#80bcd9 276.5px,#7bbad8 561px)"></div>
<div style="height:2px;background:linear-gradient(90deg,#69001f 0px,#69001f 7.5px,#053061 8.5px,#053162 38.5px,#0c3d72 45.5px,#2267ac 55.5px,#4191c2 78.5px,#67b0d2 106.5px,#95c6df 190.5px,#a5cfe3 219.5px,#a6cfe4 223.5px,#9bcae1 225.5px,#86bfdb 227.5px,#7dbbd8 229.5px,#80bcd9 304.5px,#7bbad8 561px)"></div>
<div style="height:2px;background:linear-gradient(90deg,#69001f 0px,#69001f 7.5px,#053061 8.5px,#053162 38.5px,#0b3c72 45.5px,#2267ac 55.5px,#4191c2 78.5px,#67b0d2 106.5px,#95c6df 190.5px,#a5cfe3 219.5px,#a4cee3 224.5px,#94c6df 226.5px,#81bcd9 228.5px,#7dbbd8 231.5px,#80bcd9 318.5px,#7bbad8 561px)"></div>
<div style="height:2px;background:linear-gradient(90deg,#69001f 0px,#69001f 7.5px,#053061 8.5px,#053062 38.5px,#0b3c72 45.5px,#2167ac 55.5px,#4191c2 78.5px,#67b0d2 106.5px,#95c6df 190.5px,#a5cee3 219.5px,#a5cfe3 224.5px,#97c8df 226.5px,#82bdda 228.5px,#7dbad8 230.5px,#80bcd9 259.5px,#7bbad8 561px)"></div>
<div style="height:2px;background:linear-gradient(90deg,#69001f 0px,#69001f 7.5px,#053061 8.5px,#053062 38.5px,#0b3c72 45.5px,#2167ac 55.5px,#4191c2 78.5px,#68b0d3 107.5px,#95c7df 191.5px,#a5cfe4 220.5px,#a6cfe4 224.5px,#9ac9e0 226.5px,#84beda 228.5px,#7dbad8 230.5px,#80bcd9 264.5px,#7bbad8 561px)"></div>
<div style="height:2px;background:linear-gradient(90deg,#69001f 0px,#69001f 7.5px,#053061 8.5px,#063264 39.5px,#0b3c71 45.5px,#2166ac 55.5px,#4190c2 78.5px,#68b0d3 107.5px,#95c7df 191.5px,#a5cfe3 220.5px,#a6cfe4 224.5px,#9dcbe1 226.5px,#87bfdb 228.5px,#7dbbd8 230.5px,#80bcd9 285.5px,#7bbad8 561px)"></div>
<div style="height:2px;background:linear-gradient(90deg,#69001f 0px,#69001f 7.5px,#053061 8.5px,#063264 39.5px,#0b3c71 45.5px,#2166ac 55.5px,#4190c2 78.5px,#68b0d3 107.5px,#95c7df 191.5px,#a5cfe3 220.5px,#a5cfe3 225.5px,#96c7df 227.5px,#81bdd9 229.5px,#7dbad8 232.5px,#80bcd9 264.5px,#7bbad8 561px)"></div>
<div style="height:2px;background:linear-gradient(90deg,#69001f 0px,#69001f 7.5px,#053061 8.5px,#063263 39.5px,#0b3b71 45.5px,#2166ac 55.5px,#4190c2 78.5px,#68b0d3 107.5px,#95c7df 191.5px,#a5cfe3 220.5px,#a6cfe4 225.5px,#99c9e0 227.5px,#83beda 229.5px,#7cbad8 231.5px,#80bcd9 254.5px,#7bbad8 561px)"></div>
<div style="height:2px;background:linear-gradient(90deg,#69001f 0px,#69001f 7.5px,#053061 8.5px,#063263 39.5px,#0b3b70 45.5px,#2166ac 55.5px,#4190c2 78.5px,#68b0d3 107.5px,#95c7df 191.5px,#a6cfe4 221.5px,#a6cfe4 225.5px,#9ccae1 227.5px,#85bfdb 229.5px,#7dbad8 231.5px,#80bcd9 260.5px,#7bbad8 561px)"></div>
<div style="height:2px;background:linear-gradient(90deg,#69001f 0px,#69001f 7.5px,#053061 8.5px,#063263 39.5px,#0b3b70 45.5px,#2166ac 55.5px,#4190c2 78.5px,#68b0d3 107.5px,#95c7df 191.5px,#a5cfe4 221.5px,#a5cee3 226.5px,#95c6df 228.5px,#88c0db 229.5px,#7dbad8 231.5px,#80bcd9 281.5px,#7bbad8 561px)"></div>
<div style="height:2px;background:linear-gradient(90deg,#69001f 0px,#69001f 7.5px,#053061 8.5px,#063263 39.5px,#0b3b70 45.5px,#2166ac 55.5px,#4190c2 78.5px,#68b0d2 107.5px,#95c7df 191.5px,#a5cfe4 221.5px,#a6cfe4 226.5px,#98c8e0 228.5px,#82bdda 230.5px,#7cbad8 232.5px,#80bcd9 251.5px,#7bbad8 561px)"></div>
<div style="height:2px;background:linear-gradient(90deg,#69001f 0px,#69001f 7.5px,#053061 8.5px,#063163 39.5px,#0b3b70 45.5px,#2166ac 55.5px,#4190c2 78.5px,#68b0d2 107.5px,#95c7df 191.5px,#a5cfe3 221.5px,#a6cfe4 226.5px,#9bcae1 228.5px,#84beda 230.5px,#7cbad8 232.5px,#80bcd9 253.5px,#7bbad8 561px)"></div>
<div style="height:2px;background:linear-gradient(90deg,#69001f 0px,#69001f 7.5px,#053061 8.5px,#063163 39.5px,#0b3b70 45.5px,#2165ab 55.5px,#4190c2 78.5px,#68b0d2 107.5px,#95c7df 191.5px,#a5cfe3 221.5px,#a7d0e4 226.5px,#9ecbe2 228.5px,#87bfdb 230.5px,#7dbad8 232.5px,#80bcd9 259.5px,#7bbad8 561px)"></div>
<div style="height:2px;background:linear-gradient(90deg,#69001f 0px,#69001f 7.5px,#053061 8.5px,#063163 39.5px,#0a3b70 45.5px,#2165ab 55.5px,#4190c2 78.5px,#68b0d2 107.5px,#95c7df 191.5px,#a6cfe4 222.5px,#a6cfe4 227.5px,#97c8df 229.5px,#81bdd9 231.5px,#7cbad8 233.5px,#80bcd9 248.5px,#7bbad8 561px)"></div>
<div style="height:2px;background:linear-gradient(90deg,#69001f 0px,#69001f 7.5px,#053061 8.5px,#063163 39.5px,#0a3a70 45.5px,#2165ab 55.5px,#4190c2 78.5px,#68b0d2 107.5px,#95c7df 191.5px,#a6cfe4 222.5px,#a7cfe4 227.5px,#9bc9e0 229.5px,#83beda 231.5px,#7cbad8 233.5px,#80bcd9 250.5px,#7bbad8 561px)"></div>
<div style="height:2px;background:linear-gradient(90deg,#69001f 0px,#69001f 7.5px,#053061 8.5px,#063163 39.5px,#0c3e74 46.5px,#2065aa 55.5px,#4190c1 78.5px,#68b0d2 107.5px,#95c7df 191.5px,#a5cfe4 222.5px,#a7d0e4 227.5px,#9ecbe1 229.5px,#86bfdb 231.5px,#7cbad8 233.5px,#80bcd9 253.5px,#7bbad8 561px)"></div>
<div style="height:2px;background:linear-gradient(90deg,#69001f 0px,#69001f 7.5px,#053061 8.5px,#063162 39.5px,#0c3e74 46.5px,#2065aa 55.5px,#4190c1 78.5px,#68b0d2 107.5px,#95c7df 191.5px,#a5cfe3 222.5px,#a6cfe4 228.5px,#a1cce2 229.5px,#81bcd9 232.5px,#7cbad8 234.5px,#80bcd9 247.5px,#7bbad8 561px)"></div>
<div style="height:2px;background:linear-gradient(90deg,#69001f 0px,#69001f 7.5px,#053061 8.5px,#063162 39.5px,#0c3e74 46.5px,#2064aa 55.5px,#4190c1 78.5px,#64add1 103.5px,#8bc1dc 170.5px,#a5cfe3 222.5px,#a7cfe4 228.5px,#9ac9e0 230.5px,#83bdda 232.5px,#7bbad8 234.5px,#80bcd9 248.5px,#7bbad8 561px)"></div>
<div style="height:2px;background:linear-gradient(90deg,#69001f 0px,#69001f 7.5px,#053061 8.5px,#053162 39.5px,#0c3d74 46.5px,#2064aa 55.5px,#4191c2 79.5px,#68b0d2 107.5px,#95c7df 191.5px,#a6cfe4 223.5px,#a7d0e4 228.5px,#9ecbe1 230.5px,#85bfda 232.5px,#7cbad8 234.5px,#80bcd9 250.5px,#7bbad8 561px)"></div>
<div style="height:2px;background:linear-gradient(90deg,#69001f 0px,#69001f 7.5px,#053061 8.5px,#053162 39.5px,#0c3d73 46.5px,#2267ad 56.5px,#4191c2 79.5px,#68b0d2 107.5px,#96c7df 192.5px,#a7cfe4 224.5px,#a6cfe4 229.5px,#a0cce2 230.5px,#88c0db 232.5px,#7cbad8 234.5px,#80bcd9 254.5px,#7bbad8 561px)"></div>
<div style="height:2px;background:linear-gradient(90deg,#69001f 0px,#69001f 7.5px,#053061 8.5px,#053162 39.5px,#0c3d73 46.5px,#2267ac 56.5px,#4191c2 79.5px,#68b0d2 107.5px,#96c7df 192.5px,#a6cfe4 224.5px,#a7d0e4 229.5px,#9ac9e0 231.5px,#82bdda 233.5px,#7bbad8 235.5px,#80bcd9 247.5px,#7bbad8 561px)"></div>
<div style="height:2px;background:linear-gradient(90deg,#69001f 0px,#69001f 7.5px,#053061 8.5px,#053162 39.5px,#0c3d73 46.5px,#2267ac 56.5px,#4191c2 79.5px,#68b0d2 107.5px,#96c7df 192.5px,#a6cfe4 224.5px,#a8d0e4 229.5px,#9dcbe1 231.5px,#84beda 233.5px,#7bbad8 235.5px,#80bcd9 248.5px,#7bbad8 561px)"></div>
<div style="height:2px;background:linear-gradient(90deg,#69001f 0px,#69001f 7.5px,#053061 8.5px,#053162 39.5px,#0b3c72 46.5px,#2267ac 56.5px,#4191c2 79.5px,#67b0d2 107.5px,#96c7df 192.5px,#a6cfe4 224.5px,#a8d0e4 229.5px,#a0cce2 231.5px,#87c0db 233.5px,#7bbad8 235.5px,#80bcd9 251.5px,#7bbad8 561px)"></div>
<div style="height:2px;background:linear-gradient(90deg,#69001f 0px,#69001f 7.5px,#053061 8.5px,#053162 39.5px,#0b3c72 46.5px,#2267ac 56.5px,#4191c2 79.5px,#67b0d2 107.5px,#96c7df 192.5px,#a7d0e4 225.5px,#a7d0e4 230.5px,#a3cee3 231.5px,#81bdd9 234.5px,#7bb9d8 236.5px,#80bcd9 247.5px,#7bbad8 561px)"></div>
<div style="height:2px;background:linear-gradient(90deg,#69001f 0px,#69001f 7.5px,#053061 8.5px,#053062 39.5px,#0b3c72 46.5px,#2167ac 56.5px,#4191c2 79.5px,#67b0d2 107.5px,#96c7df 192.5px,#a7d0e4 225.5px,#a8d0e4 230.5px,#9ecbe1 232.5px,#84beda 234.5px,#7bb9d8 236.5px,#80bcd9 248.5px,#7bbad8 561px)"></div>
<div style="height:2px;background:linear-gradient(90deg,#69001f 0px,#69001f 7.5px,#053061 8.5px,#053062 39.5px,#0b3c71 46.5px,#2166ac 56.5px,#4190c2 79.5px,#68b0d3 108.5px,#96c7df 192.5px,#a7cfe4 225.5px,#a9d0e4 230.5px,#a1cce2 232.5px,#87c0db 234.5px,#7bb9d8 236.5px,#80bcd9 250.5px,#7bbad8 561px)"></div>
<div style="height:2px;background:linear-gradient(90deg,#69001f 0px,#69001f 7.5px,#053061 8.5px,#063264 40.5px,#0b3c71 46.5px,#2166ac 56.5px,#4190c2 79.5px,#68b0d3 108.5px,#96c7df 192.5px,#a6cfe4 225.5px,#a8d0e4 231.5px,#a3cee3 232.5px,#81bcd9 235.5px,#7ab9d7 237.5px,#80bcd9 247.5px,#7bbad8 561px)"></div>
<div style="height:2px;background:linear-gradient(90deg,#69001f 0px,#69001f 7.5px,#053061 8.5px,#063263 40.5px,#0b3b71 46.5px,#2166ac 56.5px,#4190c2 79.5px,#68b0d3 108.5px,#96c7df 192.5px,#a7d0e4 226.5px,#a8d0e4 231.5px,#9ecbe1 233.5px,#83beda 235.5px,#7ab9d7 237.5px,#80bcd9 248.5px,#7bbad8 561px)"></div>
<div style="height:2px;background:linear-gradient(90deg,#69001f 0px,#69001f 7.5px,#053061 8.5px,#063263 40.5px,#0b3b71 46.5px,#2166ac 56.5px,#4190c2 79.5px,#68b0d3 108.5px,#96c7df 192.5px,#a7d0e4 226.5px,#a9d1e5 231.5px,#a1cde2 233.5px,#87c0db 235.5px,#7ab9d8 237.5px,#80bcd9 249.5px,#7bbad8 561px)"></div>
<div style="height:2px;background:linear-gradient(90deg,#69001f 0px,#69001f 7.5px,#053061 8.5px,#063263 40.5px,#0b3b70 46.5px,#2166ac 56.5px,#4190c2 79.5px,#68b0d3 108.5px,#96c7df 192.5px,#a7d0e4 226.5px,#a8d0e4 232.5px,#a4cee3 233.5px,#9bc9e0 234.5px,#80bcd9 236.5px,#79b9d7 238.5px,#80bcd9 247.5px,#7bbad8 561px)"></div>
<div style="height:2px;background:linear-gradient(90deg,#69001f 0px,#69001f 7.5px,#053061 8.5px,#063263 40.5px,#0b3b70 46.5px,#2166ac 56.5px,#4190c2 79.5px,#68b0d3 108.5px,#96c7df 192.5px,#a7d0e4 227.5px,#a9d1e5 232.5px,#9fcbe2 234.5px,#83beda 236.5px,#79b9d7 238.5px,#80bcd9 248.5px,#7bbad8 561px)"></div>
<div style="height:2px;background:linear-gradient(90deg,#69001f 0px,#69001f 7.5px,#053061 8.5px,#063163 40.5px,#0b3b70 46.5px,#2166ac 56.5px,#4190c2 79.5px,#68b0d3 108.5px,#96c7df 192.5px,#a7d0e4 227.5px,#a7d0e4 233.5px,#a2cde3 234.5px,#87c0db 236.5px,#7ebbd9 237.5px,#79b9d7 239.5px,#80bcd9 247.5px,#7bbad8 561px)"></div>
<div style="height:2px;background:linear-gradient(90deg,#69001f 0px,#69001f 7.5px,#053061 8.5px,#063163 40.5px,#0b3b70 46.5px,#2166ac 56.5px,#4190c2 79.5px,#68b0d3 108.5px,#96c7df 192.5px,#a7d0e4 227.5px,#a9d0e4 233.5px,#a5cee3 234.5px,#9ccae1 235.5px,#80bcd9 237.5px,#79b8d7 239.5px,#80bcd9 247.5px,#7bbad8 561px)"></div>
<div style="height:2px;background:linear-gradient(90deg,#69001f 0px,#69001f 7.5px,#053061 8.5px,#063163 40.5px,#0b3b70 46.5px,#2165ab 56.5px,#4190c2 79.5px,#68b0d3 108.5px,#96c7df 192.5px,#a8d0e4 228.5px,#a9d1e5 233.5px,#a0cce2 235.5px,#83beda 237.5px,#79b8d7 239.5px,#80bcd9 248.5px,#7bbad8 561px)"></div>
<div style="height:2px;background:linear-gradient(90deg,#69001f 0px,#69001f 7.5px,#053061 8.5px,#063163 40.5px,#0a3b70 46.5px,#2165ab 56.5px,#4190c2 79.5px,#68b0d2 108.5px,#96c7df 192.5px,#a8d0e4 228.5px,#a8d0e4 234.5px,#a3cee3 235.5px,#98c8e0 236.5px,#88c0db 237.5px,#7ebbd8 238.5px,#78b8d7 240.5px,#80bcd9 247.5px,#7bbad8 561px)"></div>
<div style="height:2px;background:linear-gradient(90deg,#69001f 0px,#69001f 7.5px,#053061 8.5px,#063163 40.5px,#0a3a70 46.5px,#2165ab 56.5px,#4190c2 79.5px,#68b0d2 108.5px,#96c7df 192.5px,#a8d0e4 228.5px,#a9d1e5 234.5px,#9dcbe1 236.5px,#80bcd9 238.5px,#78b8d7 240.5px,#80bcd9 248.5px,#7bbad8 561px)"></div>
<div style="height:2px;background:linear-gradient(90deg,#69001f 0px,#69001f 7.5px,#053061 8.5px,#063163 40.5px,#0c3e74 47.5px,#2065aa 56.5px,#4190c2 79.5px,#68b0d2 108.5px,#96c7df 192.5px,#a8d0e4 229.5px,#aad1e5 234.5px,#a1cde2 236.5px,#84beda 238.5px,#7bbad8 239.5px,#78b8d7 241.5px,#80bcd9 248.5px,#7bbad8 561px)"></div>
<div style="height:2px;background:linear-gradient(90deg,#69001f 0px,#69001f 7.5px,#053061 8.5px,#063163 40.5px,#0c3e74 47.5px,#2065aa 56.5px,#4190c1 79.5px,#68b0d2 108.5px,#96c7df 192.5px,#a8d0e4 229.5px,#a9d1e5 235.5px,#a4cee3 236.5px,#9ac9e0 237.5px,#7ebbd8 239.5px,#77b8d7 241.5px,#80bcd9 248.5px,#7bbad8 561px)"></div>
<div style="height:2px;background:linear-gradient(90deg,#69001f 0px,#69001f 7.5px,#053061 8.5px,#063162 40.5px,#0c3e74 47.5px,#2065aa 56.5px,#4190c1 79.5px,#68b0d2 108.5px,#96c7df 192.5px,#a8d0e4 229.5px,#aad1e5 235.5px,#9fcce2 237.5px,#81bcd9 239.5px,#77b7d7 241.5px,#80bcd9 249.5px,#7bbad8 561px)"></div>
<div style="height:2px;background:linear-gradient(90deg,#69001f 0px,#69001f 7.5px,#053061 8.5px,#053162 40.5px,#0c3d74 47.5px,#2064aa 56.5px,#4190c1 79.5px,#64add1 104.5px,#8ec3dd 176.5px,#a9d0e4 230.5px,#a8d0e4 236.5px,#a3cee3 237.5px,#97c8df 238.5px,#85bfdb 239.5px,#7bbad8 240.5px,#76b7d6 242.5px,#80bcd9 248.5px,#7bbad8 561px)"></div>
<div style="height:2px;background:linear-gradient(90deg,#69001f 0px,#69001f 7.5px,#053061 8.5px,#053162 40.5px,#0c3d73 47.5px,#2064a9 56.5px,#4191c2 80.5px,#68b0d2 108.5px,#96c7df 193.5px,#a8d0e4 230.5px,#aad1e5 236.5px,#a6cfe4 237.5px,#9dcae1 238.5px,#7ebbd8 240.5px,#76b7d6 242.5px,#80bcd9 249.5px,#7bbad8 561px)"></div>
<div style="height:2px;background:linear-gradient(90deg,#69001f 0px,#69001f 7.5px,#053061 8.5px,#053162 40.5px,#0c3d73 47.5px,#2267ad 57.5px,#4191c2 80.5px,#68b0d2 108.5px,#96c7df 193.5px,#a9d1e5 231.5px,#aad1e5 236.5px,#a1cde2 238.5px,#82bdda 240.5px,#79b8d7 241.5px,#76b7d6 243.5px,#80bcd9 249.5px,#7bbad8 561px)"></div>
<div style="height:2px;background:linear-gradient(90deg,#69001f 0px,#69001f 7.5px,#053061 8.5px,#053162 40.5px,#0c3d73 47.5px,#2267ac 57.5px,#4191c2 80.5px,#68b0d2 108.5px,#96c7df 193.5px,#a9d1e5 231.5px,#a9d1e5 237.5px,#a5cfe3 238.5px,#9ac9e0 239.5px,#7bbad8 241.5px,#75b6d6 243.5px,#80bcd9 249.5px,#7bbad8 561px)"></div>
<div style="height:2px;background:linear-gradient(90deg,#69001f 0px,#69001f 7.5px,#053061 8.5px,#053162 40.5px,#0c3d73 47.5px,#2267ac 57.5px,#4191c2 80.5px,#68b0d2 108.5px,#96c7df 193.5px,#a9d1e4 231.5px,#abd1e5 237.5px,#a0cce2 239.5px,#7ebbd9 241.5px,#77b7d7 242.5px,#75b7d6 244.5px,#7fbcd9 249.5px,#7bbad8 561px)"></div>
<div style="height:2px;background:linear-gradient(90deg,#69001f 0px,#69001f 7.5px,#053061 8.5px,#053162 40.5px,#0c3d72 47.5px,#2267ac 57.5px,#4191c2 80.5px,#68b0d2 108.5px,#96c7df 193.5px,#a9d1e5 232.5px,#a9d1e5 238.5px,#a4cee3 239.5px,#98c8e0 240.5px,#84beda 241.5px,#79b8d7 242.5px,#74b6d6 244.5px,#80bcd9 250.5px,#7bbad8 561px)"></div>
<div style="height:2px;background:linear-gradient(90deg,#69001f 0px,#69001f 7.5px,#053061 8.5px,#053162 40.5px,#0b3c72 47.5px,#2267ac 57.5px,#4191c2 80.5px,#68b0d2 108.5px,#96c7df 192.5px,#a9d1e5 232.5px,#aad1e5 238.5px,#a7d0e4 239.5px,#9ecbe1 240.5px,#7cbad8 242.5px,#75b6d6 243.5px,#75b6d6 245.5px,#7fbcd9 250.5px,#7bbad8 561px)"></div>
<div style="height:2px;background:linear-gradient(90deg,#69001f 0px,#69001f 7.5px,#053061 8.5px,#053162 40.5px,#0b3c72 47.5px,#2167ac 57.5px,#4191c2 80.5px,#68b0d2 108.5px,#96c7df 192.5px,#a9d1e5 232.5px,#abd2e5 238.5px,#a3cee3 240.5px,#95c7df 241.5px,#81bcd9 242.5px,#76b7d6 243.5px,#73b6d6 245.5px,#7fbcd9 250.5px,#7bbad8 561px)"></div>
<div style="height:2px;background:linear-gradient(90deg,#69001f 0px,#69001f 7.5px,#053061 8.5px,#053062 40.5px,#0b3c72 47.5px,#2167ac 57.5px,#4191c2 80.5px,#68b0d2 108.5px,#96c7df 192.5px,#a9d1e5 232.5px,#abd1e5 239.5px,#a6cfe4 240.5px,#9ccae1 241.5px,#79b9d7 243.5px,#73b6d6 244.5px,#74b6d6 246.5px,#7fbcd9 251.5px,#7bbad8 561px)"></div>
<div style="height:2px;background:linear-gradient(90deg,#69001f 0px,#69001f 7.5px,#053061 9.5px,#053062 40.5px,#0b3c71 47.5px,#2166ac 57.5px,#4191c2 80.5px,#68b0d2 108.5px,#96c7df 192.5px,#a9d1e5 233.5px,#abd2e5 239.5px,#a2cde3 241.5px,#93c6de 242.5px,#7ebbd9 243.5px,#74b6d6 244.5px,#72b5d5 246.5px,#7fbcd9 251.5px,#7bbad8 561px)"></div>
<div style="height:2px;background:linear-gradient(90deg,#69001f 0px,#69001f 8.5px,#053061 9.5px,#063264 41.5px,#0b3c71 47.5px,#2166ac 57.5px,#4191c2 80.5px,#68b0d3 109.5px,#97c7df 193.5px,#aad1e5 234.5px,#abd2e5 240.5px,#a6cfe4 241.5px,#9bcae1 242.5px,#77b8d7 244.5px,#71b5d5 245.5px,#73b6d6 247.5px,#7fbcd9 252.5px,#7bbad8 561px)"></div>
<div style="height:2px;background:linear-gradient(90deg,#69001f 0px,#69001f 8.5px,#053061 9.5px,#063264 41.5px,#0b3c71 47.5px,#2166ac 57.5px,#4190c2 80.5px,#68b0d3 109.5px,#96c7df 192.5px,#a9d1e5 233.5px,#acd2e5 240.5px,#a2cde2 242.5px,#92c5de 243.5px,#7cbad8 244.5px,#73b5d5 245.5px,#71b5d5 247.5px,#7fbcd9 252.5px,#7bbad8 561px)"></div>
<div style="height:2px;background:linear-gradient(90deg,#69001f 0px,#69001f 8.5px,#053061 9.5px,#063263 41.5px,#0b3b71 47.5px,#2166ac 57.5px,#4190c2 80.5px,#68b0d3 109.5px,#96c7df 192.5px,#aad1e5 234.5px,#abd2e5 241.5px,#a6cfe4 242.5px,#9bcae1 243.5px,#75b7d6 245.5px,#70b4d5 246.5px,#72b5d5 248.5px,#7ebbd9 252.5px,#7cbad8 528.5px,#7bbad8 561px)"></div>
<div style="height:2px;background:linear-gradient(90deg,#69001f 0px,#69001f 8.5px,#053061 9.5px,#063263 41.5px,#0b3b71 47.5px,#2166ac 57.5px,#4190c2 80.5px,#68b0d3 109.5px,#96c7df 192.5px,#a9d1e5 234.5px,#acd2e5 241.5px,#a2cde3 243.5px,#92c5de 244.5px,#7bb9d8 245.5px,#71b4d5 246.5px,#70b4d5 248.5px,#7fbbd9 253.5px,#7bbad8 561px)"></div>
<div style="height:2px;background:linear-gradient(90deg,#69001f 0px,#69001f 8.5px,#053061 9.5px,#063263 41.5px,#0b3b70 47.5px,#2166ac 57.5px,#4190c2 80.5px,#68b0d3 109.5px,#96c7df 192.5px,#aad1e5 235.5px,#abd2e5 242.5px,#a7cfe4 243.5px,#9bcae1 244.5px,#74b6d6 246.5px,#6eb3d4 247.5px,#71b4d5 249.5px,#7ebbd9 253.5px,#7cbad8 509.5px,#7bbad8 561px)"></div>
<div style="height:2px;background:linear-gradient(90deg,#69001f 0px,#69001f 8.5px,#053061 9.5px,#063263 41.5px,#0b3b70 47.5px,#2166ac 57.5px,#4190c2 80.5px,#68b0d3 109.5px,#96c7df 192.5px,#aad1e5 235.5px,#acd2e5 242.5px,#a3cde3 244.5px,#92c5de 245.5px,#7ab9d8 246.5px,#6fb4d5 247.5px,#6eb3d4 249.5px,#7dbbd8 253.5px,#80bcd9 342.5px,#7bbad8 561px)"></div>
<div style="height:2px;background:linear-gradient(90deg,#69001f 0px,#69001f 8.5px,#053061 9.5px,#063263 41.5px,#0b3b70 47.5px,#2166ac 57.5px,#4190c2 80.5px,#68b0d3 109.5px,#96c7df 192.5px,#a9d1e5 235.5px,#abd2e5 243.5px,#a7d0e4 244.5px,#9ccae1 245.5px,#73b5d5 247.5px,#6cb2d4 248.5px,#6fb4d5 250.5px,#7ebbd9 254.5px,#7dbad8 487.5px,#7bbad8 561px)"></div>
<div style="height:2px;background:linear-gradient(90deg,#69001f 0px,#69001f 8.5px,#053061 9.5px,#063163 41.5px,#0b3b70 47.5px,#2166ac 57.5px,#4190c2 80.5px,#68b0d3 109.5px,#96c7df 192.5px,#aad1e5 236.5px,#acd2e6 243.5px,#a4cee3 245.5px,#94c6df 246.5px,#7bb9d8 247.5px,#6eb3d4 248.5px,#6ab1d3 249.5px,#7fbbd9 255.5px,#7bbad8 544.5px,#7bbad8 561px)"></div>
<div style="height:2px;background:linear-gradient(90deg,#69001f 0px,#69001f 8.5px,#053061 9.5px,#063163 41.5px,#0b3b70 47.5px,#2166ab 57.5px,#4190c2 80.5px,#68b0d3 109.5px,#96c7df 192.5px,#aad1e5 236.5px,#acd2e5 244.5px,#a8d0e4 245.5px,#9ecbe1 246.5px,#72b5d5 248.5px,#6ab1d3 249.5px,#6db3d4 251.5px,#7ebbd8 255.5px,#7dbbd8 466.5px,#7bbad8 561px)"></div>
<div style="height:2px;background:linear-gradient(90deg,#69001f 0px,#69001f 8.5px,#053061 9.5px,#063163 41.5px,#0b3b70 47.5px,#2165ab 57.5px,#4190c2 80.5px,#68b0d3 109.5px,#96c7df 192.5px,#aad1e5 237.5px,#add3e6 244.5px,#a5cfe3 246.5px,#96c7df 247.5px,#7cbad8 248.5px,#6db2d4 249.5px,#68b0d3 250.5px,#74b6d6 253.5px,#7fbcd9 257.5px,#7bbad8 561px)"></div>
<div style="height:2px;background:linear-gradient(90deg,#69001f 0px,#69001f 8.5px,#053061 9.5px,#063163 41.5px,#0a3b70 47.5px,#2165ab 57.5px,#4190c2 80.5px,#68b0d3 109.5px,#96c7df 192.5px,#aad1e5 237.5px,#acd2e5 245.5px,#a9d1e5 246.5px,#a0cce2 247.5px,#72b5d5 249.5px,#69b0d3 250.5px,#6bb2d3 252.5px,#7dbbd8 256.5px,#80bcd9 303.5px,#7bbad8 561px)"></div>
<div style="height:2px;background:linear-gradient(90deg,#69001f 0px,#69001f 8.5px,#053061 9.5px,#063163 41.5px,#0a3a70 47.5px,#2165ab 57.5px,#4190c2 80.5px,#68b0d3 109.5px,#96c7df 192.5px,#aad1e5 237.5px,#add3e6 245.5px,#a6cfe4 247.5px,#99c8e0 248.5px,#7ebbd9 249.5px,#6bb2d3 250.5px,#66afd2 251.5px,#6db2d4 253.5px,#7cbad8 256.5px,#80bcd9 264.5px,#7bbad8 561px)"></div>
<div style="height:2px;background:linear-gradient(90deg,#69001f 0px,#69001f 8.5px,#053061 9.5px,#063163 41.5px,#0c3e74 48.5px,#2065ab 57.5px,#4190c2 80.5px,#68b0d3 109.5px,#96c7df 192.5px,#aad1e5 238.5px,#add3e6 246.5px,#aad1e5 247.5px,#a2cde2 248.5px,#8ec3dd 249.5px,#72b5d5 250.5px,#67b0d2 251.5px,#65aed2 252.5px,#7dbad8 257.5px,#80bcd9 272.5px,#7bbad8 561px)"></div>
<div style="height:2px;background:linear-gradient(90deg,#69001f 0px,#69001f 8.5px,#053061 9.5px,#063163 41.5px,#0c3e74 48.5px,#2065aa 57.5px,#4190c2 80.5px,#68b0d3 109.5px,#96c7df 192.5px,#aad1e5 238.5px,#acd2e5 247.5px,#a7d0e4 248.5px,#9bcae1 249.5px,#6bb1d3 251.5px,#64aed1 252.5px,#6ab1d3 254.5px,#7bb9d8 257.5px,#80bcd9 263.5px,#7bbad8 561px)"></div>
<div style="height:2px;background:linear-gradient(90deg,#69001f 0px,#69001f 8.5px,#053061 9.5px,#063162 41.5px,#0c3e74 48.5px,#2065aa 57.5px,#4190c1 80.5px,#68b0d3 109.5px,#96c7df 192.5px,#aad1e5 239.5px,#add3e6 247.5px,#a4cee3 249.5px,#92c5de 250.5px,#74b6d6 251.5px,#66afd2 252.5px,#63acd1 253.5px,#7cbad8 258.5px,#80bcd9 267.5px,#7bbad8 561px)"></div>
<div style="height:2px;background:linear-gradient(90deg,#69001f 0px,#69001f 8.5px,#053061 9.5px,#063162 41.5px,#0c3d74 48.5px,#2064aa 57.5px,#4191c2 81.5px,#68b0d3 109.5px,#96c7df 192.5px,#aad1e5 239.5px,#acd2e6 248.5px,#a9d1e4 249.5px,#9ecbe1 250.5px,#6ab1d3 252.5px,#62acd0 253.5px,#67b0d2 255.5px,#7ab9d7 258.5px,#80bcd9 263.5px,#7bbad8 561px)"></div>
<div style="height:2px;background:linear-gradient(90deg,#69001f 0px,#69001f 8.5px,#053061 9.5px,#053162 41.5px,#0c3d73 48.5px,#2064aa 57.5px,#4191c2 81.5px,#68b0d3 109.5px,#96c7df 192.5px,#abd1e5 240.5px,#add3e6 248.5px,#a6cfe4 250.5px,#96c7df 251.5px,#78b8d7 252.5px,#64aed1 253.5px,#60abd0 254.5px,#69b1d3 256.5px,#7bb9d8 259.5px,#80bcd9 265.5px,#7bbad8 561px)"></div>
<div style="height:2px;background:linear-gradient(90deg,#69001f 0px,#69001f 8.5px,#053061 9.5px,#053162 41.5px,#0c3d73 48.5px,#2267ad 58.5px,#4191c2 81.5px,#68b0d3 109.5px,#96c7df 192.5px,#aad1e5 240.5px,#add3e6 249.5px,#aad1e5 250.5px,#a1cde2 251.5px,#8ac1dc 252.5px,#6cb2d4 253.5px,#61abd0 254.5px,#60aacf 255.5px,#7cbad8 260.5px,#80bcd9 270.5px,#7bbad8 561px)"></div>
<div style="height:2px;background:linear-gradient(90deg,#69001f 0px,#69001f 8.5px,#053061 9.5px,#053162 41.5px,#0c3d73 48.5px,#2267ad 58.5px,#4191c2 81.5px,#68b0d3 109.5px,#96c7df 192.5px,#abd2e5 241.5px,#acd2e5 250.5px,#a7d0e4 251.5px,#9ac9e0 252.5px,#7cbad8 253.5px,#64add1 254.5px,#5ea9cf 255.5px,#66afd2 257.5px,#7ab9d7 260.5px,#80bcd9 265.5px,#7bbad8 561px)"></div>
<div style="height:2px;background:linear-gradient(90deg,#69001f 0px,#69001f 8.5px,#053061 9.5px,#053162 41.5px,#0c3d73 48.5px,#2267ac 58.5px,#4191c2 81.5px,#68b0d3 109.5px,#96c7df 192.5px,#abd2e5 242.5px,#add3e6 250.5px,#a4cee3 252.5px,#90c4dd 253.5px,#6fb3d4 254.5px,#5faacf 255.5px,#5da8ce 256.5px,#7bbad8 261.5px,#80bcd9 267.5px,#7bbad8 561px)"></div>
<div style="height:2px;background:linear-gradient(90deg,#69001f 0px,#69001f 8.5px,#053061 9.5px,#053162 41.5px,#0c3d72 48.5px,#2267ac 58.5px,#4191c2 81.5px,#68b0d3 109.5px,#96c7df 192.5px,#abd2e5 242.5px,#add3e6 251.5px,#a9d1e5 252.5px,#9ecbe1 253.5px,#64aed1 255.5px,#5ca7ce 256.5px,#5da7ce 257.5px,#78b8d7 261.5px,#80bcd9 265.5px,#7bbad8 561px)"></div>
<div style="height:2px;background:linear-gradient(90deg,#69001f 0px,#69001f 8.5px,#053061 9.5px,#053162 41.5px,#0b3c72 48.5px,#2267ac 58.5px,#4191c2 81.5px,#68b0d3 109.5px,#96c7df 192.5px,#abd2e5 243.5px,#aed3e6 251.5px,#a6cfe4 253.5px,#96c7df 254.5px,#74b6d6 255.5px,#5ea9cf 256.5px,#5aa6cd 257.5px,#65aed1 259.5px,#7ab9d7 262.5px,#80bcd9 267.5px,#7bbad8 561px)"></div>
<div style="height:2px;background:linear-gradient(90deg,#69001f 0px,#69001f 8.5px,#053061 9.5px,#053162 41.5px,#0b3c72 48.5px,#2267ac 58.5px,#4191c2 81.5px,#68b0d3 109.5px,#96c7df 192.5px,#abd2e5 244.5px,#add3e6 252.5px,#abd1e5 253.5px,#a2cde2 254.5px,#8ac1dc 255.5px,#68afd2 256.5px,#5aa6cd 257.5px,#59a5cd 258.5px,#77b7d7 262.5px,#7fbcd9 265.5px,#7bbad8 561px)"></div>
<div style="height:2px;background:linear-gradient(90deg,#69001f 0px,#69001f 8.5px,#053061 9.5px,#053062 41.5px,#0b3c72 48.5px,#2167ac 58.5px,#4191c2 81.5px,#68b0d3 109.5px,#96c7df 192.5px,#acd2e5 245.5px,#add3e6 253.5px,#a8d0e4 254.5px,#9bcae1 255.5px,#5fa9cf 257.5px,#58a4cc 258.5px,#5aa5cd 259.5px,#78b8d7 263.5px,#80bcd9 267.5px,#7bbad8 561px)"></div>
<div style="height:2px;background:linear-gradient(90deg,#69001f 0px,#69001f 8.5px,#053061 9.5px,#053062 41.5px,#0b3c72 48.5px,#2167ac 58.5px,#4191c2 81.5px,#68b0d3 109.5px,#96c7df 191.5px,#acd2e5 246.5px,#aed3e6 253.5px,#a5cfe3 255.5px,#92c5de 256.5px,#6eb3d4 257.5px,#5aa5cd 258.5px,#56a3cb 259.5px,#63add1 261.5px,#7ab9d7 264.5px,#80bcd9 268.5px,#7bbad8 561px)"></div>
<div style="height:2px;background:linear-gradient(90deg,#69001f 0px,#69001f 8.5px,#053061 9.5px,#053062 41.5px,#0b3c71 48.5px,#2166ac 58.5px,#4191c2 81.5px,#68b0d2 109.5px,#96c7df 191.5px,#acd2e5 246.5px,#add3e6 254.5px,#aad1e5 255.5px,#a0cce2 256.5px,#86bfdb 257.5px,#62acd0 258.5px,#56a2cb 259.5px,#56a2cb 260.5px,#76b7d6 264.5px,#7fbcd9 267.5px,#7bbad8 561px)"></div>
<div style="height:2px;background:linear-gradient(90deg,#69001f 0px,#69001f 8.5px,#053061 9.5px,#063264 42.5px,#0b3c71 48.5px,#2166ac 58.5px,#4191c2 81.5px,#68b0d2 109.5px,#96c7df 191.5px,#acd2e5 247.5px,#add3e6 255.5px,#a8d0e4 256.5px,#9ac9e0 257.5px,#5aa6cd 259.5px,#54a1ca 260.5px,#57a3cb 261.5px,#71b5d5 264.5px,#7ebbd9 267.5px,#7cbad8 515.5px,#7bbad8 561px)"></div>
<div style="height:2px;background:linear-gradient(90deg,#69001f 0px,#69001f 8.5px,#053061 9.5px,#063264 42.5px,#0b3b71 48.5px,#2166ac 58.5px,#4191c2 81.5px,#68b0d3 110.5px,#96c7df 191.5px,#acd2e5 248.5px,#aed3e6 255.5px,#a5cfe3 257.5px,#91c4de 258.5px,#6ab1d3 259.5px,#56a2cb 260.5px,#53a0ca 261.5px,#61abd0 263.5px,#79b9d7 266.5px,#80bcd9 270.5px,#7bbad8 561px)"></div>
<div style="height:2px;background:linear-gradient(90deg,#69001f 0px,#69001f 8.5px,#053061 9.5px,#063263 42.5px,#0b3b71 48.5px,#2166ac 58.5px,#4190c2 81.5px,#68b0d3 110.5px,#96c7df 191.5px,#acd2e6 249.5px,#aed3e6 256.5px,#aad1e5 257.5px,#a0cce2 258.5px,#85beda 259.5px,#5fa9cf 260.5px,#529fca 261.5px,#539fca 262.5px,#75b7d6 266.5px,#7fbbd9 269.5px,#7bbad8 561px)"></div>
<div style="height:2px;background:linear-gradient(90deg,#69001f 0px,#69001f 8.5px,#053061 9.5px,#063263 42.5px,#0b3b71 48.5px,#2166ac 58.5px,#4190c2 81.5px,#68b0d3 110.5px,#96c7df 191.5px,#add2e6 250.5px,#add3e6 257.5px,#a8d0e4 258.5px,#9ac9e0 259.5px,#57a3cc 261.5px,#509ec9 262.5px,#53a0ca 263.5px,#70b4d5 266.5px,#7ebbd9 269.5px,#7dbad8 495.5px,#7bbad8 561px)"></div>
<div style="height:2px;background:linear-gradient(90deg,#69001f 0px,#69001f 8.5px,#053061 9.5px,#063263 42.5px,#0b3b70 48.5px,#2166ac 58.5px,#4190c2 81.5px,#68b0d3 110.5px,#96c7df 191.5px,#add3e6 251.5px,#acd2e5 258.5px,#a6cfe4 259.5px,#92c5de 260.5px,#6ab1d3 261.5px,#529fca 262.5px,#4f9dc8 263.5px,#5ea9cf 265.5px,#72b5d5 267.5px,#7ebbd9 270.5px,#7bbad8 561px)"></div>
<div style="height:2px;background:linear-gradient(90deg,#69001f 0px,#69001f 8.5px,#053061 10.5px,#063263 42.5px,#0b3b70 48.5px,#2166ac 58.5px,#4190c2 81.5px,#68b0d3 110.5px,#96c7df 191.5px,#add3e6 252.5px,#aed3e6 258.5px,#abd2e5 259.5px,#a2cde2 260.5px,#87c0db 261.5px,#5fa9cf 262.5px,#4f9dc8 263.5px,#4f9dc8 264.5px,#74b6d6 268.5px,#7fbbd9 271.5px,#7bbad8 561px)"></div>
<div style="height:2px;background:linear-gradient(90deg,#69001f 0px,#69001f 9.5px,#053061 10.5px,#063263 42.5px,#0b3b70 48.5px,#2166ac 58.5px,#4190c2 81.5px,#68b0d3 110.5px,#95c7df 190.5px,#add3e6 253.5px,#add3e6 259.5px,#a9d1e5 260.5px,#9dcae1 261.5px,#7bb9d8 262.5px,#56a2cb 263.5px,#4d9bc7 264.5px,#4f9dc8 265.5px,#6eb3d4 268.5px,#7bb9d8 270.5px,#80bcd9 275.5px,#7bbad8 561px)"></div>
<div style="height:2px;background:linear-gradient(90deg,#69001f 0px,#69001f 9.5px,#053061 10.5px,#063263 42.5px,#0b3b70 48.5px,#2166ac 58.5px,#4190c2 81.5px,#68b0d3 110.5px,#95c7df 190.5px,#add3e6 254.5px,#add3e6 260.5px,#a7d0e4 261.5px,#96c7df 262.5px,#6eb3d4 263.5px,#519ec9 264.5px,#4c9ac7 265.5px,#509ec9 266.5px,#70b4d5 269.5px,#7cbad8 271.5px,#80bcd9 278.5px,#7bbad8 561px)"></div>
<div style="height:2px;background:linear-gradient(90deg,#69001f 0px,#69001f 9.5px,#053061 10.5px,#063263 42.5px,#0b3b70 48.5px,#2166ac 58.5px,#4190c2 81.5px,#68b0d3 110.5px,#95c6df 190.5px,#add3e6 254.5px,#aed3e6 260.5px,#acd2e5 261.5px,#a4cee3 262.5px,#8ec3dd 263.5px,#63acd0 264.5px,#4d9bc7 265.5px,#4b9ac7 266.5px,#5da7ce 268.5px,#72b5d5 270.5px,#7ebbd9 273.5px,#7bbad8 561px)"></div>
<div style="height:2px;background:linear-gradient(90deg,#69001f 0px,#69001f 9.5px,#053061 10.5px,#063163 42.5px,#0b3b70 48.5px,#2166ac 58.5px,#4190c2 81.5px,#68b0d3 110.5px,#95c6df 190.5px,#add3e6 255.5px,#aed3e6 261.5px,#abd2e5 262.5px,#a1cce2 263.5px,#83beda 264.5px,#5aa5cd 265.5px,#4b99c6 266.5px,#4b9ac7 267.5px,#73b6d6 271.5px,#7fbbd9 274.5px,#7bbad8 561px)"></div>
<div style="height:2px;background:linear-gradient(90deg,#69001f 0px,#69001f 9.5px,#053061 10.5px,#063163 42.5px,#0b3b70 48.5px,#2166ac 58.5px,#4190c2 81.5px,#68b0d3 110.5px,#95c6df 190.5px,#add3e6 256.5px,#aed3e6 262.5px,#a9d1e5 263.5px,#9ccae1 264.5px,#79b9d7 265.5px,#53a0ca 266.5px,#4998c6 267.5px,#4c9ac7 268.5px,#6cb2d4 271.5px,#7ab9d8 273.5px,#80bcd9 278.5px,#7bbad8 561px)"></div>
<div style="height:2px;background:linear-gradient(90deg,#69001f 0px,#69001f 9.5px,#053061 10.5px,#063163 42.5px,#0b3b70 48.5px,#2166ac 58.5px,#4190c2 81.5px,#68b0d3 110.5px,#95c6df 190.5px,#add3e6 257.5px,#add3e6 263.5px,#a8d0e4 264.5px,#98c8e0 265.5px,#71b4d5 266.5px,#4f9cc8 267.5px,#4897c5 268.5px,#4c9ac7 269.5px,#6eb3d4 272.5px,#7bb9d8 274.5px,#80bcd9 280.5px,#7bbad8 561px)"></div>
<div style="height:2px;background:linear-gradient(90deg,#69001f 0px,#69001f 9.5px,#053061 10.5px,#063163 42.5px,#0b3b70 48.5px,#2166ab 58.5px,#4190c2 81.5px,#68b0d3 110.5px,#94c6df 189.5px,#aed3e6 258.5px,#add3e6 264.5px,#a7cfe4 265.5px,#94c6de 266.5px,#69b0d2 267.5px,#4c9ac7 268.5px,#4897c5 269.5px,#4d9bc7 270.5px,#6fb3d4 273.5px,#7bbad8 275.5px,#80bcd9 282.5px,#7bbad8 561px)"></div>
<div style="height:2px;background:linear-gradient(90deg,#69001f 0px,#69001f 9.5px,#053061 10.5px,#063163 42.5px,#0b3b70 48.5px,#2166ab 58.5px,#4190c2 81.5px,#68b0d3 110.5px,#94c6df 189.5px,#aed3e6 259.5px,#acd2e6 265.5px,#a5cfe3 266.5px,#8fc4dd 267.5px,#63acd0 268.5px,#4a98c6 269.5px,#4796c5 270.5px,#4e9bc8 271.5px,#70b4d5 274.5px,#7cbad8 276.5px,#80bcd9 285.5px,#7bbad8 561px)"></div>
<div style="height:2px;background:linear-gradient(90deg,#69001f 0px,#69001f 9.5px,#053061 10.5px,#063163 42.5px,#0b3b70 48.5px,#2166ab 58.5px,#4190c2 81.5px,#68b0d3 110.5px,#94c6df 189.5px,#aed3e6 260.5px,#aed3e6 265.5px,#acd2e5 266.5px,#a4cee3 267.5px,#8bc1dc 268.5px,#5ea9cf 269.5px,#4897c5 270.5px,#4796c5 271.5px,#5aa5cd 273.5px,#70b4d5 275.5px,#7cbad8 277.5px,#80bcd9 289.5px,#7bbad8 561px)"></div>
<div style="height:2px;background:linear-gradient(90deg,#69001f 0px,#69001f 9.5px,#053061 10.5px,#063163 42.5px,#0b3b70 48.5px,#2166ab 58.5px,#4190c2 81.5px,#68b0d3 110.5px,#94c6df 189.5px,#aed3e6 261.5px,#aed3e6 266.5px,#abd2e5 267.5px,#a2cde3 268.5px,#86bfdb 269.5px,#59a5cd 270.5px,#4796c5 271.5px,#4796c5 272.5px,#5ba6cd 274.5px,#71b4d5 276.5px,#7dbbd8 279.5px,#7fbcd9 384.5px,#7bbad8 561px)"></div>
<div style="height:2px;background:linear-gradient(90deg,#69001f 0px,#69001f 9.5px,#053061 10.5px,#063163 42.5px,#0b3b70 48.5px,#2166ab 58.5px,#4190c2 81.5px,#68b0d3 110.5px,#94c6df 189.5px,#aed3e6 262.5px,#aed3e6 267.5px,#abd2e5 268.5px,#a0cce2 269.5px,#80bcd9 270.5px,#55a1cb 271.5px,#4595c4 272.5px,#4695c4 273.5px,#67afd2 276.5px,#76b7d6 278.5px,#7dbbd8 282.5px,#80bcd9 370.5px,#7bbad8 561px)"></div>
<div style="height:2px;background:linear-gradient(90deg,#69001f 0px,#69001f 9.5px,#053061 10.5px,#063163 42.5px,#0b3b70 48.5px,#2166ab 58.5px,#4190c2 81.5px,#68b0d3 110.5px,#94c6de 188.5px,#aed3e6 264.5px,#aed3e6 268.5px,#aad1e5 269.5px,#9dcbe1 270.5px,#7ab9d7 271.5px,#509dc8 272.5px,#4393c3 273.5px,#4595c4 274.5px,#65aed1 277.5px,#74b6d6 279.5px,#7cbad8 284.5px,#80bcd9 310.5px,#7bbad8 561px)"></div>
<div style="height:2px;background:linear-gradient(90deg,#69001f 0px,#69001f 9.5px,#053061 10.5px,#063163 42.5px,#0b3b70 48.5px,#2166ab 58.5px,#4190c2 81.5px,#68b0d3 110.5px,#94c6de 188.5px,#afd4e6 265.5px,#add3e6 269.5px,#a8d0e4 270.5px,#99c9e0 271.5px,#71b5d5 272.5px,#4a99c6 273.5px,#4292c2 274.5px,#4493c3 275.5px,#6bb1d3 279.5px,#76b7d6 282.5px,#80bcd9 296.5px,#7bbad8 561px)"></div>
<div style="height:2px;background:linear-gradient(90deg,#69001f 0px,#69001f 9.5px,#053061 10.5px,#063163 42.5px,#0b3b70 48.5px,#2166ab 58.5px,#4190c2 81.5px,#68b0d3 110.5px,#93c6de 188.5px,#aed3e6 269.5px,#a6cfe4 271.5px,#93c6de 272.5px,#67aed1 273.5px,#4494c3 274.5px,#408fc1 275.5px,#4191c2 276.5px,#67afd2 280.5px,#74b6d6 284.5px,#7fbcd9 295.5px,#7bbad8 561px)"></div>
<div style="height:2px;background:linear-gradient(90deg,#69001f 0px,#69001f 9.5px,#053061 10.5px,#063163 42.5px,#0b3b70 48.5px,#2166ab 58.5px,#4190c2 81.5px,#68b0d3 110.5px,#93c6de 188.5px,#aed3e6 270.5px,#abd2e5 271.5px,#a3cee3 272.5px,#8bc1dc 273.5px,#5ba6cd 274.5px,#408fc1 275.5px,#3e8cbf 276.5px,#4595c4 278.5px,#64add1 281.5px,#73b5d5 285.5px,#7fbbd9 294.5px,#7bbad8 561px)"></div>
<div style="height:2px;background:linear-gradient(90deg,#69001f 0px,#69001f 9.5px,#053061 10.5px,#063163 42.5px,#0b3b70 48.5px,#2166ac 58.5px,#4190c2 81.5px,#68b0d3 110.5px,#93c6de 188.5px,#aed3e6 270.5px,#a9d1e4 272.5px,#9ecbe2 273.5px,#80bcd9 274.5px,#4f9cc8 275.5px,#3d8cbf 276.5px,#3c89be 277.5px,#4493c3 279.5px,#63acd1 282.5px,#73b5d6 286.5px,#7fbbd9 294.5px,#7bbad8 561px)"></div>
<div style="height:2px;background:linear-gradient(90deg,#69001f 0px,#69001f 9.5px,#053061 10.5px,#063163 42.5px,#0b3b70 48.5px,#2166ac 58.5px,#4190c2 81.5px,#68b0d3 110.5px,#93c6de 188.5px,#add3e6 271.5px,#a3cee3 273.5px,#8fc3dd 274.5px,#61aacf 275.5px,#3f8ec0 276.5px,#3b88be 277.5px,#408fc1 279.5px,#60aacf 282.5px,#6fb4d5 285.5px,#7ebbd9 293.5px,#7cbad8 533.5px,#7bbad8 561px)"></div>
<div style="height:2px;background:linear-gradient(90deg,#69001f 0px,#69001f 9.5px,#053061 10.5px,#063263 42.5px,#0b3b70 48.5px,#2166ac 58.5px,#4190c2 81.5px,#68b0d3 110.5px,#93c6de 188.5px,#aed3e6 270.5px,#a7cfe4 272.5px,#97c8df 273.5px,#6db2d4 274.5px,#4493c3 275.5px,#3d8bbf 276.5px,#4190c1 278.5px,#66afd2 282.5px,#78b8d7 288.5px,#80bcd9 298.5px,#7bbad8 561px)"></div>
<div style="height:2px;background:linear-gradient(90deg,#69001f 0px,#69001f 9.5px,#053061 10.5px,#063263 42.5px,#0b3b70 48.5px,#2166ac 58.5px,#4190c2 81.5px,#68b0d3 110.5px,#93c6de 188.5px,#afd4e6 269.5px,#a9d1e5 271.5px,#9dcbe1 272.5px,#7ab9d7 273.5px,#4c9ac7 274.5px,#408fc1 275.5px,#4392c3 277.5px,#61abd0 280.5px,#70b4d5 283.5px,#7fbbd9 293.5px,#7bbad8 561px)"></div>
<div style="height:2px;background:linear-gradient(90deg,#69001f 0px,#69001f 9.5px,#053061 10.5px,#063263 42.5px,#0b3b70 48.5px,#2166ac 58.5px,#4190c2 81.5px,#68b0d3 110.5px,#94c6de 188.5px,#aed3e6 265.5px,#aed3e6 269.5px,#abd2e5 270.5px,#a1cde2 271.5px,#84beda 272.5px,#56a2cb 273.5px,#4292c2 274.5px,#4191c2 275.5px,#4695c4 276.5px,#65aed1 279.5px,#73b6d6 282.5px,#7fbcd9 294.5px,#7bbad8 561px)"></div>
<div style="height:2px;background:linear-gradient(90deg,#69001f 0px,#69001f 9.5px,#053061 10.5px,#063263 42.5px,#0b3b70 48.5px,#2166ac 58.5px,#4190c2 81.5px,#68b0d3 110.5px,#94c6de 188.5px,#aed3e6 264.5px,#acd2e5 269.5px,#a4cee3 270.5px,#8cc2dc 271.5px,#5ea9cf 272.5px,#4595c4 273.5px,#4392c3 274.5px,#4897c5 275.5px,#69b0d3 278.5px,#77b7d7 281.5px,#80bcd9 297.5px,#7bbad8 561px)"></div>
<div style="height:2px;background:linear-gradient(90deg,#69001f 0px,#69001f 9.5px,#053061 10.5px,#063263 42.5px,#0b3b70 48.5px,#2166ac 58.5px,#4190c2 81.5px,#68b0d3 110.5px,#94c6de 188.5px,#aed3e6 263.5px,#add3e6 268.5px,#a6cfe4 269.5px,#92c5de 270.5px,#66add1 271.5px,#4897c5 272.5px,#4494c3 273.5px,#4998c6 274.5px,#6bb1d3 277.5px,#77b8d7 279.5px,#7fbcd9 290.5px,#7bbad8 561px)"></div>
<div style="height:2px;background:linear-gradient(90deg,#69001f 0px,#69001f 9.5px,#053061 10.5px,#063263 42.5px,#0b3b71 48.5px,#2166ac 58.5px,#4190c2 81.5px,#68b0d3 110.5px,#94c6df 189.5px,#aed3e6 262.5px,#add3e6 267.5px,#a7d0e4 268.5px,#96c7df 269.5px,#6cb1d3 270.5px,#4b99c6 271.5px,#4595c4 272.5px,#4a98c6 273.5px,#6cb2d4 276.5px,#79b9d7 278.5px,#7fbbd9 285.5px,#7bbad8 561px)"></div>
<div style="height:2px;background:linear-gradient(90deg,#69001f 0px,#69001f 9.5px,#053061 10.5px,#063263 42.5px,#0b3b71 48.5px,#2166ac 58.5px,#4191c2 81.5px,#68b0d3 110.5px,#94c6df 189.5px,#aed3e6 261.5px,#add3e6 266.5px,#a9d0e4 267.5px,#99c9e0 268.5px,#72b5d5 269.5px,#4d9bc7 270.5px,#4695c4 271.5px,#4a98c6 272.5px,#6cb2d4 275.5px,#7ab9d7 277.5px,#7fbcd9 282.5px,#7bbad8 561px)"></div>
<div style="height:2px;background:linear-gradient(90deg,#69001f 0px,#69001f 9.5px,#053061 10.5px,#063264 42.5px,#0b3c71 48.5px,#2166ac 58.5px,#4191c2 81.5px,#68b0d3 110.5px,#94c6df 189.5px,#aed3e6 260.5px,#aed3e6 265.5px,#a9d1e5 266.5px,#9ccae1 267.5px,#77b8d7 268.5px,#509ec9 269.5px,#4796c5 270.5px,#4998c6 271.5px,#6bb2d3 274.5px,#7ab9d7 276.5px,#80bcd9 281.5px,#7bbad8 561px)"></div>
<div style="height:2px;background:linear-gradient(90deg,#69001f 0px,#69001f 9.5px,#053061 10.5px,#063264 42.5px,#0b3c71 48.5px,#2166ac 58.5px,#4191c2 81.5px,#68b0d2 109.5px,#94c6df 189.5px,#aed3e6 259.5px,#aed3e6 264.5px,#aad1e5 265.5px,#9ecbe2 266.5px,#7dbbd8 267.5px,#54a1ca 268.5px,#4897c5 269.5px,#4998c6 270.5px,#6ab1d3 273.5px,#7ab9d7 275.5px,#80bcd9 279.5px,#7bbad8 561px)"></div>
<div style="height:2px;background:linear-gradient(90deg,#69001f 0px,#69001f 9.5px,#053061 10.5px,#053062 41.5px,#0b3c72 48.5px,#2167ac 58.5px,#4191c2 81.5px,#68b0d3 109.5px,#94c6df 189.5px,#aed3e6 258.5px,#aed3e6 263.5px,#abd2e5 264.5px,#a1cde2 265.5px,#84beda 266.5px,#59a4cc 267.5px,#4998c6 268.5px,#4998c6 269.5px,#69b1d3 272.5px,#79b9d7 274.5px,#80bcd9 278.5px,#7bbad8 561px)"></div>
<div style="height:2px;background:linear-gradient(90deg,#69001f 0px,#69001f 9.5px,#053061 10.5px,#053162 41.5px,#0b3c72 48.5px,#2167ac 58.5px,#4191c2 81.5px,#68b0d3 109.5px,#95c6df 189.5px,#aed3e6 257.5px,#aed3e6 262.5px,#acd2e5 263.5px,#a3cee3 264.5px,#8bc1dc 265.5px,#5fa9cf 266.5px,#4b99c6 267.5px,#4998c6 268.5px,#5ca7ce 270.5px,#72b5d5 272.5px,#7ebbd9 275.5px,#7bbad8 561px)"></div>
<div style="height:2px;background:linear-gradient(90deg,#69001f 0px,#69001f 9.5px,#053061 10.5px,#053162 41.5px,#0b3c72 48.5px,#2267ac 58.5px,#4191c2 81.5px,#68b0d3 109.5px,#95c6df 189.5px,#aed3e6 256.5px,#acd2e6 262.5px,#a6cfe4 263.5px,#92c5de 264.5px,#68afd2 265.5px,#4d9bc7 266.5px,#4a98c6 267.5px,#4f9dc8 268.5px,#70b4d5 271.5px,#7cbad8 273.5px,#80bcd9 281.5px,#7bbad8 561px)"></div>
<div style="height:2px;background:linear-gradient(90deg,#69001f 0px,#69001f 9.5px,#053061 10.5px,#053162 41.5px,#0b3d72 48.5px,#2267ac 58.5px,#4191c2 81.5px,#68b0d3 109.5px,#95c7df 190.5px,#add3e6 255.5px,#add3e6 261.5px,#a8d0e4 262.5px,#99c9e0 263.5px,#519ec9 265.5px,#4a99c6 266.5px,#4e9cc8 267.5px,#6eb3d4 270.5px,#7bbad8 272.5px,#80bcd9 278.5px,#7bbad8 561px)"></div>
<div style="height:2px;background:linear-gradient(90deg,#69001f 0px,#69001f 9.5px,#053061 10.5px,#053162 41.5px,#0c3d73 48.5px,#2267ac 58.5px,#4191c2 81.5px,#68b0d3 109.5px,#95c7df 190.5px,#add3e6 254.5px,#aed3e6 260.5px,#aad1e5 261.5px,#9ecbe2 262.5px,#7ebbd9 263.5px,#57a3cc 264.5px,#4c9ac7 265.5px,#4d9bc7 266.5px,#6cb2d4 269.5px,#7ab9d8 271.5px,#80bcd9 276.5px,#7bbad8 561px)"></div>
<div style="height:2px;background:linear-gradient(90deg,#69001f 0px,#69001f 9.5px,#053061 10.5px,#053162 41.5px,#0c3d73 48.5px,#2267ad 58.5px,#4191c2 81.5px,#68b0d3 109.5px,#95c7df 190.5px,#add3e6 253.5px,#aed3e6 259.5px,#abd2e5 260.5px,#a3cee3 261.5px,#8ac1dc 262.5px,#60aacf 263.5px,#4e9cc8 264.5px,#4d9bc7 265.5px,#5fa9cf 267.5px,#73b5d6 269.5px,#7fbbd9 272.5px,#7bbad8 561px)"></div>
<div style="height:2px;background:linear-gradient(90deg,#69001f 0px,#69001f 9.5px,#053061 10.5px,#053162 41.5px,#0c3d73 48.5px,#2064a9 57.5px,#4191c2 81.5px,#68b0d3 109.5px,#95c7df 190.5px,#add3e6 252.5px,#acd2e6 259.5px,#a6cfe4 260.5px,#94c6df 261.5px,#6cb2d3 262.5px,#519ec9 263.5px,#4d9bc7 264.5px,#529fca 265.5px,#71b5d5 268.5px,#7ebbd9 271.5px,#7cbad8 531.5px,#7bbad8 561px)"></div>
<div style="height:2px;background:linear-gradient(90deg,#69001f 0px,#69001f 9.5px,#053061 10.5px,#063162 41.5px,#0c3d74 48.5px,#2064aa 57.5px,#4191c2 81.5px,#68b0d3 109.5px,#95c7df 190.5px,#add3e6 251.5px,#add3e6 258.5px,#a9d1e5 259.5px,#9bcae1 260.5px,#56a2cb 262.5px,#4f9cc8 263.5px,#519ec9 264.5px,#6fb3d4 267.5px,#7bbad8 269.5px,#80bcd9 275.5px,#7bbad8 561px)"></div>
<div style="height:2px;background:linear-gradient(90deg,#69001f 0px,#69001f 8.5px,#053061 10.5px,#063162 41.5px,#0c3e74 48.5px,#2065aa 57.5px,#4190c2 80.5px,#68b0d3 109.5px,#95c7df 190.5px,#acd2e6 250.5px,#aed3e6 257.5px,#abd2e5 258.5px,#a1cde2 259.5px,#86bfdb 260.5px,#5ea9cf 261.5px,#519ec9 262.5px,#519ec9 263.5px,#75b6d6 267.5px,#7fbbd9 270.5px,#7bbad8 561px)"></div>
<div style="height:2px;background:linear-gradient(90deg,#69001f 0px,#69001f 8.5px,#053061 9.5px,#063163 41.5px,#0c3e74 48.5px,#2065aa 57.5px,#4190c2 80.5px,#68b0d3 109.5px,#96c7df 191.5px,#acd2e5 249.5px,#aed3e6 256.5px,#a5cfe3 258.5px,#91c5de 259.5px,#6ab1d3 260.5px,#54a0ca 261.5px,#519ec9 262.5px,#60aacf 264.5px,#79b8d7 267.5px,#80bcd9 271.5px,#7bbad8 561px)"></div>
<div style="height:2px;background:linear-gradient(90deg,#69001f 0px,#69001f 8.5px,#053061 9.5px,#063163 41.5px,#0a3b70 47.5px,#2165ab 57.5px,#4190c2 80.5px,#68b0d3 109.5px,#96c7df 191.5px,#acd2e5 248.5px,#add3e6 256.5px,#a8d0e4 257.5px,#9ac9e0 258.5px,#59a4cc 260.5px,#529fc9 261.5px,#55a1cb 262.5px,#71b4d5 265.5px,#7ebbd9 268.5px,#7cbad8 506.5px,#7bbad8 561px)"></div>
<div style="height:2px;background:linear-gradient(90deg,#69001f 0px,#69001f 8.5px,#053061 9.5px,#063163 41.5px,#0a3b70 47.5px,#2165ab 57.5px,#4190c2 80.5px,#68b0d3 109.5px,#96c7df 191.5px,#acd2e5 247.5px,#add3e6 255.5px,#aad1e5 256.5px,#a0cce2 257.5px,#85bfda 258.5px,#60aad0 259.5px,#54a1ca 260.5px,#54a1ca 261.5px,#76b7d6 265.5px,#7fbcd9 268.5px,#7bbad8 561px)"></div>
<div style="height:2px;background:linear-gradient(90deg,#69001f 0px,#69001f 8.5px,#053061 9.5px,#063163 41.5px,#0b3b70 47.5px,#2166ab 57.5px,#4190c2 80.5px,#68b0d3 109.5px,#96c7df 191.5px,#acd2e5 247.5px,#aed3e6 254.5px,#a5cfe3 256.5px,#91c5de 257.5px,#6cb2d4 258.5px,#57a3cc 259.5px,#55a1cb 260.5px,#62acd0 262.5px,#7ab9d7 265.5px,#80bcd9 269.5px,#7bbad8 561px)"></div>
<div style="height:2px;background:linear-gradient(90deg,#69001f 0px,#69001f 8.5px,#053061 9.5px,#063263 41.5px,#0b3b70 47.5px,#2166ac 57.5px,#4190c2 80.5px,#68b0d3 109.5px,#96c7df 191.5px,#acd2e5 246.5px,#add3e6 254.5px,#a8d0e4 255.5px,#9ac9e0 256.5px,#5ca7ce 258.5px,#56a2cb 259.5px,#58a4cc 260.5px,#72b5d5 263.5px,#7ebbd9 266.5px,#7cbad8 520.5px,#7bbad8 561px)"></div>
<div style="height:2px;background:linear-gradient(90deg,#69001f 0px,#69001f 8.5px,#053061 9.5px,#063263 41.5px,#0b3b70 47.5px,#2166ac 57.5px,#4190c2 80.5px,#68b0d3 109.5px,#96c7df 191.5px,#abd2e5 245.5px,#add3e6 253.5px,#aad1e5 254.5px,#a1cde2 255.5px,#88c0db 256.5px,#65aed1 257.5px,#58a4cc 258.5px,#58a4cc 259.5px,#76b7d6 263.5px,#7fbcd9 266.5px,#7bbad8 561px)"></div>
<div style="height:2px;background:linear-gradient(90deg,#69001f 0px,#69001f 8.5px,#053061 9.5px,#063263 41.5px,#0b3b71 47.5px,#2166ac 57.5px,#4190c2 80.5px,#68b0d3 109.5px,#96c7df 191.5px,#abd2e5 244.5px,#aed3e6 252.5px,#a6cfe4 254.5px,#94c6df 255.5px,#71b4d5 256.5px,#5ca7ce 257.5px,#58a4cc 258.5px,#64add1 260.5px,#7ab9d7 263.5px,#80bcd9 268.5px,#7bbad8 561px)"></div>
<div style="height:2px;background:linear-gradient(90deg,#69001f 0px,#69001f 8.5px,#053061 9.5px,#063264 41.5px,#0b3b71 47.5px,#2166ac 57.5px,#4191c2 80.5px,#68b0d3 109.5px,#96c7df 191.5px,#abd2e5 243.5px,#add3e6 252.5px,#a9d1e4 253.5px,#9ccae1 254.5px,#61abd0 256.5px,#5aa5cd 257.5px,#5ba6cd 258.5px,#78b8d7 262.5px,#80bcd9 266.5px,#7bbad8 561px)"></div>
<div style="height:2px;background:linear-gradient(90deg,#69001f 0px,#69001f 8.5px,#053061 9.5px,#063264 41.5px,#0b3c71 47.5px,#2166ac 57.5px,#4191c2 80.5px,#68b0d2 108.5px,#96c7df 191.5px,#abd2e5 243.5px,#add3e6 251.5px,#abd2e5 252.5px,#a3cde3 253.5px,#8dc3dd 254.5px,#6bb1d3 255.5px,#5da8ce 256.5px,#5ba6cd 257.5px,#7bbad8 262.5px,#80bcd9 268.5px,#7bbad8 561px)"></div>
<div style="height:2px;background:linear-gradient(90deg,#69001f 0px,#69001f 8.5px,#053061 9.5px,#053062 40.5px,#0b3c72 47.5px,#2167ac 57.5px,#4191c2 80.5px,#68b0d2 108.5px,#96c7df 191.5px,#abd2e5 242.5px,#acd2e5 251.5px,#a7d0e4 252.5px,#98c8e0 253.5px,#78b8d7 254.5px,#61abd0 255.5px,#5ca7ce 256.5px,#65aed2 258.5px,#7ab9d7 261.5px,#80bcd9 266.5px,#7bbad8 561px)"></div>
<div style="height:2px;background:linear-gradient(90deg,#69001f 0px,#69001f 8.5px,#053061 9.5px,#053162 40.5px,#0b3c72 47.5px,#2267ac 57.5px,#4191c2 80.5px,#68b0d3 108.5px,#96c7df 191.5px,#abd1e5 241.5px,#add3e6 250.5px,#a9d1e5 251.5px,#9fcce2 252.5px,#86bfdb 253.5px,#68b0d2 254.5px,#5ea9cf 255.5px,#5ea9cf 256.5px,#7cbad8 261.5px,#80bcd9 271.5px,#7bbad8 561px)"></div>
<div style="height:2px;background:linear-gradient(90deg,#69001f 0px,#69001f 8.5px,#053061 9.5px,#053162 40.5px,#0c3d72 47.5px,#2267ac 57.5px,#4191c2 80.5px,#68b0d3 108.5px,#96c7df 191.5px,#aad1e5 240.5px,#add3e6 249.5px,#a5cee3 251.5px,#93c6de 252.5px,#73b6d6 253.5px,#62acd0 254.5px,#5fa9cf 255.5px,#69b0d3 257.5px,#7bbad8 260.5px,#80bcd9 266.5px,#7bbad8 561px)"></div>
<div style="height:2px;background:linear-gradient(90deg,#69001f 0px,#69001f 8.5px,#053061 9.5px,#053162 40.5px,#0c3d73 47.5px,#2267ac 57.5px,#4191c2 80.5px,#68b0d3 108.5px,#96c7df 191.5px,#aad1e5 240.5px,#acd2e6 249.5px,#a8d0e4 250.5px,#9ccae1 251.5px,#67afd2 253.5px,#60aad0 254.5px,#67afd2 256.5px,#7ab9d7 259.5px,#80bcd9 264.5px,#7bbad8 561px)"></div>
<div style="height:2px;background:linear-gradient(90deg,#69001f 0px,#69001f 8.5px,#053061 9.5px,#053162 40.5px,#0c3d73 47.5px,#2267ad 57.5px,#4191c2 80.5px,#68b0d3 108.5px,#96c7df 191.5px,#aad1e5 239.5px,#add3e6 248.5px,#aad1e5 249.5px,#a2cde3 250.5px,#8ec3dd 251.5px,#70b4d5 252.5px,#63add1 253.5px,#61abd0 254.5px,#7cbad8 259.5px,#80bcd9 268.5px,#7bbad8 561px)"></div>
<div style="height:2px;background:linear-gradient(90deg,#69001f 0px,#69001f 8.5px,#053061 9.5px,#063162 40.5px,#0c3d74 47.5px,#2064aa 56.5px,#4191c2 80.5px,#68b0d3 108.5px,#96c7df 191.5px,#aad1e5 238.5px,#add3e6 247.5px,#a7cfe4 249.5px,#99c8e0 250.5px,#7cbad8 251.5px,#67b0d2 252.5px,#62acd0 253.5px,#6ab1d3 255.5px,#7bb9d8 258.5px,#80bcd9 264.5px,#7bbad8 561px)"></div>
<div style="height:2px;background:linear-gradient(90deg,#69001f 0px,#69001f 8.5px,#053061 9.5px,#063162 40.5px,#0c3e74 47.5px,#2065aa 56.5px,#4190c2 79.5px,#68b0d3 108.5px,#96c7df 191.5px,#aad1e5 238.5px,#add2e6 247.5px,#a9d1e5 248.5px,#a0cce2 249.5px,#8ac1dc 250.5px,#6eb3d4 251.5px,#65aed1 252.5px,#64add1 253.5px,#7dbad8 258.5px,#80bcd9 275.5px,#7bbad8 561px)"></div>
<div style="height:2px;background:linear-gradient(90deg,#69001f 0px,#69001f 8.5px,#053061 9.5px,#063163 40.5px,#0c3e74 47.5px,#2065ab 56.5px,#4190c2 79.5px,#68b0d3 108.5px,#96c7df 191.5px,#aad1e5 238.5px,#add3e6 246.5px,#a5cfe3 248.5px,#96c7df 249.5px,#79b9d7 250.5px,#68b0d3 251.5px,#65aed1 252.5px,#6cb2d4 254.5px,#7cbad8 257.5px,#80bcd9 265.5px,#7bbad8 561px)"></div>
<div style="height:2px;background:linear-gradient(90deg,#69001f 0px,#69001f 8.5px,#053061 9.5px,#063163 40.5px,#0a3b70 46.5px,#2165ab 56.5px,#4190c2 79.5px,#68b0d3 108.5px,#96c7df 191.5px,#aad1e5 237.5px,#acd2e5 246.5px,#a8d0e4 247.5px,#9ecbe1 248.5px,#6eb3d4 250.5px,#66afd2 251.5px,#6bb1d3 253.5px,#7dbbd8 257.5px,#80bcd9 341.5px,#7bbad8 561px)"></div>
<div style="height:2px;background:linear-gradient(90deg,#69001f 0px,#69001f 8.5px,#053061 9.5px,#063163 40.5px,#0b3b70 46.5px,#2166ab 56.5px,#4190c2 79.5px,#68b0d3 108.5px,#96c7df 191.5px,#aad1e5 237.5px,#add3e6 245.5px,#a3cee3 247.5px,#92c5de 248.5px,#77b7d7 249.5px,#6ab1d3 250.5px,#67afd2 251.5px,#7cbad8 256.5px,#80bcd9 269.5px,#7bbad8 561px)"></div>
<div style="height:2px;background:linear-gradient(90deg,#69001f 0px,#69001f 8.5px,#053061 9.5px,#063163 40.5px,#0b3b70 46.5px,#2166ac 56.5px,#4190c2 79.5px,#68b0d3 108.5px,#96c7df 191.5px,#a9d1e5 236.5px,#acd2e5 245.5px,#a7d0e4 246.5px,#9bcae1 247.5px,#6eb3d4 249.5px,#68b0d3 250.5px,#6db2d4 252.5px,#7ebbd8 256.5px,#7dbbd8 473.5px,#7bbad8 561px)"></div>
<div style="height:2px;background:linear-gradient(90deg,#69001f 0px,#69001f 8.5px,#053061 9.5px,#063263 40.5px,#0b3b70 46.5px,#2166ac 56.5px,#4190c2 79.5px,#68b0d3 108.5px,#96c7df 191.5px,#aad1e5 236.5px,#acd2e6 244.5px,#aad1e5 245.5px,#a2cde2 246.5px,#90c4dd 247.5px,#76b7d6 248.5px,#6bb2d3 249.5px,#69b0d3 250.5px,#7dbbd8 255.5px,#80bcd9 287.5px,#7bbad8 561px)"></div>
<div style="height:2px;background:linear-gradient(90deg,#69001f 0px,#69001f 8.5px,#053061 9.5px,#063263 40.5px,#0b3b70 46.5px,#2166ac 56.5px,#4190c2 79.5px,#68b0d3 108.5px,#96c7df 191.5px,#aad1e5 236.5px,#abd2e5 244.5px,#a6cfe4 245.5px,#99c9e0 246.5px,#81bcd9 247.5px,#6fb4d5 248.5px,#6ab1d3 249.5px,#6fb4d4 251.5px,#7ebbd9 255.5px,#7dbad8 499.5px,#7bbad8 561px)"></div>
<div style="height:2px;background:linear-gradient(90deg,#69001f 0px,#69001f 8.5px,#053061 9.5px,#063263 40.5px,#0b3b71 46.5px,#2166ac 56.5px,#4190c2 79.5px,#68b0d3 108.5px,#96c7df 191.5px,#a9d1e5 235.5px,#acd2e5 243.5px,#a9d1e5 244.5px,#a0cce2 245.5px,#76b7d6 247.5px,#6db2d4 248.5px,#6eb3d4 250.5px,#7ebbd8 254.5px,#7dbbd8 458.5px,#7bbad8 561px)"></div>
<div style="height:2px;background:linear-gradient(90deg,#69001f 0px,#69001f 8.5px,#053061 9.5px,#063264 40.5px,#0b3c71 46.5px,#2166ac 56.5px,#4191c2 79.5px,#68b0d3 108.5px,#96c7df 191.5px,#aad1e5 235.5px,#add2e6 242.5px,#a5cfe3 244.5px,#98c8e0 245.5px,#80bcd9 246.5px,#71b4d5 247.5px,#6cb2d4 248.5px,#76b7d6 251.5px,#7fbcd9 255.5px,#7bbad8 561px)"></div>
<div style="height:2px;background:linear-gradient(90deg,#69001f 0px,#69001f 8.5px,#053061 9.5px,#053062 39.5px,#0b3c72 46.5px,#2167ac 56.5px,#4191c2 79.5px,#68b0d2 107.5px,#96c7df 191.5px,#a9d1e5 234.5px,#acd2e5 242.5px,#a8d0e4 243.5px,#9fcce2 244.5px,#76b7d6 246.5px,#6eb3d4 247.5px,#70b4d5 249.5px,#7ebbd9 253.5px,#7dbbd8 476.5px,#7bbad8 561px)"></div>
<div style="height:2px;background:linear-gradient(90deg,#69001f 0px,#69001f 8.5px,#053061 9.5px,#053162 39.5px,#0b3c72 46.5px,#2167ac 56.5px,#4191c2 79.5px,#68b0d2 107.5px,#96c7df 191.5px,#a9d1e5 234.5px,#acd2e6 241.5px,#a4cee3 243.5px,#97c7df 244.5px,#80bcd9 245.5px,#72b5d5 246.5px,#6eb3d4 247.5px,#7fbbd9 253.5px,#7bbad8 561px)"></div>
<div style="height:2px;background:linear-gradient(90deg,#69001f 0px,#69001f 8.5px,#053061 9.5px,#053162 39.5px,#0b3d72 46.5px,#2267ac 56.5px,#4191c2 79.5px,#68b0d2 107.5px,#96c7df 191.5px,#a9d1e5 233.5px,#abd2e5 241.5px,#a8d0e4 242.5px,#9fcbe2 243.5px,#78b8d7 245.5px,#70b4d5 246.5px,#71b5d5 248.5px,#7ebbd9 252.5px,#7dbad8 492.5px,#7bbad8 561px)"></div>
<div style="height:2px;background:linear-gradient(90deg,#69001f 0px,#69001f 8.5px,#053061 9.5px,#053162 39.5px,#0c3d73 46.5px,#2267ac 56.5px,#4191c2 79.5px,#68b0d2 107.5px,#96c7df 191.5px,#a9d1e5 233.5px,#acd2e5 240.5px,#a4cee3 242.5px,#97c7df 243.5px,#81bcd9 244.5px,#74b6d6 245.5px,#70b4d5 247.5px,#7fbbd9 252.5px,#7bbad8 561px)"></div>
<div style="height:2px;background:linear-gradient(90deg,#69001f 0px,#69001f 8.5px,#053061 9.5px,#053162 39.5px,#0c3d73 46.5px,#2267ad 56.5px,#4191c2 79.5px,#68b0d2 107.5px,#96c7df 191.5px,#a9d1e5 233.5px,#abd2e5 240.5px,#a8d0e4 241.5px,#9fcbe2 242.5px,#79b9d7 244.5px,#72b5d5 245.5px,#72b5d5 247.5px,#7fbcd9 252.5px,#7bbad8 561px)"></div>
<div style="height:2px;background:linear-gradient(90deg,#69001f 0px,#69001f 8.5px,#053061 9.5px,#053162 39.5px,#0c3d73 46.5px,#2064a9 55.5px,#4191c2 79.5px,#68b0d2 107.5px,#96c7df 191.5px,#a9d1e4 232.5px,#acd2e5 239.5px,#a4cee3 241.5px,#97c8e0 242.5px,#82bdda 243.5px,#76b7d6 244.5px,#72b5d5 246.5px,#7fbbd9 251.5px,#7bbad8 561px)"></div>
<div style="height:2px;background:linear-gradient(90deg,#69001f 0px,#69001f 8.5px,#053061 9.5px,#063162 39.5px,#0c3e74 46.5px,#2064aa 55.5px,#4190c1 78.5px,#68b0d2 107.5px,#96c7df 191.5px,#a9d1e5 232.5px,#abd2e5 239.5px,#a8d0e4 240.5px,#9fcce2 241.5px,#7bbad8 243.5px,#74b6d6 244.5px,#73b6d6 246.5px,#7fbcd9 251.5px,#7bbad8 561px)"></div>
<div style="height:2px;background:linear-gradient(90deg,#69001f 0px,#69001f 7.5px,#053061 9.5px,#063162 39.5px,#0c3e74 46.5px,#2065aa 55.5px,#4190c1 78.5px,#68b0d3 107.5px,#96c7df 191.5px,#a9d1e5 232.5px,#aad1e5 239.5px,#a5cfe3 240.5px,#99c8e0 241.5px,#85beda 242.5px,#78b8d7 243.5px,#73b5d5 245.5px,#80bcd9 251.5px,#7bbad8 561px)"></div>
<div style="height:2px;background:linear-gradient(90deg,#69001f 0px,#69001f 7.5px,#053061 8.5px,#063163 39.5px,#0c3e75 46.5px,#2065ab 55.5px,#4190c2 78.5px,#68b0d3 107.5px,#96c7df 191.5px,#a8d0e4 231.5px,#abd2e5 238.5px,#a0cce2 240.5px,#7ebbd8 242.5px,#75b7d6 243.5px,#74b6d6 245.5px,#7fbcd9 250.5px,#7bbad8 561px)"></div>
<div style="height:2px;background:linear-gradient(90deg,#69001f 0px,#69001f 7.5px,#053061 8.5px,#063163 39.5px,#0a3b70 45.5px,#2165ab 55.5px,#4190c2 78.5px,#68b0d3 107.5px,#96c7df 191.5px,#a9d0e4 231.5px,#aad1e5 238.5px,#a6cfe4 239.5px,#9bc9e1 240.5px,#7ab9d7 242.5px,#74b6d6 244.5px,#80bcd9 250.5px,#7bbad8 561px)"></div>
<div style="height:2px;background:linear-gradient(90deg,#69001f 0px,#69001f 7.5px,#053061 8.5px,#063163 39.5px,#0b3b70 45.5px,#2165ab 55.5px,#4190c2 78.5px,#68b0d3 107.5px,#96c7df 191.5px,#a9d1e5 231.5px,#abd2e5 237.5px,#a2cde3 239.5px,#94c6df 240.5px,#81bcd9 241.5px,#78b8d7 242.5px,#75b6d6 244.5px,#80bcd9 250.5px,#7bbad8 561px)"></div>
<div style="height:2px;background:linear-gradient(90deg,#69001f 0px,#69001f 7.5px,#053061 8.5px,#063163 39.5px,#0b3b70 45.5px,#2166ac 55.5px,#4190c2 78.5px,#68b0d3 107.5px,#96c7df 190.5px,#a8d0e4 230.5px,#aad1e5 237.5px,#a6cfe4 238.5px,#9dcbe1 239.5px,#7dbad8 241.5px,#75b6d6 243.5px,#7fbcd9 249.5px,#7bbad8 561px)"></div>
<div style="height:2px;background:linear-gradient(90deg,#69001f 0px,#69001f 7.5px,#053061 8.5px,#063263 39.5px,#0b3b70 45.5px,#2166ac 55.5px,#4190c2 78.5px,#68b0d3 107.5px,#96c7df 190.5px,#a8d0e4 229.5px,#abd2e5 236.5px,#a3cee3 238.5px,#97c8df 239.5px,#85beda 240.5px,#7ab9d7 241.5px,#75b7d6 243.5px,#80bcd9 249.5px,#7bbad8 561px)"></div>
<div style="height:2px;background:linear-gradient(90deg,#69001f 0px,#69001f 7.5px,#053061 8.5px,#063263 39.5px,#0b3b70 45.5px,#2166ac 55.5px,#4190c2 78.5px,#68b0d3 107.5px,#96c7df 190.5px,#a8d0e4 229.5px,#aad1e5 236.5px,#9fcce2 238.5px,#7fbcd9 240.5px,#76b7d6 242.5px,#80bcd9 249.5px,#7bbad8 561px)"></div>
<div style="height:2px;background:linear-gradient(90deg,#69001f 0px,#69001f 7.5px,#053061 8.5px,#063263 39.5px,#0b3b71 45.5px,#2166ac 55.5px,#4190c2 78.5px,#68b0d3 107.5px,#96c7df 190.5px,#a8d0e4 229.5px,#a9d1e5 236.5px,#a5cee3 237.5px,#9ac9e0 238.5px,#7cbad8 240.5px,#76b7d6 242.5px,#80bcd9 249.5px,#7bbad8 561px)"></div>
<div style="height:2px;background:linear-gradient(90deg,#69001f 0px,#69001f 7.5px,#053061 8.5px,#063264 39.5px,#0b3c71 45.5px,#2166ac 55.5px,#4190c2 78.5px,#68b0d3 107.5px,#96c7df 190.5px,#a7d0e4 228.5px,#aad1e5 235.5px,#a1cde2 237.5px,#83bdda 239.5px,#7ab9d7 240.5px,#77b7d7 242.5px,#80bcd9 248.5px,#7bbad8 561px)"></div>
<div style="height:2px;background:linear-gradient(90deg,#69001f 0px,#69001f 7.5px,#053061 8.5px,#063264 39.5px,#0b3c71 45.5px,#2166ac 55.5px,#4190c2 78.5px,#68b0d3 107.5px,#96c7df 190.5px,#a7d0e4 228.5px,#aad1e5 235.5px,#a6cfe4 236.5px,#9dcbe1 237.5px,#7fbbd9 239.5px,#77b7d7 241.5px,#80bcd9 248.5px,#7bbad8 561px)"></div>
<div style="height:2px;background:linear-gradient(90deg,#69001f 0px,#69001f 7.5px,#053061 8.5px,#053062 38.5px,#0b3c72 45.5px,#2167ac 55.5px,#4191c2 78.5px,#68b0d2 106.5px,#96c7df 190.5px,#a8d0e4 228.5px,#aad1e5 234.5px,#a3cee3 236.5px,#98c8e0 237.5px,#87bfdb 238.5px,#7cbad8 239.5px,#77b8d7 241.5px,#80bcd9 248.5px,#7bbad8 561px)"></div>
<div style="height:2px;background:linear-gradient(90deg,#69001f 0px,#69001f 7.5px,#053061 8.5px,#053162 38.5px,#0b3c72 45.5px,#2267ac 55.5px,#4191c2 78.5px,#68b0d2 106.5px,#96c7df 190.5px,#a7d0e4 227.5px,#aad1e5 234.5px,#9fcce2 236.5px,#82bdda 238.5px,#78b8d7 240.5px,#80bcd9 248.5px,#7bbad8 561px)"></div>
<div style="height:2px;background:linear-gradient(90deg,#69001f 0px,#69001f 7.5px,#053061 8.5px,#053162 38.5px,#0b3d72 45.5px,#2267ac 55.5px,#4191c2 78.5px,#68b0d2 106.5px,#96c7df 190.5px,#a7d0e4 227.5px,#a9d1e5 234.5px,#a5cee3 235.5px,#9bcae1 236.5px,#7fbbd9 238.5px,#78b8d7 240.5px,#80bcd9 248.5px,#7bbad8 561px)"></div>
<div style="height:2px;background:linear-gradient(90deg,#69001f 0px,#69001f 7.5px,#053061 8.5px,#053162 38.5px,#0c3d73 45.5px,#2267ac 55.5px,#4191c2 78.5px,#68b0d2 106.5px,#96c7df 190.5px,#a7d0e4 227.5px,#aad1e5 233.5px,#a2cde2 235.5px,#86bfdb 237.5px,#7dbad8 238.5px,#78b8d7 240.5px,#80bcd9 247.5px,#7bbad8 561px)"></div>
<div style="height:2px;background:linear-gradient(90deg,#69001f 0px,#69001f 7.5px,#053061 8.5px,#053162 38.5px,#0c3d73 45.5px,#2267ad 55.5px,#4191c2 78.5px,#68b0d2 106.5px,#95c7df 190.5px,#a7cfe4 226.5px,#a9d1e5 233.5px,#9ecbe1 235.5px,#82bdda 237.5px,#79b8d7 239.5px,#80bcd9 248.5px,#7bbad8 561px)"></div>
<div style="height:2px;background:linear-gradient(90deg,#69001f 0px,#69001f 7.5px,#053061 8.5px,#053162 38.5px,#0c3d73 45.5px,#2064a9 54.5px,#4191c2 78.5px,#68b0d2 106.5px,#95c7df 190.5px,#a7cfe4 226.5px,#a8d0e4 233.5px,#a4cee3 234.5px,#99c9e0 235.5px,#7fbcd9 237.5px,#79b8d7 239.5px,#80bcd9 247.5px,#7bbad8 561px)"></div>
<div style="height:2px;background:linear-gradient(90deg,#69001f 0px,#69001f 7.5px,#053061 8.5px,#063162 38.5px,#0c3e74 45.5px,#2064aa 54.5px,#4190c1 77.5px,#64add1 102.5px,#8cc2dc 171.5px,#a7d0e4 226.5px,#a9d1e5 232.5px,#a1cce2 234.5px,#85bfdb 236.5px,#7ab9d7 238.5px,#80bcd9 248.5px,#7bbad8 561px)"></div>
<div style="height:2px;background:linear-gradient(90deg,#69001f 0px,#69001f 7.5px,#053061 8.5px,#063162 38.5px,#0c3e74 45.5px,#2065aa 54.5px,#4190c1 77.5px,#68b0d2 106.5px,#95c7df 190.5px,#a6cfe4 225.5px,#a9d0e4 232.5px,#9dcbe1 234.5px,#82bdda 236.5px,#79b9d7 238.5px,#80bcd9 247.5px,#7bbad8 561px)"></div>
<div style="height:2px;background:linear-gradient(90deg,#69001f 0px,#69001f 7.5px,#053061 8.5px,#063163 38.5px,#0c3e74 45.5px,#2065aa 54.5px,#4190c1 77.5px,#68b0d2 106.5px,#95c7df 190.5px,#a6cfe4 225.5px,#a8d0e4 232.5px,#a3cee3 233.5px,#7fbcd9 236.5px,#7ab9d7 238.5px,#80bcd9 247.5px,#7bbad8 561px)"></div>
<div style="height:2px;background:linear-gradient(90deg,#69001f 0px,#69001f 7.5px,#053061 8.5px,#063163 38.5px,#0a3a70 44.5px,#2165ab 54.5px,#4190c2 77.5px,#68b0d2 106.5px,#95c7df 190.5px,#a6cfe4 225.5px,#a9d1e5 231.5px,#a0cce2 233.5px,#85bfda 235.5px,#7ab9d8 237.5px,#80bcd9 248.5px,#7bbad8 561px)"></div>
<div style="height:2px;background:linear-gradient(90deg,#69001f 0px,#69001f 7.5px,#053061 8.5px,#063163 38.5px,#0a3b70 44.5px,#2165ab 54.5px,#4190c2 77.5px,#68b0d2 106.5px,#95c7df 189.5px,#a6cfe4 224.5px,#a8d0e4 231.5px,#9ccae1 233.5px,#82bdda 235.5px,#7ab9d7 237.5px,#80bcd9 247.5px,#7bbad8 561px)"></div>
<div style="height:2px;background:linear-gradient(90deg,#69001f 0px,#69001f 7.5px,#053061 8.5px,#063163 38.5px,#0b3b70 44.5px,#2166ab 54.5px,#4190c2 77.5px,#68b0d2 106.5px,#95c7df 189.5px,#a6cfe4 224.5px,#a9d1e5 230.5px,#a2cde3 232.5px,#80bcd9 235.5px,#7ab9d8 237.5px,#80bcd9 247.5px,#7bbad8 561px)"></div>
<div style="height:2px;background:linear-gradient(90deg,#69001f 0px,#69001f 7.5px,#053061 8.5px,#063263 38.5px,#0b3b70 44.5px,#2166ac 54.5px,#4190c2 77.5px,#68b0d3 106.5px,#95c7df 189.5px,#a6cfe4 224.5px,#a8d0e4 230.5px,#9fcce2 232.5px,#85bfdb 234.5px,#7bb9d8 236.5px,#80bcd9 249.5px,#7bbad8 561px)"></div>
<div style="height:2px;background:linear-gradient(90deg,#69001f 0px,#69001f 7.5px,#053061 8.5px,#063263 38.5px,#0b3b70 44.5px,#2166ac 54.5px,#4190c2 77.5px,#68b0d3 106.5px,#95c7df 189.5px,#a5cfe4 223.5px,#a8d0e4 230.5px,#9ccae1 232.5px,#83bdda 234.5px,#7bb9d8 236.5px,#80bcd9 247.5px,#7bbad8 561px)"></div>
<div style="height:2px;background:linear-gradient(90deg,#69001f 0px,#69001f 7.5px,#053061 8.5px,#063263 38.5px,#0b3b71 44.5px,#2166ac 54.5px,#4190c2 77.5px,#68b0d3 106.5px,#95c7df 189.5px,#a5cfe4 223.5px,#a9d1e4 229.5px,#a2cde3 231.5px,#80bcd9 234.5px,#7bb9d8 236.5px,#80bcd9 247.5px,#7bbad8 561px)"></div>
<div style="height:2px;background:linear-gradient(90deg,#69001f 0px,#69001f 7.5px,#053061 8.5px,#063263 38.5px,#0b3b71 44.5px,#2166ac 54.5px,#4190c2 77.5px,#68b0d3 106.5px,#95c7df 189.5px,#a6cfe4 223.5px,#a8d0e4 229.5px,#9fcce2 231.5px,#86bfdb 233.5px,#7bbad8 235.5px,#80bcd9 249.5px,#7bbad8 561px)"></div>
<div style="height:2px;background:linear-gradient(90deg,#69001f 0px,#69001f 7.5px,#053061 8.5px,#063264 38.5px,#0b3c71 44.5px,#2166ac 54.5px,#4190c2 77.5px,#68b0d3 106.5px,#95c6df 189.5px,#a5cfe3 222.5px,#a7d0e4 229.5px,#9ccae1 231.5px,#83beda 233.5px,#7bbad8 235.5px,#80bcd9 248.5px,#7bbad8 561px)"></div>
<div style="height:2px;background:linear-gradient(90deg,#69001f 0px,#69001f 7.5px,#053061 8.5px,#053062 37.5px,#0b3c72 44.5px,#2166ac 54.5px,#4190c2 77.5px,#68b0d3 106.5px,#95c6df 189.5px,#a5cfe3 222.5px,#a7cfe4 229.5px,#a2cde3 230.5px,#81bcd9 233.5px,#7bbad8 235.5px,#80bcd9 247.5px,#7bbad8 561px)"></div>
<div style="height:2px;background:linear-gradient(90deg,#69001f 0px,#69001f 7.5px,#053061 8.5px,#053062 37.5px,#0b3c72 44.5px,#2167ac 54.5px,#4191c2 77.5px,#67b0d2 105.5px,#95c6df 189.5px,#a5cfe3 222.5px,#a8d0e4 228.5px,#9fcce2 230.5px,#87bfdb 232.5px,#7cbad8 234.5px,#80bcd9 252.5px,#7bbad8 561px)"></div>
<div style="height:2px;background:linear-gradient(90deg,#69001f 0px,#69001f 7.5px,#053061 8.5px,#053162 37.5px,#0b3c72 44.5px,#2267ac 54.5px,#4191c2 77.5px,#67b0d2 105.5px,#95c6df 189.5px,#a5cfe4 222.5px,#a7d0e4 228.5px,#9ccae1 230.5px,#84beda 232.5px,#7cbad8 234.5px,#80bcd9 249.5px,#7bbad8 561px)"></div>
<div style="height:2px;background:linear-gradient(90deg,#69001f 0px,#69001f 7.5px,#053061 8.5px,#053162 37.5px,#0c3d72 44.5px,#2267ac 54.5px,#4191c2 77.5px,#67b0d2 105.5px,#95c6df 189.5px,#a5cee3 221.5px,#a6cfe4 228.5px,#98c8e0 230.5px,#82bdda 232.5px,#7bbad8 234.5px,#80bcd9 248.5px,#7bbad8 561px)"></div>
<div style="height:2px;background:linear-gradient(90deg,#69001f 0px,#69001f 7.5px,#053061 8.5px,#053162 37.5px,#0c3d73 44.5px,#2267ac 54.5px,#4191c2 77.5px,#68b0d2 105.5px,#95c6df 189.5px,#a5cee3 221.5px,#a8d0e4 227.5px,#9fcce2 229.5px,#87c0db 231.5px,#7cbad8 233.5px,#80bcd9 256.5px,#7bbad8 561px)"></div>
<div style="height:2px;background:linear-gradient(90deg,#69001f 0px,#69001f 7.5px,#053061 8.5px,#053162 37.5px,#0c3d73 44.5px,#2267ad 54.5px,#4191c2 77.5px,#68b0d2 105.5px,#95c6df 189.5px,#a5cfe3 221.5px,#a7d0e4 227.5px,#9dcae1 229.5px,#85beda 231.5px,#7cbad8 233.5px,#80bcd9 251.5px,#7bbad8 561px)"></div>
<div style="height:2px;background:linear-gradient(90deg,#69001f 0px,#69001f 7.5px,#053061 8.5px,#053162 37.5px,#0c3d73 44.5px,#2064a9 53.5px,#4191c2 77.5px,#68b0d2 105.5px,#95c6df 189.5px,#a5cfe3 221.5px,#a6cfe4 227.5px,#99c9e0 229.5px,#82bdda 231.5px,#7cbad8 233.5px,#80bcd9 249.5px,#7bbad8 561px)"></div>
<div style="height:2px;background:linear-gradient(90deg,#69001f 0px,#69001f 7.5px,#053061 8.5px,#063162 37.5px,#0c3e74 44.5px,#2064aa 53.5px,#4190c1 76.5px,#64add1 101.5px,#8ac1dc 167.5px,#a4cee3 220.5px,#a7d0e4 226.5px,#a0cce2 228.5px,#88c0db 230.5px,#7dbad8 232.5px,#80bcd9 269.5px,#7bbad8 561px)"></div>
<div style="height:2px;background:linear-gradient(90deg,#69001f 0px,#69001f 7.5px,#053061 8.5px,#063162 37.5px,#0c3e74 44.5px,#2065aa 53.5px,#4190c1 76.5px,#68b0d2 105.5px,#95c6df 188.5px,#a4cee3 220.5px,#a7d0e4 226.5px,#9dcbe1 228.5px,#86bfdb 230.5px,#7cbad8 232.5px,#80bcd9 256.5px,#7bbad8 561px)"></div>
<div style="height:2px;background:linear-gradient(90deg,#69001f 0px,#69001f 7.5px,#053061 8.5px,#063163 37.5px,#0c3e74 44.5px,#2065aa 53.5px,#4190c1 76.5px,#68b0d2 105.5px,#95c6df 188.5px,#a5cee3 220.5px,#a6cfe4 226.5px,#9ac9e0 228.5px,#83beda 230.5px,#7cbad8 232.5px,#80bcd9 251.5px,#7bbad8 561px)"></div>
<div style="height:2px;background:linear-gradient(90deg,#69001f 0px,#69001f 7.5px,#053061 8.5px,#063163 37.5px,#0a3a70 43.5px,#2165ab 53.5px,#4190c2 76.5px,#68b0d2 105.5px,#95c6df 188.5px,#a4cee3 219.5px,#a7d0e4 225.5px,#a0cce2 227.5px,#81bdd9 230.5px,#7cbad8 232.5px,#80bcd9 250.5px,#7bbad8 561px)"></div>
<div style="height:2px;background:linear-gradient(90deg,#69001f 0px,#69001f 7.5px,#053061 8.5px,#063163 37.5px,#0a3b70 43.5px,#2165ab 53.5px,#4190c2 76.5px,#68b0d2 105.5px,#95c6df 188.5px,#a4cee3 219.5px,#a7d0e4 225.5px,#9ecbe1 227.5px,#87bfdb 229.5px,#7dbad8 231.5px,#80bcd9 268.5px,#7bbad8 561px)"></div>
<div style="height:2px;background:linear-gradient(90deg,#69001f 0px,#69001f 6.5px,#053061 7.5px,#063163 37.5px,#0b3b70 43.5px,#2166ab 53.5px,#4190c2 76.5px,#68b0d2 105.5px,#95c6df 188.5px,#a4cee3 219.5px,#a6cfe4 225.5px,#9bc9e1 227.5px,#84beda 229.5px,#7dbad8 231.5px,#80bcd9 257.5px,#7bbad8 561px)"></div>
<div style="height:2px;background:linear-gradient(90deg,#69001f 0px,#69001f 6.5px,#053061 7.5px,#063163 37.5px,#0b3b70 43.5px,#2166ac 53.5px,#4190c2 76.5px,#68b0d2 105.5px,#95c6df 188.5px,#a4cee3 219.5px,#a5cfe4 225.5px,#98c8e0 227.5px,#82bdda 229.5px,#7cbad8 231.5px,#80bcd9 254.5px,#7bbad8 561px)"></div>
<div style="height:2px;background:linear-gradient(90deg,#69001f 0px,#69001f 6.5px,#053061 7.5px,#063263 37.5px,#0b3b70 43.5px,#2166ac 53.5px,#4190c2 76.5px,#68b0d2 105.5px,#95c6df 188.5px,#a3cee3 218.5px,#a7cfe4 224.5px,#9fcbe2 226.5px,#88c0db 228.5px,#7dbbd8 230.5px,#80bcd9 343.5px,#7bbad8 561px)"></div>
<div style="height:2px;background:linear-gradient(90deg,#69001f 0px,#69001f 6.5px,#053061 7.5px,#063263 37.5px,#0b3b70 43.5px,#2166ac 53.5px,#4190c2 76.5px,#68b0d3 105.5px,#95c6df 188.5px,#a4cee3 218.5px,#a6cfe4 224.5px,#9ccae1 226.5px,#85bfdb 228.5px,#7dbad8 230.5px,#80bcd9 272.5px,#7bbad8 561px)"></div>
<div style="height:2px;background:linear-gradient(90deg,#69001f 0px,#69001f 6.5px,#053061 7.5px,#063263 37.5px,#0b3b71 43.5px,#2166ac 53.5px,#4190c2 76.5px,#68b0d3 105.5px,#95c6df 188.5px,#a4cee3 218.5px,#a5cfe4 224.5px,#99c8e0 226.5px,#83beda 228.5px,#7dbad8 230.5px,#80bcd9 262.5px,#7bbad8 561px)"></div>
<div style="height:2px;background:linear-gradient(90deg,#69001f 0px,#69001f 6.5px,#053061 7.5px,#063263 37.5px,#0b3b71 43.5px,#2166ac 53.5px,#4190c2 76.5px,#68b0d3 105.5px,#95c6df 188.5px,#a4cee3 218.5px,#a7cfe4 223.5px,#9fcce2 225.5px,#82bdda 228.5px,#7dbbd8 231.5px,#80bcd9 285.5px,#7bbad8 561px)"></div>
<div style="height:2px;background:linear-gradient(90deg,#69001f 0px,#69001f 6.5px,#053061 7.5px,#063264 37.5px,#0b3c71 43.5px,#2166ac 53.5px,#4190c2 76.5px,#68b0d3 105.5px,#95c6df 188.5px,#a4cee3 218.5px,#a6cfe4 223.5px,#9dcbe1 225.5px,#87bfdb 227.5px,#7dbbd8 229.5px,#80bcd9 371.5px,#7bbad8 561px)"></div>
<div style="height:2px;background:linear-gradient(90deg,#69001f 0px,#69001f 6.5px,#053061 7.5px,#053062 36.5px,#0b3c72 43.5px,#2166ac 53.5px,#4190c2 76.5px,#68b0d3 105.5px,#95c6df 188.5px,#a3cee3 217.5px,#a6cfe4 223.5px,#9ac9e0 225.5px,#85beda 227.5px,#7dbbd8 229.5px,#80bcd9 287.5px,#7bbad8 561px)"></div>
<div style="height:2px;background:linear-gradient(90deg,#69001f 0px,#69001f 6.5px,#053061 7.5px,#053062 36.5px,#0b3c72 43.5px,#2167ac 53.5px,#4191c2 76.5px,#68b0d3 105.5px,#95c6df 188.5px,#a4cee3 217.5px,#a5cfe3 223.5px,#97c8df 225.5px,#83bdda 227.5px,#7dbbd8 230.5px,#80bcd9 297.5px,#7bbad8 561px)"></div>
<div style="height:2px;background:linear-gradient(90deg,#69001f 0px,#69001f 6.5px,#053061 7.5px,#053162 36.5px,#0b3c72 43.5px,#2267ac 53.5px,#4191c2 76.5px,#67b0d2 104.5px,#95c6df 188.5px,#a4cee3 217.5px,#a6cfe4 222.5px,#9ecbe1 224.5px,#88c0db 226.5px,#7ebbd9 228.5px,#7dbbd8 471.5px,#7bbad8 561px)"></div>
<div style="height:2px;background:linear-gradient(90deg,#69001f 0px,#69001f 6.5px,#053061 7.5px,#053162 36.5px,#0c3d72 43.5px,#2267ac 53.5px,#4191c2 76.5px,#67b0d2 104.5px,#95c6df 188.5px,#a4cee3 217.5px,#a6cfe4 222.5px,#9ccae1 224.5px,#86bfdb 226.5px,#7ebbd8 228.5px,#7ebbd8 457.5px,#7bbad8 561px)"></div>
<div style="height:2px;background:linear-gradient(90deg,#69001f 0px,#69001f 6.5px,#053061 7.5px,#053162 36.5px,#0c3d73 43.5px,#2267ac 53.5px,#4191c2 76.5px,#67b0d2 104.5px,#95c6df 188.5px,#a4cee3 217.5px,#a5cfe3 222.5px,#99c8e0 224.5px,#84beda 226.5px,#7dbbd8 228.5px,#80bcd9 348.5px,#7bbad8 561px)"></div>
<div style="height:2px;background:linear-gradient(90deg,#69001f 0px,#69001f 6.5px,#053061 7.5px,#053162 36.5px,#0c3d73 43.5px,#2267ac 53.5px,#4191c2 76.5px,#68b0d2 104.5px,#94c6df 187.5px,#a3cee3 216.5px,#a4cee3 222.5px,#96c7df 224.5px,#82bdda 226.5px,#7ebbd8 229.5px,#7ebbd8 457.5px,#7bbad8 561px)"></div>
<div style="height:2px;background:linear-gradient(90deg,#69001f 0px,#69001f 6.5px,#053061 7.5px,#053162 36.5px,#0c3d73 43.5px,#2267ad 53.5px,#4191c2 76.5px,#68b0d2 104.5px,#94c6df 187.5px,#a3cee3 216.5px,#a6cfe4 221.5px,#9dcbe1 223.5px,#88c0db 225.5px,#7ebbd9 227.5px,#7dbbd8 477.5px,#7bbad8 561px)"></div>
<div style="height:2px;background:linear-gradient(90deg,#69001f 0px,#69001f 6.5px,#053061 7.5px,#053162 36.5px,#0c3d74 43.5px,#2064aa 52.5px,#4191c2 76.5px,#68b0d2 104.5px,#94c6df 187.5px,#a4cee3 216.5px,#a5cfe3 221.5px,#9ac9e0 223.5px,#86bfdb 225.5px,#7ebbd8 227.5px,#7dbbd8 464.5px,#7bbad8 561px)"></div>
<div style="height:2px;background:linear-gradient(90deg,#69001f 0px,#69001f 6.5px,#053061 7.5px,#063162 36.5px,#0c3e74 43.5px,#2064aa 52.5px,#4190c1 75.5px,#64add1 100.5px,#89c1dc 165.5px,#a3cee3 215.5px,#a4cee3 221.5px,#98c8e0 223.5px,#84beda 225.5px,#7ebbd8 228.5px,#7dbbd8 459.5px,#7bbad8 561px)"></div>
<div style="height:2px;background:linear-gradient(90deg,#69001f 0px,#69001f 6.5px,#053061 7.5px,#063162 36.5px,#0c3e74 43.5px,#2065aa 52.5px,#4190c1 75.5px,#68b0d2 104.5px,#94c6df 187.5px,#a3cee3 215.5px,#a6cfe4 220.5px,#9ecbe2 222.5px,#82bdda 225.5px,#7ebbd8 228.5px,#7dbbd8 467.5px,#7bbad8 561px)"></div>
<div style="height:2px;background:linear-gradient(90deg,#69001f 0px,#69001f 6.5px,#053061 7.5px,#063163 36.5px,#0c3e74 43.5px,#2065aa 52.5px,#4190c1 75.5px,#68b0d2 104.5px,#94c6df 187.5px,#a3cee3 215.5px,#a5cfe4 220.5px,#9ccae1 222.5px,#87c0db 224.5px,#7ebbd9 226.5px,#7dbad8 487.5px,#7bbad8 561px)"></div>
<div style="height:2px;background:linear-gradient(90deg,#69001f 0px,#69001f 6.5px,#053061 7.5px,#063163 36.5px,#0a3a70 42.5px,#2165ab 52.5px,#4190c2 75.5px,#68b0d2 104.5px,#94c6df 187.5px,#a3cee3 215.5px,#a5cfe3 220.5px,#9ac9e0 222.5px,#85bfdb 224.5px,#7ebbd9 226.5px,#7dbbd8 474.5px,#7bbad8 561px)"></div>
<div style="height:2px;background:linear-gradient(90deg,#69001f 0px,#69001f 6.5px,#053061 7.5px,#063163 36.5px,#0a3b70 42.5px,#2165ab 52.5px,#4190c2 75.5px,#68b0d2 104.5px,#94c6df 187.5px,#a4cee3 215.5px,#a4cee3 220.5px,#97c8df 222.5px,#84beda 224.5px,#7ebbd8 227.5px,#7dbbd8 468.5px,#7bbad8 561px)"></div>
<div style="height:2px;background:linear-gradient(90deg,#69001f 0px,#69001f 6.5px,#053061 7.5px,#063163 36.5px,#0b3b70 42.5px,#2166ab 52.5px,#4190c2 75.5px,#68b0d2 104.5px,#94c6df 187.5px,#a4cee3 215.5px,#a3cee3 220.5px,#94c6df 222.5px,#82bdda 224.5px,#7ebbd9 227.5px,#7dbbd8 476.5px,#7bbad8 561px)"></div>
<div style="height:2px;background:linear-gradient(90deg,#69001f 0px,#69001f 6.5px,#053061 7.5px,#063163 36.5px,#0b3b70 42.5px,#2166ac 52.5px,#4190c2 75.5px,#68b0d2 104.5px,#94c6df 187.5px,#a3cee3 214.5px,#a5cfe3 219.5px,#9ccae1 221.5px,#87c0db 223.5px,#7ebbd9 225.5px,#7cbad8 501.5px,#7bbad8 561px)"></div>
<div style="height:2px;background:linear-gradient(90deg,#69001f 0px,#69001f 6.5px,#053061 7.5px,#063263 36.5px,#0b3b70 42.5px,#2166ac 52.5px,#4190c2 75.5px,#68b0d2 104.5px,#94c6df 187.5px,#a3cee3 214.5px,#a4cee3 219.5px,#99c9e0 221.5px,#85bfdb 223.5px,#7ebbd9 225.5px,#7dbad8 486.5px,#7bbad8 561px)"></div>
<div style="height:2px;background:linear-gradient(90deg,#69001f 0px,#69001f 6.5px,#053061 7.5px,#063263 36.5px,#0b3b70 42.5px,#2166ac 52.5px,#4190c2 75.5px,#68b0d2 104.5px,#94c6df 187.5px,#a3cee3 214.5px,#a4cee3 219.5px,#97c7df 221.5px,#84beda 223.5px,#7ebbd9 226.5px,#7dbbd8 477.5px,#7bbad8 561px)"></div>
<div style="height:2px;background:linear-gradient(90deg,#69001f 0px,#69001f 6.5px,#053061 7.5px,#063263 36.5px,#0b3b70 42.5px,#2166ac 52.5px,#4190c2 75.5px,#68b0d3 104.5px,#94c6df 187.5px,#a3cee3 214.5px,#a3cee3 219.5px,#94c6df 221.5px,#83bdda 223.5px,#7ebbd9 226.5px,#7dbad8 485.5px,#7bbad8 561px)"></div>
<div style="height:2px;background:linear-gradient(90deg,#69001f 0px,#69001f 6.5px,#053061 7.5px,#063263 36.5px,#0b3b71 42.5px,#2166ac 52.5px,#4190c2 75.5px,#68b0d3 104.5px,#95c6df 187.5px,#a4cee3 214.5px,#a5cfe3 218.5px,#9ccae1 220.5px,#87c0db 222.5px,#7fbbd9 224.5px,#7cbad8 521.5px,#7bbad8 561px)"></div>
<div style="height:2px;background:linear-gradient(90deg,#69001f 0px,#69001f 6.5px,#053061 7.5px,#063263 36.5px,#0b3c71 42.5px,#2166ac 52.5px,#4190c2 75.5px,#68b0d3 104.5px,#95c6df 187.5px,#a4cee3 214.5px,#a4cee3 218.5px,#99c9e0 220.5px,#86bfdb 222.5px,#7ebbd9 224.5px,#7cbad8 502.5px,#7bbad8 561px)"></div>
<div style="height:2px;background:linear-gradient(90deg,#69001f 0px,#69001f 6.5px,#053061 7.5px,#063264 36.5px,#0b3c71 42.5px,#2166ac 52.5px,#4190c2 75.5px,#68b0d3 104.5px,#95c6df 187.5px,#a4cee3 214.5px,#a4cee3 218.5px,#97c7df 220.5px,#84beda 222.5px,#7ebbd9 225.5px,#7dbad8 487.5px,#7bbad8 561px)"></div>
<div style="height:2px;background:linear-gradient(90deg,#69001f 0px,#69001f 6.5px,#053061 7.5px,#053062 35.5px,#0b3c72 42.5px,#2166ac 52.5px,#4190c2 75.5px,#68b0d3 104.5px,#95c6df 187.5px,#a4cee3 214.5px,#a3cee3 218.5px,#94c6df 220.5px,#83bdda 222.5px,#7ebbd9 225.5px,#7dbad8 495.5px,#7bbad8 561px)"></div>
<div style="height:2px;background:linear-gradient(90deg,#69001f 0px,#69001f 6.5px,#053061 7.5px,#053062 35.5px,#0b3c72 42.5px,#2167ac 52.5px,#4191c2 75.5px,#68b0d3 104.5px,#95c6df 188.5px,#a5cee3 217.5px,#9ccae1 219.5px,#88c0db 221.5px,#7fbbd9 223.5px,#7bbad8 551.5px,#7bbad8 561px)"></div>
<div style="height:2px;background:linear-gradient(90deg,#69001f 0px,#69001f 6.5px,#053061 7.5px,#053162 35.5px,#0b3c72 42.5px,#2167ac 52.5px,#4191c2 75.5px,#67b0d2 103.5px,#95c6df 187.5px,#a4cee3 213.5px,#a4cee3 217.5px,#99c9e0 219.5px,#86bfdb 221.5px,#7fbbd9 223.5px,#7cbad8 524.5px,#7bbad8 561px)"></div>
<div style="height:2px;background:linear-gradient(90deg,#69001f 0px,#69001f 6.5px,#053061 7.5px,#053162 35.5px,#0b3c72 42.5px,#2267ac 52.5px,#4191c2 75.5px,#67b0d2 103.5px,#95c6df 187.5px,#a4cee3 213.5px,#a3cee3 217.5px,#97c8df 219.5px,#85beda 221.5px,#7ebbd9 224.5px,#7dbad8 497.5px,#7bbad8 561px)"></div>
<div style="height:2px;background:linear-gradient(90deg,#69001f 0px,#69001f 6.5px,#053061 7.5px,#053162 35.5px,#0c3d73 42.5px,#2267ac 52.5px,#4191c2 75.5px,#67b0d2 103.5px,#95c6df 187.5px,#a4cee3 213.5px,#a3cee3 217.5px,#95c6df 219.5px,#83beda 221.5px,#7ebbd9 224.5px,#7cbad8 504.5px,#7bbad8 561px)"></div>
<div style="height:2px;background:linear-gradient(90deg,#69001f 0px,#69001f 6.5px,#053061 7.5px,#053162 35.5px,#0c3d73 42.5px,#2267ac 52.5px,#4191c2 75.5px,#67b0d2 103.5px,#95c6df 187.5px,#a4cee3 216.5px,#9ccae1 218.5px,#82bdda 221.5px,#7fbcd9 225.5px,#7bbad8 561px)"></div>
<div style="height:2px;background:linear-gradient(90deg,#69001f 0px,#69001f 6.5px,#053061 7.5px,#053162 35.5px,#0c3d73 42.5px,#2267ad 52.5px,#4191c2 75.5px,#68b0d2 103.5px,#95c6df 187.5px,#a4cee3 216.5px,#9ac9e0 218.5px,#87bfdb 220.5px,#7fbcd9 222.5px,#7bbad8 561px)"></div>
<div style="height:2px;background:linear-gradient(90deg,#69001f 0px,#69001f 5.5px,#053061 6.5px,#053162 35.5px,#0c3d73 42.5px,#2064a9 51.5px,#4191c2 75.5px,#68b0d2 103.5px,#95c7df 188.5px,#a3cee3 216.5px,#98c8e0 218.5px,#85bfdb 220.5px,#7fbbd9 223.5px,#7cbad8 508.5px,#7bbad8 561px)"></div>
<div style="height:2px;background:linear-gradient(90deg,#69001f 0px,#69001f 5.5px,#053061 6.5px,#053162 35.5px,#0c3d74 42.5px,#2064aa 51.5px,#4191c2 75.5px,#68b0d2 103.5px,#95c7df 188.5px,#a5cee3 215.5px,#9ecbe1 217.5px,#84beda 220.5px,#7fbbd9 223.5px,#7cbad8 515.5px,#7bbad8 561px)"></div>
<div style="height:2px;background:linear-gradient(90deg,#69001f 0px,#69001f 5.5px,#053061 6.5px,#063162 35.5px,#0c3e74 42.5px,#2064aa 51.5px,#4190c1 74.5px,#64add1 99.5px,#89c1dc 164.5px,#a2cde3 210.5px,#a4cee3 215.5px,#9ccae1 217.5px,#83bdda 220.5px,#7fbcd9 224.5px,#7bbad8 561px)"></div>
<div style="height:2px;background:linear-gradient(90deg,#69001f 0px,#69001f 5.5px,#053061 6.5px,#063162 35.5px,#0c3e74 42.5px,#2065aa 51.5px,#4190c1 74.5px,#68b0d2 103.5px,#95c7df 188.5px,#a4cee3 215.5px,#9ac9e0 217.5px,#88c0db 219.5px,#7fbcd9 221.5px,#7bbad8 561px)"></div>
<div style="height:2px;background:linear-gradient(90deg,#69001f 0px,#69001f 5.5px,#053061 6.5px,#063163 35.5px,#0c3e74 42.5px,#2065aa 51.5px,#4190c1 74.5px,#68b0d2 103.5px,#95c7df 188.5px,#a3cee3 215.5px,#98c8e0 217.5px,#86bfdb 219.5px,#7fbbd9 222.5px,#7cbad8 521.5px,#7bbad8 561px)"></div>
<div style="height:2px;background:linear-gradient(90deg,#69001f 0px,#69001f 5.5px,#053061 6.5px,#063163 35.5px,#0a3a70 41.5px,#2165ab 51.5px,#4190c2 74.5px,#68b0d2 103.5px,#95c7df 188.5px,#a5cee3 214.5px,#9fcbe2 216.5px,#85beda 219.5px,#7fbbd9 222.5px,#7cbad8 526.5px,#7bbad8 561px)"></div>
<div style="height:2px;background:linear-gradient(90deg,#69001f 0px,#69001f 5.5px,#053061 6.5px,#063163 35.5px,#0a3b70 41.5px,#2165ab 51.5px,#4190c2 74.5px,#68b0d2 103.5px,#95c7df 188.5px,#a4cee3 214.5px,#9dcbe1 216.5px,#84beda 219.5px,#7fbcd9 223.5px,#7bbad8 561px)"></div>
<div style="height:2px;background:linear-gradient(90deg,#69001f 0px,#69001f 5.5px,#053061 6.5px,#063163 35.5px,#0a3b70 41.5px,#2165ab 51.5px,#4190c2 74.5px,#68b0d2 103.5px,#95c7df 188.5px,#a4cee3 214.5px,#9bcae1 216.5px,#83bdda 219.5px,#7fbcd9 223.5px,#7bbad8 561px)"></div>
<div style="height:2px;background:linear-gradient(90deg,#69001f 0px,#69001f 5.5px,#053061 6.5px,#063163 35.5px,#0b3b70 41.5px,#2166ab 51.5px,#4190c2 74.5px,#68b0d2 103.5px,#95c7df 188.5px,#a4cee3 214.5px,#99c9e0 216.5px,#87c0db 218.5px,#7fbbd9 221.5px,#7cbad8 538.5px,#7bbad8 561px)"></div>
<div style="height:2px;background:linear-gradient(90deg,#69001f 0px,#69001f 5.5px,#053061 6.5px,#063163 35.5px,#0b3b70 41.5px,#2166ac 51.5px,#4190c2 74.5px,#68b0d2 103.5px,#95c7df 188.5px,#a3cee3 214.5px,#97c8e0 216.5px,#86bfdb 218.5px,#7fbbd9 221.5px,#7cbad8 541.5px,#7bbad8 561px)"></div>
<div style="height:2px;background:linear-gradient(90deg,#69001f 0px,#69001f 5.5px,#053061 6.5px,#063263 35.5px,#0b3b70 41.5px,#2166ac 51.5px,#4190c2 74.5px,#68b0d2 103.5px,#95c7df 188.5px,#a4cee3 213.5px,#9ecbe1 215.5px,#85beda 218.5px,#7fbbd9 221.5px,#7bbad8 546.5px,#7bbad8 561px)"></div>
<div style="height:2px;background:linear-gradient(90deg,#69001f 0px,#69001f 5.5px,#053061 6.5px,#063263 35.5px,#0b3b70 41.5px,#2166ac 51.5px,#4190c2 74.5px,#68b0d2 103.5px,#96c7df 188.5px,#a4cee3 213.5px,#9ccae1 215.5px,#84beda 218.5px,#7fbcd9 222.5px,#7bbad8 561px)"></div>
<div style="height:2px;background:linear-gradient(90deg,#69001f 0px,#69001f 5.5px,#053061 6.5px,#063263 35.5px,#0b3b70 41.5px,#2166ac 51.5px,#4190c2 74.5px,#68b0d3 103.5px,#96c7df 188.5px,#a4cee3 213.5px,#9bc9e0 215.5px,#83bdda 218.5px,#80bcd9 223.5px,#7bbad8 561px)"></div>
<div style="height:2px;background:linear-gradient(90deg,#69001f 0px,#69001f 5.5px,#053061 6.5px,#063263 35.5px,#0b3b71 41.5px,#2166ac 51.5px,#4190c2 74.5px,#68b0d3 103.5px,#96c7df 189.5px,#a3cee3 213.5px,#99c8e0 215.5px,#87bfdb 217.5px,#7fbcd9 220.5px,#7bbad8 561px)"></div>
<div style="height:2px;background:linear-gradient(90deg,#69001f 0px,#69001f 5.5px,#053061 6.5px,#063263 35.5px,#0b3b71 41.5px,#2166ac 51.5px,#4190c2 74.5px,#68b0d3 103.5px,#96c7df 189.5px,#a4cee3 212.5px,#9fcbe2 214.5px,#86bfdb 217.5px,#7fbcd9 220.5px,#7bbad8 561px)"></div>
<div style="height:2px;background:linear-gradient(90deg,#69001f 0px,#69001f 5.5px,#053061 6.5px,#063264 35.5px,#0b3c71 41.5px,#2166ac 51.5px,#4190c2 74.5px,#68b0d3 103.5px,#96c7df 189.5px,#a4cee3 212.5px,#9dcbe1 214.5px,#85beda 217.5px,#7fbcd9 220.5px,#7bbad8 561px)"></div>
<div style="height:2px;background:linear-gradient(90deg,#69001f 0px,#69001f 5.5px,#053061 6.5px,#063264 35.5px,#0b3c71 41.5px,#2166ac 51.5px,#4190c2 74.5px,#68b0d3 103.5px,#96c7df 189.5px,#a4cee3 212.5px,#9ccae1 214.5px,#84beda 217.5px,#7fbcd9 221.5px,#7bbad8 561px)"></div>
<div style="height:2px;background:linear-gradient(90deg,#69001f 0px,#69001f 5.5px,#053061 6.5px,#053062 34.5px,#0b3c72 41.5px,#2167ac 51.5px,#4191c2 74.5px,#68b0d3 103.5px,#97c7df 190.5px,#a3cee3 212.5px,#9ac9e0 214.5px,#83bdda 217.5px,#80bcd9 222.5px,#7bbad8 561px)"></div>
<div style="height:2px;background:linear-gradient(90deg,#69001f 0px,#69001f 5.5px,#053061 6.5px,#053062 34.5px,#0b3c72 41.5px,#2167ac 51.5px,#4191c2 74.5px,#67b0d2 102.5px,#96c7df 189.5px,#a3cee3 212.5px,#98c8e0 214.5px,#87bfdb 216.5px,#7fbcd9 219.5px,#7bbad8 561px)"></div>
<div style="height:2px;background:linear-gradient(90deg,#69001f 0px,#69001f 5.5px,#053061 6.5px,#053162 34.5px,#0b3c72 41.5px,#2267ac 51.5px,#4191c2 74.5px,#67b0d2 102.5px,#97c7df 190.5px,#a4cee3 211.5px,#9ecbe2 213.5px,#86bfdb 216.5px,#7fbcd9 219.5px,#7bbad8 561px)"></div>
<div style="height:2px;background:linear-gradient(90deg,#69001f 0px,#69001f 5.5px,#053061 6.5px,#053162 34.5px,#0b3d72 41.5px,#2267ac 51.5px,#4191c2 74.5px,#67b0d2 102.5px,#97c7df 190.5px,#a4cee3 211.5px,#9dcbe1 213.5px,#85beda 216.5px,#7fbcd9 220.5px,#7bbad8 561px)"></div>
<div style="height:2px;background:linear-gradient(90deg,#69001f 0px,#69001f 5.5px,#053061 6.5px,#053162 34.5px,#0c3d73 41.5px,#2267ac 51.5px,#4191c2 74.5px,#67b0d2 102.5px,#97c7df 190.5px,#a4cee3 211.5px,#9ccae1 213.5px,#84beda 216.5px,#7fbcd9 220.5px,#7bbad8 561px)"></div>
<div style="height:2px;background:linear-gradient(90deg,#69001f 0px,#69001f 5.5px,#053061 6.5px,#053162 34.5px,#0c3d73 41.5px,#2267ac 51.5px,#4191c2 74.5px,#67b0d2 102.5px,#97c8df 191.5px,#a3cee3 211.5px,#9ac9e0 213.5px,#83beda 216.5px,#80bcd9 221.5px,#7bbad8 561px)"></div>
<div style="height:2px;background:linear-gradient(90deg,#69001f 0px,#69001f 5.5px,#053061 6.5px,#053162 34.5px,#0c3d73 41.5px,#2267ad 51.5px,#4191c2 74.5px,#68b0d2 102.5px,#97c8e0 191.5px,#a3cee3 211.5px,#98c8e0 213.5px,#87c0db 215.5px,#7fbcd9 218.5px,#7bbad8 561px)"></div>
<div style="height:2px;background:linear-gradient(90deg,#69001f 0px,#69001f 5.5px,#053061 6.5px,#053162 34.5px,#0c3d73 41.5px,#2064a9 50.5px,#4191c2 74.5px,#68b0d2 102.5px,#98c8e0 192.5px,#a4cee3 210.5px,#9ecbe2 212.5px,#86bfdb 215.5px,#7fbcd9 218.5px,#7bbad8 561px)"></div>
<div style="height:2px;background:linear-gradient(90deg,#69001f 0px,#69001f 5.5px,#053061 6.5px,#053162 34.5px,#0c3d74 41.5px,#2064aa 50.5px,#4191c2 74.5px,#68b0d2 102.5px,#98c8e0 193.5px,#a4cee3 210.5px,#9dcbe1 212.5px,#85bfda 215.5px,#80bcd9 219.5px,#7bbad8 561px)"></div>
<div style="height:2px;background:linear-gradient(90deg,#69001f 0px,#69001f 5.5px,#053061 6.5px,#063162 34.5px,#0c3e74 41.5px,#2064aa 50.5px,#4190c1 73.5px,#64add1 98.5px,#8ac1dc 164.5px,#a3cee3 207.5px,#a1cde2 211.5px,#84beda 215.5px,#80bcd9 219.5px,#7bbad8 561px)"></div>
<div style="height:2px;background:linear-gradient(90deg,#69001f 0px,#69001f 5.5px,#053061 6.5px,#063162 34.5px,#0c3e74 41.5px,#2065aa 50.5px,#4190c1 73.5px,#68b0d2 102.5px,#a2cde3 206.5px,#a3cee3 210.5px,#9ac9e0 212.5px,#84beda 215.5px,#80bcd9 220.5px,#7bbad8 561px)"></div>
<div style="height:2px;background:linear-gradient(90deg,#69001f 0px,#69001f 5.5px,#053061 6.5px,#063163 34.5px,#0c3e74 41.5px,#2065aa 50.5px,#4190c1 73.5px,#68b0d2 102.5px,#a2cde3 206.5px,#a3cee3 210.5px,#99c8e0 212.5px,#83bdda 215.5px,#80bcd9 223.5px,#7bbad8 561px)"></div>
<div style="height:2px;background:linear-gradient(90deg,#69001f 0px,#69001f 5.5px,#053061 6.5px,#063163 34.5px,#0a3a6f 40.5px,#2065ab 50.5px,#4190c1 73.5px,#68b0d2 102.5px,#a2cde2 205.5px,#a2cde3 210.5px,#97c8df 212.5px,#87bfdb 214.5px,#80bcd9 217.5px,#7bbad8 561px)"></div>
<div style="height:2px;background:linear-gradient(90deg,#69001f 0px,#69001f 5.5px,#053061 6.5px,#063163 34.5px,#0a3a70 40.5px,#2165ab 50.5px,#4190c2 73.5px,#68b0d2 102.5px,#a2cde2 205.5px,#a2cde3 210.5px,#95c7df 212.5px,#86bfdb 214.5px,#80bcd9 217.5px,#7bbad8 561px)"></div>
<div style="height:2px;background:linear-gradient(90deg,#69001f 0px,#69001f 4.5px,#053061 6.5px,#063163 34.5px,#0a3b70 40.5px,#2165ab 50.5px,#4190c2 73.5px,#68b0d2 102.5px,#a2cde3 205.5px,#a1cde2 210.5px,#85beda 214.5px,#80bcd9 218.5px,#7bbad8 561px)"></div>
<div style="height:2px;background:linear-gradient(90deg,#69001f 0px,#69001f 4.5px,#053061 5.5px,#063163 34.5px,#0b3b70 40.5px,#2165ab 50.5px,#4190c2 73.5px,#68b0d2 102.5px,#a2cde3 205.5px,#a3cee3 209.5px,#9bc9e0 211.5px,#84beda 214.5px,#80bcd9 219.5px,#7bbad8 561px)"></div>
<div style="height:2px;background:linear-gradient(90deg,#69001f 0px,#69001f 4.5px,#053061 5.5px,#063163 34.5px,#0b3b70 40.5px,#2166ab 50.5px,#4190c2 73.5px,#68b0d2 102.5px,#a2cde3 205.5px,#a3cee3 209.5px,#99c9e0 211.5px,#83beda 214.5px,#80bcd9 220.5px,#7bbad8 561px)"></div>
<div style="height:2px;background:linear-gradient(90deg,#69001f 0px,#69001f 4.5px,#053061 5.5px,#063163 34.5px,#0b3b70 40.5px,#2166ac 50.5px,#4190c2 73.5px,#68b0d2 102.5px,#a2cde3 205.5px,#a2cde3 209.5px,#98c8e0 211.5px,#83bdda 214.5px,#80bcd9 226.5px,#7bbad8 561px)"></div>
<div style="height:2px;background:linear-gradient(90deg,#69001f 0px,#69001f 4.5px,#053061 5.5px,#063263 34.5px,#0b3b70 40.5px,#2166ac 50.5px,#4190c2 73.5px,#68b0d2 102.5px,#a2cde3 205.5px,#a2cde3 209.5px,#96c7df 211.5px,#86bfdb 213.5px,#80bcd9 216.5px,#7bbad8 561px)"></div>
<div style="height:2px;background:linear-gradient(90deg,#69001f 0px,#69001f 4.5px,#053061 5.5px,#063263 34.5px,#0b3b70 40.5px,#2166ac 50.5px,#4190c2 73.5px,#68b0d2 102.5px,#a2cde2 204.5px,#a1cde2 209.5px,#85bfdb 213.5px,#80bcd9 217.5px,#7bbad8 561px)"></div>
<div style="height:2px;background:linear-gradient(90deg,#69001f 0px,#69001f 4.5px,#053061 5.5px,#063263 34.5px,#0b3b70 40.5px,#2166ac 50.5px,#4190c2 73.5px,#68b0d3 102.5px,#a2cde3 204.5px,#a3cee3 208.5px,#9bcae1 210.5px,#85beda 213.5px,#80bcd9 217.5px,#7bbad8 561px)"></div>
<div style="height:2px;background:linear-gradient(90deg,#69001f 0px,#69001f 4.5px,#053061 5.5px,#063263 34.5px,#0b3b71 40.5px,#2166ac 50.5px,#4190c2 73.5px,#68b0d3 102.5px,#a2cde3 204.5px,#a3cee3 208.5px,#9ac9e0 210.5px,#84beda 213.5px,#80bcd9 218.5px,#7bbad8 561px)"></div>
<div style="height:2px;background:linear-gradient(90deg,#69001f 0px,#69001f 4.5px,#053061 5.5px,#063263 34.5px,#0b3b71 40.5px,#2166ac 50.5px,#4190c2 73.5px,#68b0d3 102.5px,#a2cde3 204.5px,#a2cde3 208.5px,#98c8e0 210.5px,#83beda 213.5px,#80bcd9 221.5px,#7bbad8 561px)"></div>
<div style="height:2px;background:linear-gradient(90deg,#69001f 0px,#69001f 4.5px,#053061 5.5px,#063264 34.5px,#0b3c71 40.5px,#2166ac 50.5px,#4190c2 73.5px,#68b0d3 102.5px,#a2cde3 204.5px,#a2cde3 208.5px,#97c7df 210.5px,#83bdda 213.5px,#80bcd9 232.5px,#7bbad8 561px)"></div>
<div style="height:2px;background:linear-gradient(90deg,#69001f 0px,#69001f 4.5px,#053061 5.5px,#063264 34.5px,#0b3c71 40.5px,#2166ac 50.5px,#4190c2 73.5px,#68b0d3 102.5px,#a2cde3 204.5px,#a2cde2 208.5px,#95c7df 210.5px,#86bfdb 212.5px,#80bcd9 216.5px,#7bbad8 561px)"></div>
<div style="height:2px;background:linear-gradient(90deg,#69001f 0px,#69001f 4.5px,#053061 5.5px,#053062 33.5px,#0b3c72 40.5px,#2167ac 50.5px,#4191c2 73.5px,#68b0d3 102.5px,#a2cde2 203.5px,#a1cde2 208.5px,#85bfda 212.5px,#80bcd9 216.5px,#7bbad8 561px)"></div>
<div style="height:2px;background:linear-gradient(90deg,#69001f 0px,#69001f 4.5px,#053061 5.5px,#053062 33.5px,#0b3c72 40.5px,#2167ac 50.5px,#4191c2 73.5px,#67b0d2 101.5px,#a2cde3 203.5px,#a3cee3 207.5px,#9ac9e0 209.5px,#84beda 212.5px,#80bcd9 217.5px,#7bbad8 561px)"></div>
<div style="height:2px;background:linear-gradient(90deg,#69001f 0px,#69001f 4.5px,#053061 5.5px,#053162 33.5px,#0b3c72 40.5px,#2267ac 50.5px,#4191c2 73.5px,#67b0d2 101.5px,#a2cde3 203.5px,#a3cde3 207.5px,#99c9e0 209.5px,#84beda 212.5px,#80bcd9 218.5px,#7bbad8 561px)"></div>
<div style="height:2px;background:linear-gradient(90deg,#69001f 0px,#69001f 4.5px,#053061 5.5px,#053162 33.5px,#0b3c72 40.5px,#2267ac 50.5px,#4191c2 73.5px,#67b0d2 101.5px,#a2cde3 203.5px,#a2cde3 207.5px,#98c8e0 209.5px,#83beda 212.5px,#80bcd9 222.5px,#7bbad8 561px)"></div>
<div style="height:2px;background:linear-gradient(90deg,#69001f 0px,#69001f 4.5px,#053061 5.5px,#053162 33.5px,#0c3d73 40.5px,#2267ac 50.5px,#4191c2 73.5px,#67b0d2 101.5px,#a2cde3 203.5px,#a2cde2 207.5px,#96c7df 209.5px,#83bdda 212.5px,#80bcd9 237.5px,#7bbad8 561px)"></div>
<div style="height:2px;background:linear-gradient(90deg,#69001f 0px,#69001f 4.5px,#053061 5.5px,#053162 33.5px,#0c3d73 40.5px,#2267ac 50.5px,#4191c2 73.5px,#67b0d2 101.5px,#a2cde3 203.5px,#a1cde2 207.5px,#86bfdb 211.5px,#80bcd9 215.5px,#7bbad8 561px)"></div>
<div style="height:2px;background:linear-gradient(90deg,#69001f 0px,#69001f 4.5px,#053061 5.5px,#053162 33.5px,#0c3d73 40.5px,#2267ac 50.5px,#4191c2 73.5px,#68b0d2 101.5px,#a2cde2 202.5px,#a3cee3 206.5px,#9bcae1 208.5px,#85bfda 211.5px,#80bcd9 215.5px,#7bbad8 561px)"></div>
<div style="height:2px;background:linear-gradient(90deg,#69001f 0px,#69001f 4.5px,#053061 5.5px,#053162 33.5px,#0c3d73 40.5px,#2267ad 50.5px,#4191c2 73.5px,#68b0d2 101.5px,#a2cde3 202.5px,#a3cde3 206.5px,#9ac9e0 208.5px,#84beda 211.5px,#80bcd9 216.5px,#7bbad8 561px)"></div>
<div style="height:2px;background:linear-gradient(90deg,#69001f 0px,#69001f 4.5px,#053061 5.5px,#053162 33.5px,#0c3d73 40.5px,#2064a9 49.5px,#4191c2 73.5px,#68b0d2 101.5px,#a2cde3 202.5px,#a2cde3 206.5px,#98c8e0 208.5px,#84beda 211.5px,#80bcd9 218.5px,#7bbad8 561px)"></div>
<div style="height:2px;background:linear-gradient(90deg,#69001f 0px,#69001f 4.5px,#053061 5.5px,#053162 33.5px,#0c3d74 40.5px,#2064aa 49.5px,#4190c1 72.5px,#62acd0 96.5px,#87c0db 158.5px,#a3cee3 205.5px,#9ecbe1 207.5px,#83beda 211.5px,#80bcd9 224.5px,#7bbad8 561px)"></div>
<div style="height:2px;background:linear-gradient(90deg,#69001f 0px,#69001f 4.5px,#053061 5.5px,#063162 33.5px,#0c3e74 40.5px,#2065aa 49.5px,#4190c1 72.5px,#68b0d2 101.5px,#a2cde3 202.5px,#a1cde2 206.5px,#83bdda 211.5px,#80bcd9 244.5px,#7bbad8 561px)"></div>
<div style="height:2px;background:linear-gradient(90deg,#69001f 0px,#69001f 4.5px,#053061 5.5px,#063162 33.5px,#0c3e74 40.5px,#2065aa 49.5px,#4190c1 72.5px,#68b0d2 101.5px,#a2cde3 202.5px,#a1cde2 206.5px,#86bfdb 210.5px,#80bcd9 214.5px,#7bbad8 561px)"></div>
<div style="height:2px;background:linear-gradient(90deg,#69001f 0px,#69001f 4.5px,#053061 5.5px,#063163 33.5px,#0c3e74 40.5px,#2065aa 49.5px,#4190c1 72.5px,#68b0d2 101.5px,#a2cde3 202.5px,#a0cce2 206.5px,#85beda 210.5px,#80bcd9 215.5px,#7bbad8 561px)"></div>
<div style="height:2px;background:linear-gradient(90deg,#69001f 0px,#69001f 4.5px,#053061 5.5px,#063163 33.5px,#0a3a70 39.5px,#2065ab 49.5px,#4190c2 72.5px,#68b0d2 101.5px,#a2cde2 201.5px,#a2cde3 205.5px,#99c9e0 207.5px,#84beda 210.5px,#80bcd9 216.5px,#7bbad8 561px)"></div>
<div style="height:2px;background:linear-gradient(90deg,#69001f 0px,#69001f 4.5px,#053061 5.5px,#063163 33.5px,#0a3b70 39.5px,#2165ab 49.5px,#4190c2 72.5px,#68b0d2 101.5px,#a2cde3 201.5px,#a2cde3 205.5px,#98c8e0 207.5px,#84beda 210.5px,#80bcd9 218.5px,#7bbad8 561px)"></div>
<div style="height:2px;background:linear-gradient(90deg,#69001f 0px,#69001f 4.5px,#053061 5.5px,#063163 33.5px,#0a3b70 39.5px,#2165ab 49.5px,#4190c2 72.5px,#68b0d2 101.5px,#a2cde3 201.5px,#a2cde2 205.5px,#96c7df 207.5px,#83beda 210.5px,#80bcd9 224.5px,#7bbad8 561px)"></div>
<div style="height:2px;background:linear-gradient(90deg,#69001f 0px,#69001f 4.5px,#053061 5.5px,#063163 33.5px,#0b3b70 39.5px,#2166ab 49.5px,#4190c2 72.5px,#68b0d2 101.5px,#a2cde3 201.5px,#a1cde2 205.5px,#83bdda 210.5px,#80bcd9 249.5px,#7bbad8 561px)"></div>
<div style="height:2px;background:linear-gradient(90deg,#69001f 0px,#69001f 4.5px,#053061 5.5px,#063163 33.5px,#0b3b70 39.5px,#2166ac 49.5px,#4190c2 72.5px,#68b0d2 101.5px,#a2cde3 201.5px,#a0cce2 205.5px,#86bfdb 209.5px,#80bcd9 213.5px,#7bbad8 561px)"></div>
<div style="height:2px;background:linear-gradient(90deg,#69001f 0px,#69001f 3.5px,#053061 4.5px,#063163 33.5px,#0b3b70 39.5px,#2166ac 49.5px,#4190c2 72.5px,#68b0d2 101.5px,#a2cde3 201.5px,#a0cce2 205.5px,#85beda 209.5px,#80bcd9 214.5px,#7bbad8 561px)"></div>
<div style="height:2px;background:linear-gradient(90deg,#69001f 0px,#69001f 3.5px,#053061 4.5px,#063263 33.5px,#0b3b70 39.5px,#2166ac 49.5px,#4190c2 72.5px,#68b0d2 101.5px,#a3cde3 201.5px,#9fcce2 205.5px,#84beda 209.5px,#80bcd9 215.5px,#7bbad8 561px)"></div>
<div style="height:2px;background:linear-gradient(90deg,#69001f 0px,#69001f 3.5px,#053061 4.5px,#063263 33.5px,#0b3b70 39.5px,#2166ac 49.5px,#4190c2 72.5px,#68b0d3 101.5px,#a2cde3 200.5px,#a2cde3 204.5px,#98c8e0 206.5px,#84beda 209.5px,#80bcd9 218.5px,#7bbad8 561px)"></div>
<div style="height:2px;background:linear-gradient(90deg,#69001f 0px,#69001f 3.5px,#053061 4.5px,#063263 33.5px,#0b3b71 39.5px,#2166ac 49.5px,#4190c2 72.5px,#68b0d3 101.5px,#a2cde3 200.5px,#a1cde2 204.5px,#8ec3dd 207.5px,#81bdd9 210.5px,#7bbad8 561px)"></div>
<div style="height:2px;background:linear-gradient(90deg,#69001f 0px,#69001f 3.5px,#053061 4.5px,#063263 33.5px,#0b3b71 39.5px,#2166ac 49.5px,#4190c2 72.5px,#68b0d3 101.5px,#a2cde3 200.5px,#a1cde2 204.5px,#83bdda 209.5px,#80bcd9 245.5px,#7bbad8 561px)"></div>
<div style="height:2px;background:linear-gradient(90deg,#69001f 0px,#69001f 3.5px,#053061 4.5px,#063263 33.5px,#0b3c71 39.5px,#2166ac 49.5px,#4190c2 72.5px,#68b0d3 101.5px,#a2cde3 200.5px,#a0cce2 204.5px,#86bfdb 208.5px,#80bcd9 212.5px,#7bbad8 561px)"></div>
<div style="height:2px;background:linear-gradient(90deg,#69001f 0px,#69001f 3.5px,#053061 4.5px,#063264 33.5px,#0b3c71 39.5px,#2166ac 49.5px,#4190c2 72.5px,#68b0d3 101.5px,#a2cde3 200.5px,#a0cce2 204.5px,#85beda 208.5px,#80bcd9 213.5px,#7bbad8 561px)"></div>
<div style="height:2px;background:linear-gradient(90deg,#69001f 0px,#69001f 3.5px,#053061 4.5px,#063264 33.5px,#0b3c71 39.5px,#2166ac 49.5px,#4190c2 72.5px,#68b0d3 101.5px,#a2cde3 203.5px,#99c8e0 205.5px,#84beda 208.5px,#80bcd9 214.5px,#7bbad8 561px)"></div>
<div style="height:2px;background:linear-gradient(90deg,#69001f 0px,#69001f 3.5px,#053061 4.5px,#053062 32.5px,#0b3c72 39.5px,#2167ac 49.5px,#4191c2 72.5px,#68b0d3 101.5px,#a3cee3 202.5px,#9ecbe1 204.5px,#84beda 208.5px,#80bcd9 217.5px,#7bbad8 561px)"></div>
<div style="height:2px;background:linear-gradient(90deg,#69001f 0px,#69001f 3.5px,#053061 4.5px,#053062 32.5px,#0b3c72 39.5px,#2167ac 49.5px,#4191c2 72.5px,#67b0d2 100.5px,#a3cee3 202.5px,#9dcbe1 204.5px,#83beda 208.5px,#80bcd9 221.5px,#7bbad8 561px)"></div>
<div style="height:2px;background:linear-gradient(90deg,#69001f 0px,#69001f 3.5px,#053061 4.5px,#053162 32.5px,#0b3c72 39.5px,#2267ac 49.5px,#4191c2 72.5px,#67b0d2 100.5px,#a3cee3 202.5px,#9ccae1 204.5px,#87bfdb 207.5px,#80bcd9 211.5px,#7bbad8 561px)"></div>
<div style="height:2px;background:linear-gradient(90deg,#69001f 0px,#69001f 3.5px,#053061 4.5px,#053162 32.5px,#0c3d72 39.5px,#2267ac 49.5px,#4191c2 72.5px,#67b0d2 100.5px,#a3cde3 202.5px,#9bcae1 204.5px,#86bfdb 207.5px,#80bcd9 211.5px,#7bbad8 561px)"></div>
<div style="height:2px;background:linear-gradient(90deg,#69001f 0px,#69001f 3.5px,#053061 4.5px,#053162 32.5px,#0c3d73 39.5px,#2267ac 49.5px,#4191c2 72.5px,#67b0d2 100.5px,#a2cde3 202.5px,#9ac9e0 204.5px,#85bfdb 207.5px,#80bcd9 212.5px,#7bbad8 561px)"></div>
<div style="height:2px;background:linear-gradient(90deg,#69001f 0px,#69001f 3.5px,#053061 4.5px,#053162 32.5px,#0c3d73 39.5px,#2267ac 49.5px,#4191c2 72.5px,#68b0d2 100.5px,#a2cde3 202.5px,#99c9e0 204.5px,#85beda 207.5px,#80bcd9 213.5px,#7bbad8 561px)"></div>
<div style="height:2px;background:linear-gradient(90deg,#69001f 0px,#69001f 3.5px,#053061 4.5px,#053162 32.5px,#0c3d73 39.5px,#2267ad 49.5px,#4191c2 72.5px,#68b0d2 100.5px,#a2cde2 202.5px,#90c4dd 205.5px,#84beda 207.5px,#80bcd9 215.5px,#7bbad8 561px)"></div>
<div style="height:2px;background:linear-gradient(90deg,#69001f 0px,#69001f 3.5px,#053061 4.5px,#053162 32.5px,#0c3d73 39.5px,#2064a9 48.5px,#4191c2 72.5px,#68b0d2 100.5px,#a3cee3 201.5px,#9ecbe1 203.5px,#84beda 207.5px,#80bcd9 218.5px,#7bbad8 561px)"></div>
<div style="height:2px;background:linear-gradient(90deg,#69001f 0px,#69001f 3.5px,#053061 4.5px,#053162 32.5px,#0c3d74 39.5px,#2064aa 48.5px,#4191c2 72.5px,#68b0d2 100.5px,#a3cee3 201.5px,#9dcae1 203.5px,#87c0db 206.5px,#80bcd9 210.5px,#7bbad8 561px)"></div>
<div style="height:2px;background:linear-gradient(90deg,#69001f 0px,#69001f 3.5px,#053061 4.5px,#063162 32.5px,#0c3e74 39.5px,#2064aa 48.5px,#4190c1 71.5px,#64add1 96.5px,#a3cde3 201.5px,#9ccae1 203.5px,#86bfdb 206.5px,#80bcd9 210.5px,#7bbad8 561px)"></div>
<div style="height:2px;background:linear-gradient(90deg,#69001f 0px,#69001f 3.5px,#053061 4.5px,#063162 32.5px,#0c3e74 39.5px,#2065aa 48.5px,#4190c1 71.5px,#68b0d2 100.5px,#a2cde3 201.5px,#9bc9e0 203.5px,#86bfdb 206.5px,#80bcd9 211.5px,#7bbad8 561px)"></div>
<div style="height:2px;background:linear-gradient(90deg,#69001f 0px,#69001f 3.5px,#053061 4.5px,#063163 32.5px,#0c3e74 39.5px,#2065aa 48.5px,#4190c1 71.5px,#68b0d2 100.5px,#a2cde3 201.5px,#92c5de 204.5px,#85bfdb 206.5px,#80bcd9 211.5px,#7bbad8 561px)"></div>
<div style="height:2px;background:linear-gradient(90deg,#69001f 0px,#69001f 3.5px,#053061 4.5px,#063163 32.5px,#0a3a6f 38.5px,#2065ab 48.5px,#4190c1 71.5px,#68b0d2 100.5px,#a2cde3 198.5px,#9fcbe2 202.5px,#85beda 206.5px,#80bcd9 212.5px,#7bbad8 561px)"></div>
<div style="height:2px;background:linear-gradient(90deg,#69001f 0px,#69001f 3.5px,#053061 4.5px,#063163 32.5px,#0a3a70 38.5px,#2165ab 48.5px,#4190c2 71.5px,#68b0d2 100.5px,#a2cde2 197.5px,#a2cde2 201.5px,#90c4dd 204.5px,#82bdda 207.5px,#7bbad8 561px)"></div>
<div style="height:1px;background:linear-gradient(90deg,#69001f 0px,#69001f 3.5px,#053061 4.5px,#063163 32.5px,#0a3b70 38.5px,#2165ab 48.5px,#4190c2 71.5px,#68b0d2 100.5px,#a2cde2 197.5px,#a1cde2 201.5px,#8fc3dd 204.5px,#82bdda 207.5px,#7bbad8 561px)"></div>
</div>
<svg class="ov" width="2114" height="1070" viewBox="0 0 2114 1070"><defs><linearGradient id="cba" x1="0" x2="1" y1="0" y2="0"><stop offset="0.000" stop-color="rgb(5,48,97)"/><stop offset="0.100" stop-color="rgb(33,102,172)"/><stop offset="0.200" stop-color="rgb(67,147,195)"/><stop offset="0.245" stop-color="rgb(102,175,210)"/><stop offset="0.300" stop-color="rgb(146,197,222)"/><stop offset="0.400" stop-color="rgb(209,229,240)"/><stop offset="0.500" stop-color="rgb(247,247,247)"/><stop offset="0.600" stop-color="rgb(253,219,199)"/><stop offset="0.700" stop-color="rgb(244,165,130)"/><stop offset="0.800" stop-color="rgb(214,96,77)"/><stop offset="0.900" stop-color="rgb(178,24,43)"/><stop offset="1.000" stop-color="rgb(103,0,31)"/></linearGradient><linearGradient id="cbb" x1="0" x2="1" y1="0" y2="0"><stop offset="0.000" stop-color="rgb(5,48,97)"/><stop offset="0.100" stop-color="rgb(33,102,172)"/><stop offset="0.200" stop-color="rgb(67,147,195)"/><stop offset="0.245" stop-color="rgb(102,175,210)"/><stop offset="0.300" stop-color="rgb(146,197,222)"/><stop offset="0.400" stop-color="rgb(209,229,240)"/><stop offset="0.500" stop-color="rgb(247,247,247)"/><stop offset="0.600" stop-color="rgb(253,219,199)"/><stop offset="0.700" stop-color="rgb(244,165,130)"/><stop offset="0.800" stop-color="rgb(214,96,77)"/><stop offset="0.900" stop-color="rgb(178,24,43)"/><stop offset="1.000" stop-color="rgb(103,0,31)"/></linearGradient></defs><style>
.tk{font:35.3px 'Liberation Sans', Arial, Helvetica, sans-serif;fill:#000;stroke:#000;stroke-width:0.5px}
.al{font:43px 'Liberation Sans', Arial, Helvetica, sans-serif;fill:#000;stroke:#000;stroke-width:0.5px}
.sub{font-size:30px}
.pl{font:bold 60px 'Liberation Sans', Arial, Helvetica, sans-serif;fill:#000}
.cb{font:27px 'Liberation Sans', Arial, Helvetica, sans-serif;fill:#000;stroke:#000;stroke-width:0.4px}
.cl{font:39px 'Liberation Sans', Arial, Helvetica, sans-serif;fill:#000;stroke:#000;stroke-width:0.4px}
.cs{font:29.5px 'Liberation Sans', Arial, Helvetica, sans-serif;fill:#000;stroke:#000;stroke-width:0.4px}
.an{font:44px 'Liberation Sans', Arial, Helvetica, sans-serif;fill:#000;stroke:#000;stroke-width:0.6px}
.w{fill:#fff;stroke:#fff;stroke-width:1.3px}
</style><polyline fill="none" stroke="#c2b4d4" stroke-width="2.4" points="1552.51,95.0 1552.52,99.0 1552.54,103.0 1552.55,107.0 1552.57,111.0 1552.58,115.0 1552.60,119.0 1552.61,123.0 1552.63,127.0 1552.65,131.0 1552.66,135.0 1552.68,139.0 1552.70,143.0 1552.72,147.0 1552.74,151.0 1552.75,155.0 1552.77,159.0 1552.79,163.0 1552.81,167.0 1552.83,171.0 1552.85,175.0 1552.87,179.0 1552.89,183.0 1552.92,187.0 1552.94,191.0 1552.96,195.0 1552.98,199.0 1553.00,203.0 1553.02,207.0 1553.05,211.0 1553.07,215.0 1553.09,219.0 1553.12,223.0 1553.14,227.0 1553.16,231.0 1553.19,235.0 1553.21,239.0 1553.24,243.0 1553.26,247.0 1553.29,251.0 1553.31,255.0 1553.34,259.0 1553.36,263.0 1553.39,267.0 1553.41,271.0 1553.44,275.0 1553.46,279.0 1553.49,283.0 1553.51,287.0 1553.54,291.0 1553.57,295.0 1553.59,299.0 1553.62,303.0 1553.65,307.0 1553.67,311.0 1553.70,315.0 1553.73,319.0 1553.76,323.0 1553.79,327.0 1553.82,331.0 1553.85,335.0 1553.88,339.0 1553.91,343.0 1553.94,347.0 1553.97,351.0 1554.00,355.0 1554.03,359.0 1554.07,363.0 1554.10,367.0 1554.13,371.0 1554.17,375.0 1554.20,379.0 1554.24,383.0 1554.28,387.0 1554.31,391.0 1554.35,395.0 1554.39,399.0 1554.43,403.0 1554.47,407.0 1554.51,411.0 1554.55,415.0 1554.59,419.0 1554.63,423.0 1554.68,427.0 1554.74,431.0 1554.80,435.0 1554.87,439.0 1554.94,443.0 1555.01,447.0 1555.08,451.0 1555.16,455.0 1555.23,459.0 1555.31,463.0 1555.38,467.0 1555.45,471.0 1555.51,475.0 1555.57,479.0 1555.63,483.0 1555.68,487.0 1555.72,491.0 1555.75,495.0 1555.78,499.0 1555.79,503.0 1555.80,507.0 1555.80,511.0 1555.78,515.0 1555.76,519.0 1555.74,523.0 1555.70,527.0 1555.66,531.0 1555.62,535.0 1555.57,539.0 1555.51,543.0 1555.45,547.0 1555.39,551.0 1555.33,555.0 1555.26,559.0 1555.19,563.0 1555.12,567.0 1555.06,571.0 1554.99,575.0 1554.92,579.0 1554.85,583.0 1554.79,587.0 1554.73,591.0 1554.67,595.0 1554.61,599.0 1554.56,603.0 1554.51,607.0 1554.46,611.0 1554.41,615.0 1554.36,619.0 1554.31,623.0 1554.25,627.0 1554.20,631.0 1554.15,635.0 1554.10,639.0 1554.05,643.0 1554.00,647.0 1553.95,651.0 1553.90,655.0 1553.85,659.0 1553.80,663.0 1553.74,667.0 1553.69,671.0 1553.64,675.0 1553.59,679.0 1553.53,683.0 1553.48,687.0 1553.42,691.0 1553.37,695.0 1553.31,699.0 1553.26,703.0 1553.20,707.0 1553.15,711.0 1553.09,715.0 1553.03,719.0 1552.98,723.0 1552.92,727.0 1552.86,731.0 1552.80,735.0 1552.74,739.0 1552.68,743.0 1552.62,747.0 1552.57,751.0 1552.51,755.0 1552.44,759.0 1552.38,763.0 1552.32,767.0 1552.26,771.0 1552.20,775.0 1552.14,779.0 1552.07,783.0 1552.01,787.0 1551.95,791.0 1551.88,795.0 1551.82,799.0 1551.75,803.0 1551.69,807.0 1551.62,811.0 1551.55,815.0 1551.48,819.0 1551.42,823.0 1551.35,827.0 1551.28,831.0 1551.21,835.0 1551.14,839.0 1551.07,843.0 1551.00,847.0 1550.93,851.0 1550.86,855.0 1550.79,859.0 1550.72,863.0 1550.64,867.0 1550.57,871.0 1550.50,875.0 1550.42,879.0 1550.35,883.0 1550.27,887.0 1550.20,891.0 1550.12,895.0 1550.05,899.0 1549.97,903.0 1549.89,907.0 1549.82,911.0 1549.74,915.0 1549.66,919.0 1549.63,920.3"/><line x1="136.50" y1="921.80" x2="136.50" y2="937.30" stroke="#000" stroke-width="3" /><text x="136.5" y="977" class="tk" text-anchor="middle">1.60</text><line x1="208.50" y1="921.80" x2="208.50" y2="930.30" stroke="#000" stroke-width="3" /><line x1="280.50" y1="921.80" x2="280.50" y2="937.30" stroke="#000" stroke-width="3" /><text x="280.5" y="977" class="tk" text-anchor="middle">1.65</text><line x1="352.50" y1="921.80" x2="352.50" y2="930.30" stroke="#000" stroke-width="3" /><line x1="424.50" y1="921.80" x2="424.50" y2="937.30" stroke="#000" stroke-width="3" /><text x="424.5" y="977" class="tk" text-anchor="middle">1.70</text><line x1="496.50" y1="921.80" x2="496.50" y2="930.30" stroke="#000" stroke-width="3" /><line x1="568.50" y1="921.80" x2="568.50" y2="937.30" stroke="#000" stroke-width="3" /><text x="568.5" y="977" class="tk" text-anchor="middle">1.75</text><line x1="640.50" y1="921.80" x2="640.50" y2="930.30" stroke="#000" stroke-width="3" /><line x1="712.50" y1="921.80" x2="712.50" y2="937.30" stroke="#000" stroke-width="3" /><text x="712.5" y="977" class="tk" text-anchor="middle">1.80</text><line x1="784.50" y1="921.80" x2="784.50" y2="930.30" stroke="#000" stroke-width="3" /><line x1="856.50" y1="921.80" x2="856.50" y2="937.30" stroke="#000" stroke-width="3" /><text x="856.5" y="977" class="tk" text-anchor="middle">1.85</text><line x1="928.50" y1="921.80" x2="928.50" y2="930.30" stroke="#000" stroke-width="3" /><line x1="1000.50" y1="921.80" x2="1000.50" y2="937.30" stroke="#000" stroke-width="3" /><text x="1000.5" y="977" class="tk" text-anchor="middle">1.90</text><line x1="119.50" y1="300.40" x2="136.50" y2="300.40" stroke="#000" stroke-width="3" /><text x="108.7" y="310.4" class="tk" text-anchor="end">5</text><line x1="119.50" y1="559.40" x2="136.50" y2="559.40" stroke="#000" stroke-width="3" /><text x="108.7" y="569.4" class="tk" text-anchor="end">0</text><line x1="119.50" y1="818.40" x2="136.50" y2="818.40" stroke="#000" stroke-width="3" /><text x="108.7" y="828.4" class="tk" text-anchor="end">-5</text><line x1="128.00" y1="170.90" x2="136.50" y2="170.90" stroke="#000" stroke-width="3" /><line x1="128.00" y1="429.90" x2="136.50" y2="429.90" stroke="#000" stroke-width="3" /><line x1="128.00" y1="688.90" x2="136.50" y2="688.90" stroke="#000" stroke-width="3" /><line x1="1245.50" y1="921.80" x2="1245.50" y2="937.30" stroke="#000" stroke-width="3" /><text x="1245.5" y="977" class="tk" text-anchor="middle">1.60</text><line x1="1311.75" y1="921.80" x2="1311.75" y2="930.30" stroke="#000" stroke-width="3" /><line x1="1378.00" y1="921.80" x2="1378.00" y2="937.30" stroke="#000" stroke-width="3" /><text x="1378.0" y="977" class="tk" text-anchor="middle">1.65</text><line x1="1444.25" y1="921.80" x2="1444.25" y2="930.30" stroke="#000" stroke-width="3" /><line x1="1510.50" y1="921.80" x2="1510.50" y2="937.30" stroke="#000" stroke-width="3" /><text x="1510.5" y="977" class="tk" text-anchor="middle">1.70</text><line x1="1576.75" y1="921.80" x2="1576.75" y2="930.30" stroke="#000" stroke-width="3" /><line x1="1643.00" y1="921.80" x2="1643.00" y2="937.30" stroke="#000" stroke-width="3" /><text x="1643.0" y="977" class="tk" text-anchor="middle">1.75</text><line x1="1709.25" y1="921.80" x2="1709.25" y2="930.30" stroke="#000" stroke-width="3" /><line x1="1775.50" y1="921.80" x2="1775.50" y2="937.30" stroke="#000" stroke-width="3" /><text x="1775.5" y="977" class="tk" text-anchor="middle">1.80</text><line x1="1841.75" y1="921.80" x2="1841.75" y2="930.30" stroke="#000" stroke-width="3" /><line x1="1908.00" y1="921.80" x2="1908.00" y2="937.30" stroke="#000" stroke-width="3" /><text x="1908.0" y="977" class="tk" text-anchor="middle">1.85</text><line x1="1974.25" y1="921.80" x2="1974.25" y2="930.30" stroke="#000" stroke-width="3" /><line x1="2040.50" y1="921.80" x2="2040.50" y2="937.30" stroke="#000" stroke-width="3" /><text x="2040.5" y="977" class="tk" text-anchor="middle">1.90</text><line x1="2106.75" y1="921.80" x2="2106.75" y2="930.30" stroke="#000" stroke-width="3" /><line x1="1228.70" y1="93.50" x2="1245.70" y2="93.50" stroke="#000" stroke-width="3" /><text x="1218.5" y="103.5" class="tk" text-anchor="end">10</text><line x1="1228.70" y1="300.50" x2="1245.70" y2="300.50" stroke="#000" stroke-width="3" /><text x="1218.5" y="310.5" class="tk" text-anchor="end">5</text><line x1="1228.70" y1="507.50" x2="1245.70" y2="507.50" stroke="#000" stroke-width="3" /><text x="1218.5" y="517.5" class="tk" text-anchor="end">0</text><line x1="1228.70" y1="714.50" x2="1245.70" y2="714.50" stroke="#000" stroke-width="3" /><text x="1218.5" y="724.5" class="tk" text-anchor="end">-5</text><line x1="1228.70" y1="921.50" x2="1245.70" y2="921.50" stroke="#000" stroke-width="3" /><text x="1218.5" y="931.5" class="tk" text-anchor="end">-10</text><line x1="1237.20" y1="197.00" x2="1245.70" y2="197.00" stroke="#000" stroke-width="3" /><line x1="1237.20" y1="404.00" x2="1245.70" y2="404.00" stroke="#000" stroke-width="3" /><line x1="1237.20" y1="611.00" x2="1245.70" y2="611.00" stroke="#000" stroke-width="3" /><line x1="1237.20" y1="818.00" x2="1245.70" y2="818.00" stroke="#000" stroke-width="3" /><rect x="136.5" y="93.5" width="863.70" height="828.30" fill="none" stroke="#000" stroke-width="3"/><rect x="1245.7" y="93.5" width="863.10" height="828.30" fill="none" stroke="#000" stroke-width="3"/><text x="568" y="1043" class="al" text-anchor="middle">Energy (eV)</text><text x="1677" y="1043" class="al" text-anchor="middle">Energy (eV)</text><text transform="translate(42,507) rotate(-90)" class="al" text-anchor="middle" style="font-size:43px">V<tspan class="sub" dy="12">g</tspan><tspan dy="-12"> (V)</tspan></text><text transform="translate(1130,505) rotate(-90)" class="al" text-anchor="middle" style="font-size:41px"><tspan font-style="italic">V</tspan><tspan class="sub" dy="12">g</tspan><tspan dy="-12"> (V)</tspan></text><text transform="translate(17.5,55) scale(0.86,1)" class="pl" style="font-size:64px">a</text><text transform="translate(1092,54) scale(1.05,1)" class="pl" style="font-size:57px">b</text><rect x="725.2" y="43.2" width="273.5999999999999" height="33.8" fill="url(#cba)" stroke="#000" stroke-width="2.2"/><text x="754" y="31.5" class="cb" text-anchor="middle">-0.37</text><text x="861" y="31.5" class="cb" text-anchor="middle">0.67</text><text x="968" y="31.5" class="cb" text-anchor="middle">1.71</text><text x="598" y="65.6" class="cl" letter-spacing="2.3">ΔR/R</text><text x="697.6" y="77.7" class="cs">0</text><rect x="1835.2" y="43.2" width="273.60000000000014" height="33.8" fill="url(#cbb)" stroke="#000" stroke-width="2.2"/><text x="1864" y="31.5" class="cb" text-anchor="middle">-0.13</text><text x="1971" y="31.5" class="cb" text-anchor="middle">0.15</text><text x="2078" y="31.5" class="cb" text-anchor="middle">0.42</text><text x="1702" y="65.6" class="cl" letter-spacing="2.3">ΔR/R</text><text x="1801.6" y="77.7" class="cs">0</text><text x="277" y="334" class="an">Charged excitons</text><text x="314" y="795" class="an">Charged excitons</text><text x="516.5" y="535" class="an w" style="font-size:45px">1s</text><text x="869" y="532.3" class="an w" style="font-size:46.5px">2s</text><line x1="138.50" y1="544.50" x2="998.70" y2="544.50" stroke="#fff" stroke-width="3.7" stroke-dasharray="13 9"/><line x1="138.50" y1="570.80" x2="998.70" y2="570.80" stroke="#fff" stroke-width="3.7" stroke-dasharray="13 9"/></svg>
</body></html>
